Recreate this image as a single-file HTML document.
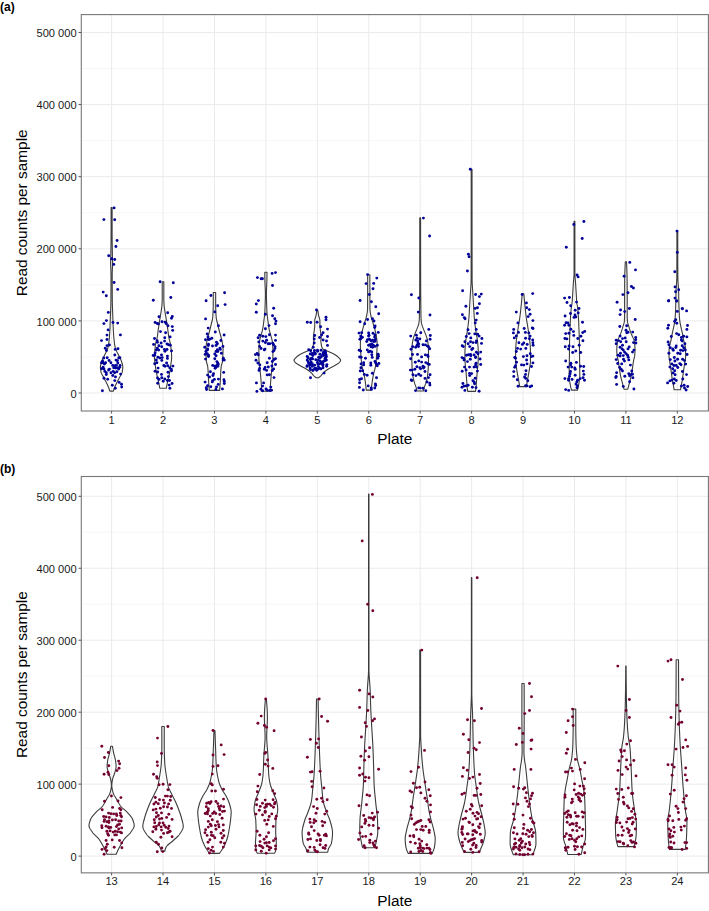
<!DOCTYPE html><html><head><meta charset="utf-8"><style>html,body{margin:0;padding:0;background:#fff;}svg{display:block;}text{font-family:"Liberation Sans",sans-serif;}</style></head><body>
<svg width="709" height="911" viewBox="0 0 709 911">
<rect width="709" height="911" fill="#fff"/>
<line x1="81.3" x2="708.4" y1="356.95" y2="356.95" stroke="#f5f5f5" stroke-width="0.8"/>
<line x1="81.3" x2="708.4" y1="284.85" y2="284.85" stroke="#f5f5f5" stroke-width="0.8"/>
<line x1="81.3" x2="708.4" y1="212.75" y2="212.75" stroke="#f5f5f5" stroke-width="0.8"/>
<line x1="81.3" x2="708.4" y1="140.65" y2="140.65" stroke="#f5f5f5" stroke-width="0.8"/>
<line x1="81.3" x2="708.4" y1="68.55" y2="68.55" stroke="#f5f5f5" stroke-width="0.8"/>
<line x1="81.3" x2="708.4" y1="393.00" y2="393.00" stroke="#ebebeb" stroke-width="1"/>
<line x1="81.3" x2="708.4" y1="320.90" y2="320.90" stroke="#ebebeb" stroke-width="1"/>
<line x1="81.3" x2="708.4" y1="248.80" y2="248.80" stroke="#ebebeb" stroke-width="1"/>
<line x1="81.3" x2="708.4" y1="176.70" y2="176.70" stroke="#ebebeb" stroke-width="1"/>
<line x1="81.3" x2="708.4" y1="104.60" y2="104.60" stroke="#ebebeb" stroke-width="1"/>
<line x1="81.3" x2="708.4" y1="32.50" y2="32.50" stroke="#ebebeb" stroke-width="1"/>
<line x1="111.60" x2="111.60" y1="14.6" y2="411.0" stroke="#ebebeb" stroke-width="1"/>
<line x1="163.03" x2="163.03" y1="14.6" y2="411.0" stroke="#ebebeb" stroke-width="1"/>
<line x1="214.46" x2="214.46" y1="14.6" y2="411.0" stroke="#ebebeb" stroke-width="1"/>
<line x1="265.89" x2="265.89" y1="14.6" y2="411.0" stroke="#ebebeb" stroke-width="1"/>
<line x1="317.32" x2="317.32" y1="14.6" y2="411.0" stroke="#ebebeb" stroke-width="1"/>
<line x1="368.75" x2="368.75" y1="14.6" y2="411.0" stroke="#ebebeb" stroke-width="1"/>
<line x1="420.18" x2="420.18" y1="14.6" y2="411.0" stroke="#ebebeb" stroke-width="1"/>
<line x1="471.61" x2="471.61" y1="14.6" y2="411.0" stroke="#ebebeb" stroke-width="1"/>
<line x1="523.04" x2="523.04" y1="14.6" y2="411.0" stroke="#ebebeb" stroke-width="1"/>
<line x1="574.47" x2="574.47" y1="14.6" y2="411.0" stroke="#ebebeb" stroke-width="1"/>
<line x1="625.90" x2="625.90" y1="14.6" y2="411.0" stroke="#ebebeb" stroke-width="1"/>
<line x1="677.33" x2="677.33" y1="14.6" y2="411.0" stroke="#ebebeb" stroke-width="1"/>
<path d="M111.10,207.50 L111.10,208.00 L111.10,208.50 L111.10,209.00 L111.10,209.50 L111.10,210.00 L111.10,210.50 L111.10,211.00 L111.10,211.50 L111.10,212.00 L111.10,212.50 L111.10,213.00 L111.10,213.50 L111.10,214.00 L111.10,214.50 L111.10,215.00 L111.10,215.50 L111.10,216.00 L111.10,216.50 L111.10,217.00 L111.10,217.50 L111.10,218.00 L111.10,218.50 L111.10,219.00 L111.10,219.50 L111.10,220.00 L111.10,220.50 L111.10,221.00 L111.10,221.50 L111.10,222.00 L111.10,222.50 L111.10,223.00 L111.10,223.50 L111.10,224.00 L111.10,224.50 L111.10,225.00 L111.10,225.50 L111.10,226.00 L111.10,226.50 L111.10,227.00 L111.10,227.50 L111.10,228.00 L111.10,228.50 L111.10,229.00 L111.10,229.50 L111.10,230.00 L111.10,230.50 L111.10,231.00 L111.10,231.50 L111.10,232.00 L111.10,232.50 L111.09,233.00 L111.09,233.50 L111.09,234.00 L111.09,234.50 L111.08,235.00 L111.08,235.50 L111.08,236.00 L111.07,236.50 L111.07,237.00 L111.06,237.50 L111.06,238.00 L111.05,238.50 L111.05,239.00 L111.04,239.50 L111.04,240.00 L111.03,240.50 L111.03,241.00 L111.02,241.50 L111.01,242.00 L111.01,242.50 L111.00,243.00 L110.99,243.50 L110.99,244.00 L110.98,244.50 L110.97,245.00 L110.96,245.50 L110.96,246.00 L110.95,246.50 L110.94,247.00 L110.93,247.50 L110.92,248.00 L110.92,248.50 L110.91,249.00 L110.90,249.50 L110.89,250.00 L110.88,250.50 L110.87,251.00 L110.86,251.50 L110.85,252.00 L110.85,252.50 L110.84,253.00 L110.83,253.50 L110.82,254.00 L110.81,254.50 L110.80,255.00 L110.79,255.50 L110.78,256.00 L110.76,256.50 L110.74,257.00 L110.72,257.50 L110.70,258.00 L110.68,258.50 L110.67,259.00 L110.65,259.50 L110.63,260.00 L110.62,260.50 L110.61,261.00 L110.60,261.50 L110.60,262.00 L110.60,262.50 L110.61,263.00 L110.61,263.50 L110.63,264.00 L110.64,264.50 L110.65,265.00 L110.67,265.50 L110.69,266.00 L110.71,266.50 L110.73,267.00 L110.75,267.50 L110.78,268.00 L110.80,268.50 L110.82,269.00 L110.85,269.50 L110.87,270.00 L110.89,270.50 L110.91,271.00 L110.93,271.50 L110.95,272.00 L110.96,272.50 L110.97,273.00 L110.99,273.50 L110.99,274.00 L111.00,274.50 L111.00,275.00 L111.00,275.50 L111.00,276.00 L111.00,276.50 L111.00,277.00 L111.00,277.50 L111.00,278.00 L111.00,278.50 L111.00,279.00 L111.00,279.50 L111.00,280.00 L110.99,280.50 L110.99,281.00 L110.99,281.50 L110.99,282.00 L110.99,282.50 L110.99,283.00 L110.99,283.50 L110.99,284.00 L110.98,284.50 L110.98,285.00 L110.98,285.50 L110.98,286.00 L110.98,286.50 L110.98,287.00 L110.97,287.50 L110.97,288.00 L110.97,288.50 L110.97,289.00 L110.96,289.50 L110.96,290.00 L110.96,290.50 L110.96,291.00 L110.95,291.50 L110.95,292.00 L110.95,292.50 L110.95,293.00 L110.94,293.50 L110.94,294.00 L110.94,294.50 L110.93,295.00 L110.93,295.50 L110.93,296.00 L110.92,296.50 L110.92,297.00 L110.92,297.50 L110.91,298.00 L110.91,298.50 L110.91,299.00 L110.90,299.50 L110.90,300.00 L110.90,300.50 L110.89,301.00 L110.88,301.50 L110.88,302.00 L110.87,302.50 L110.86,303.00 L110.85,303.50 L110.84,304.00 L110.82,304.50 L110.81,305.00 L110.80,305.50 L110.78,306.00 L110.77,306.50 L110.75,307.00 L110.73,307.50 L110.72,308.00 L110.70,308.50 L110.68,309.00 L110.66,309.50 L110.64,310.00 L110.63,310.50 L110.61,311.00 L110.59,311.50 L110.57,312.00 L110.55,312.50 L110.53,313.00 L110.51,313.50 L110.49,314.00 L110.47,314.50 L110.45,315.00 L110.44,315.50 L110.42,316.00 L110.40,316.50 L110.38,317.00 L110.36,317.50 L110.35,318.00 L110.33,318.50 L110.31,319.00 L110.30,319.50 L110.28,320.00 L110.26,320.50 L110.24,321.00 L110.22,321.50 L110.21,322.00 L110.19,322.50 L110.17,323.00 L110.15,323.50 L110.13,324.00 L110.11,324.50 L110.09,325.00 L110.07,325.50 L110.05,326.00 L110.03,326.50 L110.01,327.00 L109.99,327.50 L109.96,328.00 L109.94,328.50 L109.91,329.00 L109.89,329.50 L109.86,330.00 L109.84,330.50 L109.81,331.00 L109.78,331.50 L109.75,332.00 L109.72,332.50 L109.69,333.00 L109.66,333.50 L109.63,334.00 L109.60,334.50 L109.56,335.00 L109.53,335.50 L109.49,336.00 L109.45,336.50 L109.41,337.00 L109.37,337.50 L109.33,338.00 L109.28,338.50 L109.23,339.00 L109.18,339.50 L109.13,340.00 L109.08,340.50 L109.02,341.00 L108.97,341.50 L108.91,342.00 L108.84,342.50 L108.78,343.00 L108.71,343.50 L108.64,344.00 L108.56,344.50 L108.48,345.00 L108.40,345.50 L108.32,346.00 L108.22,346.50 L108.11,347.00 L107.97,347.50 L107.82,348.00 L107.65,348.50 L107.47,349.00 L107.29,349.50 L107.09,350.00 L106.90,350.50 L106.69,351.00 L106.46,351.50 L106.21,352.00 L105.96,352.50 L105.69,353.00 L105.42,353.50 L105.15,354.00 L104.90,354.50 L104.65,355.00 L104.41,355.50 L104.16,356.00 L103.91,356.50 L103.66,357.00 L103.41,357.50 L103.16,358.00 L102.92,358.50 L102.68,359.00 L102.46,359.50 L102.24,360.00 L102.05,360.50 L101.86,361.00 L101.70,361.50 L101.54,362.00 L101.38,362.50 L101.22,363.00 L101.06,363.50 L100.91,364.00 L100.77,364.50 L100.65,365.00 L100.55,365.50 L100.47,366.00 L100.42,366.50 L100.40,367.00 L100.41,367.50 L100.44,368.00 L100.48,368.50 L100.53,369.00 L100.59,369.50 L100.67,370.00 L100.75,370.50 L100.83,371.00 L100.92,371.50 L101.03,372.00 L101.18,372.50 L101.36,373.00 L101.56,373.50 L101.79,374.00 L102.03,374.50 L102.29,375.00 L102.57,375.50 L102.85,376.00 L103.14,376.50 L103.42,377.00 L103.71,377.50 L103.98,378.00 L104.25,378.50 L104.50,379.00 L104.75,379.50 L105.00,380.00 L105.26,380.50 L105.52,381.00 L105.78,381.50 L106.04,382.00 L106.30,382.50 L106.56,383.00 L106.81,383.50 L107.06,384.00 L107.30,384.50 L107.53,385.00 L107.76,385.50 L107.97,386.00 L108.18,386.50 L108.39,387.00 L108.59,387.50 L108.79,388.00 L108.98,388.50 L109.17,389.00 L109.35,389.50 L109.53,390.00 L109.70,390.50 L109.87,391.00 L109.90,391.10 L113.30,391.10 L113.33,391.00 L113.50,390.50 L113.67,390.00 L113.85,389.50 L114.03,389.00 L114.22,388.50 L114.41,388.00 L114.61,387.50 L114.81,387.00 L115.02,386.50 L115.23,386.00 L115.44,385.50 L115.67,385.00 L115.90,384.50 L116.14,384.00 L116.39,383.50 L116.64,383.00 L116.90,382.50 L117.16,382.00 L117.42,381.50 L117.68,381.00 L117.94,380.50 L118.20,380.00 L118.45,379.50 L118.70,379.00 L118.95,378.50 L119.22,378.00 L119.49,377.50 L119.78,377.00 L120.06,376.50 L120.35,376.00 L120.63,375.50 L120.91,375.00 L121.17,374.50 L121.41,374.00 L121.64,373.50 L121.84,373.00 L122.02,372.50 L122.17,372.00 L122.28,371.50 L122.37,371.00 L122.45,370.50 L122.53,370.00 L122.61,369.50 L122.67,369.00 L122.72,368.50 L122.76,368.00 L122.79,367.50 L122.80,367.00 L122.78,366.50 L122.73,366.00 L122.65,365.50 L122.55,365.00 L122.43,364.50 L122.29,364.00 L122.14,363.50 L121.98,363.00 L121.82,362.50 L121.66,362.00 L121.50,361.50 L121.34,361.00 L121.15,360.50 L120.96,360.00 L120.74,359.50 L120.52,359.00 L120.28,358.50 L120.04,358.00 L119.79,357.50 L119.54,357.00 L119.29,356.50 L119.04,356.00 L118.79,355.50 L118.55,355.00 L118.30,354.50 L118.05,354.00 L117.78,353.50 L117.51,353.00 L117.24,352.50 L116.99,352.00 L116.74,351.50 L116.51,351.00 L116.30,350.50 L116.11,350.00 L115.91,349.50 L115.73,349.00 L115.55,348.50 L115.38,348.00 L115.23,347.50 L115.09,347.00 L114.98,346.50 L114.88,346.00 L114.80,345.50 L114.72,345.00 L114.64,344.50 L114.56,344.00 L114.49,343.50 L114.42,343.00 L114.36,342.50 L114.29,342.00 L114.23,341.50 L114.18,341.00 L114.12,340.50 L114.07,340.00 L114.02,339.50 L113.97,339.00 L113.92,338.50 L113.87,338.00 L113.83,337.50 L113.79,337.00 L113.75,336.50 L113.71,336.00 L113.67,335.50 L113.64,335.00 L113.60,334.50 L113.57,334.00 L113.54,333.50 L113.51,333.00 L113.48,332.50 L113.45,332.00 L113.42,331.50 L113.39,331.00 L113.36,330.50 L113.34,330.00 L113.31,329.50 L113.29,329.00 L113.26,328.50 L113.24,328.00 L113.21,327.50 L113.19,327.00 L113.17,326.50 L113.15,326.00 L113.13,325.50 L113.11,325.00 L113.09,324.50 L113.07,324.00 L113.05,323.50 L113.03,323.00 L113.01,322.50 L112.99,322.00 L112.98,321.50 L112.96,321.00 L112.94,320.50 L112.92,320.00 L112.90,319.50 L112.89,319.00 L112.87,318.50 L112.85,318.00 L112.84,317.50 L112.82,317.00 L112.80,316.50 L112.78,316.00 L112.76,315.50 L112.75,315.00 L112.73,314.50 L112.71,314.00 L112.69,313.50 L112.67,313.00 L112.65,312.50 L112.63,312.00 L112.61,311.50 L112.59,311.00 L112.57,310.50 L112.56,310.00 L112.54,309.50 L112.52,309.00 L112.50,308.50 L112.48,308.00 L112.47,307.50 L112.45,307.00 L112.43,306.50 L112.42,306.00 L112.40,305.50 L112.39,305.00 L112.38,304.50 L112.36,304.00 L112.35,303.50 L112.34,303.00 L112.33,302.50 L112.32,302.00 L112.32,301.50 L112.31,301.00 L112.30,300.50 L112.30,300.00 L112.30,299.50 L112.29,299.00 L112.29,298.50 L112.29,298.00 L112.28,297.50 L112.28,297.00 L112.28,296.50 L112.27,296.00 L112.27,295.50 L112.27,295.00 L112.26,294.50 L112.26,294.00 L112.26,293.50 L112.25,293.00 L112.25,292.50 L112.25,292.00 L112.25,291.50 L112.24,291.00 L112.24,290.50 L112.24,290.00 L112.24,289.50 L112.23,289.00 L112.23,288.50 L112.23,288.00 L112.23,287.50 L112.22,287.00 L112.22,286.50 L112.22,286.00 L112.22,285.50 L112.22,285.00 L112.22,284.50 L112.21,284.00 L112.21,283.50 L112.21,283.00 L112.21,282.50 L112.21,282.00 L112.21,281.50 L112.21,281.00 L112.21,280.50 L112.20,280.00 L112.20,279.50 L112.20,279.00 L112.20,278.50 L112.20,278.00 L112.20,277.50 L112.20,277.00 L112.20,276.50 L112.20,276.00 L112.20,275.50 L112.20,275.00 L112.20,274.50 L112.21,274.00 L112.21,273.50 L112.23,273.00 L112.24,272.50 L112.25,272.00 L112.27,271.50 L112.29,271.00 L112.31,270.50 L112.33,270.00 L112.35,269.50 L112.38,269.00 L112.40,268.50 L112.42,268.00 L112.45,267.50 L112.47,267.00 L112.49,266.50 L112.51,266.00 L112.53,265.50 L112.55,265.00 L112.56,264.50 L112.57,264.00 L112.59,263.50 L112.59,263.00 L112.60,262.50 L112.60,262.00 L112.60,261.50 L112.59,261.00 L112.58,260.50 L112.57,260.00 L112.55,259.50 L112.53,259.00 L112.52,258.50 L112.50,258.00 L112.48,257.50 L112.46,257.00 L112.44,256.50 L112.42,256.00 L112.41,255.50 L112.40,255.00 L112.39,254.50 L112.38,254.00 L112.37,253.50 L112.36,253.00 L112.35,252.50 L112.35,252.00 L112.34,251.50 L112.33,251.00 L112.32,250.50 L112.31,250.00 L112.30,249.50 L112.29,249.00 L112.28,248.50 L112.28,248.00 L112.27,247.50 L112.26,247.00 L112.25,246.50 L112.24,246.00 L112.24,245.50 L112.23,245.00 L112.22,244.50 L112.21,244.00 L112.21,243.50 L112.20,243.00 L112.19,242.50 L112.19,242.00 L112.18,241.50 L112.17,241.00 L112.17,240.50 L112.16,240.00 L112.16,239.50 L112.15,239.00 L112.15,238.50 L112.14,238.00 L112.14,237.50 L112.13,237.00 L112.13,236.50 L112.12,236.00 L112.12,235.50 L112.12,235.00 L112.11,234.50 L112.11,234.00 L112.11,233.50 L112.11,233.00 L112.10,232.50 L112.10,232.00 L112.10,231.50 L112.10,231.00 L112.10,230.50 L112.10,230.00 L112.10,229.50 L112.10,229.00 L112.10,228.50 L112.10,228.00 L112.10,227.50 L112.10,227.00 L112.10,226.50 L112.10,226.00 L112.10,225.50 L112.10,225.00 L112.10,224.50 L112.10,224.00 L112.10,223.50 L112.10,223.00 L112.10,222.50 L112.10,222.00 L112.10,221.50 L112.10,221.00 L112.10,220.50 L112.10,220.00 L112.10,219.50 L112.10,219.00 L112.10,218.50 L112.10,218.00 L112.10,217.50 L112.10,217.00 L112.10,216.50 L112.10,216.00 L112.10,215.50 L112.10,215.00 L112.10,214.50 L112.10,214.00 L112.10,213.50 L112.10,213.00 L112.10,212.50 L112.10,212.00 L112.10,211.50 L112.10,211.00 L112.10,210.50 L112.10,210.00 L112.10,209.50 L112.10,209.00 L112.10,208.50 L112.10,208.00 L112.10,207.50 Z" fill="none" stroke="#3c3c3c" stroke-width="1.1" stroke-linejoin="round"/>
<path d="M162.23,281.70 L162.23,282.20 L162.23,282.70 L162.23,283.20 L162.23,283.70 L162.23,284.20 L162.23,284.70 L162.23,285.20 L162.23,285.70 L162.23,286.20 L162.23,286.70 L162.23,287.20 L162.23,287.70 L162.23,288.20 L162.23,288.70 L162.23,289.20 L162.23,289.70 L162.23,290.20 L162.23,290.70 L162.23,291.20 L162.23,291.70 L162.23,292.20 L162.23,292.70 L162.23,293.20 L162.23,293.70 L162.23,294.20 L162.23,294.70 L162.23,295.20 L162.23,295.70 L162.23,296.20 L162.23,296.70 L162.23,297.20 L162.23,297.70 L162.23,298.20 L162.23,298.70 L162.22,299.20 L162.21,299.70 L162.20,300.20 L162.18,300.70 L162.17,301.20 L162.15,301.70 L162.13,302.20 L162.11,302.70 L162.08,303.20 L162.06,303.70 L162.03,304.20 L162.01,304.70 L161.97,305.20 L161.93,305.70 L161.88,306.20 L161.82,306.70 L161.76,307.20 L161.70,307.70 L161.63,308.20 L161.56,308.70 L161.49,309.20 L161.42,309.70 L161.34,310.20 L161.27,310.70 L161.20,311.20 L161.13,311.70 L161.05,312.20 L160.97,312.70 L160.88,313.20 L160.80,313.70 L160.71,314.20 L160.62,314.70 L160.53,315.20 L160.44,315.70 L160.35,316.20 L160.26,316.70 L160.18,317.20 L160.10,317.70 L160.02,318.20 L159.93,318.70 L159.85,319.20 L159.77,319.70 L159.69,320.20 L159.61,320.70 L159.53,321.20 L159.45,321.70 L159.37,322.20 L159.29,322.70 L159.22,323.20 L159.14,323.70 L159.06,324.20 L158.99,324.70 L158.92,325.20 L158.84,325.70 L158.77,326.20 L158.70,326.70 L158.62,327.20 L158.55,327.70 L158.48,328.20 L158.41,328.70 L158.34,329.20 L158.27,329.70 L158.20,330.20 L158.13,330.70 L158.06,331.20 L158.00,331.70 L157.93,332.20 L157.87,332.70 L157.80,333.20 L157.74,333.70 L157.68,334.20 L157.61,334.70 L157.55,335.20 L157.48,335.70 L157.40,336.20 L157.33,336.70 L157.25,337.20 L157.16,337.70 L157.06,338.20 L156.95,338.70 L156.83,339.20 L156.71,339.70 L156.58,340.20 L156.45,340.70 L156.32,341.20 L156.19,341.70 L156.06,342.20 L155.93,342.70 L155.81,343.20 L155.69,343.70 L155.59,344.20 L155.49,344.70 L155.41,345.20 L155.34,345.70 L155.28,346.20 L155.23,346.70 L155.17,347.20 L155.11,347.70 L155.06,348.20 L155.00,348.70 L154.95,349.20 L154.90,349.70 L154.85,350.20 L154.80,350.70 L154.75,351.20 L154.71,351.70 L154.67,352.20 L154.63,352.70 L154.59,353.20 L154.56,353.70 L154.53,354.20 L154.50,354.70 L154.48,355.20 L154.46,355.70 L154.45,356.20 L154.44,356.70 L154.43,357.20 L154.43,357.70 L154.44,358.20 L154.47,358.70 L154.50,359.20 L154.55,359.70 L154.61,360.20 L154.67,360.70 L154.74,361.20 L154.81,361.70 L154.88,362.20 L154.95,362.70 L155.02,363.20 L155.09,363.70 L155.15,364.20 L155.22,364.70 L155.28,365.20 L155.34,365.70 L155.40,366.20 L155.47,366.70 L155.54,367.20 L155.60,367.70 L155.67,368.20 L155.74,368.70 L155.81,369.20 L155.89,369.70 L155.97,370.20 L156.05,370.70 L156.13,371.20 L156.21,371.70 L156.30,372.20 L156.40,372.70 L156.50,373.20 L156.61,373.70 L156.72,374.20 L156.84,374.70 L156.95,375.20 L157.08,375.70 L157.20,376.20 L157.32,376.70 L157.44,377.20 L157.57,377.70 L157.69,378.20 L157.80,378.70 L157.92,379.20 L158.03,379.70 L158.14,380.20 L158.25,380.70 L158.35,381.20 L158.46,381.70 L158.57,382.20 L158.67,382.70 L158.78,383.20 L158.88,383.70 L158.98,384.20 L159.08,384.70 L159.18,385.20 L159.28,385.70 L159.37,386.20 L159.47,386.70 L159.56,387.20 L159.64,387.70 L159.73,388.20 L166.33,388.20 L166.42,387.70 L166.50,387.20 L166.59,386.70 L166.69,386.20 L166.78,385.70 L166.88,385.20 L166.98,384.70 L167.08,384.20 L167.18,383.70 L167.28,383.20 L167.39,382.70 L167.49,382.20 L167.60,381.70 L167.71,381.20 L167.81,380.70 L167.92,380.20 L168.03,379.70 L168.14,379.20 L168.26,378.70 L168.37,378.20 L168.49,377.70 L168.62,377.20 L168.74,376.70 L168.86,376.20 L168.98,375.70 L169.11,375.20 L169.22,374.70 L169.34,374.20 L169.45,373.70 L169.56,373.20 L169.66,372.70 L169.76,372.20 L169.85,371.70 L169.93,371.20 L170.01,370.70 L170.09,370.20 L170.17,369.70 L170.25,369.20 L170.32,368.70 L170.39,368.20 L170.46,367.70 L170.52,367.20 L170.59,366.70 L170.66,366.20 L170.72,365.70 L170.78,365.20 L170.84,364.70 L170.91,364.20 L170.97,363.70 L171.04,363.20 L171.11,362.70 L171.18,362.20 L171.25,361.70 L171.32,361.20 L171.39,360.70 L171.45,360.20 L171.51,359.70 L171.56,359.20 L171.59,358.70 L171.62,358.20 L171.63,357.70 L171.63,357.20 L171.62,356.70 L171.61,356.20 L171.60,355.70 L171.58,355.20 L171.56,354.70 L171.53,354.20 L171.50,353.70 L171.47,353.20 L171.43,352.70 L171.39,352.20 L171.35,351.70 L171.31,351.20 L171.26,350.70 L171.21,350.20 L171.16,349.70 L171.11,349.20 L171.06,348.70 L171.00,348.20 L170.95,347.70 L170.89,347.20 L170.83,346.70 L170.78,346.20 L170.72,345.70 L170.65,345.20 L170.57,344.70 L170.47,344.20 L170.37,343.70 L170.25,343.20 L170.13,342.70 L170.00,342.20 L169.87,341.70 L169.74,341.20 L169.61,340.70 L169.48,340.20 L169.35,339.70 L169.23,339.20 L169.11,338.70 L169.00,338.20 L168.90,337.70 L168.81,337.20 L168.73,336.70 L168.66,336.20 L168.58,335.70 L168.51,335.20 L168.45,334.70 L168.38,334.20 L168.32,333.70 L168.26,333.20 L168.19,332.70 L168.13,332.20 L168.06,331.70 L168.00,331.20 L167.93,330.70 L167.86,330.20 L167.79,329.70 L167.72,329.20 L167.65,328.70 L167.58,328.20 L167.51,327.70 L167.44,327.20 L167.36,326.70 L167.29,326.20 L167.22,325.70 L167.14,325.20 L167.07,324.70 L167.00,324.20 L166.92,323.70 L166.84,323.20 L166.77,322.70 L166.69,322.20 L166.61,321.70 L166.53,321.20 L166.45,320.70 L166.37,320.20 L166.29,319.70 L166.21,319.20 L166.13,318.70 L166.04,318.20 L165.96,317.70 L165.88,317.20 L165.80,316.70 L165.71,316.20 L165.62,315.70 L165.53,315.20 L165.44,314.70 L165.35,314.20 L165.26,313.70 L165.18,313.20 L165.09,312.70 L165.01,312.20 L164.93,311.70 L164.86,311.20 L164.79,310.70 L164.72,310.20 L164.64,309.70 L164.57,309.20 L164.50,308.70 L164.43,308.20 L164.36,307.70 L164.30,307.20 L164.24,306.70 L164.18,306.20 L164.13,305.70 L164.09,305.20 L164.05,304.70 L164.03,304.20 L164.00,303.70 L163.98,303.20 L163.95,302.70 L163.93,302.20 L163.91,301.70 L163.89,301.20 L163.88,300.70 L163.86,300.20 L163.85,299.70 L163.84,299.20 L163.83,298.70 L163.83,298.20 L163.83,297.70 L163.83,297.20 L163.83,296.70 L163.83,296.20 L163.83,295.70 L163.83,295.20 L163.83,294.70 L163.83,294.20 L163.83,293.70 L163.83,293.20 L163.83,292.70 L163.83,292.20 L163.83,291.70 L163.83,291.20 L163.83,290.70 L163.83,290.20 L163.83,289.70 L163.83,289.20 L163.83,288.70 L163.83,288.20 L163.83,287.70 L163.83,287.20 L163.83,286.70 L163.83,286.20 L163.83,285.70 L163.83,285.20 L163.83,284.70 L163.83,284.20 L163.83,283.70 L163.83,283.20 L163.83,282.70 L163.83,282.20 L163.83,281.70 Z" fill="none" stroke="#3c3c3c" stroke-width="1.1" stroke-linejoin="round"/>
<path d="M213.26,292.50 L213.26,293.00 L213.26,293.50 L213.26,294.00 L213.26,294.50 L213.26,295.00 L213.26,295.50 L213.26,296.00 L213.26,296.50 L213.26,297.00 L213.26,297.50 L213.26,298.00 L213.26,298.50 L213.26,299.00 L213.26,299.50 L213.26,300.00 L213.26,300.50 L213.26,301.00 L213.26,301.50 L213.26,302.00 L213.26,302.50 L213.26,303.00 L213.26,303.50 L213.26,304.00 L213.26,304.50 L213.26,305.00 L213.26,305.50 L213.25,306.00 L213.25,306.50 L213.24,307.00 L213.22,307.50 L213.21,308.00 L213.20,308.50 L213.18,309.00 L213.16,309.50 L213.14,310.00 L213.12,310.50 L213.10,311.00 L213.08,311.50 L213.06,312.00 L213.04,312.50 L213.02,313.00 L212.99,313.50 L212.97,314.00 L212.94,314.50 L212.91,315.00 L212.87,315.50 L212.84,316.00 L212.80,316.50 L212.76,317.00 L212.71,317.50 L212.66,318.00 L212.60,318.50 L212.52,319.00 L212.43,319.50 L212.32,320.00 L212.21,320.50 L212.08,321.00 L211.95,321.50 L211.82,322.00 L211.68,322.50 L211.55,323.00 L211.41,323.50 L211.28,324.00 L211.16,324.50 L211.04,325.00 L210.92,325.50 L210.81,326.00 L210.69,326.50 L210.57,327.00 L210.45,327.50 L210.33,328.00 L210.21,328.50 L210.09,329.00 L209.96,329.50 L209.84,330.00 L209.71,330.50 L209.59,331.00 L209.46,331.50 L209.32,332.00 L209.18,332.50 L209.04,333.00 L208.90,333.50 L208.76,334.00 L208.62,334.50 L208.47,335.00 L208.33,335.50 L208.20,336.00 L208.06,336.50 L207.93,337.00 L207.81,337.50 L207.69,338.00 L207.57,338.50 L207.45,339.00 L207.33,339.50 L207.21,340.00 L207.09,340.50 L206.98,341.00 L206.87,341.50 L206.76,342.00 L206.66,342.50 L206.57,343.00 L206.48,343.50 L206.40,344.00 L206.33,344.50 L206.26,345.00 L206.18,345.50 L206.11,346.00 L206.04,346.50 L205.98,347.00 L205.93,347.50 L205.89,348.00 L205.87,348.50 L205.86,349.00 L205.86,349.50 L205.87,350.00 L205.88,350.50 L205.89,351.00 L205.91,351.50 L205.93,352.00 L205.95,352.50 L205.97,353.00 L205.99,353.50 L206.02,354.00 L206.04,354.50 L206.06,355.00 L206.08,355.50 L206.10,356.00 L206.12,356.50 L206.15,357.00 L206.17,357.50 L206.19,358.00 L206.22,358.50 L206.25,359.00 L206.28,359.50 L206.32,360.00 L206.36,360.50 L206.40,361.00 L206.45,361.50 L206.52,362.00 L206.62,362.50 L206.76,363.00 L206.91,363.50 L207.08,364.00 L207.24,364.50 L207.39,365.00 L207.53,365.50 L207.63,366.00 L207.70,366.50 L207.76,367.00 L207.81,367.50 L207.87,368.00 L207.91,368.50 L207.96,369.00 L208.00,369.50 L208.03,370.00 L208.07,370.50 L208.10,371.00 L208.13,371.50 L208.16,372.00 L208.19,372.50 L208.21,373.00 L208.24,373.50 L208.26,374.00 L208.28,374.50 L208.30,375.00 L208.32,375.50 L208.33,376.00 L208.35,376.50 L208.37,377.00 L208.39,377.50 L208.42,378.00 L208.44,378.50 L208.47,379.00 L208.49,379.50 L208.52,380.00 L208.56,380.50 L208.59,381.00 L208.62,381.50 L208.66,382.00 L208.70,382.50 L208.73,383.00 L208.77,383.50 L208.81,384.00 L208.85,384.50 L208.89,385.00 L208.92,385.50 L208.96,386.00 L209.00,386.50 L209.03,387.00 L209.07,387.50 L209.10,388.00 L209.13,388.50 L209.17,389.00 L209.20,389.50 L209.23,390.00 L209.26,390.40 L219.66,390.40 L219.69,390.00 L219.72,389.50 L219.75,389.00 L219.79,388.50 L219.82,388.00 L219.85,387.50 L219.89,387.00 L219.92,386.50 L219.96,386.00 L220.00,385.50 L220.03,385.00 L220.07,384.50 L220.11,384.00 L220.15,383.50 L220.19,383.00 L220.22,382.50 L220.26,382.00 L220.30,381.50 L220.33,381.00 L220.36,380.50 L220.40,380.00 L220.43,379.50 L220.45,379.00 L220.48,378.50 L220.50,378.00 L220.53,377.50 L220.55,377.00 L220.57,376.50 L220.59,376.00 L220.60,375.50 L220.62,375.00 L220.64,374.50 L220.66,374.00 L220.68,373.50 L220.71,373.00 L220.73,372.50 L220.76,372.00 L220.79,371.50 L220.82,371.00 L220.85,370.50 L220.89,370.00 L220.92,369.50 L220.96,369.00 L221.01,368.50 L221.05,368.00 L221.11,367.50 L221.16,367.00 L221.22,366.50 L221.29,366.00 L221.39,365.50 L221.53,365.00 L221.68,364.50 L221.84,364.00 L222.01,363.50 L222.16,363.00 L222.30,362.50 L222.40,362.00 L222.47,361.50 L222.52,361.00 L222.56,360.50 L222.60,360.00 L222.64,359.50 L222.67,359.00 L222.70,358.50 L222.73,358.00 L222.75,357.50 L222.77,357.00 L222.80,356.50 L222.82,356.00 L222.84,355.50 L222.86,355.00 L222.88,354.50 L222.90,354.00 L222.93,353.50 L222.95,353.00 L222.97,352.50 L222.99,352.00 L223.01,351.50 L223.03,351.00 L223.04,350.50 L223.05,350.00 L223.06,349.50 L223.06,349.00 L223.05,348.50 L223.03,348.00 L222.99,347.50 L222.94,347.00 L222.88,346.50 L222.81,346.00 L222.74,345.50 L222.66,345.00 L222.59,344.50 L222.52,344.00 L222.44,343.50 L222.35,343.00 L222.26,342.50 L222.16,342.00 L222.05,341.50 L221.94,341.00 L221.83,340.50 L221.71,340.00 L221.59,339.50 L221.47,339.00 L221.35,338.50 L221.23,338.00 L221.11,337.50 L220.99,337.00 L220.86,336.50 L220.72,336.00 L220.59,335.50 L220.45,335.00 L220.30,334.50 L220.16,334.00 L220.02,333.50 L219.88,333.00 L219.74,332.50 L219.60,332.00 L219.46,331.50 L219.33,331.00 L219.21,330.50 L219.08,330.00 L218.96,329.50 L218.83,329.00 L218.71,328.50 L218.59,328.00 L218.47,327.50 L218.35,327.00 L218.23,326.50 L218.11,326.00 L218.00,325.50 L217.88,325.00 L217.76,324.50 L217.64,324.00 L217.51,323.50 L217.37,323.00 L217.24,322.50 L217.10,322.00 L216.97,321.50 L216.84,321.00 L216.71,320.50 L216.60,320.00 L216.49,319.50 L216.40,319.00 L216.32,318.50 L216.26,318.00 L216.21,317.50 L216.16,317.00 L216.12,316.50 L216.08,316.00 L216.05,315.50 L216.01,315.00 L215.98,314.50 L215.95,314.00 L215.93,313.50 L215.90,313.00 L215.88,312.50 L215.86,312.00 L215.84,311.50 L215.82,311.00 L215.80,310.50 L215.78,310.00 L215.76,309.50 L215.74,309.00 L215.72,308.50 L215.71,308.00 L215.70,307.50 L215.68,307.00 L215.67,306.50 L215.67,306.00 L215.66,305.50 L215.66,305.00 L215.66,304.50 L215.66,304.00 L215.66,303.50 L215.66,303.00 L215.66,302.50 L215.66,302.00 L215.66,301.50 L215.66,301.00 L215.66,300.50 L215.66,300.00 L215.66,299.50 L215.66,299.00 L215.66,298.50 L215.66,298.00 L215.66,297.50 L215.66,297.00 L215.66,296.50 L215.66,296.00 L215.66,295.50 L215.66,295.00 L215.66,294.50 L215.66,294.00 L215.66,293.50 L215.66,293.00 L215.66,292.50 Z" fill="none" stroke="#3c3c3c" stroke-width="1.1" stroke-linejoin="round"/>
<path d="M264.79,272.30 L264.79,272.80 L264.80,273.30 L264.80,273.80 L264.81,274.30 L264.81,274.80 L264.82,275.30 L264.82,275.80 L264.83,276.30 L264.84,276.80 L264.84,277.30 L264.85,277.80 L264.86,278.30 L264.87,278.80 L264.88,279.30 L264.89,279.80 L264.90,280.30 L264.91,280.80 L264.92,281.30 L264.94,281.80 L264.95,282.30 L264.97,282.80 L264.99,283.30 L265.01,283.80 L265.04,284.30 L265.06,284.80 L265.08,285.30 L265.11,285.80 L265.13,286.30 L265.16,286.80 L265.18,287.30 L265.20,287.80 L265.23,288.30 L265.25,288.80 L265.27,289.30 L265.29,289.80 L265.31,290.30 L265.33,290.80 L265.34,291.30 L265.36,291.80 L265.37,292.30 L265.38,292.80 L265.38,293.30 L265.39,293.80 L265.39,294.30 L265.39,294.80 L265.39,295.30 L265.38,295.80 L265.37,296.30 L265.36,296.80 L265.35,297.30 L265.34,297.80 L265.33,298.30 L265.32,298.80 L265.30,299.30 L265.29,299.80 L265.27,300.30 L265.26,300.80 L265.24,301.30 L265.23,301.80 L265.21,302.30 L265.20,302.80 L265.18,303.30 L265.17,303.80 L265.15,304.30 L265.14,304.80 L265.12,305.30 L265.10,305.80 L265.09,306.30 L265.07,306.80 L265.05,307.30 L265.03,307.80 L265.01,308.30 L264.99,308.80 L264.97,309.30 L264.95,309.80 L264.93,310.30 L264.90,310.80 L264.87,311.30 L264.85,311.80 L264.82,312.30 L264.78,312.80 L264.74,313.30 L264.70,313.80 L264.65,314.30 L264.60,314.80 L264.55,315.30 L264.49,315.80 L264.43,316.30 L264.37,316.80 L264.31,317.30 L264.25,317.80 L264.18,318.30 L264.12,318.80 L264.06,319.30 L263.99,319.80 L263.93,320.30 L263.86,320.80 L263.80,321.30 L263.74,321.80 L263.68,322.30 L263.61,322.80 L263.55,323.30 L263.48,323.80 L263.41,324.30 L263.35,324.80 L263.28,325.30 L263.20,325.80 L263.13,326.30 L263.05,326.80 L262.97,327.30 L262.88,327.80 L262.80,328.30 L262.70,328.80 L262.61,329.30 L262.51,329.80 L262.39,330.30 L262.26,330.80 L262.12,331.30 L261.98,331.80 L261.83,332.30 L261.70,332.80 L261.56,333.30 L261.43,333.80 L261.29,334.30 L261.15,334.80 L261.01,335.30 L260.86,335.80 L260.71,336.30 L260.57,336.80 L260.43,337.30 L260.29,337.80 L260.15,338.30 L260.03,338.80 L259.91,339.30 L259.80,339.80 L259.70,340.30 L259.61,340.80 L259.54,341.30 L259.48,341.80 L259.42,342.30 L259.37,342.80 L259.32,343.30 L259.27,343.80 L259.22,344.30 L259.17,344.80 L259.13,345.30 L259.09,345.80 L259.05,346.30 L259.01,346.80 L258.98,347.30 L258.95,347.80 L258.93,348.30 L258.91,348.80 L258.90,349.30 L258.89,349.80 L258.89,350.30 L258.89,350.80 L258.89,351.30 L258.89,351.80 L258.89,352.30 L258.89,352.80 L258.89,353.30 L258.89,353.80 L258.89,354.30 L258.89,354.80 L258.89,355.30 L258.89,355.80 L258.89,356.30 L258.89,356.80 L258.89,357.30 L258.89,357.80 L258.89,358.30 L258.89,358.80 L258.91,359.30 L258.95,359.80 L259.00,360.30 L259.07,360.80 L259.14,361.30 L259.21,361.80 L259.28,362.30 L259.35,362.80 L259.40,363.30 L259.45,363.80 L259.50,364.30 L259.55,364.80 L259.60,365.30 L259.64,365.80 L259.69,366.30 L259.74,366.80 L259.78,367.30 L259.83,367.80 L259.88,368.30 L259.92,368.80 L259.97,369.30 L260.01,369.80 L260.06,370.30 L260.11,370.80 L260.15,371.30 L260.20,371.80 L260.25,372.30 L260.30,372.80 L260.35,373.30 L260.40,373.80 L260.45,374.30 L260.50,374.80 L260.55,375.30 L260.60,375.80 L260.65,376.30 L260.70,376.80 L260.74,377.30 L260.79,377.80 L260.84,378.30 L260.88,378.80 L260.92,379.30 L260.96,379.80 L261.00,380.30 L261.04,380.80 L261.07,381.30 L261.11,381.80 L261.15,382.30 L261.19,382.80 L261.23,383.30 L261.27,383.80 L261.31,384.30 L261.34,384.80 L261.38,385.30 L261.41,385.80 L261.43,386.30 L261.45,386.80 L261.47,387.30 L261.48,387.80 L261.49,388.30 L261.49,388.80 L261.47,389.30 L261.43,389.80 L261.39,390.30 L261.33,390.80 L261.29,391.20 L270.49,391.20 L270.45,390.80 L270.39,390.30 L270.35,389.80 L270.31,389.30 L270.29,388.80 L270.29,388.30 L270.30,387.80 L270.31,387.30 L270.33,386.80 L270.35,386.30 L270.37,385.80 L270.40,385.30 L270.44,384.80 L270.47,384.30 L270.51,383.80 L270.55,383.30 L270.59,382.80 L270.63,382.30 L270.67,381.80 L270.71,381.30 L270.74,380.80 L270.78,380.30 L270.82,379.80 L270.86,379.30 L270.90,378.80 L270.94,378.30 L270.99,377.80 L271.04,377.30 L271.08,376.80 L271.13,376.30 L271.18,375.80 L271.23,375.30 L271.28,374.80 L271.33,374.30 L271.38,373.80 L271.43,373.30 L271.48,372.80 L271.53,372.30 L271.58,371.80 L271.63,371.30 L271.67,370.80 L271.72,370.30 L271.77,369.80 L271.81,369.30 L271.86,368.80 L271.90,368.30 L271.95,367.80 L272.00,367.30 L272.04,366.80 L272.09,366.30 L272.14,365.80 L272.18,365.30 L272.23,364.80 L272.28,364.30 L272.33,363.80 L272.38,363.30 L272.43,362.80 L272.50,362.30 L272.57,361.80 L272.64,361.30 L272.71,360.80 L272.78,360.30 L272.83,359.80 L272.87,359.30 L272.89,358.80 L272.89,358.30 L272.89,357.80 L272.89,357.30 L272.89,356.80 L272.89,356.30 L272.89,355.80 L272.89,355.30 L272.89,354.80 L272.89,354.30 L272.89,353.80 L272.89,353.30 L272.89,352.80 L272.89,352.30 L272.89,351.80 L272.89,351.30 L272.89,350.80 L272.89,350.30 L272.89,349.80 L272.88,349.30 L272.87,348.80 L272.85,348.30 L272.83,347.80 L272.80,347.30 L272.77,346.80 L272.73,346.30 L272.69,345.80 L272.65,345.30 L272.61,344.80 L272.56,344.30 L272.51,343.80 L272.46,343.30 L272.41,342.80 L272.36,342.30 L272.30,341.80 L272.24,341.30 L272.17,340.80 L272.08,340.30 L271.98,339.80 L271.87,339.30 L271.75,338.80 L271.63,338.30 L271.49,337.80 L271.35,337.30 L271.21,336.80 L271.07,336.30 L270.92,335.80 L270.77,335.30 L270.63,334.80 L270.49,334.30 L270.35,333.80 L270.22,333.30 L270.08,332.80 L269.95,332.30 L269.80,331.80 L269.66,331.30 L269.52,330.80 L269.39,330.30 L269.27,329.80 L269.17,329.30 L269.08,328.80 L268.98,328.30 L268.90,327.80 L268.81,327.30 L268.73,326.80 L268.65,326.30 L268.58,325.80 L268.50,325.30 L268.43,324.80 L268.37,324.30 L268.30,323.80 L268.23,323.30 L268.17,322.80 L268.10,322.30 L268.04,321.80 L267.98,321.30 L267.92,320.80 L267.85,320.30 L267.79,319.80 L267.72,319.30 L267.66,318.80 L267.60,318.30 L267.53,317.80 L267.47,317.30 L267.41,316.80 L267.35,316.30 L267.29,315.80 L267.23,315.30 L267.18,314.80 L267.13,314.30 L267.08,313.80 L267.04,313.30 L267.00,312.80 L266.96,312.30 L266.93,311.80 L266.91,311.30 L266.88,310.80 L266.85,310.30 L266.83,309.80 L266.81,309.30 L266.79,308.80 L266.77,308.30 L266.75,307.80 L266.73,307.30 L266.71,306.80 L266.69,306.30 L266.68,305.80 L266.66,305.30 L266.64,304.80 L266.63,304.30 L266.61,303.80 L266.60,303.30 L266.58,302.80 L266.57,302.30 L266.55,301.80 L266.54,301.30 L266.52,300.80 L266.51,300.30 L266.49,299.80 L266.48,299.30 L266.46,298.80 L266.45,298.30 L266.44,297.80 L266.43,297.30 L266.42,296.80 L266.41,296.30 L266.40,295.80 L266.39,295.30 L266.39,294.80 L266.39,294.30 L266.39,293.80 L266.40,293.30 L266.40,292.80 L266.41,292.30 L266.42,291.80 L266.44,291.30 L266.45,290.80 L266.47,290.30 L266.49,289.80 L266.51,289.30 L266.53,288.80 L266.55,288.30 L266.58,287.80 L266.60,287.30 L266.62,286.80 L266.65,286.30 L266.67,285.80 L266.70,285.30 L266.72,284.80 L266.74,284.30 L266.77,283.80 L266.79,283.30 L266.81,282.80 L266.83,282.30 L266.84,281.80 L266.86,281.30 L266.87,280.80 L266.88,280.30 L266.89,279.80 L266.90,279.30 L266.91,278.80 L266.92,278.30 L266.93,277.80 L266.94,277.30 L266.94,276.80 L266.95,276.30 L266.96,275.80 L266.96,275.30 L266.97,274.80 L266.97,274.30 L266.98,273.80 L266.98,273.30 L266.99,272.80 L266.99,272.30 Z" fill="none" stroke="#3c3c3c" stroke-width="1.1" stroke-linejoin="round"/>
<path d="M316.82,310.30 L316.76,310.80 L316.69,311.30 L316.62,311.80 L316.54,312.30 L316.46,312.80 L316.38,313.30 L316.29,313.80 L316.20,314.30 L316.11,314.80 L316.02,315.30 L315.92,315.80 L315.81,316.30 L315.67,316.80 L315.51,317.30 L315.35,317.80 L315.18,318.30 L315.03,318.80 L314.90,319.30 L314.80,319.80 L314.74,320.30 L314.72,320.80 L314.72,321.30 L314.72,321.80 L314.72,322.30 L314.72,322.80 L314.72,323.30 L314.72,323.80 L314.72,324.30 L314.72,324.80 L314.72,325.30 L314.72,325.80 L314.71,326.30 L314.68,326.80 L314.64,327.30 L314.60,327.80 L314.54,328.30 L314.48,328.80 L314.41,329.30 L314.34,329.80 L314.26,330.30 L314.19,330.80 L314.11,331.30 L314.04,331.80 L313.97,332.30 L313.90,332.80 L313.84,333.30 L313.79,333.80 L313.72,334.30 L313.66,334.80 L313.59,335.30 L313.53,335.80 L313.48,336.30 L313.44,336.80 L313.42,337.30 L313.43,337.80 L313.49,338.30 L313.58,338.80 L313.68,339.30 L313.76,339.80 L313.81,340.30 L313.81,340.80 L313.79,341.30 L313.74,341.80 L313.68,342.30 L313.60,342.80 L313.53,343.30 L313.46,343.80 L313.38,344.30 L313.31,344.80 L313.22,345.30 L313.12,345.80 L313.01,346.30 L312.88,346.80 L312.72,347.30 L312.50,347.80 L312.19,348.30 L311.78,348.80 L311.29,349.30 L310.63,349.80 L309.56,350.30 L308.25,350.80 L306.89,351.30 L305.70,351.80 L304.58,352.30 L303.47,352.80 L302.38,353.30 L301.35,353.80 L300.40,354.30 L299.56,354.80 L298.79,355.30 L298.06,355.80 L297.38,356.30 L296.76,356.80 L296.21,357.30 L295.73,357.80 L295.23,358.30 L294.75,358.80 L294.36,359.30 L294.09,359.80 L294.02,360.30 L294.16,360.80 L294.44,361.30 L294.82,361.80 L295.26,362.30 L295.71,362.80 L296.27,363.30 L296.95,363.80 L297.72,364.30 L298.55,364.80 L299.40,365.30 L300.24,365.80 L301.11,366.30 L302.05,366.80 L303.03,367.30 L304.01,367.80 L304.96,368.30 L305.86,368.80 L306.67,369.30 L307.42,369.80 L308.14,370.30 L308.83,370.80 L309.50,371.30 L310.12,371.80 L310.71,372.30 L311.26,372.80 L311.76,373.30 L312.20,373.80 L312.59,374.30 L312.98,374.80 L313.38,375.30 L313.82,375.80 L314.34,376.30 L314.92,376.80 L315.55,377.30 L316.22,377.80 L318.42,377.80 L319.09,377.30 L319.72,376.80 L320.30,376.30 L320.82,375.80 L321.26,375.30 L321.66,374.80 L322.05,374.30 L322.44,373.80 L322.88,373.30 L323.38,372.80 L323.93,372.30 L324.52,371.80 L325.14,371.30 L325.81,370.80 L326.50,370.30 L327.22,369.80 L327.97,369.30 L328.78,368.80 L329.68,368.30 L330.63,367.80 L331.61,367.30 L332.59,366.80 L333.53,366.30 L334.40,365.80 L335.24,365.30 L336.09,364.80 L336.92,364.30 L337.69,363.80 L338.37,363.30 L338.93,362.80 L339.38,362.30 L339.82,361.80 L340.20,361.30 L340.48,360.80 L340.62,360.30 L340.55,359.80 L340.28,359.30 L339.89,358.80 L339.41,358.30 L338.91,357.80 L338.43,357.30 L337.88,356.80 L337.26,356.30 L336.58,355.80 L335.85,355.30 L335.08,354.80 L334.24,354.30 L333.29,353.80 L332.26,353.30 L331.17,352.80 L330.06,352.30 L328.94,351.80 L327.75,351.30 L326.39,350.80 L325.08,350.30 L324.01,349.80 L323.35,349.30 L322.86,348.80 L322.45,348.30 L322.14,347.80 L321.92,347.30 L321.76,346.80 L321.63,346.30 L321.52,345.80 L321.42,345.30 L321.33,344.80 L321.26,344.30 L321.18,343.80 L321.11,343.30 L321.04,342.80 L320.96,342.30 L320.90,341.80 L320.85,341.30 L320.83,340.80 L320.83,340.30 L320.88,339.80 L320.96,339.30 L321.06,338.80 L321.15,338.30 L321.21,337.80 L321.22,337.30 L321.20,336.80 L321.16,336.30 L321.11,335.80 L321.05,335.30 L320.98,334.80 L320.92,334.30 L320.85,333.80 L320.80,333.30 L320.74,332.80 L320.67,332.30 L320.60,331.80 L320.53,331.30 L320.45,330.80 L320.38,330.30 L320.30,329.80 L320.23,329.30 L320.16,328.80 L320.10,328.30 L320.04,327.80 L320.00,327.30 L319.96,326.80 L319.93,326.30 L319.92,325.80 L319.92,325.30 L319.92,324.80 L319.92,324.30 L319.92,323.80 L319.92,323.30 L319.92,322.80 L319.92,322.30 L319.92,321.80 L319.92,321.30 L319.92,320.80 L319.90,320.30 L319.84,319.80 L319.74,319.30 L319.61,318.80 L319.46,318.30 L319.29,317.80 L319.13,317.30 L318.97,316.80 L318.83,316.30 L318.72,315.80 L318.62,315.30 L318.53,314.80 L318.44,314.30 L318.35,313.80 L318.26,313.30 L318.18,312.80 L318.10,312.30 L318.02,311.80 L317.95,311.30 L317.88,310.80 L317.82,310.30 Z" fill="none" stroke="#3c3c3c" stroke-width="1.1" stroke-linejoin="round"/>
<path d="M367.65,274.80 L367.65,275.30 L367.65,275.80 L367.65,276.30 L367.65,276.80 L367.65,277.30 L367.65,277.80 L367.65,278.30 L367.65,278.80 L367.65,279.30 L367.65,279.80 L367.65,280.30 L367.65,280.80 L367.65,281.30 L367.65,281.80 L367.65,282.30 L367.65,282.80 L367.65,283.30 L367.65,283.80 L367.64,284.30 L367.64,284.80 L367.64,285.30 L367.64,285.80 L367.64,286.30 L367.64,286.80 L367.64,287.30 L367.64,287.80 L367.64,288.30 L367.64,288.80 L367.64,289.30 L367.64,289.80 L367.63,290.30 L367.63,290.80 L367.63,291.30 L367.63,291.80 L367.63,292.30 L367.63,292.80 L367.63,293.30 L367.63,293.80 L367.62,294.30 L367.62,294.80 L367.62,295.30 L367.62,295.80 L367.62,296.30 L367.62,296.80 L367.61,297.30 L367.61,297.80 L367.61,298.30 L367.61,298.80 L367.60,299.30 L367.60,299.80 L367.60,300.30 L367.60,300.80 L367.60,301.30 L367.59,301.80 L367.59,302.30 L367.59,302.80 L367.59,303.30 L367.58,303.80 L367.58,304.30 L367.58,304.80 L367.57,305.30 L367.57,305.80 L367.57,306.30 L367.56,306.80 L367.56,307.30 L367.56,307.80 L367.55,308.30 L367.55,308.80 L367.54,309.30 L367.51,309.80 L367.48,310.30 L367.43,310.80 L367.37,311.30 L367.30,311.80 L367.23,312.30 L367.15,312.80 L367.06,313.30 L366.97,313.80 L366.88,314.30 L366.78,314.80 L366.68,315.30 L366.59,315.80 L366.49,316.30 L366.38,316.80 L366.26,317.30 L366.12,317.80 L365.98,318.30 L365.83,318.80 L365.67,319.30 L365.51,319.80 L365.34,320.30 L365.18,320.80 L365.01,321.30 L364.85,321.80 L364.69,322.30 L364.54,322.80 L364.39,323.30 L364.25,323.80 L364.10,324.30 L363.95,324.80 L363.80,325.30 L363.66,325.80 L363.51,326.30 L363.36,326.80 L363.22,327.30 L363.08,327.80 L362.94,328.30 L362.81,328.80 L362.68,329.30 L362.55,329.80 L362.43,330.30 L362.30,330.80 L362.18,331.30 L362.06,331.80 L361.93,332.30 L361.81,332.80 L361.70,333.30 L361.58,333.80 L361.47,334.30 L361.36,334.80 L361.27,335.30 L361.17,335.80 L361.09,336.30 L361.02,336.80 L360.95,337.30 L360.89,337.80 L360.83,338.30 L360.77,338.80 L360.71,339.30 L360.66,339.80 L360.60,340.30 L360.55,340.80 L360.51,341.30 L360.46,341.80 L360.43,342.30 L360.40,342.80 L360.37,343.30 L360.36,343.80 L360.35,344.30 L360.35,344.80 L360.36,345.30 L360.36,345.80 L360.38,346.30 L360.39,346.80 L360.41,347.30 L360.43,347.80 L360.45,348.30 L360.48,348.80 L360.51,349.30 L360.54,349.80 L360.57,350.30 L360.60,350.80 L360.63,351.30 L360.67,351.80 L360.70,352.30 L360.73,352.80 L360.77,353.30 L360.80,353.80 L360.84,354.30 L360.87,354.80 L360.90,355.30 L360.94,355.80 L360.97,356.30 L361.01,356.80 L361.05,357.30 L361.09,357.80 L361.13,358.30 L361.17,358.80 L361.21,359.30 L361.25,359.80 L361.30,360.30 L361.35,360.80 L361.40,361.30 L361.45,361.80 L361.50,362.30 L361.56,362.80 L361.61,363.30 L361.67,363.80 L361.74,364.30 L361.80,364.80 L361.87,365.30 L361.94,365.80 L362.01,366.30 L362.10,366.80 L362.20,367.30 L362.32,367.80 L362.44,368.30 L362.57,368.80 L362.70,369.30 L362.84,369.80 L362.99,370.30 L363.13,370.80 L363.27,371.30 L363.41,371.80 L363.55,372.30 L363.68,372.80 L363.81,373.30 L363.92,373.80 L364.03,374.30 L364.13,374.80 L364.22,375.30 L364.32,375.80 L364.41,376.30 L364.50,376.80 L364.58,377.30 L364.67,377.80 L364.75,378.30 L364.83,378.80 L364.91,379.30 L364.99,379.80 L365.07,380.30 L365.14,380.80 L365.22,381.30 L365.29,381.80 L365.36,382.30 L365.42,382.80 L365.49,383.30 L365.55,383.80 L365.62,384.30 L365.68,384.80 L365.74,385.30 L365.80,385.80 L365.86,386.30 L365.92,386.80 L365.97,387.30 L366.02,387.80 L366.08,388.30 L366.13,388.80 L366.18,389.30 L366.22,389.80 L366.25,390.10 L371.25,390.10 L371.28,389.80 L371.32,389.30 L371.37,388.80 L371.42,388.30 L371.48,387.80 L371.53,387.30 L371.58,386.80 L371.64,386.30 L371.70,385.80 L371.76,385.30 L371.82,384.80 L371.88,384.30 L371.95,383.80 L372.01,383.30 L372.08,382.80 L372.14,382.30 L372.21,381.80 L372.28,381.30 L372.36,380.80 L372.43,380.30 L372.51,379.80 L372.59,379.30 L372.67,378.80 L372.75,378.30 L372.83,377.80 L372.92,377.30 L373.00,376.80 L373.09,376.30 L373.18,375.80 L373.28,375.30 L373.37,374.80 L373.47,374.30 L373.58,373.80 L373.69,373.30 L373.82,372.80 L373.95,372.30 L374.09,371.80 L374.23,371.30 L374.37,370.80 L374.51,370.30 L374.66,369.80 L374.80,369.30 L374.93,368.80 L375.06,368.30 L375.18,367.80 L375.30,367.30 L375.40,366.80 L375.49,366.30 L375.56,365.80 L375.63,365.30 L375.70,364.80 L375.76,364.30 L375.83,363.80 L375.89,363.30 L375.94,362.80 L376.00,362.30 L376.05,361.80 L376.10,361.30 L376.15,360.80 L376.20,360.30 L376.25,359.80 L376.29,359.30 L376.33,358.80 L376.37,358.30 L376.41,357.80 L376.45,357.30 L376.49,356.80 L376.53,356.30 L376.56,355.80 L376.60,355.30 L376.63,354.80 L376.66,354.30 L376.70,353.80 L376.73,353.30 L376.77,352.80 L376.80,352.30 L376.83,351.80 L376.87,351.30 L376.90,350.80 L376.93,350.30 L376.96,349.80 L376.99,349.30 L377.02,348.80 L377.05,348.30 L377.07,347.80 L377.09,347.30 L377.11,346.80 L377.12,346.30 L377.14,345.80 L377.14,345.30 L377.15,344.80 L377.15,344.30 L377.14,343.80 L377.13,343.30 L377.10,342.80 L377.07,342.30 L377.04,341.80 L376.99,341.30 L376.95,340.80 L376.90,340.30 L376.84,339.80 L376.79,339.30 L376.73,338.80 L376.67,338.30 L376.61,337.80 L376.55,337.30 L376.48,336.80 L376.41,336.30 L376.33,335.80 L376.23,335.30 L376.14,334.80 L376.03,334.30 L375.92,333.80 L375.80,333.30 L375.69,332.80 L375.57,332.30 L375.44,331.80 L375.32,331.30 L375.20,330.80 L375.07,330.30 L374.95,329.80 L374.82,329.30 L374.69,328.80 L374.56,328.30 L374.42,327.80 L374.28,327.30 L374.14,326.80 L373.99,326.30 L373.84,325.80 L373.70,325.30 L373.55,324.80 L373.40,324.30 L373.25,323.80 L373.11,323.30 L372.96,322.80 L372.81,322.30 L372.65,321.80 L372.49,321.30 L372.32,320.80 L372.16,320.30 L371.99,319.80 L371.83,319.30 L371.67,318.80 L371.52,318.30 L371.38,317.80 L371.24,317.30 L371.12,316.80 L371.01,316.30 L370.91,315.80 L370.82,315.30 L370.72,314.80 L370.62,314.30 L370.53,313.80 L370.44,313.30 L370.35,312.80 L370.27,312.30 L370.20,311.80 L370.13,311.30 L370.07,310.80 L370.02,310.30 L369.99,309.80 L369.96,309.30 L369.95,308.80 L369.95,308.30 L369.94,307.80 L369.94,307.30 L369.94,306.80 L369.93,306.30 L369.93,305.80 L369.93,305.30 L369.92,304.80 L369.92,304.30 L369.92,303.80 L369.91,303.30 L369.91,302.80 L369.91,302.30 L369.91,301.80 L369.90,301.30 L369.90,300.80 L369.90,300.30 L369.90,299.80 L369.90,299.30 L369.89,298.80 L369.89,298.30 L369.89,297.80 L369.89,297.30 L369.88,296.80 L369.88,296.30 L369.88,295.80 L369.88,295.30 L369.88,294.80 L369.88,294.30 L369.87,293.80 L369.87,293.30 L369.87,292.80 L369.87,292.30 L369.87,291.80 L369.87,291.30 L369.87,290.80 L369.87,290.30 L369.86,289.80 L369.86,289.30 L369.86,288.80 L369.86,288.30 L369.86,287.80 L369.86,287.30 L369.86,286.80 L369.86,286.30 L369.86,285.80 L369.86,285.30 L369.86,284.80 L369.86,284.30 L369.85,283.80 L369.85,283.30 L369.85,282.80 L369.85,282.30 L369.85,281.80 L369.85,281.30 L369.85,280.80 L369.85,280.30 L369.85,279.80 L369.85,279.30 L369.85,278.80 L369.85,278.30 L369.85,277.80 L369.85,277.30 L369.85,276.80 L369.85,276.30 L369.85,275.80 L369.85,275.30 L369.85,274.80 Z" fill="none" stroke="#3c3c3c" stroke-width="1.1" stroke-linejoin="round"/>
<path d="M419.78,217.90 L419.78,218.40 L419.78,218.90 L419.78,219.40 L419.78,219.90 L419.78,220.40 L419.78,220.90 L419.78,221.40 L419.78,221.90 L419.78,222.40 L419.78,222.90 L419.78,223.40 L419.78,223.90 L419.78,224.40 L419.78,224.90 L419.78,225.40 L419.78,225.90 L419.78,226.40 L419.78,226.90 L419.78,227.40 L419.78,227.90 L419.78,228.40 L419.78,228.90 L419.78,229.40 L419.78,229.90 L419.78,230.40 L419.78,230.90 L419.78,231.40 L419.78,231.90 L419.78,232.40 L419.78,232.90 L419.78,233.40 L419.78,233.90 L419.78,234.40 L419.77,234.90 L419.77,235.40 L419.77,235.90 L419.77,236.40 L419.77,236.90 L419.77,237.40 L419.77,237.90 L419.77,238.40 L419.77,238.90 L419.77,239.40 L419.77,239.90 L419.77,240.40 L419.77,240.90 L419.77,241.40 L419.77,241.90 L419.77,242.40 L419.77,242.90 L419.77,243.40 L419.77,243.90 L419.77,244.40 L419.77,244.90 L419.77,245.40 L419.77,245.90 L419.77,246.40 L419.76,246.90 L419.76,247.40 L419.76,247.90 L419.76,248.40 L419.76,248.90 L419.76,249.40 L419.76,249.90 L419.76,250.40 L419.76,250.90 L419.76,251.40 L419.76,251.90 L419.76,252.40 L419.76,252.90 L419.76,253.40 L419.76,253.90 L419.76,254.40 L419.76,254.90 L419.75,255.40 L419.75,255.90 L419.75,256.40 L419.75,256.90 L419.75,257.40 L419.75,257.90 L419.75,258.40 L419.75,258.90 L419.75,259.40 L419.75,259.90 L419.75,260.40 L419.75,260.90 L419.75,261.40 L419.74,261.90 L419.74,262.40 L419.74,262.90 L419.74,263.40 L419.74,263.90 L419.74,264.40 L419.74,264.90 L419.74,265.40 L419.74,265.90 L419.74,266.40 L419.74,266.90 L419.73,267.40 L419.73,267.90 L419.73,268.40 L419.73,268.90 L419.73,269.40 L419.73,269.90 L419.73,270.40 L419.73,270.90 L419.73,271.40 L419.73,271.90 L419.72,272.40 L419.72,272.90 L419.72,273.40 L419.72,273.90 L419.72,274.40 L419.72,274.90 L419.72,275.40 L419.72,275.90 L419.72,276.40 L419.71,276.90 L419.71,277.40 L419.71,277.90 L419.71,278.40 L419.71,278.90 L419.71,279.40 L419.71,279.90 L419.71,280.40 L419.70,280.90 L419.70,281.40 L419.70,281.90 L419.70,282.40 L419.70,282.90 L419.70,283.40 L419.70,283.90 L419.70,284.40 L419.69,284.90 L419.69,285.40 L419.69,285.90 L419.69,286.40 L419.69,286.90 L419.69,287.40 L419.69,287.90 L419.68,288.40 L419.68,288.90 L419.68,289.40 L419.68,289.90 L419.68,290.40 L419.68,290.90 L419.67,291.40 L419.67,291.90 L419.67,292.40 L419.66,292.90 L419.66,293.40 L419.66,293.90 L419.65,294.40 L419.65,294.90 L419.64,295.40 L419.64,295.90 L419.63,296.40 L419.63,296.90 L419.62,297.40 L419.62,297.90 L419.61,298.40 L419.60,298.90 L419.60,299.40 L419.59,299.90 L419.59,300.40 L419.58,300.90 L419.57,301.40 L419.57,301.90 L419.56,302.40 L419.55,302.90 L419.55,303.40 L419.54,303.90 L419.54,304.40 L419.53,304.90 L419.53,305.40 L419.52,305.90 L419.51,306.40 L419.51,306.90 L419.51,307.40 L419.50,307.90 L419.50,308.40 L419.49,308.90 L419.49,309.40 L419.48,309.90 L419.48,310.40 L419.47,310.90 L419.46,311.40 L419.46,311.90 L419.45,312.40 L419.45,312.90 L419.44,313.40 L419.43,313.90 L419.42,314.40 L419.41,314.90 L419.40,315.40 L419.39,315.90 L419.38,316.40 L419.37,316.90 L419.36,317.40 L419.34,317.90 L419.32,318.40 L419.29,318.90 L419.27,319.40 L419.24,319.90 L419.20,320.40 L419.16,320.90 L419.10,321.40 L419.04,321.90 L418.97,322.40 L418.90,322.90 L418.81,323.40 L418.69,323.90 L418.56,324.40 L418.42,324.90 L418.27,325.40 L418.11,325.90 L417.95,326.40 L417.77,326.90 L417.58,327.40 L417.38,327.90 L417.18,328.40 L416.97,328.90 L416.77,329.40 L416.57,329.90 L416.36,330.40 L416.15,330.90 L415.94,331.40 L415.73,331.90 L415.52,332.40 L415.32,332.90 L415.12,333.40 L414.92,333.90 L414.71,334.40 L414.52,334.90 L414.33,335.40 L414.15,335.90 L413.98,336.40 L413.82,336.90 L413.66,337.40 L413.51,337.90 L413.37,338.40 L413.23,338.90 L413.10,339.40 L412.98,339.90 L412.87,340.40 L412.75,340.90 L412.65,341.40 L412.55,341.90 L412.47,342.40 L412.41,342.90 L412.35,343.40 L412.30,343.90 L412.25,344.40 L412.21,344.90 L412.17,345.40 L412.13,345.90 L412.10,346.40 L412.07,346.90 L412.05,347.40 L412.02,347.90 L411.99,348.40 L411.97,348.90 L411.95,349.40 L411.92,349.90 L411.91,350.40 L411.89,350.90 L411.88,351.40 L411.88,351.90 L411.88,352.40 L411.88,352.90 L411.88,353.40 L411.88,353.90 L411.88,354.40 L411.88,354.90 L411.88,355.40 L411.88,355.90 L411.88,356.40 L411.88,356.90 L411.88,357.40 L411.88,357.90 L411.88,358.40 L411.88,358.90 L411.88,359.40 L411.89,359.90 L411.89,360.40 L411.90,360.90 L411.91,361.40 L411.92,361.90 L411.93,362.40 L411.94,362.90 L411.96,363.40 L411.97,363.90 L411.99,364.40 L412.00,364.90 L412.02,365.40 L412.04,365.90 L412.06,366.40 L412.08,366.90 L412.10,367.40 L412.12,367.90 L412.14,368.40 L412.17,368.90 L412.20,369.40 L412.23,369.90 L412.27,370.40 L412.30,370.90 L412.34,371.40 L412.39,371.90 L412.43,372.40 L412.48,372.90 L412.53,373.40 L412.58,373.90 L412.64,374.40 L412.69,374.90 L412.76,375.40 L412.83,375.90 L412.91,376.40 L413.00,376.90 L413.10,377.40 L413.21,377.90 L413.32,378.40 L413.44,378.90 L413.56,379.40 L413.69,379.90 L413.82,380.40 L413.95,380.90 L414.08,381.40 L414.21,381.90 L414.35,382.40 L414.49,382.90 L414.64,383.40 L414.81,383.90 L414.99,384.40 L415.18,384.90 L415.37,385.40 L415.56,385.90 L415.75,386.40 L415.92,386.90 L416.09,387.40 L416.24,387.90 L416.37,388.40 L416.47,388.90 L416.56,389.40 L416.64,389.90 L416.71,390.40 L416.77,390.90 L416.78,391.00 L423.58,391.00 L423.59,390.90 L423.65,390.40 L423.72,389.90 L423.80,389.40 L423.89,388.90 L423.99,388.40 L424.12,387.90 L424.27,387.40 L424.44,386.90 L424.61,386.40 L424.80,385.90 L424.99,385.40 L425.18,384.90 L425.37,384.40 L425.55,383.90 L425.72,383.40 L425.87,382.90 L426.01,382.40 L426.15,381.90 L426.28,381.40 L426.41,380.90 L426.54,380.40 L426.67,379.90 L426.80,379.40 L426.92,378.90 L427.04,378.40 L427.15,377.90 L427.26,377.40 L427.36,376.90 L427.45,376.40 L427.53,375.90 L427.60,375.40 L427.67,374.90 L427.72,374.40 L427.78,373.90 L427.83,373.40 L427.88,372.90 L427.93,372.40 L427.97,371.90 L428.02,371.40 L428.06,370.90 L428.09,370.40 L428.13,369.90 L428.16,369.40 L428.19,368.90 L428.22,368.40 L428.24,367.90 L428.26,367.40 L428.28,366.90 L428.30,366.40 L428.32,365.90 L428.34,365.40 L428.36,364.90 L428.37,364.40 L428.39,363.90 L428.40,363.40 L428.42,362.90 L428.43,362.40 L428.44,361.90 L428.45,361.40 L428.46,360.90 L428.47,360.40 L428.47,359.90 L428.48,359.40 L428.48,358.90 L428.48,358.40 L428.48,357.90 L428.48,357.40 L428.48,356.90 L428.48,356.40 L428.48,355.90 L428.48,355.40 L428.48,354.90 L428.48,354.40 L428.48,353.90 L428.48,353.40 L428.48,352.90 L428.48,352.40 L428.48,351.90 L428.48,351.40 L428.47,350.90 L428.45,350.40 L428.44,349.90 L428.41,349.40 L428.39,348.90 L428.37,348.40 L428.34,347.90 L428.31,347.40 L428.29,346.90 L428.26,346.40 L428.23,345.90 L428.19,345.40 L428.15,344.90 L428.11,344.40 L428.06,343.90 L428.01,343.40 L427.95,342.90 L427.89,342.40 L427.81,341.90 L427.71,341.40 L427.61,340.90 L427.49,340.40 L427.38,339.90 L427.26,339.40 L427.13,338.90 L426.99,338.40 L426.85,337.90 L426.70,337.40 L426.54,336.90 L426.38,336.40 L426.21,335.90 L426.03,335.40 L425.84,334.90 L425.65,334.40 L425.44,333.90 L425.24,333.40 L425.04,332.90 L424.84,332.40 L424.63,331.90 L424.42,331.40 L424.21,330.90 L424.00,330.40 L423.79,329.90 L423.59,329.40 L423.39,328.90 L423.18,328.40 L422.98,327.90 L422.78,327.40 L422.59,326.90 L422.41,326.40 L422.25,325.90 L422.09,325.40 L421.94,324.90 L421.80,324.40 L421.67,323.90 L421.55,323.40 L421.46,322.90 L421.39,322.40 L421.32,321.90 L421.26,321.40 L421.20,320.90 L421.16,320.40 L421.12,319.90 L421.09,319.40 L421.07,318.90 L421.04,318.40 L421.02,317.90 L421.00,317.40 L420.99,316.90 L420.98,316.40 L420.97,315.90 L420.96,315.40 L420.95,314.90 L420.94,314.40 L420.93,313.90 L420.92,313.40 L420.91,312.90 L420.91,312.40 L420.90,311.90 L420.90,311.40 L420.89,310.90 L420.88,310.40 L420.88,309.90 L420.87,309.40 L420.87,308.90 L420.86,308.40 L420.86,307.90 L420.85,307.40 L420.85,306.90 L420.85,306.40 L420.84,305.90 L420.83,305.40 L420.83,304.90 L420.82,304.40 L420.82,303.90 L420.81,303.40 L420.81,302.90 L420.80,302.40 L420.79,301.90 L420.79,301.40 L420.78,300.90 L420.77,300.40 L420.77,299.90 L420.76,299.40 L420.76,298.90 L420.75,298.40 L420.74,297.90 L420.74,297.40 L420.73,296.90 L420.73,296.40 L420.72,295.90 L420.72,295.40 L420.71,294.90 L420.71,294.40 L420.70,293.90 L420.70,293.40 L420.70,292.90 L420.69,292.40 L420.69,291.90 L420.69,291.40 L420.68,290.90 L420.68,290.40 L420.68,289.90 L420.68,289.40 L420.68,288.90 L420.68,288.40 L420.67,287.90 L420.67,287.40 L420.67,286.90 L420.67,286.40 L420.67,285.90 L420.67,285.40 L420.67,284.90 L420.66,284.40 L420.66,283.90 L420.66,283.40 L420.66,282.90 L420.66,282.40 L420.66,281.90 L420.66,281.40 L420.66,280.90 L420.65,280.40 L420.65,279.90 L420.65,279.40 L420.65,278.90 L420.65,278.40 L420.65,277.90 L420.65,277.40 L420.65,276.90 L420.64,276.40 L420.64,275.90 L420.64,275.40 L420.64,274.90 L420.64,274.40 L420.64,273.90 L420.64,273.40 L420.64,272.90 L420.64,272.40 L420.63,271.90 L420.63,271.40 L420.63,270.90 L420.63,270.40 L420.63,269.90 L420.63,269.40 L420.63,268.90 L420.63,268.40 L420.63,267.90 L420.63,267.40 L420.62,266.90 L420.62,266.40 L420.62,265.90 L420.62,265.40 L420.62,264.90 L420.62,264.40 L420.62,263.90 L420.62,263.40 L420.62,262.90 L420.62,262.40 L420.62,261.90 L420.61,261.40 L420.61,260.90 L420.61,260.40 L420.61,259.90 L420.61,259.40 L420.61,258.90 L420.61,258.40 L420.61,257.90 L420.61,257.40 L420.61,256.90 L420.61,256.40 L420.61,255.90 L420.61,255.40 L420.60,254.90 L420.60,254.40 L420.60,253.90 L420.60,253.40 L420.60,252.90 L420.60,252.40 L420.60,251.90 L420.60,251.40 L420.60,250.90 L420.60,250.40 L420.60,249.90 L420.60,249.40 L420.60,248.90 L420.60,248.40 L420.60,247.90 L420.60,247.40 L420.60,246.90 L420.59,246.40 L420.59,245.90 L420.59,245.40 L420.59,244.90 L420.59,244.40 L420.59,243.90 L420.59,243.40 L420.59,242.90 L420.59,242.40 L420.59,241.90 L420.59,241.40 L420.59,240.90 L420.59,240.40 L420.59,239.90 L420.59,239.40 L420.59,238.90 L420.59,238.40 L420.59,237.90 L420.59,237.40 L420.59,236.90 L420.59,236.40 L420.59,235.90 L420.59,235.40 L420.59,234.90 L420.58,234.40 L420.58,233.90 L420.58,233.40 L420.58,232.90 L420.58,232.40 L420.58,231.90 L420.58,231.40 L420.58,230.90 L420.58,230.40 L420.58,229.90 L420.58,229.40 L420.58,228.90 L420.58,228.40 L420.58,227.90 L420.58,227.40 L420.58,226.90 L420.58,226.40 L420.58,225.90 L420.58,225.40 L420.58,224.90 L420.58,224.40 L420.58,223.90 L420.58,223.40 L420.58,222.90 L420.58,222.40 L420.58,221.90 L420.58,221.40 L420.58,220.90 L420.58,220.40 L420.58,219.90 L420.58,219.40 L420.58,218.90 L420.58,218.40 L420.58,217.90 Z" fill="none" stroke="#3c3c3c" stroke-width="1.1" stroke-linejoin="round"/>
<path d="M471.21,169.30 L471.21,169.80 L471.21,170.30 L471.21,170.80 L471.21,171.30 L471.21,171.80 L471.21,172.30 L471.21,172.80 L471.21,173.30 L471.21,173.80 L471.21,174.30 L471.21,174.80 L471.21,175.30 L471.21,175.80 L471.21,176.30 L471.21,176.80 L471.21,177.30 L471.21,177.80 L471.21,178.30 L471.21,178.80 L471.21,179.30 L471.21,179.80 L471.21,180.30 L471.21,180.80 L471.21,181.30 L471.21,181.80 L471.21,182.30 L471.21,182.80 L471.21,183.30 L471.21,183.80 L471.21,184.30 L471.21,184.80 L471.21,185.30 L471.21,185.80 L471.21,186.30 L471.21,186.80 L471.21,187.30 L471.21,187.80 L471.21,188.30 L471.21,188.80 L471.21,189.30 L471.21,189.80 L471.21,190.30 L471.21,190.80 L471.21,191.30 L471.21,191.80 L471.21,192.30 L471.21,192.80 L471.21,193.30 L471.21,193.80 L471.21,194.30 L471.21,194.80 L471.21,195.30 L471.21,195.80 L471.21,196.30 L471.21,196.80 L471.21,197.30 L471.21,197.80 L471.21,198.30 L471.21,198.80 L471.21,199.30 L471.21,199.80 L471.21,200.30 L471.21,200.80 L471.21,201.30 L471.21,201.80 L471.21,202.30 L471.21,202.80 L471.20,203.30 L471.20,203.80 L471.20,204.30 L471.20,204.80 L471.20,205.30 L471.20,205.80 L471.20,206.30 L471.20,206.80 L471.20,207.30 L471.20,207.80 L471.20,208.30 L471.20,208.80 L471.20,209.30 L471.20,209.80 L471.20,210.30 L471.20,210.80 L471.20,211.30 L471.20,211.80 L471.20,212.30 L471.20,212.80 L471.20,213.30 L471.20,213.80 L471.20,214.30 L471.20,214.80 L471.20,215.30 L471.20,215.80 L471.20,216.30 L471.20,216.80 L471.20,217.30 L471.20,217.80 L471.20,218.30 L471.20,218.80 L471.20,219.30 L471.20,219.80 L471.20,220.30 L471.20,220.80 L471.20,221.30 L471.20,221.80 L471.19,222.30 L471.19,222.80 L471.19,223.30 L471.19,223.80 L471.19,224.30 L471.19,224.80 L471.19,225.30 L471.19,225.80 L471.19,226.30 L471.19,226.80 L471.19,227.30 L471.19,227.80 L471.19,228.30 L471.19,228.80 L471.19,229.30 L471.19,229.80 L471.19,230.30 L471.19,230.80 L471.19,231.30 L471.19,231.80 L471.19,232.30 L471.19,232.80 L471.19,233.30 L471.19,233.80 L471.18,234.30 L471.18,234.80 L471.18,235.30 L471.18,235.80 L471.18,236.30 L471.18,236.80 L471.18,237.30 L471.18,237.80 L471.18,238.30 L471.18,238.80 L471.18,239.30 L471.18,239.80 L471.18,240.30 L471.18,240.80 L471.18,241.30 L471.18,241.80 L471.18,242.30 L471.18,242.80 L471.18,243.30 L471.17,243.80 L471.17,244.30 L471.17,244.80 L471.17,245.30 L471.17,245.80 L471.17,246.30 L471.17,246.80 L471.17,247.30 L471.17,247.80 L471.17,248.30 L471.17,248.80 L471.17,249.30 L471.17,249.80 L471.17,250.30 L471.17,250.80 L471.16,251.30 L471.16,251.80 L471.16,252.30 L471.16,252.80 L471.16,253.30 L471.16,253.80 L471.16,254.30 L471.16,254.80 L471.16,255.30 L471.16,255.80 L471.16,256.30 L471.16,256.80 L471.16,257.30 L471.15,257.80 L471.15,258.30 L471.15,258.80 L471.15,259.30 L471.15,259.80 L471.15,260.30 L471.15,260.80 L471.15,261.30 L471.15,261.80 L471.15,262.30 L471.15,262.80 L471.15,263.30 L471.14,263.80 L471.14,264.30 L471.14,264.80 L471.14,265.30 L471.14,265.80 L471.14,266.30 L471.14,266.80 L471.14,267.30 L471.14,267.80 L471.14,268.30 L471.13,268.80 L471.13,269.30 L471.13,269.80 L471.13,270.30 L471.13,270.80 L471.13,271.30 L471.13,271.80 L471.13,272.30 L471.13,272.80 L471.13,273.30 L471.12,273.80 L471.12,274.30 L471.12,274.80 L471.12,275.30 L471.12,275.80 L471.12,276.30 L471.12,276.80 L471.12,277.30 L471.12,277.80 L471.11,278.30 L471.11,278.80 L471.11,279.30 L471.11,279.80 L471.11,280.30 L471.10,280.80 L471.09,281.30 L471.08,281.80 L471.07,282.30 L471.05,282.80 L471.03,283.30 L471.00,283.80 L470.98,284.30 L470.95,284.80 L470.92,285.30 L470.89,285.80 L470.86,286.30 L470.82,286.80 L470.79,287.30 L470.75,287.80 L470.72,288.30 L470.69,288.80 L470.65,289.30 L470.62,289.80 L470.59,290.30 L470.56,290.80 L470.53,291.30 L470.50,291.80 L470.47,292.30 L470.44,292.80 L470.41,293.30 L470.38,293.80 L470.35,294.30 L470.33,294.80 L470.30,295.30 L470.27,295.80 L470.23,296.30 L470.20,296.80 L470.17,297.30 L470.14,297.80 L470.11,298.30 L470.08,298.80 L470.05,299.30 L470.02,299.80 L469.99,300.30 L469.96,300.80 L469.93,301.30 L469.89,301.80 L469.86,302.30 L469.83,302.80 L469.80,303.30 L469.77,303.80 L469.74,304.30 L469.71,304.80 L469.68,305.30 L469.65,305.80 L469.62,306.30 L469.59,306.80 L469.57,307.30 L469.54,307.80 L469.51,308.30 L469.48,308.80 L469.46,309.30 L469.43,309.80 L469.40,310.30 L469.37,310.80 L469.35,311.30 L469.32,311.80 L469.29,312.30 L469.26,312.80 L469.23,313.30 L469.20,313.80 L469.17,314.30 L469.14,314.80 L469.10,315.30 L469.07,315.80 L469.03,316.30 L469.00,316.80 L468.96,317.30 L468.92,317.80 L468.88,318.30 L468.83,318.80 L468.79,319.30 L468.74,319.80 L468.69,320.30 L468.64,320.80 L468.58,321.30 L468.53,321.80 L468.47,322.30 L468.41,322.80 L468.35,323.30 L468.29,323.80 L468.23,324.30 L468.17,324.80 L468.10,325.30 L468.04,325.80 L467.97,326.30 L467.90,326.80 L467.83,327.30 L467.77,327.80 L467.70,328.30 L467.63,328.80 L467.56,329.30 L467.49,329.80 L467.42,330.30 L467.35,330.80 L467.28,331.30 L467.21,331.80 L467.13,332.30 L467.05,332.80 L466.96,333.30 L466.88,333.80 L466.79,334.30 L466.69,334.80 L466.60,335.30 L466.51,335.80 L466.42,336.30 L466.33,336.80 L466.24,337.30 L466.15,337.80 L466.07,338.30 L465.99,338.80 L465.91,339.30 L465.84,339.80 L465.77,340.30 L465.71,340.80 L465.66,341.30 L465.61,341.80 L465.57,342.30 L465.52,342.80 L465.48,343.30 L465.44,343.80 L465.40,344.30 L465.35,344.80 L465.31,345.30 L465.27,345.80 L465.23,346.30 L465.20,346.80 L465.16,347.30 L465.13,347.80 L465.10,348.30 L465.07,348.80 L465.04,349.30 L465.01,349.80 L464.99,350.30 L464.97,350.80 L464.95,351.30 L464.94,351.80 L464.92,352.30 L464.92,352.80 L464.91,353.30 L464.91,353.80 L464.91,354.30 L464.91,354.80 L464.92,355.30 L464.93,355.80 L464.93,356.30 L464.94,356.80 L464.96,357.30 L464.97,357.80 L464.98,358.30 L465.00,358.80 L465.01,359.30 L465.03,359.80 L465.05,360.30 L465.07,360.80 L465.09,361.30 L465.11,361.80 L465.13,362.30 L465.16,362.80 L465.18,363.30 L465.20,363.80 L465.23,364.30 L465.26,364.80 L465.30,365.30 L465.34,365.80 L465.39,366.30 L465.44,366.80 L465.50,367.30 L465.56,367.80 L465.62,368.30 L465.68,368.80 L465.74,369.30 L465.80,369.80 L465.86,370.30 L465.91,370.80 L465.96,371.30 L466.01,371.80 L466.05,372.30 L466.09,372.80 L466.14,373.30 L466.17,373.80 L466.21,374.30 L466.25,374.80 L466.29,375.30 L466.32,375.80 L466.36,376.30 L466.40,376.80 L466.43,377.30 L466.47,377.80 L466.51,378.30 L466.54,378.80 L466.58,379.30 L466.62,379.80 L466.65,380.30 L466.69,380.80 L466.72,381.30 L466.76,381.80 L466.79,382.30 L466.83,382.80 L466.86,383.30 L466.89,383.80 L466.93,384.30 L466.97,384.80 L467.00,385.30 L467.04,385.80 L467.09,386.30 L467.13,386.80 L467.18,387.30 L467.23,387.80 L467.29,388.30 L467.35,388.80 L467.43,389.30 L467.50,389.80 L467.58,390.30 L467.66,390.80 L467.74,391.30 L467.76,391.40 L475.46,391.40 L475.48,391.30 L475.56,390.80 L475.64,390.30 L475.72,389.80 L475.79,389.30 L475.87,388.80 L475.93,388.30 L475.99,387.80 L476.04,387.30 L476.09,386.80 L476.13,386.30 L476.18,385.80 L476.22,385.30 L476.25,384.80 L476.29,384.30 L476.33,383.80 L476.36,383.30 L476.39,382.80 L476.43,382.30 L476.46,381.80 L476.50,381.30 L476.53,380.80 L476.57,380.30 L476.60,379.80 L476.64,379.30 L476.68,378.80 L476.71,378.30 L476.75,377.80 L476.79,377.30 L476.82,376.80 L476.86,376.30 L476.90,375.80 L476.93,375.30 L476.97,374.80 L477.01,374.30 L477.05,373.80 L477.08,373.30 L477.13,372.80 L477.17,372.30 L477.21,371.80 L477.26,371.30 L477.31,370.80 L477.36,370.30 L477.42,369.80 L477.48,369.30 L477.54,368.80 L477.60,368.30 L477.66,367.80 L477.72,367.30 L477.78,366.80 L477.83,366.30 L477.88,365.80 L477.92,365.30 L477.96,364.80 L477.99,364.30 L478.02,363.80 L478.04,363.30 L478.06,362.80 L478.09,362.30 L478.11,361.80 L478.13,361.30 L478.15,360.80 L478.17,360.30 L478.19,359.80 L478.21,359.30 L478.22,358.80 L478.24,358.30 L478.25,357.80 L478.26,357.30 L478.28,356.80 L478.29,356.30 L478.29,355.80 L478.30,355.30 L478.31,354.80 L478.31,354.30 L478.31,353.80 L478.31,353.30 L478.30,352.80 L478.30,352.30 L478.28,351.80 L478.27,351.30 L478.25,350.80 L478.23,350.30 L478.21,349.80 L478.18,349.30 L478.15,348.80 L478.12,348.30 L478.09,347.80 L478.06,347.30 L478.02,346.80 L477.99,346.30 L477.95,345.80 L477.91,345.30 L477.87,344.80 L477.82,344.30 L477.78,343.80 L477.74,343.30 L477.70,342.80 L477.65,342.30 L477.61,341.80 L477.56,341.30 L477.51,340.80 L477.45,340.30 L477.38,339.80 L477.31,339.30 L477.23,338.80 L477.15,338.30 L477.07,337.80 L476.98,337.30 L476.89,336.80 L476.80,336.30 L476.71,335.80 L476.62,335.30 L476.53,334.80 L476.43,334.30 L476.34,333.80 L476.26,333.30 L476.17,332.80 L476.09,332.30 L476.01,331.80 L475.94,331.30 L475.87,330.80 L475.80,330.30 L475.73,329.80 L475.66,329.30 L475.59,328.80 L475.52,328.30 L475.45,327.80 L475.39,327.30 L475.32,326.80 L475.25,326.30 L475.18,325.80 L475.12,325.30 L475.05,324.80 L474.99,324.30 L474.93,323.80 L474.87,323.30 L474.81,322.80 L474.75,322.30 L474.69,321.80 L474.64,321.30 L474.58,320.80 L474.53,320.30 L474.48,319.80 L474.43,319.30 L474.39,318.80 L474.34,318.30 L474.30,317.80 L474.26,317.30 L474.22,316.80 L474.19,316.30 L474.15,315.80 L474.12,315.30 L474.08,314.80 L474.05,314.30 L474.02,313.80 L473.99,313.30 L473.96,312.80 L473.93,312.30 L473.90,311.80 L473.87,311.30 L473.85,310.80 L473.82,310.30 L473.79,309.80 L473.76,309.30 L473.74,308.80 L473.71,308.30 L473.68,307.80 L473.65,307.30 L473.63,306.80 L473.60,306.30 L473.57,305.80 L473.54,305.30 L473.51,304.80 L473.48,304.30 L473.45,303.80 L473.42,303.30 L473.39,302.80 L473.36,302.30 L473.33,301.80 L473.29,301.30 L473.26,300.80 L473.23,300.30 L473.20,299.80 L473.17,299.30 L473.14,298.80 L473.11,298.30 L473.08,297.80 L473.05,297.30 L473.02,296.80 L472.99,296.30 L472.95,295.80 L472.92,295.30 L472.89,294.80 L472.87,294.30 L472.84,293.80 L472.81,293.30 L472.78,292.80 L472.75,292.30 L472.72,291.80 L472.69,291.30 L472.66,290.80 L472.63,290.30 L472.60,289.80 L472.57,289.30 L472.53,288.80 L472.50,288.30 L472.47,287.80 L472.43,287.30 L472.40,286.80 L472.36,286.30 L472.33,285.80 L472.30,285.30 L472.27,284.80 L472.24,284.30 L472.22,283.80 L472.19,283.30 L472.17,282.80 L472.15,282.30 L472.14,281.80 L472.13,281.30 L472.12,280.80 L472.11,280.30 L472.11,279.80 L472.11,279.30 L472.11,278.80 L472.11,278.30 L472.10,277.80 L472.10,277.30 L472.10,276.80 L472.10,276.30 L472.10,275.80 L472.10,275.30 L472.10,274.80 L472.10,274.30 L472.10,273.80 L472.09,273.30 L472.09,272.80 L472.09,272.30 L472.09,271.80 L472.09,271.30 L472.09,270.80 L472.09,270.30 L472.09,269.80 L472.09,269.30 L472.09,268.80 L472.08,268.30 L472.08,267.80 L472.08,267.30 L472.08,266.80 L472.08,266.30 L472.08,265.80 L472.08,265.30 L472.08,264.80 L472.08,264.30 L472.08,263.80 L472.07,263.30 L472.07,262.80 L472.07,262.30 L472.07,261.80 L472.07,261.30 L472.07,260.80 L472.07,260.30 L472.07,259.80 L472.07,259.30 L472.07,258.80 L472.07,258.30 L472.07,257.80 L472.06,257.30 L472.06,256.80 L472.06,256.30 L472.06,255.80 L472.06,255.30 L472.06,254.80 L472.06,254.30 L472.06,253.80 L472.06,253.30 L472.06,252.80 L472.06,252.30 L472.06,251.80 L472.06,251.30 L472.05,250.80 L472.05,250.30 L472.05,249.80 L472.05,249.30 L472.05,248.80 L472.05,248.30 L472.05,247.80 L472.05,247.30 L472.05,246.80 L472.05,246.30 L472.05,245.80 L472.05,245.30 L472.05,244.80 L472.05,244.30 L472.05,243.80 L472.04,243.30 L472.04,242.80 L472.04,242.30 L472.04,241.80 L472.04,241.30 L472.04,240.80 L472.04,240.30 L472.04,239.80 L472.04,239.30 L472.04,238.80 L472.04,238.30 L472.04,237.80 L472.04,237.30 L472.04,236.80 L472.04,236.30 L472.04,235.80 L472.04,235.30 L472.04,234.80 L472.04,234.30 L472.03,233.80 L472.03,233.30 L472.03,232.80 L472.03,232.30 L472.03,231.80 L472.03,231.30 L472.03,230.80 L472.03,230.30 L472.03,229.80 L472.03,229.30 L472.03,228.80 L472.03,228.30 L472.03,227.80 L472.03,227.30 L472.03,226.80 L472.03,226.30 L472.03,225.80 L472.03,225.30 L472.03,224.80 L472.03,224.30 L472.03,223.80 L472.03,223.30 L472.03,222.80 L472.03,222.30 L472.02,221.80 L472.02,221.30 L472.02,220.80 L472.02,220.30 L472.02,219.80 L472.02,219.30 L472.02,218.80 L472.02,218.30 L472.02,217.80 L472.02,217.30 L472.02,216.80 L472.02,216.30 L472.02,215.80 L472.02,215.30 L472.02,214.80 L472.02,214.30 L472.02,213.80 L472.02,213.30 L472.02,212.80 L472.02,212.30 L472.02,211.80 L472.02,211.30 L472.02,210.80 L472.02,210.30 L472.02,209.80 L472.02,209.30 L472.02,208.80 L472.02,208.30 L472.02,207.80 L472.02,207.30 L472.02,206.80 L472.02,206.30 L472.02,205.80 L472.02,205.30 L472.02,204.80 L472.02,204.30 L472.02,203.80 L472.02,203.30 L472.01,202.80 L472.01,202.30 L472.01,201.80 L472.01,201.30 L472.01,200.80 L472.01,200.30 L472.01,199.80 L472.01,199.30 L472.01,198.80 L472.01,198.30 L472.01,197.80 L472.01,197.30 L472.01,196.80 L472.01,196.30 L472.01,195.80 L472.01,195.30 L472.01,194.80 L472.01,194.30 L472.01,193.80 L472.01,193.30 L472.01,192.80 L472.01,192.30 L472.01,191.80 L472.01,191.30 L472.01,190.80 L472.01,190.30 L472.01,189.80 L472.01,189.30 L472.01,188.80 L472.01,188.30 L472.01,187.80 L472.01,187.30 L472.01,186.80 L472.01,186.30 L472.01,185.80 L472.01,185.30 L472.01,184.80 L472.01,184.30 L472.01,183.80 L472.01,183.30 L472.01,182.80 L472.01,182.30 L472.01,181.80 L472.01,181.30 L472.01,180.80 L472.01,180.30 L472.01,179.80 L472.01,179.30 L472.01,178.80 L472.01,178.30 L472.01,177.80 L472.01,177.30 L472.01,176.80 L472.01,176.30 L472.01,175.80 L472.01,175.30 L472.01,174.80 L472.01,174.30 L472.01,173.80 L472.01,173.30 L472.01,172.80 L472.01,172.30 L472.01,171.80 L472.01,171.30 L472.01,170.80 L472.01,170.30 L472.01,169.80 L472.01,169.30 Z" fill="none" stroke="#3c3c3c" stroke-width="1.1" stroke-linejoin="round"/>
<path d="M522.24,293.80 L522.20,294.30 L522.16,294.80 L522.12,295.30 L522.08,295.80 L522.03,296.30 L521.99,296.80 L521.95,297.30 L521.91,297.80 L521.86,298.30 L521.82,298.80 L521.77,299.30 L521.73,299.80 L521.68,300.30 L521.64,300.80 L521.59,301.30 L521.54,301.80 L521.49,302.30 L521.45,302.80 L521.40,303.30 L521.35,303.80 L521.30,304.30 L521.25,304.80 L521.20,305.30 L521.15,305.80 L521.10,306.30 L521.05,306.80 L521.00,307.30 L520.95,307.80 L520.90,308.30 L520.85,308.80 L520.79,309.30 L520.74,309.80 L520.69,310.30 L520.63,310.80 L520.58,311.30 L520.52,311.80 L520.46,312.30 L520.41,312.80 L520.35,313.30 L520.29,313.80 L520.23,314.30 L520.17,314.80 L520.11,315.30 L520.04,315.80 L519.98,316.30 L519.91,316.80 L519.85,317.30 L519.78,317.80 L519.70,318.30 L519.63,318.80 L519.55,319.30 L519.48,319.80 L519.40,320.30 L519.31,320.80 L519.23,321.30 L519.15,321.80 L519.07,322.30 L518.98,322.80 L518.90,323.30 L518.81,323.80 L518.73,324.30 L518.64,324.80 L518.56,325.30 L518.48,325.80 L518.39,326.30 L518.31,326.80 L518.23,327.30 L518.15,327.80 L518.07,328.30 L518.00,328.80 L517.93,329.30 L517.85,329.80 L517.78,330.30 L517.70,330.80 L517.63,331.30 L517.55,331.80 L517.48,332.30 L517.40,332.80 L517.32,333.30 L517.25,333.80 L517.18,334.30 L517.10,334.80 L517.03,335.30 L516.96,335.80 L516.89,336.30 L516.82,336.80 L516.75,337.30 L516.68,337.80 L516.62,338.30 L516.56,338.80 L516.50,339.30 L516.44,339.80 L516.39,340.30 L516.34,340.80 L516.29,341.30 L516.24,341.80 L516.19,342.30 L516.15,342.80 L516.10,343.30 L516.05,343.80 L516.01,344.30 L515.96,344.80 L515.92,345.30 L515.88,345.80 L515.83,346.30 L515.80,346.80 L515.76,347.30 L515.73,347.80 L515.70,348.30 L515.68,348.80 L515.66,349.30 L515.65,349.80 L515.64,350.30 L515.64,350.80 L515.64,351.30 L515.64,351.80 L515.64,352.30 L515.64,352.80 L515.64,353.30 L515.64,353.80 L515.64,354.30 L515.64,354.80 L515.64,355.30 L515.64,355.80 L515.64,356.30 L515.64,356.80 L515.64,357.30 L515.64,357.80 L515.64,358.30 L515.64,358.80 L515.64,359.30 L515.64,359.80 L515.64,360.30 L515.64,360.80 L515.65,361.30 L515.67,361.80 L515.70,362.30 L515.73,362.80 L515.78,363.30 L515.83,363.80 L515.89,364.30 L515.96,364.80 L516.03,365.30 L516.11,365.80 L516.19,366.30 L516.27,366.80 L516.36,367.30 L516.44,367.80 L516.53,368.30 L516.61,368.80 L516.70,369.30 L516.78,369.80 L516.86,370.30 L516.94,370.80 L517.02,371.30 L517.10,371.80 L517.18,372.30 L517.26,372.80 L517.35,373.30 L517.43,373.80 L517.52,374.30 L517.61,374.80 L517.70,375.30 L517.80,375.80 L517.89,376.30 L517.98,376.80 L518.08,377.30 L518.17,377.80 L518.26,378.30 L518.36,378.80 L518.45,379.30 L518.54,379.80 L518.63,380.30 L518.72,380.80 L518.81,381.30 L518.90,381.80 L518.99,382.30 L519.07,382.80 L519.16,383.30 L519.25,383.80 L519.34,384.30 L519.43,384.80 L519.51,385.30 L519.60,385.80 L519.69,386.30 L519.74,386.60 L526.34,386.60 L526.39,386.30 L526.48,385.80 L526.57,385.30 L526.65,384.80 L526.74,384.30 L526.83,383.80 L526.92,383.30 L527.01,382.80 L527.09,382.30 L527.18,381.80 L527.27,381.30 L527.36,380.80 L527.45,380.30 L527.54,379.80 L527.63,379.30 L527.72,378.80 L527.82,378.30 L527.91,377.80 L528.00,377.30 L528.10,376.80 L528.19,376.30 L528.28,375.80 L528.38,375.30 L528.47,374.80 L528.56,374.30 L528.65,373.80 L528.73,373.30 L528.82,372.80 L528.90,372.30 L528.98,371.80 L529.06,371.30 L529.14,370.80 L529.22,370.30 L529.30,369.80 L529.38,369.30 L529.47,368.80 L529.55,368.30 L529.64,367.80 L529.72,367.30 L529.81,366.80 L529.89,366.30 L529.97,365.80 L530.05,365.30 L530.12,364.80 L530.19,364.30 L530.25,363.80 L530.30,363.30 L530.35,362.80 L530.38,362.30 L530.41,361.80 L530.43,361.30 L530.44,360.80 L530.44,360.30 L530.44,359.80 L530.44,359.30 L530.44,358.80 L530.44,358.30 L530.44,357.80 L530.44,357.30 L530.44,356.80 L530.44,356.30 L530.44,355.80 L530.44,355.30 L530.44,354.80 L530.44,354.30 L530.44,353.80 L530.44,353.30 L530.44,352.80 L530.44,352.30 L530.44,351.80 L530.44,351.30 L530.44,350.80 L530.44,350.30 L530.43,349.80 L530.42,349.30 L530.40,348.80 L530.38,348.30 L530.35,347.80 L530.32,347.30 L530.28,346.80 L530.25,346.30 L530.20,345.80 L530.16,345.30 L530.12,344.80 L530.07,344.30 L530.03,343.80 L529.98,343.30 L529.93,342.80 L529.89,342.30 L529.84,341.80 L529.79,341.30 L529.74,340.80 L529.69,340.30 L529.64,339.80 L529.58,339.30 L529.52,338.80 L529.46,338.30 L529.40,337.80 L529.33,337.30 L529.26,336.80 L529.19,336.30 L529.12,335.80 L529.05,335.30 L528.98,334.80 L528.90,334.30 L528.83,333.80 L528.76,333.30 L528.68,332.80 L528.60,332.30 L528.53,331.80 L528.45,331.30 L528.38,330.80 L528.30,330.30 L528.23,329.80 L528.15,329.30 L528.08,328.80 L528.01,328.30 L527.93,327.80 L527.85,327.30 L527.77,326.80 L527.69,326.30 L527.60,325.80 L527.52,325.30 L527.44,324.80 L527.35,324.30 L527.27,323.80 L527.18,323.30 L527.10,322.80 L527.01,322.30 L526.93,321.80 L526.85,321.30 L526.77,320.80 L526.68,320.30 L526.60,319.80 L526.53,319.30 L526.45,318.80 L526.38,318.30 L526.30,317.80 L526.23,317.30 L526.17,316.80 L526.10,316.30 L526.04,315.80 L525.97,315.30 L525.91,314.80 L525.85,314.30 L525.79,313.80 L525.73,313.30 L525.67,312.80 L525.62,312.30 L525.56,311.80 L525.50,311.30 L525.45,310.80 L525.39,310.30 L525.34,309.80 L525.29,309.30 L525.23,308.80 L525.18,308.30 L525.13,307.80 L525.08,307.30 L525.03,306.80 L524.98,306.30 L524.93,305.80 L524.88,305.30 L524.83,304.80 L524.78,304.30 L524.73,303.80 L524.68,303.30 L524.63,302.80 L524.59,302.30 L524.54,301.80 L524.49,301.30 L524.44,300.80 L524.40,300.30 L524.35,299.80 L524.31,299.30 L524.26,298.80 L524.22,298.30 L524.17,297.80 L524.13,297.30 L524.09,296.80 L524.05,296.30 L524.00,295.80 L523.96,295.30 L523.92,294.80 L523.88,294.30 L523.84,293.80 Z" fill="none" stroke="#3c3c3c" stroke-width="1.1" stroke-linejoin="round"/>
<path d="M574.07,221.20 L574.07,221.70 L574.07,222.20 L574.07,222.70 L574.07,223.20 L574.07,223.70 L574.07,224.20 L574.07,224.70 L574.07,225.20 L574.07,225.70 L574.07,226.20 L574.07,226.70 L574.07,227.20 L574.07,227.70 L574.07,228.20 L574.07,228.70 L574.07,229.20 L574.07,229.70 L574.07,230.20 L574.07,230.70 L574.07,231.20 L574.07,231.70 L574.07,232.20 L574.07,232.70 L574.07,233.20 L574.07,233.70 L574.07,234.20 L574.07,234.70 L574.07,235.20 L574.07,235.70 L574.07,236.20 L574.07,236.70 L574.07,237.20 L574.07,237.70 L574.07,238.20 L574.07,238.70 L574.07,239.20 L574.07,239.70 L574.07,240.20 L574.07,240.70 L574.07,241.20 L574.07,241.70 L574.07,242.20 L574.07,242.70 L574.07,243.20 L574.07,243.70 L574.07,244.20 L574.07,244.70 L574.07,245.20 L574.07,245.70 L574.07,246.20 L574.07,246.70 L574.07,247.20 L574.07,247.70 L574.07,248.20 L574.07,248.70 L574.07,249.20 L574.07,249.70 L574.07,250.20 L574.07,250.70 L574.07,251.20 L574.07,251.70 L574.07,252.20 L574.07,252.70 L574.07,253.20 L574.07,253.70 L574.07,254.20 L574.07,254.70 L574.07,255.20 L574.07,255.70 L574.07,256.20 L574.07,256.70 L574.07,257.20 L574.07,257.70 L574.07,258.20 L574.07,258.70 L574.07,259.20 L574.07,259.70 L574.07,260.20 L574.07,260.70 L574.07,261.20 L574.07,261.70 L574.07,262.20 L574.07,262.70 L574.07,263.20 L574.07,263.70 L574.07,264.20 L574.07,264.70 L574.07,265.20 L574.07,265.70 L574.07,266.20 L574.07,266.70 L574.07,267.20 L574.07,267.70 L574.07,268.20 L574.07,268.70 L574.07,269.20 L574.07,269.70 L574.07,270.20 L574.07,270.70 L574.07,271.20 L574.07,271.70 L574.07,272.20 L574.07,272.70 L574.07,273.20 L574.06,273.70 L574.05,274.20 L574.03,274.70 L574.01,275.20 L573.98,275.70 L573.95,276.20 L573.91,276.70 L573.87,277.20 L573.83,277.70 L573.78,278.20 L573.74,278.70 L573.69,279.20 L573.65,279.70 L573.60,280.20 L573.55,280.70 L573.51,281.20 L573.47,281.70 L573.43,282.20 L573.39,282.70 L573.36,283.20 L573.32,283.70 L573.29,284.20 L573.26,284.70 L573.23,285.20 L573.20,285.70 L573.17,286.20 L573.14,286.70 L573.11,287.20 L573.08,287.70 L573.05,288.20 L573.02,288.70 L572.99,289.20 L572.96,289.70 L572.93,290.20 L572.90,290.70 L572.87,291.20 L572.84,291.70 L572.81,292.20 L572.78,292.70 L572.74,293.20 L572.71,293.70 L572.68,294.20 L572.65,294.70 L572.62,295.20 L572.59,295.70 L572.56,296.20 L572.53,296.70 L572.50,297.20 L572.47,297.70 L572.44,298.20 L572.41,298.70 L572.38,299.20 L572.34,299.70 L572.30,300.20 L572.27,300.70 L572.23,301.20 L572.18,301.70 L572.14,302.20 L572.09,302.70 L572.04,303.20 L571.98,303.70 L571.91,304.20 L571.82,304.70 L571.71,305.20 L571.61,305.70 L571.51,306.20 L571.44,306.70 L571.38,307.20 L571.32,307.70 L571.27,308.20 L571.21,308.70 L571.16,309.20 L571.10,309.70 L571.05,310.20 L571.01,310.70 L570.96,311.20 L570.92,311.70 L570.87,312.20 L570.83,312.70 L570.79,313.20 L570.75,313.70 L570.72,314.20 L570.68,314.70 L570.65,315.20 L570.61,315.70 L570.58,316.20 L570.55,316.70 L570.52,317.20 L570.49,317.70 L570.46,318.20 L570.43,318.70 L570.40,319.20 L570.38,319.70 L570.35,320.20 L570.33,320.70 L570.30,321.20 L570.28,321.70 L570.26,322.20 L570.24,322.70 L570.22,323.20 L570.20,323.70 L570.18,324.20 L570.16,324.70 L570.14,325.20 L570.12,325.70 L570.10,326.20 L570.08,326.70 L570.06,327.20 L570.04,327.70 L570.02,328.20 L570.00,328.70 L569.99,329.20 L569.97,329.70 L569.95,330.20 L569.93,330.70 L569.91,331.20 L569.89,331.70 L569.86,332.20 L569.84,332.70 L569.82,333.20 L569.80,333.70 L569.78,334.20 L569.76,334.70 L569.74,335.20 L569.72,335.70 L569.70,336.20 L569.68,336.70 L569.67,337.20 L569.65,337.70 L569.63,338.20 L569.62,338.70 L569.61,339.20 L569.60,339.70 L569.59,340.20 L569.58,340.70 L569.57,341.20 L569.56,341.70 L569.56,342.20 L569.55,342.70 L569.55,343.20 L569.54,343.70 L569.54,344.20 L569.53,344.70 L569.53,345.20 L569.52,345.70 L569.52,346.20 L569.52,346.70 L569.51,347.20 L569.51,347.70 L569.51,348.20 L569.50,348.70 L569.50,349.20 L569.50,349.70 L569.49,350.20 L569.49,350.70 L569.48,351.20 L569.48,351.70 L569.47,352.20 L569.47,352.70 L569.46,353.20 L569.46,353.70 L569.45,354.20 L569.44,354.70 L569.43,355.20 L569.42,355.70 L569.41,356.20 L569.40,356.70 L569.39,357.20 L569.38,357.70 L569.37,358.20 L569.36,358.70 L569.35,359.20 L569.34,359.70 L569.33,360.20 L569.32,360.70 L569.32,361.20 L569.31,361.70 L569.30,362.20 L569.29,362.70 L569.28,363.20 L569.28,363.70 L569.27,364.20 L569.26,364.70 L569.26,365.20 L569.25,365.70 L569.25,366.20 L569.24,366.70 L569.23,367.20 L569.23,367.70 L569.22,368.20 L569.22,368.70 L569.21,369.20 L569.21,369.70 L569.20,370.20 L569.20,370.70 L569.19,371.20 L569.19,371.70 L569.18,372.20 L569.18,372.70 L569.18,373.20 L569.17,373.70 L569.17,374.20 L569.17,374.70 L569.17,375.20 L569.17,375.70 L569.18,376.20 L569.19,376.70 L569.21,377.20 L569.25,377.70 L569.29,378.20 L569.34,378.70 L569.39,379.20 L569.45,379.70 L569.52,380.20 L569.59,380.70 L569.66,381.20 L569.74,381.70 L569.82,382.20 L569.90,382.70 L569.99,383.20 L570.07,383.70 L570.15,384.20 L570.24,384.70 L570.32,385.20 L570.41,385.70 L570.51,386.20 L570.62,386.70 L570.73,387.20 L570.85,387.70 L570.97,388.20 L571.10,388.70 L571.23,389.20 L571.36,389.70 L571.47,390.10 L577.47,390.10 L577.58,389.70 L577.71,389.20 L577.84,388.70 L577.97,388.20 L578.09,387.70 L578.21,387.20 L578.32,386.70 L578.43,386.20 L578.53,385.70 L578.62,385.20 L578.70,384.70 L578.79,384.20 L578.87,383.70 L578.95,383.20 L579.04,382.70 L579.12,382.20 L579.20,381.70 L579.28,381.20 L579.35,380.70 L579.42,380.20 L579.49,379.70 L579.55,379.20 L579.60,378.70 L579.65,378.20 L579.69,377.70 L579.73,377.20 L579.75,376.70 L579.76,376.20 L579.77,375.70 L579.77,375.20 L579.77,374.70 L579.77,374.20 L579.77,373.70 L579.76,373.20 L579.76,372.70 L579.76,372.20 L579.75,371.70 L579.75,371.20 L579.74,370.70 L579.74,370.20 L579.73,369.70 L579.73,369.20 L579.72,368.70 L579.72,368.20 L579.71,367.70 L579.71,367.20 L579.70,366.70 L579.69,366.20 L579.69,365.70 L579.68,365.20 L579.68,364.70 L579.67,364.20 L579.66,363.70 L579.66,363.20 L579.65,362.70 L579.64,362.20 L579.63,361.70 L579.62,361.20 L579.62,360.70 L579.61,360.20 L579.60,359.70 L579.59,359.20 L579.58,358.70 L579.57,358.20 L579.56,357.70 L579.55,357.20 L579.54,356.70 L579.53,356.20 L579.52,355.70 L579.51,355.20 L579.50,354.70 L579.49,354.20 L579.48,353.70 L579.48,353.20 L579.47,352.70 L579.47,352.20 L579.46,351.70 L579.46,351.20 L579.45,350.70 L579.45,350.20 L579.44,349.70 L579.44,349.20 L579.44,348.70 L579.43,348.20 L579.43,347.70 L579.43,347.20 L579.42,346.70 L579.42,346.20 L579.42,345.70 L579.41,345.20 L579.41,344.70 L579.40,344.20 L579.40,343.70 L579.39,343.20 L579.39,342.70 L579.38,342.20 L579.38,341.70 L579.37,341.20 L579.36,340.70 L579.35,340.20 L579.34,339.70 L579.33,339.20 L579.32,338.70 L579.31,338.20 L579.29,337.70 L579.27,337.20 L579.26,336.70 L579.24,336.20 L579.22,335.70 L579.20,335.20 L579.18,334.70 L579.16,334.20 L579.14,333.70 L579.12,333.20 L579.10,332.70 L579.08,332.20 L579.05,331.70 L579.03,331.20 L579.01,330.70 L578.99,330.20 L578.97,329.70 L578.95,329.20 L578.94,328.70 L578.92,328.20 L578.90,327.70 L578.88,327.20 L578.86,326.70 L578.84,326.20 L578.82,325.70 L578.80,325.20 L578.78,324.70 L578.76,324.20 L578.74,323.70 L578.72,323.20 L578.70,322.70 L578.68,322.20 L578.66,321.70 L578.64,321.20 L578.61,320.70 L578.59,320.20 L578.56,319.70 L578.54,319.20 L578.51,318.70 L578.48,318.20 L578.45,317.70 L578.42,317.20 L578.39,316.70 L578.36,316.20 L578.33,315.70 L578.29,315.20 L578.26,314.70 L578.22,314.20 L578.19,313.70 L578.15,313.20 L578.11,312.70 L578.07,312.20 L578.02,311.70 L577.98,311.20 L577.93,310.70 L577.89,310.20 L577.84,309.70 L577.78,309.20 L577.73,308.70 L577.67,308.20 L577.62,307.70 L577.56,307.20 L577.50,306.70 L577.43,306.20 L577.33,305.70 L577.23,305.20 L577.12,304.70 L577.03,304.20 L576.96,303.70 L576.90,303.20 L576.85,302.70 L576.80,302.20 L576.76,301.70 L576.71,301.20 L576.67,300.70 L576.64,300.20 L576.60,299.70 L576.56,299.20 L576.53,298.70 L576.50,298.20 L576.47,297.70 L576.44,297.20 L576.41,296.70 L576.38,296.20 L576.35,295.70 L576.32,295.20 L576.29,294.70 L576.26,294.20 L576.23,293.70 L576.20,293.20 L576.16,292.70 L576.13,292.20 L576.10,291.70 L576.07,291.20 L576.04,290.70 L576.01,290.20 L575.98,289.70 L575.95,289.20 L575.92,288.70 L575.89,288.20 L575.86,287.70 L575.83,287.20 L575.80,286.70 L575.77,286.20 L575.74,285.70 L575.71,285.20 L575.68,284.70 L575.65,284.20 L575.62,283.70 L575.58,283.20 L575.55,282.70 L575.51,282.20 L575.47,281.70 L575.43,281.20 L575.39,280.70 L575.34,280.20 L575.29,279.70 L575.25,279.20 L575.20,278.70 L575.16,278.20 L575.11,277.70 L575.07,277.20 L575.03,276.70 L574.99,276.20 L574.96,275.70 L574.93,275.20 L574.91,274.70 L574.89,274.20 L574.88,273.70 L574.87,273.20 L574.87,272.70 L574.87,272.20 L574.87,271.70 L574.87,271.20 L574.87,270.70 L574.87,270.20 L574.87,269.70 L574.87,269.20 L574.87,268.70 L574.87,268.20 L574.87,267.70 L574.87,267.20 L574.87,266.70 L574.87,266.20 L574.87,265.70 L574.87,265.20 L574.87,264.70 L574.87,264.20 L574.87,263.70 L574.87,263.20 L574.87,262.70 L574.87,262.20 L574.87,261.70 L574.87,261.20 L574.87,260.70 L574.87,260.20 L574.87,259.70 L574.87,259.20 L574.87,258.70 L574.87,258.20 L574.87,257.70 L574.87,257.20 L574.87,256.70 L574.87,256.20 L574.87,255.70 L574.87,255.20 L574.87,254.70 L574.87,254.20 L574.87,253.70 L574.87,253.20 L574.87,252.70 L574.87,252.20 L574.87,251.70 L574.87,251.20 L574.87,250.70 L574.87,250.20 L574.87,249.70 L574.87,249.20 L574.87,248.70 L574.87,248.20 L574.87,247.70 L574.87,247.20 L574.87,246.70 L574.87,246.20 L574.87,245.70 L574.87,245.20 L574.87,244.70 L574.87,244.20 L574.87,243.70 L574.87,243.20 L574.87,242.70 L574.87,242.20 L574.87,241.70 L574.87,241.20 L574.87,240.70 L574.87,240.20 L574.87,239.70 L574.87,239.20 L574.87,238.70 L574.87,238.20 L574.87,237.70 L574.87,237.20 L574.87,236.70 L574.87,236.20 L574.87,235.70 L574.87,235.20 L574.87,234.70 L574.87,234.20 L574.87,233.70 L574.87,233.20 L574.87,232.70 L574.87,232.20 L574.87,231.70 L574.87,231.20 L574.87,230.70 L574.87,230.20 L574.87,229.70 L574.87,229.20 L574.87,228.70 L574.87,228.20 L574.87,227.70 L574.87,227.20 L574.87,226.70 L574.87,226.20 L574.87,225.70 L574.87,225.20 L574.87,224.70 L574.87,224.20 L574.87,223.70 L574.87,223.20 L574.87,222.70 L574.87,222.20 L574.87,221.70 L574.87,221.20 Z" fill="none" stroke="#3c3c3c" stroke-width="1.1" stroke-linejoin="round"/>
<path d="M625.30,261.90 L625.28,262.40 L625.25,262.90 L625.23,263.40 L625.21,263.90 L625.19,264.40 L625.16,264.90 L625.14,265.40 L625.12,265.90 L625.10,266.40 L625.07,266.90 L625.05,267.40 L625.03,267.90 L625.01,268.40 L624.99,268.90 L624.97,269.40 L624.95,269.90 L624.93,270.40 L624.92,270.90 L624.90,271.40 L624.88,271.90 L624.86,272.40 L624.85,272.90 L624.83,273.40 L624.82,273.90 L624.80,274.40 L624.79,274.90 L624.78,275.40 L624.77,275.90 L624.76,276.40 L624.75,276.90 L624.74,277.40 L624.73,277.90 L624.72,278.40 L624.71,278.90 L624.71,279.40 L624.70,279.90 L624.70,280.40 L624.69,280.90 L624.69,281.40 L624.68,281.90 L624.68,282.40 L624.68,282.90 L624.67,283.40 L624.67,283.90 L624.66,284.40 L624.66,284.90 L624.66,285.40 L624.65,285.90 L624.65,286.40 L624.65,286.90 L624.64,287.40 L624.64,287.90 L624.64,288.40 L624.63,288.90 L624.63,289.40 L624.63,289.90 L624.63,290.40 L624.62,290.90 L624.62,291.40 L624.62,291.90 L624.62,292.40 L624.61,292.90 L624.61,293.40 L624.61,293.90 L624.61,294.40 L624.61,294.90 L624.61,295.40 L624.61,295.90 L624.60,296.40 L624.60,296.90 L624.60,297.40 L624.60,297.90 L624.60,298.40 L624.60,298.90 L624.60,299.40 L624.60,299.90 L624.60,300.40 L624.60,300.90 L624.60,301.40 L624.60,301.90 L624.60,302.40 L624.60,302.90 L624.60,303.40 L624.60,303.90 L624.60,304.40 L624.60,304.90 L624.60,305.40 L624.60,305.90 L624.60,306.40 L624.60,306.90 L624.60,307.40 L624.60,307.90 L624.60,308.40 L624.60,308.90 L624.60,309.40 L624.60,309.90 L624.60,310.40 L624.60,310.90 L624.60,311.40 L624.60,311.90 L624.60,312.40 L624.60,312.90 L624.60,313.40 L624.60,313.90 L624.60,314.40 L624.60,314.90 L624.60,315.40 L624.59,315.90 L624.59,316.40 L624.58,316.90 L624.56,317.40 L624.55,317.90 L624.53,318.40 L624.51,318.90 L624.49,319.40 L624.46,319.90 L624.43,320.40 L624.41,320.90 L624.36,321.40 L624.29,321.90 L624.19,322.40 L624.07,322.90 L623.94,323.40 L623.78,323.90 L623.63,324.40 L623.47,324.90 L623.31,325.40 L623.16,325.90 L623.02,326.40 L622.87,326.90 L622.73,327.40 L622.58,327.90 L622.44,328.40 L622.28,328.90 L622.13,329.40 L621.97,329.90 L621.81,330.40 L621.65,330.90 L621.48,331.40 L621.30,331.90 L621.12,332.40 L620.94,332.90 L620.74,333.40 L620.53,333.90 L620.30,334.40 L620.06,334.90 L619.82,335.40 L619.58,335.90 L619.35,336.40 L619.14,336.90 L618.94,337.40 L618.72,337.90 L618.51,338.40 L618.30,338.90 L618.09,339.40 L617.90,339.90 L617.73,340.40 L617.58,340.90 L617.47,341.40 L617.39,341.90 L617.32,342.40 L617.26,342.90 L617.20,343.40 L617.15,343.90 L617.09,344.40 L617.04,344.90 L617.00,345.40 L616.96,345.90 L616.92,346.40 L616.89,346.90 L616.86,347.40 L616.84,347.90 L616.82,348.40 L616.81,348.90 L616.80,349.40 L616.80,349.90 L616.81,350.40 L616.82,350.90 L616.83,351.40 L616.85,351.90 L616.87,352.40 L616.90,352.90 L616.93,353.40 L616.97,353.90 L617.00,354.40 L617.04,354.90 L617.08,355.40 L617.13,355.90 L617.21,356.40 L617.32,356.90 L617.44,357.40 L617.57,357.90 L617.71,358.40 L617.85,358.90 L617.97,359.40 L618.08,359.90 L618.17,360.40 L618.26,360.90 L618.35,361.40 L618.43,361.90 L618.51,362.40 L618.58,362.90 L618.66,363.40 L618.73,363.90 L618.80,364.40 L618.87,364.90 L618.95,365.40 L619.02,365.90 L619.09,366.40 L619.16,366.90 L619.24,367.40 L619.32,367.90 L619.39,368.40 L619.47,368.90 L619.54,369.40 L619.61,369.90 L619.69,370.40 L619.76,370.90 L619.83,371.40 L619.91,371.90 L619.99,372.40 L620.06,372.90 L620.14,373.40 L620.23,373.90 L620.31,374.40 L620.40,374.90 L620.49,375.40 L620.59,375.90 L620.69,376.40 L620.80,376.90 L620.92,377.40 L621.04,377.90 L621.16,378.40 L621.29,378.90 L621.42,379.40 L621.56,379.90 L621.69,380.40 L621.83,380.90 L621.96,381.40 L622.10,381.90 L622.23,382.40 L622.37,382.90 L622.50,383.40 L622.63,383.90 L622.76,384.40 L622.88,384.90 L623.01,385.40 L623.14,385.90 L623.27,386.40 L623.40,386.90 L623.53,387.40 L623.66,387.90 L623.79,388.40 L623.92,388.90 L624.00,389.20 L627.80,389.20 L627.88,388.90 L628.01,388.40 L628.14,387.90 L628.27,387.40 L628.40,386.90 L628.53,386.40 L628.66,385.90 L628.79,385.40 L628.92,384.90 L629.04,384.40 L629.17,383.90 L629.30,383.40 L629.43,382.90 L629.57,382.40 L629.70,381.90 L629.84,381.40 L629.97,380.90 L630.11,380.40 L630.24,379.90 L630.38,379.40 L630.51,378.90 L630.64,378.40 L630.76,377.90 L630.88,377.40 L631.00,376.90 L631.11,376.40 L631.21,375.90 L631.31,375.40 L631.40,374.90 L631.49,374.40 L631.57,373.90 L631.66,373.40 L631.74,372.90 L631.81,372.40 L631.89,371.90 L631.97,371.40 L632.04,370.90 L632.11,370.40 L632.19,369.90 L632.26,369.40 L632.33,368.90 L632.41,368.40 L632.48,367.90 L632.56,367.40 L632.64,366.90 L632.71,366.40 L632.78,365.90 L632.85,365.40 L632.93,364.90 L633.00,364.40 L633.07,363.90 L633.14,363.40 L633.22,362.90 L633.29,362.40 L633.37,361.90 L633.45,361.40 L633.54,360.90 L633.63,360.40 L633.72,359.90 L633.83,359.40 L633.95,358.90 L634.09,358.40 L634.23,357.90 L634.36,357.40 L634.48,356.90 L634.59,356.40 L634.67,355.90 L634.72,355.40 L634.76,354.90 L634.80,354.40 L634.83,353.90 L634.87,353.40 L634.90,352.90 L634.93,352.40 L634.95,351.90 L634.97,351.40 L634.98,350.90 L634.99,350.40 L635.00,349.90 L635.00,349.40 L634.99,348.90 L634.98,348.40 L634.96,347.90 L634.94,347.40 L634.91,346.90 L634.88,346.40 L634.84,345.90 L634.80,345.40 L634.76,344.90 L634.71,344.40 L634.65,343.90 L634.60,343.40 L634.54,342.90 L634.48,342.40 L634.41,341.90 L634.33,341.40 L634.22,340.90 L634.07,340.40 L633.90,339.90 L633.71,339.40 L633.50,338.90 L633.29,338.40 L633.08,337.90 L632.86,337.40 L632.66,336.90 L632.45,336.40 L632.22,335.90 L631.98,335.40 L631.74,334.90 L631.50,334.40 L631.27,333.90 L631.06,333.40 L630.86,332.90 L630.68,332.40 L630.50,331.90 L630.32,331.40 L630.15,330.90 L629.99,330.40 L629.83,329.90 L629.67,329.40 L629.52,328.90 L629.36,328.40 L629.22,327.90 L629.07,327.40 L628.93,326.90 L628.78,326.40 L628.64,325.90 L628.49,325.40 L628.33,324.90 L628.17,324.40 L628.02,323.90 L627.86,323.40 L627.73,322.90 L627.61,322.40 L627.51,321.90 L627.44,321.40 L627.39,320.90 L627.37,320.40 L627.34,319.90 L627.31,319.40 L627.29,318.90 L627.27,318.40 L627.25,317.90 L627.24,317.40 L627.22,316.90 L627.21,316.40 L627.21,315.90 L627.20,315.40 L627.20,314.90 L627.20,314.40 L627.20,313.90 L627.20,313.40 L627.20,312.90 L627.20,312.40 L627.20,311.90 L627.20,311.40 L627.20,310.90 L627.20,310.40 L627.20,309.90 L627.20,309.40 L627.20,308.90 L627.20,308.40 L627.20,307.90 L627.20,307.40 L627.20,306.90 L627.20,306.40 L627.20,305.90 L627.20,305.40 L627.20,304.90 L627.20,304.40 L627.20,303.90 L627.20,303.40 L627.20,302.90 L627.20,302.40 L627.20,301.90 L627.20,301.40 L627.20,300.90 L627.20,300.40 L627.20,299.90 L627.20,299.40 L627.20,298.90 L627.20,298.40 L627.20,297.90 L627.20,297.40 L627.20,296.90 L627.20,296.40 L627.19,295.90 L627.19,295.40 L627.19,294.90 L627.19,294.40 L627.19,293.90 L627.19,293.40 L627.19,292.90 L627.18,292.40 L627.18,291.90 L627.18,291.40 L627.18,290.90 L627.17,290.40 L627.17,289.90 L627.17,289.40 L627.17,288.90 L627.16,288.40 L627.16,287.90 L627.16,287.40 L627.15,286.90 L627.15,286.40 L627.15,285.90 L627.14,285.40 L627.14,284.90 L627.14,284.40 L627.13,283.90 L627.13,283.40 L627.12,282.90 L627.12,282.40 L627.12,281.90 L627.11,281.40 L627.11,280.90 L627.10,280.40 L627.10,279.90 L627.09,279.40 L627.09,278.90 L627.08,278.40 L627.07,277.90 L627.06,277.40 L627.05,276.90 L627.04,276.40 L627.03,275.90 L627.02,275.40 L627.01,274.90 L627.00,274.40 L626.98,273.90 L626.97,273.40 L626.95,272.90 L626.94,272.40 L626.92,271.90 L626.90,271.40 L626.88,270.90 L626.87,270.40 L626.85,269.90 L626.83,269.40 L626.81,268.90 L626.79,268.40 L626.77,267.90 L626.75,267.40 L626.73,266.90 L626.70,266.40 L626.68,265.90 L626.66,265.40 L626.64,264.90 L626.61,264.40 L626.59,263.90 L626.57,263.40 L626.55,262.90 L626.52,262.40 L626.50,261.90 Z" fill="none" stroke="#3c3c3c" stroke-width="1.1" stroke-linejoin="round"/>
<path d="M676.93,231.10 L676.93,231.60 L676.93,232.10 L676.93,232.60 L676.93,233.10 L676.93,233.60 L676.93,234.10 L676.93,234.60 L676.93,235.10 L676.93,235.60 L676.93,236.10 L676.93,236.60 L676.93,237.10 L676.93,237.60 L676.93,238.10 L676.93,238.60 L676.93,239.10 L676.93,239.60 L676.93,240.10 L676.93,240.60 L676.93,241.10 L676.93,241.60 L676.93,242.10 L676.93,242.60 L676.93,243.10 L676.93,243.60 L676.92,244.10 L676.92,244.60 L676.92,245.10 L676.92,245.60 L676.92,246.10 L676.92,246.60 L676.92,247.10 L676.92,247.60 L676.92,248.10 L676.92,248.60 L676.92,249.10 L676.92,249.60 L676.92,250.10 L676.92,250.60 L676.92,251.10 L676.92,251.60 L676.91,252.10 L676.91,252.60 L676.91,253.10 L676.91,253.60 L676.91,254.10 L676.91,254.60 L676.91,255.10 L676.91,255.60 L676.91,256.10 L676.91,256.60 L676.90,257.10 L676.90,257.60 L676.90,258.10 L676.90,258.60 L676.90,259.10 L676.90,259.60 L676.90,260.10 L676.90,260.60 L676.89,261.10 L676.89,261.60 L676.89,262.10 L676.89,262.60 L676.89,263.10 L676.89,263.60 L676.89,264.10 L676.88,264.60 L676.88,265.10 L676.88,265.60 L676.88,266.10 L676.88,266.60 L676.88,267.10 L676.87,267.60 L676.87,268.10 L676.87,268.60 L676.87,269.10 L676.87,269.60 L676.86,270.10 L676.86,270.60 L676.86,271.10 L676.86,271.60 L676.86,272.10 L676.85,272.60 L676.85,273.10 L676.85,273.60 L676.85,274.10 L676.84,274.60 L676.84,275.10 L676.84,275.60 L676.84,276.10 L676.83,276.60 L676.83,277.10 L676.83,277.60 L676.82,278.10 L676.81,278.60 L676.79,279.10 L676.77,279.60 L676.74,280.10 L676.71,280.60 L676.68,281.10 L676.65,281.60 L676.62,282.10 L676.59,282.60 L676.55,283.10 L676.52,283.60 L676.49,284.10 L676.45,284.60 L676.42,285.10 L676.39,285.60 L676.36,286.10 L676.32,286.60 L676.28,287.10 L676.24,287.60 L676.21,288.10 L676.17,288.60 L676.14,289.10 L676.10,289.60 L676.07,290.10 L676.05,290.60 L676.03,291.10 L676.02,291.60 L676.01,292.10 L676.00,292.60 L675.99,293.10 L675.98,293.60 L675.97,294.10 L675.96,294.60 L675.96,295.10 L675.95,295.60 L675.94,296.10 L675.94,296.60 L675.93,297.10 L675.92,297.60 L675.91,298.10 L675.91,298.60 L675.90,299.10 L675.89,299.60 L675.88,300.10 L675.87,300.60 L675.85,301.10 L675.84,301.60 L675.83,302.10 L675.82,302.60 L675.80,303.10 L675.79,303.60 L675.78,304.10 L675.76,304.60 L675.74,305.10 L675.73,305.60 L675.71,306.10 L675.70,306.60 L675.68,307.10 L675.66,307.60 L675.64,308.10 L675.63,308.60 L675.61,309.10 L675.59,309.60 L675.57,310.10 L675.55,310.60 L675.53,311.10 L675.50,311.60 L675.48,312.10 L675.46,312.60 L675.44,313.10 L675.41,313.60 L675.39,314.10 L675.36,314.60 L675.34,315.10 L675.31,315.60 L675.28,316.10 L675.25,316.60 L675.22,317.10 L675.18,317.60 L675.14,318.10 L675.11,318.60 L675.06,319.10 L675.02,319.60 L674.97,320.10 L674.91,320.60 L674.84,321.10 L674.77,321.60 L674.69,322.10 L674.60,322.60 L674.51,323.10 L674.42,323.60 L674.32,324.10 L674.22,324.60 L674.12,325.10 L674.02,325.60 L673.91,326.10 L673.81,326.60 L673.71,327.10 L673.60,327.60 L673.49,328.10 L673.38,328.60 L673.26,329.10 L673.13,329.60 L673.01,330.10 L672.88,330.60 L672.76,331.10 L672.64,331.60 L672.53,332.10 L672.41,332.60 L672.31,333.10 L672.21,333.60 L672.12,334.10 L672.02,334.60 L671.94,335.10 L671.85,335.60 L671.76,336.10 L671.68,336.60 L671.59,337.10 L671.51,337.60 L671.42,338.10 L671.33,338.60 L671.24,339.10 L671.14,339.60 L671.04,340.10 L670.92,340.60 L670.80,341.10 L670.66,341.60 L670.52,342.10 L670.37,342.60 L670.22,343.10 L670.07,343.60 L669.93,344.10 L669.79,344.60 L669.66,345.10 L669.54,345.60 L669.44,346.10 L669.35,346.60 L669.29,347.10 L669.24,347.60 L669.22,348.10 L669.19,348.60 L669.17,349.10 L669.15,349.60 L669.14,350.10 L669.12,350.60 L669.10,351.10 L669.09,351.60 L669.08,352.10 L669.06,352.60 L669.05,353.10 L669.05,353.60 L669.04,354.10 L669.03,354.60 L669.03,355.10 L669.03,355.60 L669.03,356.10 L669.05,356.60 L669.09,357.10 L669.13,357.60 L669.19,358.10 L669.25,358.60 L669.32,359.10 L669.40,359.60 L669.48,360.10 L669.57,360.60 L669.65,361.10 L669.74,361.60 L669.83,362.10 L669.91,362.60 L670.00,363.10 L670.07,363.60 L670.14,364.10 L670.21,364.60 L670.28,365.10 L670.35,365.60 L670.42,366.10 L670.49,366.60 L670.56,367.10 L670.63,367.60 L670.71,368.10 L670.78,368.60 L670.85,369.10 L670.92,369.60 L670.99,370.10 L671.06,370.60 L671.13,371.10 L671.20,371.60 L671.27,372.10 L671.34,372.60 L671.41,373.10 L671.48,373.60 L671.54,374.10 L671.61,374.60 L671.68,375.10 L671.74,375.60 L671.81,376.10 L671.88,376.60 L671.95,377.10 L672.02,377.60 L672.09,378.10 L672.16,378.60 L672.24,379.10 L672.31,379.60 L672.39,380.10 L672.48,380.60 L672.57,381.10 L672.66,381.60 L672.75,382.10 L672.84,382.60 L672.94,383.10 L673.04,383.60 L673.13,384.10 L673.23,384.60 L673.33,385.10 L673.42,385.60 L673.51,386.10 L673.61,386.60 L673.69,387.10 L673.78,387.60 L673.86,388.10 L673.94,388.60 L674.02,389.10 L674.10,389.60 L674.13,389.80 L680.53,389.80 L680.56,389.60 L680.64,389.10 L680.72,388.60 L680.80,388.10 L680.88,387.60 L680.97,387.10 L681.05,386.60 L681.15,386.10 L681.24,385.60 L681.33,385.10 L681.43,384.60 L681.53,384.10 L681.62,383.60 L681.72,383.10 L681.82,382.60 L681.91,382.10 L682.00,381.60 L682.09,381.10 L682.18,380.60 L682.27,380.10 L682.35,379.60 L682.42,379.10 L682.50,378.60 L682.57,378.10 L682.64,377.60 L682.71,377.10 L682.78,376.60 L682.85,376.10 L682.92,375.60 L682.98,375.10 L683.05,374.60 L683.12,374.10 L683.18,373.60 L683.25,373.10 L683.32,372.60 L683.39,372.10 L683.46,371.60 L683.53,371.10 L683.60,370.60 L683.67,370.10 L683.74,369.60 L683.81,369.10 L683.88,368.60 L683.95,368.10 L684.03,367.60 L684.10,367.10 L684.17,366.60 L684.24,366.10 L684.31,365.60 L684.38,365.10 L684.45,364.60 L684.52,364.10 L684.59,363.60 L684.66,363.10 L684.75,362.60 L684.83,362.10 L684.92,361.60 L685.01,361.10 L685.09,360.60 L685.18,360.10 L685.26,359.60 L685.34,359.10 L685.41,358.60 L685.47,358.10 L685.53,357.60 L685.57,357.10 L685.61,356.60 L685.63,356.10 L685.63,355.60 L685.63,355.10 L685.63,354.60 L685.62,354.10 L685.61,353.60 L685.61,353.10 L685.60,352.60 L685.58,352.10 L685.57,351.60 L685.56,351.10 L685.54,350.60 L685.52,350.10 L685.51,349.60 L685.49,349.10 L685.47,348.60 L685.44,348.10 L685.42,347.60 L685.37,347.10 L685.31,346.60 L685.22,346.10 L685.12,345.60 L685.00,345.10 L684.87,344.60 L684.73,344.10 L684.59,343.60 L684.44,343.10 L684.29,342.60 L684.14,342.10 L684.00,341.60 L683.86,341.10 L683.74,340.60 L683.62,340.10 L683.52,339.60 L683.42,339.10 L683.33,338.60 L683.24,338.10 L683.15,337.60 L683.07,337.10 L682.98,336.60 L682.90,336.10 L682.81,335.60 L682.72,335.10 L682.64,334.60 L682.54,334.10 L682.45,333.60 L682.35,333.10 L682.25,332.60 L682.13,332.10 L682.02,331.60 L681.90,331.10 L681.78,330.60 L681.65,330.10 L681.53,329.60 L681.40,329.10 L681.28,328.60 L681.17,328.10 L681.06,327.60 L680.95,327.10 L680.85,326.60 L680.75,326.10 L680.64,325.60 L680.54,325.10 L680.44,324.60 L680.34,324.10 L680.24,323.60 L680.15,323.10 L680.06,322.60 L679.97,322.10 L679.89,321.60 L679.82,321.10 L679.75,320.60 L679.69,320.10 L679.64,319.60 L679.60,319.10 L679.55,318.60 L679.52,318.10 L679.48,317.60 L679.44,317.10 L679.41,316.60 L679.38,316.10 L679.35,315.60 L679.32,315.10 L679.30,314.60 L679.27,314.10 L679.25,313.60 L679.22,313.10 L679.20,312.60 L679.18,312.10 L679.16,311.60 L679.13,311.10 L679.11,310.60 L679.09,310.10 L679.07,309.60 L679.05,309.10 L679.03,308.60 L679.02,308.10 L679.00,307.60 L678.98,307.10 L678.96,306.60 L678.95,306.10 L678.93,305.60 L678.92,305.10 L678.90,304.60 L678.88,304.10 L678.87,303.60 L678.86,303.10 L678.84,302.60 L678.83,302.10 L678.82,301.60 L678.81,301.10 L678.79,300.60 L678.78,300.10 L678.77,299.60 L678.76,299.10 L678.75,298.60 L678.75,298.10 L678.74,297.60 L678.73,297.10 L678.72,296.60 L678.72,296.10 L678.71,295.60 L678.70,295.10 L678.70,294.60 L678.69,294.10 L678.68,293.60 L678.67,293.10 L678.66,292.60 L678.65,292.10 L678.64,291.60 L678.63,291.10 L678.61,290.60 L678.59,290.10 L678.56,289.60 L678.52,289.10 L678.49,288.60 L678.45,288.10 L678.42,287.60 L678.38,287.10 L678.34,286.60 L678.30,286.10 L678.27,285.60 L678.24,285.10 L678.21,284.60 L678.17,284.10 L678.14,283.60 L678.11,283.10 L678.07,282.60 L678.04,282.10 L678.01,281.60 L677.98,281.10 L677.95,280.60 L677.92,280.10 L677.89,279.60 L677.87,279.10 L677.85,278.60 L677.84,278.10 L677.83,277.60 L677.83,277.10 L677.83,276.60 L677.82,276.10 L677.82,275.60 L677.82,275.10 L677.82,274.60 L677.81,274.10 L677.81,273.60 L677.81,273.10 L677.81,272.60 L677.80,272.10 L677.80,271.60 L677.80,271.10 L677.80,270.60 L677.80,270.10 L677.79,269.60 L677.79,269.10 L677.79,268.60 L677.79,268.10 L677.79,267.60 L677.78,267.10 L677.78,266.60 L677.78,266.10 L677.78,265.60 L677.78,265.10 L677.78,264.60 L677.77,264.10 L677.77,263.60 L677.77,263.10 L677.77,262.60 L677.77,262.10 L677.77,261.60 L677.77,261.10 L677.76,260.60 L677.76,260.10 L677.76,259.60 L677.76,259.10 L677.76,258.60 L677.76,258.10 L677.76,257.60 L677.76,257.10 L677.75,256.60 L677.75,256.10 L677.75,255.60 L677.75,255.10 L677.75,254.60 L677.75,254.10 L677.75,253.60 L677.75,253.10 L677.75,252.60 L677.75,252.10 L677.74,251.60 L677.74,251.10 L677.74,250.60 L677.74,250.10 L677.74,249.60 L677.74,249.10 L677.74,248.60 L677.74,248.10 L677.74,247.60 L677.74,247.10 L677.74,246.60 L677.74,246.10 L677.74,245.60 L677.74,245.10 L677.74,244.60 L677.74,244.10 L677.73,243.60 L677.73,243.10 L677.73,242.60 L677.73,242.10 L677.73,241.60 L677.73,241.10 L677.73,240.60 L677.73,240.10 L677.73,239.60 L677.73,239.10 L677.73,238.60 L677.73,238.10 L677.73,237.60 L677.73,237.10 L677.73,236.60 L677.73,236.10 L677.73,235.60 L677.73,235.10 L677.73,234.60 L677.73,234.10 L677.73,233.60 L677.73,233.10 L677.73,232.60 L677.73,232.10 L677.73,231.60 L677.73,231.10 Z" fill="none" stroke="#3c3c3c" stroke-width="1.1" stroke-linejoin="round"/>
<g fill="#000098">
<circle cx="114.1" cy="207.9" r="1.45"/>
<circle cx="103.9" cy="219.6" r="1.45"/>
<circle cx="114.7" cy="219.7" r="1.45"/>
<circle cx="117.1" cy="240.5" r="1.45"/>
<circle cx="115.9" cy="246.5" r="1.45"/>
<circle cx="108.7" cy="255.8" r="1.45"/>
<circle cx="111.7" cy="258.8" r="1.45"/>
<circle cx="114.7" cy="259.5" r="1.45"/>
<circle cx="113.8" cy="264.4" r="1.45"/>
<circle cx="114.1" cy="282.5" r="1.45"/>
<circle cx="117.7" cy="289.4" r="1.45"/>
<circle cx="103.2" cy="292.1" r="1.45"/>
<circle cx="106.3" cy="295.7" r="1.45"/>
<circle cx="108.3" cy="312.4" r="1.45"/>
<circle cx="106.4" cy="320.6" r="1.45"/>
<circle cx="103.9" cy="323.6" r="1.45"/>
<circle cx="113.0" cy="322.5" r="1.45"/>
<circle cx="117.7" cy="323.1" r="1.45"/>
<circle cx="108.1" cy="329.9" r="1.45"/>
<circle cx="107.0" cy="335.1" r="1.45"/>
<circle cx="120.4" cy="334.9" r="1.45"/>
<circle cx="101.5" cy="340.6" r="1.45"/>
<circle cx="107.0" cy="339.5" r="1.45"/>
<circle cx="107.0" cy="345.6" r="1.45"/>
<circle cx="109.4" cy="345.0" r="1.45"/>
<circle cx="105.3" cy="348.3" r="1.45"/>
<circle cx="106.4" cy="350.5" r="1.45"/>
<circle cx="115.2" cy="349.4" r="1.45"/>
<circle cx="118.0" cy="348.8" r="1.45"/>
<circle cx="114.8" cy="355.0" r="1.45"/>
<circle cx="103.8" cy="358.0" r="1.45"/>
<circle cx="107.2" cy="357.8" r="1.45"/>
<circle cx="118.7" cy="358.0" r="1.45"/>
<circle cx="119.9" cy="357.8" r="1.45"/>
<circle cx="116.0" cy="360.1" r="1.45"/>
<circle cx="117.4" cy="360.8" r="1.45"/>
<circle cx="109.1" cy="360.5" r="1.45"/>
<circle cx="102.6" cy="361.2" r="1.45"/>
<circle cx="101.5" cy="362.8" r="1.45"/>
<circle cx="103.1" cy="363.1" r="1.45"/>
<circle cx="105.6" cy="362.8" r="1.45"/>
<circle cx="104.5" cy="364.0" r="1.45"/>
<circle cx="110.9" cy="362.8" r="1.45"/>
<circle cx="117.8" cy="363.1" r="1.45"/>
<circle cx="112.8" cy="365.4" r="1.45"/>
<circle cx="115.1" cy="365.8" r="1.45"/>
<circle cx="116.4" cy="365.4" r="1.45"/>
<circle cx="120.1" cy="365.4" r="1.45"/>
<circle cx="119.7" cy="367.2" r="1.45"/>
<circle cx="103.1" cy="367.2" r="1.45"/>
<circle cx="101.7" cy="368.8" r="1.45"/>
<circle cx="104.0" cy="369.1" r="1.45"/>
<circle cx="109.5" cy="369.1" r="1.45"/>
<circle cx="108.6" cy="370.0" r="1.45"/>
<circle cx="113.7" cy="367.7" r="1.45"/>
<circle cx="115.5" cy="368.1" r="1.45"/>
<circle cx="117.4" cy="367.9" r="1.45"/>
<circle cx="118.7" cy="369.1" r="1.45"/>
<circle cx="104.9" cy="371.4" r="1.45"/>
<circle cx="106.3" cy="372.7" r="1.45"/>
<circle cx="110.9" cy="372.7" r="1.45"/>
<circle cx="113.2" cy="371.4" r="1.45"/>
<circle cx="114.6" cy="372.7" r="1.45"/>
<circle cx="116.9" cy="371.8" r="1.45"/>
<circle cx="106.3" cy="374.6" r="1.45"/>
<circle cx="112.8" cy="375.5" r="1.45"/>
<circle cx="115.5" cy="376.9" r="1.45"/>
<circle cx="120.6" cy="374.1" r="1.45"/>
<circle cx="104.0" cy="378.3" r="1.45"/>
<circle cx="107.7" cy="379.2" r="1.45"/>
<circle cx="114.8" cy="380.6" r="1.45"/>
<circle cx="119.2" cy="382.4" r="1.45"/>
<circle cx="121.5" cy="384.3" r="1.45"/>
<circle cx="121.7" cy="387.0" r="1.45"/>
<circle cx="112.3" cy="385.2" r="1.45"/>
<circle cx="115.3" cy="388.2" r="1.45"/>
<circle cx="102.4" cy="390.7" r="1.45"/>
<circle cx="160.1" cy="281.7" r="1.45"/>
<circle cx="173.3" cy="282.8" r="1.45"/>
<circle cx="153.3" cy="300.3" r="1.45"/>
<circle cx="170.8" cy="297.5" r="1.45"/>
<circle cx="167.7" cy="312.8" r="1.45"/>
<circle cx="159.0" cy="316.8" r="1.45"/>
<circle cx="172.3" cy="316.4" r="1.45"/>
<circle cx="171.5" cy="318.2" r="1.45"/>
<circle cx="155.1" cy="322.5" r="1.45"/>
<circle cx="157.3" cy="323.5" r="1.45"/>
<circle cx="158.4" cy="323.9" r="1.45"/>
<circle cx="162.0" cy="321.7" r="1.45"/>
<circle cx="165.1" cy="322.1" r="1.45"/>
<circle cx="166.1" cy="323.5" r="1.45"/>
<circle cx="168.0" cy="325.7" r="1.45"/>
<circle cx="172.3" cy="326.6" r="1.45"/>
<circle cx="160.5" cy="331.6" r="1.45"/>
<circle cx="165.6" cy="332.8" r="1.45"/>
<circle cx="172.7" cy="330.4" r="1.45"/>
<circle cx="154.5" cy="338.5" r="1.45"/>
<circle cx="164.8" cy="337.7" r="1.45"/>
<circle cx="170.1" cy="336.9" r="1.45"/>
<circle cx="157.1" cy="340.7" r="1.45"/>
<circle cx="157.3" cy="342.2" r="1.45"/>
<circle cx="164.6" cy="341.1" r="1.45"/>
<circle cx="161.1" cy="343.0" r="1.45"/>
<circle cx="153.6" cy="344.4" r="1.45"/>
<circle cx="158.9" cy="345.8" r="1.45"/>
<circle cx="161.7" cy="346.8" r="1.45"/>
<circle cx="167.0" cy="344.0" r="1.45"/>
<circle cx="168.6" cy="344.8" r="1.45"/>
<circle cx="170.3" cy="345.2" r="1.45"/>
<circle cx="157.3" cy="348.2" r="1.45"/>
<circle cx="156.3" cy="350.1" r="1.45"/>
<circle cx="158.7" cy="350.1" r="1.45"/>
<circle cx="164.4" cy="349.5" r="1.45"/>
<circle cx="167.0" cy="349.5" r="1.45"/>
<circle cx="165.0" cy="351.3" r="1.45"/>
<circle cx="171.5" cy="350.9" r="1.45"/>
<circle cx="155.1" cy="352.9" r="1.45"/>
<circle cx="153.2" cy="355.5" r="1.45"/>
<circle cx="154.7" cy="355.3" r="1.45"/>
<circle cx="161.5" cy="354.9" r="1.45"/>
<circle cx="167.4" cy="356.1" r="1.45"/>
<circle cx="157.9" cy="357.3" r="1.45"/>
<circle cx="159.9" cy="358.0" r="1.45"/>
<circle cx="162.2" cy="357.6" r="1.45"/>
<circle cx="167.4" cy="358.4" r="1.45"/>
<circle cx="156.3" cy="360.0" r="1.45"/>
<circle cx="161.8" cy="360.4" r="1.45"/>
<circle cx="154.7" cy="363.8" r="1.45"/>
<circle cx="156.9" cy="362.8" r="1.45"/>
<circle cx="166.6" cy="363.0" r="1.45"/>
<circle cx="163.8" cy="365.5" r="1.45"/>
<circle cx="165.0" cy="366.3" r="1.45"/>
<circle cx="167.8" cy="365.7" r="1.45"/>
<circle cx="172.9" cy="366.1" r="1.45"/>
<circle cx="169.7" cy="367.7" r="1.45"/>
<circle cx="171.3" cy="369.1" r="1.45"/>
<circle cx="171.5" cy="370.7" r="1.45"/>
<circle cx="158.1" cy="368.1" r="1.45"/>
<circle cx="155.1" cy="371.3" r="1.45"/>
<circle cx="157.7" cy="372.0" r="1.45"/>
<circle cx="168.0" cy="372.2" r="1.45"/>
<circle cx="161.5" cy="374.4" r="1.45"/>
<circle cx="168.4" cy="376.6" r="1.45"/>
<circle cx="157.5" cy="378.0" r="1.45"/>
<circle cx="159.1" cy="379.4" r="1.45"/>
<circle cx="161.8" cy="377.8" r="1.45"/>
<circle cx="164.8" cy="379.0" r="1.45"/>
<circle cx="163.2" cy="381.3" r="1.45"/>
<circle cx="167.4" cy="380.5" r="1.45"/>
<circle cx="169.5" cy="380.5" r="1.45"/>
<circle cx="157.7" cy="383.3" r="1.45"/>
<circle cx="172.1" cy="383.5" r="1.45"/>
<circle cx="169.2" cy="385.1" r="1.45"/>
<circle cx="169.9" cy="388.2" r="1.45"/>
<circle cx="210.9" cy="295.5" r="1.45"/>
<circle cx="224.6" cy="292.8" r="1.45"/>
<circle cx="206.1" cy="300.8" r="1.45"/>
<circle cx="217.7" cy="305.7" r="1.45"/>
<circle cx="225.1" cy="304.6" r="1.45"/>
<circle cx="214.8" cy="311.9" r="1.45"/>
<circle cx="205.6" cy="318.9" r="1.45"/>
<circle cx="218.4" cy="325.8" r="1.45"/>
<circle cx="208.2" cy="328.1" r="1.45"/>
<circle cx="215.3" cy="332.0" r="1.45"/>
<circle cx="207.2" cy="334.0" r="1.45"/>
<circle cx="224.1" cy="335.0" r="1.45"/>
<circle cx="208.0" cy="336.9" r="1.45"/>
<circle cx="211.8" cy="338.3" r="1.45"/>
<circle cx="205.5" cy="339.8" r="1.45"/>
<circle cx="208.5" cy="339.6" r="1.45"/>
<circle cx="209.7" cy="339.2" r="1.45"/>
<circle cx="220.9" cy="340.5" r="1.45"/>
<circle cx="216.5" cy="342.2" r="1.45"/>
<circle cx="217.4" cy="343.8" r="1.45"/>
<circle cx="216.1" cy="345.5" r="1.45"/>
<circle cx="208.5" cy="344.3" r="1.45"/>
<circle cx="208.3" cy="345.5" r="1.45"/>
<circle cx="212.5" cy="346.0" r="1.45"/>
<circle cx="204.7" cy="347.2" r="1.45"/>
<circle cx="222.9" cy="346.4" r="1.45"/>
<circle cx="219.9" cy="348.1" r="1.45"/>
<circle cx="220.3" cy="349.4" r="1.45"/>
<circle cx="207.6" cy="348.9" r="1.45"/>
<circle cx="207.6" cy="349.8" r="1.45"/>
<circle cx="217.4" cy="349.8" r="1.45"/>
<circle cx="216.1" cy="351.5" r="1.45"/>
<circle cx="217.8" cy="351.5" r="1.45"/>
<circle cx="205.9" cy="351.5" r="1.45"/>
<circle cx="205.1" cy="354.4" r="1.45"/>
<circle cx="207.2" cy="353.6" r="1.45"/>
<circle cx="208.5" cy="355.3" r="1.45"/>
<circle cx="208.5" cy="356.5" r="1.45"/>
<circle cx="214.8" cy="354.0" r="1.45"/>
<circle cx="216.1" cy="355.7" r="1.45"/>
<circle cx="221.4" cy="353.2" r="1.45"/>
<circle cx="205.5" cy="359.1" r="1.45"/>
<circle cx="214.8" cy="358.7" r="1.45"/>
<circle cx="223.3" cy="358.2" r="1.45"/>
<circle cx="223.1" cy="360.1" r="1.45"/>
<circle cx="224.3" cy="360.1" r="1.45"/>
<circle cx="216.9" cy="361.6" r="1.45"/>
<circle cx="217.8" cy="363.3" r="1.45"/>
<circle cx="212.7" cy="365.4" r="1.45"/>
<circle cx="214.8" cy="366.2" r="1.45"/>
<circle cx="216.1" cy="367.1" r="1.45"/>
<circle cx="217.8" cy="366.2" r="1.45"/>
<circle cx="218.2" cy="364.5" r="1.45"/>
<circle cx="215.2" cy="368.3" r="1.45"/>
<circle cx="216.9" cy="365.4" r="1.45"/>
<circle cx="210.4" cy="371.7" r="1.45"/>
<circle cx="223.7" cy="372.4" r="1.45"/>
<circle cx="213.5" cy="373.8" r="1.45"/>
<circle cx="212.9" cy="375.5" r="1.45"/>
<circle cx="207.6" cy="375.1" r="1.45"/>
<circle cx="209.5" cy="377.0" r="1.45"/>
<circle cx="214.4" cy="379.4" r="1.45"/>
<circle cx="212.7" cy="380.6" r="1.45"/>
<circle cx="212.3" cy="381.9" r="1.45"/>
<circle cx="218.4" cy="379.1" r="1.45"/>
<circle cx="223.9" cy="379.8" r="1.45"/>
<circle cx="224.3" cy="381.5" r="1.45"/>
<circle cx="224.3" cy="383.6" r="1.45"/>
<circle cx="205.1" cy="382.1" r="1.45"/>
<circle cx="207.6" cy="385.7" r="1.45"/>
<circle cx="210.8" cy="386.8" r="1.45"/>
<circle cx="206.3" cy="387.8" r="1.45"/>
<circle cx="206.6" cy="389.5" r="1.45"/>
<circle cx="218.2" cy="384.4" r="1.45"/>
<circle cx="216.5" cy="387.0" r="1.45"/>
<circle cx="215.9" cy="389.5" r="1.45"/>
<circle cx="222.4" cy="388.9" r="1.45"/>
<circle cx="272.1" cy="273.4" r="1.45"/>
<circle cx="275.5" cy="272.6" r="1.45"/>
<circle cx="257.4" cy="277.6" r="1.45"/>
<circle cx="261.1" cy="278.7" r="1.45"/>
<circle cx="262.4" cy="278.7" r="1.45"/>
<circle cx="272.5" cy="285.5" r="1.45"/>
<circle cx="258.4" cy="300.6" r="1.45"/>
<circle cx="256.3" cy="304.0" r="1.45"/>
<circle cx="256.3" cy="312.3" r="1.45"/>
<circle cx="273.7" cy="308.2" r="1.45"/>
<circle cx="265.4" cy="314.3" r="1.45"/>
<circle cx="272.5" cy="315.8" r="1.45"/>
<circle cx="274.8" cy="318.8" r="1.45"/>
<circle cx="276.0" cy="321.1" r="1.45"/>
<circle cx="275.5" cy="323.8" r="1.45"/>
<circle cx="269.0" cy="325.6" r="1.45"/>
<circle cx="265.4" cy="328.7" r="1.45"/>
<circle cx="259.6" cy="335.3" r="1.45"/>
<circle cx="258.1" cy="337.7" r="1.45"/>
<circle cx="262.8" cy="336.2" r="1.45"/>
<circle cx="265.8" cy="336.6" r="1.45"/>
<circle cx="269.4" cy="334.7" r="1.45"/>
<circle cx="275.5" cy="335.1" r="1.45"/>
<circle cx="258.8" cy="341.9" r="1.45"/>
<circle cx="262.8" cy="341.1" r="1.45"/>
<circle cx="266.6" cy="340.2" r="1.45"/>
<circle cx="265.3" cy="342.5" r="1.45"/>
<circle cx="268.1" cy="343.8" r="1.45"/>
<circle cx="269.8" cy="343.8" r="1.45"/>
<circle cx="272.7" cy="343.2" r="1.45"/>
<circle cx="273.6" cy="344.7" r="1.45"/>
<circle cx="275.5" cy="340.4" r="1.45"/>
<circle cx="259.6" cy="346.4" r="1.45"/>
<circle cx="261.1" cy="348.5" r="1.45"/>
<circle cx="264.3" cy="349.9" r="1.45"/>
<circle cx="264.9" cy="349.1" r="1.45"/>
<circle cx="275.1" cy="346.8" r="1.45"/>
<circle cx="274.9" cy="348.5" r="1.45"/>
<circle cx="274.0" cy="350.6" r="1.45"/>
<circle cx="272.9" cy="351.6" r="1.45"/>
<circle cx="257.1" cy="353.5" r="1.45"/>
<circle cx="255.4" cy="354.6" r="1.45"/>
<circle cx="258.3" cy="354.8" r="1.45"/>
<circle cx="269.4" cy="358.2" r="1.45"/>
<circle cx="256.0" cy="360.3" r="1.45"/>
<circle cx="274.0" cy="359.5" r="1.45"/>
<circle cx="275.5" cy="358.8" r="1.45"/>
<circle cx="272.3" cy="361.5" r="1.45"/>
<circle cx="257.9" cy="363.0" r="1.45"/>
<circle cx="267.2" cy="362.8" r="1.45"/>
<circle cx="259.8" cy="364.9" r="1.45"/>
<circle cx="275.5" cy="364.5" r="1.45"/>
<circle cx="271.9" cy="366.0" r="1.45"/>
<circle cx="259.6" cy="368.5" r="1.45"/>
<circle cx="259.0" cy="370.4" r="1.45"/>
<circle cx="265.1" cy="367.5" r="1.45"/>
<circle cx="268.3" cy="367.0" r="1.45"/>
<circle cx="264.3" cy="369.2" r="1.45"/>
<circle cx="266.6" cy="370.4" r="1.45"/>
<circle cx="273.6" cy="368.9" r="1.45"/>
<circle cx="272.3" cy="370.6" r="1.45"/>
<circle cx="267.2" cy="374.9" r="1.45"/>
<circle cx="269.4" cy="374.7" r="1.45"/>
<circle cx="274.0" cy="377.6" r="1.45"/>
<circle cx="256.4" cy="382.9" r="1.45"/>
<circle cx="263.6" cy="382.9" r="1.45"/>
<circle cx="262.6" cy="386.1" r="1.45"/>
<circle cx="270.8" cy="387.1" r="1.45"/>
<circle cx="260.9" cy="389.3" r="1.45"/>
<circle cx="262.6" cy="390.7" r="1.45"/>
<circle cx="266.0" cy="389.0" r="1.45"/>
<circle cx="267.2" cy="390.3" r="1.45"/>
<circle cx="269.8" cy="390.5" r="1.45"/>
<circle cx="271.5" cy="390.3" r="1.45"/>
<circle cx="256.9" cy="391.4" r="1.45"/>
<circle cx="316.5" cy="310.0" r="1.45"/>
<circle cx="326.0" cy="317.2" r="1.45"/>
<circle cx="326.0" cy="319.7" r="1.45"/>
<circle cx="307.3" cy="322.2" r="1.45"/>
<circle cx="310.7" cy="322.5" r="1.45"/>
<circle cx="317.1" cy="322.2" r="1.45"/>
<circle cx="320.6" cy="326.8" r="1.45"/>
<circle cx="327.5" cy="329.1" r="1.45"/>
<circle cx="323.1" cy="332.8" r="1.45"/>
<circle cx="314.7" cy="335.5" r="1.45"/>
<circle cx="321.6" cy="335.0" r="1.45"/>
<circle cx="319.6" cy="337.5" r="1.45"/>
<circle cx="327.5" cy="336.5" r="1.45"/>
<circle cx="314.2" cy="339.0" r="1.45"/>
<circle cx="323.1" cy="340.0" r="1.45"/>
<circle cx="326.5" cy="341.0" r="1.45"/>
<circle cx="314.2" cy="343.0" r="1.45"/>
<circle cx="327.5" cy="345.4" r="1.45"/>
<circle cx="313.2" cy="347.2" r="1.45"/>
<circle cx="310.7" cy="350.8" r="1.45"/>
<circle cx="321.1" cy="350.2" r="1.45"/>
<circle cx="325.5" cy="352.3" r="1.45"/>
<circle cx="324.1" cy="373.1" r="1.45"/>
<circle cx="310.5" cy="377.8" r="1.45"/>
<circle cx="308.7" cy="349.8" r="1.45"/>
<circle cx="322.9" cy="354.3" r="1.45"/>
<circle cx="323.9" cy="355.6" r="1.45"/>
<circle cx="317.6" cy="351.2" r="1.45"/>
<circle cx="312.8" cy="355.6" r="1.45"/>
<circle cx="317.5" cy="350.1" r="1.45"/>
<circle cx="325.4" cy="353.3" r="1.45"/>
<circle cx="312.0" cy="353.5" r="1.45"/>
<circle cx="326.1" cy="355.0" r="1.45"/>
<circle cx="325.3" cy="353.6" r="1.45"/>
<circle cx="323.2" cy="352.8" r="1.45"/>
<circle cx="310.2" cy="354.0" r="1.45"/>
<circle cx="314.2" cy="352.5" r="1.45"/>
<circle cx="324.1" cy="351.7" r="1.45"/>
<circle cx="315.1" cy="354.1" r="1.45"/>
<circle cx="319.9" cy="354.3" r="1.45"/>
<circle cx="314.5" cy="350.5" r="1.45"/>
<circle cx="312.3" cy="354.5" r="1.45"/>
<circle cx="325.2" cy="350.7" r="1.45"/>
<circle cx="315.3" cy="353.4" r="1.45"/>
<circle cx="319.5" cy="363.9" r="1.45"/>
<circle cx="307.2" cy="356.5" r="1.45"/>
<circle cx="321.5" cy="356.5" r="1.45"/>
<circle cx="320.3" cy="361.3" r="1.45"/>
<circle cx="315.8" cy="359.7" r="1.45"/>
<circle cx="310.4" cy="359.6" r="1.45"/>
<circle cx="325.6" cy="359.6" r="1.45"/>
<circle cx="325.2" cy="358.6" r="1.45"/>
<circle cx="312.6" cy="358.9" r="1.45"/>
<circle cx="318.7" cy="357.2" r="1.45"/>
<circle cx="325.1" cy="358.5" r="1.45"/>
<circle cx="325.3" cy="360.4" r="1.45"/>
<circle cx="311.8" cy="358.4" r="1.45"/>
<circle cx="326.4" cy="356.8" r="1.45"/>
<circle cx="318.3" cy="359.9" r="1.45"/>
<circle cx="310.8" cy="359.0" r="1.45"/>
<circle cx="307.2" cy="359.9" r="1.45"/>
<circle cx="322.5" cy="363.9" r="1.45"/>
<circle cx="308.1" cy="357.7" r="1.45"/>
<circle cx="317.4" cy="362.5" r="1.45"/>
<circle cx="322.5" cy="362.8" r="1.45"/>
<circle cx="326.4" cy="360.1" r="1.45"/>
<circle cx="311.1" cy="362.2" r="1.45"/>
<circle cx="308.8" cy="363.2" r="1.45"/>
<circle cx="308.1" cy="361.7" r="1.45"/>
<circle cx="323.4" cy="361.4" r="1.45"/>
<circle cx="311.6" cy="358.4" r="1.45"/>
<circle cx="321.3" cy="363.2" r="1.45"/>
<circle cx="324.6" cy="360.8" r="1.45"/>
<circle cx="320.0" cy="358.1" r="1.45"/>
<circle cx="319.5" cy="368.2" r="1.45"/>
<circle cx="323.0" cy="367.8" r="1.45"/>
<circle cx="312.3" cy="366.2" r="1.45"/>
<circle cx="316.6" cy="370.3" r="1.45"/>
<circle cx="320.9" cy="368.9" r="1.45"/>
<circle cx="310.3" cy="364.2" r="1.45"/>
<circle cx="314.6" cy="365.3" r="1.45"/>
<circle cx="322.9" cy="364.3" r="1.45"/>
<circle cx="318.1" cy="364.2" r="1.45"/>
<circle cx="310.4" cy="369.6" r="1.45"/>
<circle cx="315.7" cy="369.0" r="1.45"/>
<circle cx="314.7" cy="368.4" r="1.45"/>
<circle cx="318.1" cy="369.1" r="1.45"/>
<circle cx="312.3" cy="364.0" r="1.45"/>
<circle cx="326.9" cy="364.6" r="1.45"/>
<circle cx="309.5" cy="365.6" r="1.45"/>
<circle cx="307.0" cy="366.4" r="1.45"/>
<circle cx="318.3" cy="366.6" r="1.45"/>
<circle cx="315.9" cy="368.4" r="1.45"/>
<circle cx="322.9" cy="365.6" r="1.45"/>
<circle cx="313.2" cy="369.9" r="1.45"/>
<circle cx="326.6" cy="366.3" r="1.45"/>
<circle cx="307.2" cy="365.8" r="1.45"/>
<circle cx="312.8" cy="370.6" r="1.45"/>
<circle cx="310.1" cy="368.1" r="1.45"/>
<circle cx="367.6" cy="274.6" r="1.45"/>
<circle cx="376.8" cy="278.1" r="1.45"/>
<circle cx="366.1" cy="283.6" r="1.45"/>
<circle cx="373.7" cy="283.4" r="1.45"/>
<circle cx="373.0" cy="288.8" r="1.45"/>
<circle cx="369.3" cy="294.5" r="1.45"/>
<circle cx="360.1" cy="300.5" r="1.45"/>
<circle cx="371.4" cy="301.7" r="1.45"/>
<circle cx="375.8" cy="306.7" r="1.45"/>
<circle cx="378.7" cy="313.8" r="1.45"/>
<circle cx="367.6" cy="319.5" r="1.45"/>
<circle cx="360.1" cy="321.7" r="1.45"/>
<circle cx="372.5" cy="318.8" r="1.45"/>
<circle cx="374.0" cy="321.0" r="1.45"/>
<circle cx="364.7" cy="323.8" r="1.45"/>
<circle cx="375.1" cy="325.9" r="1.45"/>
<circle cx="374.7" cy="327.6" r="1.45"/>
<circle cx="378.3" cy="332.4" r="1.45"/>
<circle cx="359.0" cy="333.1" r="1.45"/>
<circle cx="361.7" cy="332.8" r="1.45"/>
<circle cx="360.7" cy="336.1" r="1.45"/>
<circle cx="362.3" cy="337.3" r="1.45"/>
<circle cx="359.9" cy="339.3" r="1.45"/>
<circle cx="360.9" cy="338.5" r="1.45"/>
<circle cx="368.6" cy="332.9" r="1.45"/>
<circle cx="369.0" cy="335.3" r="1.45"/>
<circle cx="368.6" cy="336.1" r="1.45"/>
<circle cx="373.0" cy="333.3" r="1.45"/>
<circle cx="375.0" cy="334.9" r="1.45"/>
<circle cx="374.6" cy="336.9" r="1.45"/>
<circle cx="375.4" cy="339.3" r="1.45"/>
<circle cx="367.5" cy="339.7" r="1.45"/>
<circle cx="366.7" cy="341.6" r="1.45"/>
<circle cx="369.4" cy="339.3" r="1.45"/>
<circle cx="371.0" cy="340.8" r="1.45"/>
<circle cx="372.6" cy="340.1" r="1.45"/>
<circle cx="373.8" cy="341.6" r="1.45"/>
<circle cx="375.0" cy="341.2" r="1.45"/>
<circle cx="368.6" cy="345.2" r="1.45"/>
<circle cx="370.2" cy="344.8" r="1.45"/>
<circle cx="371.8" cy="344.0" r="1.45"/>
<circle cx="373.4" cy="345.2" r="1.45"/>
<circle cx="372.6" cy="347.2" r="1.45"/>
<circle cx="375.0" cy="346.4" r="1.45"/>
<circle cx="377.3" cy="345.2" r="1.45"/>
<circle cx="371.0" cy="346.8" r="1.45"/>
<circle cx="359.2" cy="350.3" r="1.45"/>
<circle cx="360.7" cy="351.1" r="1.45"/>
<circle cx="367.3" cy="349.9" r="1.45"/>
<circle cx="368.6" cy="351.9" r="1.45"/>
<circle cx="370.2" cy="351.1" r="1.45"/>
<circle cx="371.8" cy="351.9" r="1.45"/>
<circle cx="371.8" cy="354.7" r="1.45"/>
<circle cx="372.2" cy="357.4" r="1.45"/>
<circle cx="378.1" cy="354.3" r="1.45"/>
<circle cx="378.5" cy="356.3" r="1.45"/>
<circle cx="377.7" cy="358.2" r="1.45"/>
<circle cx="359.6" cy="357.0" r="1.45"/>
<circle cx="361.1" cy="357.2" r="1.45"/>
<circle cx="365.5" cy="358.2" r="1.45"/>
<circle cx="361.1" cy="363.9" r="1.45"/>
<circle cx="363.7" cy="362.8" r="1.45"/>
<circle cx="363.7" cy="364.9" r="1.45"/>
<circle cx="370.8" cy="362.9" r="1.45"/>
<circle cx="370.8" cy="365.3" r="1.45"/>
<circle cx="375.0" cy="361.4" r="1.45"/>
<circle cx="375.7" cy="362.9" r="1.45"/>
<circle cx="378.9" cy="363.5" r="1.45"/>
<circle cx="377.3" cy="365.7" r="1.45"/>
<circle cx="376.5" cy="364.1" r="1.45"/>
<circle cx="360.9" cy="367.7" r="1.45"/>
<circle cx="360.3" cy="371.0" r="1.45"/>
<circle cx="362.7" cy="370.8" r="1.45"/>
<circle cx="364.3" cy="374.4" r="1.45"/>
<circle cx="367.1" cy="375.2" r="1.45"/>
<circle cx="372.4" cy="373.2" r="1.45"/>
<circle cx="376.5" cy="377.8" r="1.45"/>
<circle cx="359.6" cy="379.5" r="1.45"/>
<circle cx="361.5" cy="378.7" r="1.45"/>
<circle cx="359.6" cy="382.7" r="1.45"/>
<circle cx="375.4" cy="383.9" r="1.45"/>
<circle cx="375.7" cy="385.5" r="1.45"/>
<circle cx="368.2" cy="385.9" r="1.45"/>
<circle cx="359.4" cy="387.4" r="1.45"/>
<circle cx="371.2" cy="388.0" r="1.45"/>
<circle cx="371.4" cy="389.4" r="1.45"/>
<circle cx="374.8" cy="388.0" r="1.45"/>
<circle cx="363.3" cy="390.0" r="1.45"/>
<circle cx="423.4" cy="218.1" r="1.45"/>
<circle cx="429.6" cy="236.0" r="1.45"/>
<circle cx="411.4" cy="294.8" r="1.45"/>
<circle cx="418.8" cy="298.0" r="1.45"/>
<circle cx="418.3" cy="312.1" r="1.45"/>
<circle cx="430.0" cy="315.0" r="1.45"/>
<circle cx="428.8" cy="329.4" r="1.45"/>
<circle cx="420.8" cy="332.7" r="1.45"/>
<circle cx="410.7" cy="336.1" r="1.45"/>
<circle cx="430.3" cy="335.5" r="1.45"/>
<circle cx="416.4" cy="335.2" r="1.45"/>
<circle cx="417.1" cy="338.2" r="1.45"/>
<circle cx="419.8" cy="338.9" r="1.45"/>
<circle cx="415.7" cy="340.1" r="1.45"/>
<circle cx="417.7" cy="340.9" r="1.45"/>
<circle cx="417.9" cy="342.9" r="1.45"/>
<circle cx="418.7" cy="344.1" r="1.45"/>
<circle cx="417.1" cy="345.3" r="1.45"/>
<circle cx="418.5" cy="346.5" r="1.45"/>
<circle cx="415.7" cy="347.2" r="1.45"/>
<circle cx="430.1" cy="339.3" r="1.45"/>
<circle cx="426.4" cy="340.9" r="1.45"/>
<circle cx="423.0" cy="344.7" r="1.45"/>
<circle cx="425.4" cy="344.9" r="1.45"/>
<circle cx="427.4" cy="346.1" r="1.45"/>
<circle cx="428.5" cy="346.8" r="1.45"/>
<circle cx="412.7" cy="346.8" r="1.45"/>
<circle cx="411.0" cy="349.2" r="1.45"/>
<circle cx="429.7" cy="348.8" r="1.45"/>
<circle cx="412.5" cy="354.5" r="1.45"/>
<circle cx="417.5" cy="354.4" r="1.45"/>
<circle cx="425.4" cy="354.9" r="1.45"/>
<circle cx="427.7" cy="355.1" r="1.45"/>
<circle cx="428.1" cy="356.5" r="1.45"/>
<circle cx="421.6" cy="356.9" r="1.45"/>
<circle cx="410.6" cy="358.7" r="1.45"/>
<circle cx="415.3" cy="362.3" r="1.45"/>
<circle cx="418.7" cy="360.9" r="1.45"/>
<circle cx="421.6" cy="362.1" r="1.45"/>
<circle cx="425.8" cy="362.6" r="1.45"/>
<circle cx="427.7" cy="363.8" r="1.45"/>
<circle cx="429.3" cy="364.4" r="1.45"/>
<circle cx="416.9" cy="366.8" r="1.45"/>
<circle cx="419.8" cy="367.7" r="1.45"/>
<circle cx="420.6" cy="368.7" r="1.45"/>
<circle cx="423.0" cy="366.2" r="1.45"/>
<circle cx="424.2" cy="367.1" r="1.45"/>
<circle cx="423.4" cy="368.1" r="1.45"/>
<circle cx="410.4" cy="370.1" r="1.45"/>
<circle cx="412.3" cy="370.1" r="1.45"/>
<circle cx="414.9" cy="369.3" r="1.45"/>
<circle cx="425.0" cy="371.5" r="1.45"/>
<circle cx="412.9" cy="374.8" r="1.45"/>
<circle cx="415.9" cy="375.6" r="1.45"/>
<circle cx="418.7" cy="374.3" r="1.45"/>
<circle cx="420.8" cy="375.6" r="1.45"/>
<circle cx="430.1" cy="374.7" r="1.45"/>
<circle cx="428.5" cy="377.6" r="1.45"/>
<circle cx="425.0" cy="378.4" r="1.45"/>
<circle cx="411.2" cy="380.0" r="1.45"/>
<circle cx="411.9" cy="380.6" r="1.45"/>
<circle cx="427.0" cy="382.0" r="1.45"/>
<circle cx="429.7" cy="383.1" r="1.45"/>
<circle cx="429.9" cy="385.1" r="1.45"/>
<circle cx="418.7" cy="387.9" r="1.45"/>
<circle cx="420.2" cy="388.1" r="1.45"/>
<circle cx="423.0" cy="388.3" r="1.45"/>
<circle cx="415.5" cy="390.6" r="1.45"/>
<circle cx="425.8" cy="390.8" r="1.45"/>
<circle cx="470.3" cy="169.3" r="1.45"/>
<circle cx="468.4" cy="254.2" r="1.45"/>
<circle cx="469.1" cy="256.7" r="1.45"/>
<circle cx="467.4" cy="271.0" r="1.45"/>
<circle cx="462.6" cy="290.7" r="1.45"/>
<circle cx="475.6" cy="294.5" r="1.45"/>
<circle cx="481.3" cy="294.1" r="1.45"/>
<circle cx="479.4" cy="296.6" r="1.45"/>
<circle cx="479.4" cy="303.7" r="1.45"/>
<circle cx="465.9" cy="306.2" r="1.45"/>
<circle cx="475.2" cy="308.4" r="1.45"/>
<circle cx="477.5" cy="307.7" r="1.45"/>
<circle cx="462.4" cy="314.7" r="1.45"/>
<circle cx="464.3" cy="317.6" r="1.45"/>
<circle cx="465.1" cy="318.8" r="1.45"/>
<circle cx="477.3" cy="313.4" r="1.45"/>
<circle cx="476.2" cy="320.1" r="1.45"/>
<circle cx="475.2" cy="322.9" r="1.45"/>
<circle cx="468.0" cy="329.8" r="1.45"/>
<circle cx="476.2" cy="329.4" r="1.45"/>
<circle cx="469.1" cy="333.6" r="1.45"/>
<circle cx="466.3" cy="336.5" r="1.45"/>
<circle cx="470.8" cy="337.9" r="1.45"/>
<circle cx="474.8" cy="333.9" r="1.45"/>
<circle cx="477.6" cy="334.3" r="1.45"/>
<circle cx="479.1" cy="336.1" r="1.45"/>
<circle cx="481.9" cy="338.5" r="1.45"/>
<circle cx="464.9" cy="341.8" r="1.45"/>
<circle cx="468.1" cy="343.8" r="1.45"/>
<circle cx="470.5" cy="341.7" r="1.45"/>
<circle cx="473.0" cy="342.6" r="1.45"/>
<circle cx="476.4" cy="340.9" r="1.45"/>
<circle cx="476.0" cy="342.6" r="1.45"/>
<circle cx="481.5" cy="343.4" r="1.45"/>
<circle cx="462.2" cy="345.8" r="1.45"/>
<circle cx="463.3" cy="346.6" r="1.45"/>
<circle cx="469.7" cy="346.6" r="1.45"/>
<circle cx="472.8" cy="348.4" r="1.45"/>
<circle cx="471.8" cy="349.5" r="1.45"/>
<circle cx="476.4" cy="352.3" r="1.45"/>
<circle cx="478.0" cy="353.7" r="1.45"/>
<circle cx="480.7" cy="352.1" r="1.45"/>
<circle cx="466.5" cy="355.3" r="1.45"/>
<circle cx="468.5" cy="354.7" r="1.45"/>
<circle cx="470.5" cy="354.5" r="1.45"/>
<circle cx="470.8" cy="355.7" r="1.45"/>
<circle cx="474.0" cy="354.9" r="1.45"/>
<circle cx="475.6" cy="356.9" r="1.45"/>
<circle cx="475.6" cy="357.6" r="1.45"/>
<circle cx="462.0" cy="357.6" r="1.45"/>
<circle cx="463.7" cy="358.4" r="1.45"/>
<circle cx="464.1" cy="360.0" r="1.45"/>
<circle cx="470.3" cy="359.2" r="1.45"/>
<circle cx="480.1" cy="359.0" r="1.45"/>
<circle cx="467.5" cy="361.6" r="1.45"/>
<circle cx="476.0" cy="363.2" r="1.45"/>
<circle cx="475.6" cy="365.1" r="1.45"/>
<circle cx="474.0" cy="367.1" r="1.45"/>
<circle cx="476.4" cy="367.1" r="1.45"/>
<circle cx="480.7" cy="364.5" r="1.45"/>
<circle cx="464.5" cy="367.1" r="1.45"/>
<circle cx="469.5" cy="367.1" r="1.45"/>
<circle cx="466.1" cy="369.9" r="1.45"/>
<circle cx="462.2" cy="371.3" r="1.45"/>
<circle cx="477.4" cy="371.1" r="1.45"/>
<circle cx="469.5" cy="373.4" r="1.45"/>
<circle cx="471.6" cy="373.6" r="1.45"/>
<circle cx="469.7" cy="375.6" r="1.45"/>
<circle cx="475.2" cy="378.2" r="1.45"/>
<circle cx="473.0" cy="380.7" r="1.45"/>
<circle cx="474.2" cy="382.1" r="1.45"/>
<circle cx="474.6" cy="383.7" r="1.45"/>
<circle cx="462.9" cy="383.5" r="1.45"/>
<circle cx="462.0" cy="387.3" r="1.45"/>
<circle cx="464.1" cy="386.1" r="1.45"/>
<circle cx="466.1" cy="385.9" r="1.45"/>
<circle cx="468.1" cy="385.3" r="1.45"/>
<circle cx="472.4" cy="387.3" r="1.45"/>
<circle cx="476.0" cy="387.6" r="1.45"/>
<circle cx="464.9" cy="390.4" r="1.45"/>
<circle cx="479.1" cy="391.2" r="1.45"/>
<circle cx="522.2" cy="294.5" r="1.45"/>
<circle cx="532.7" cy="293.6" r="1.45"/>
<circle cx="526.4" cy="302.9" r="1.45"/>
<circle cx="526.7" cy="307.7" r="1.45"/>
<circle cx="529.3" cy="309.6" r="1.45"/>
<circle cx="530.1" cy="314.3" r="1.45"/>
<circle cx="528.2" cy="316.6" r="1.45"/>
<circle cx="516.3" cy="312.1" r="1.45"/>
<circle cx="532.9" cy="320.6" r="1.45"/>
<circle cx="517.9" cy="322.9" r="1.45"/>
<circle cx="513.7" cy="329.4" r="1.45"/>
<circle cx="524.2" cy="328.5" r="1.45"/>
<circle cx="532.3" cy="327.9" r="1.45"/>
<circle cx="533.0" cy="328.5" r="1.45"/>
<circle cx="513.4" cy="332.9" r="1.45"/>
<circle cx="518.5" cy="332.4" r="1.45"/>
<circle cx="516.3" cy="335.9" r="1.45"/>
<circle cx="514.3" cy="337.9" r="1.45"/>
<circle cx="525.4" cy="332.4" r="1.45"/>
<circle cx="528.8" cy="332.9" r="1.45"/>
<circle cx="530.1" cy="336.1" r="1.45"/>
<circle cx="529.4" cy="338.7" r="1.45"/>
<circle cx="532.7" cy="339.9" r="1.45"/>
<circle cx="525.6" cy="338.3" r="1.45"/>
<circle cx="518.9" cy="342.8" r="1.45"/>
<circle cx="522.4" cy="344.4" r="1.45"/>
<circle cx="523.8" cy="343.0" r="1.45"/>
<circle cx="527.2" cy="344.4" r="1.45"/>
<circle cx="532.9" cy="342.8" r="1.45"/>
<circle cx="533.1" cy="345.2" r="1.45"/>
<circle cx="517.5" cy="348.4" r="1.45"/>
<circle cx="520.7" cy="349.1" r="1.45"/>
<circle cx="516.3" cy="351.5" r="1.45"/>
<circle cx="525.8" cy="348.4" r="1.45"/>
<circle cx="530.3" cy="353.7" r="1.45"/>
<circle cx="531.5" cy="356.6" r="1.45"/>
<circle cx="532.9" cy="356.1" r="1.45"/>
<circle cx="514.7" cy="357.4" r="1.45"/>
<circle cx="515.5" cy="358.2" r="1.45"/>
<circle cx="523.4" cy="356.6" r="1.45"/>
<circle cx="527.0" cy="355.7" r="1.45"/>
<circle cx="526.6" cy="360.0" r="1.45"/>
<circle cx="516.5" cy="362.2" r="1.45"/>
<circle cx="515.5" cy="365.7" r="1.45"/>
<circle cx="514.7" cy="367.3" r="1.45"/>
<circle cx="521.5" cy="364.9" r="1.45"/>
<circle cx="523.8" cy="365.1" r="1.45"/>
<circle cx="527.0" cy="363.9" r="1.45"/>
<circle cx="532.9" cy="362.9" r="1.45"/>
<circle cx="531.5" cy="366.5" r="1.45"/>
<circle cx="513.8" cy="371.6" r="1.45"/>
<circle cx="513.8" cy="376.4" r="1.45"/>
<circle cx="526.0" cy="370.7" r="1.45"/>
<circle cx="525.6" cy="374.4" r="1.45"/>
<circle cx="524.6" cy="377.0" r="1.45"/>
<circle cx="525.8" cy="378.4" r="1.45"/>
<circle cx="527.8" cy="380.7" r="1.45"/>
<circle cx="517.3" cy="379.7" r="1.45"/>
<circle cx="518.1" cy="386.3" r="1.45"/>
<circle cx="525.6" cy="385.7" r="1.45"/>
<circle cx="527.0" cy="385.9" r="1.45"/>
<circle cx="530.1" cy="386.8" r="1.45"/>
<circle cx="531.7" cy="385.9" r="1.45"/>
<circle cx="583.9" cy="221.5" r="1.45"/>
<circle cx="573.8" cy="224.5" r="1.45"/>
<circle cx="582.2" cy="238.5" r="1.45"/>
<circle cx="566.3" cy="247.3" r="1.45"/>
<circle cx="577.1" cy="275.0" r="1.45"/>
<circle cx="578.1" cy="276.9" r="1.45"/>
<circle cx="564.6" cy="298.1" r="1.45"/>
<circle cx="569.4" cy="297.5" r="1.45"/>
<circle cx="567.0" cy="302.5" r="1.45"/>
<circle cx="576.5" cy="302.1" r="1.45"/>
<circle cx="570.7" cy="305.8" r="1.45"/>
<circle cx="579.0" cy="308.5" r="1.45"/>
<circle cx="575.2" cy="310.3" r="1.45"/>
<circle cx="570.5" cy="313.5" r="1.45"/>
<circle cx="578.2" cy="312.9" r="1.45"/>
<circle cx="575.0" cy="315.0" r="1.45"/>
<circle cx="574.0" cy="317.4" r="1.45"/>
<circle cx="575.8" cy="317.0" r="1.45"/>
<circle cx="565.1" cy="316.0" r="1.45"/>
<circle cx="582.5" cy="322.3" r="1.45"/>
<circle cx="566.1" cy="322.7" r="1.45"/>
<circle cx="567.9" cy="322.9" r="1.45"/>
<circle cx="564.6" cy="325.3" r="1.45"/>
<circle cx="568.9" cy="325.3" r="1.45"/>
<circle cx="570.9" cy="329.3" r="1.45"/>
<circle cx="573.4" cy="331.6" r="1.45"/>
<circle cx="565.7" cy="333.6" r="1.45"/>
<circle cx="568.9" cy="333.2" r="1.45"/>
<circle cx="582.7" cy="332.6" r="1.45"/>
<circle cx="584.7" cy="331.4" r="1.45"/>
<circle cx="573.8" cy="335.4" r="1.45"/>
<circle cx="580.9" cy="336.3" r="1.45"/>
<circle cx="577.8" cy="338.5" r="1.45"/>
<circle cx="582.9" cy="340.7" r="1.45"/>
<circle cx="564.9" cy="338.5" r="1.45"/>
<circle cx="566.9" cy="338.9" r="1.45"/>
<circle cx="565.3" cy="346.8" r="1.45"/>
<circle cx="569.1" cy="346.0" r="1.45"/>
<circle cx="568.5" cy="349.0" r="1.45"/>
<circle cx="573.0" cy="346.8" r="1.45"/>
<circle cx="579.2" cy="345.2" r="1.45"/>
<circle cx="575.8" cy="351.0" r="1.45"/>
<circle cx="572.7" cy="352.5" r="1.45"/>
<circle cx="580.7" cy="352.5" r="1.45"/>
<circle cx="565.7" cy="361.0" r="1.45"/>
<circle cx="570.9" cy="363.2" r="1.45"/>
<circle cx="576.4" cy="362.4" r="1.45"/>
<circle cx="570.7" cy="364.8" r="1.45"/>
<circle cx="568.1" cy="367.1" r="1.45"/>
<circle cx="571.7" cy="367.1" r="1.45"/>
<circle cx="574.8" cy="367.9" r="1.45"/>
<circle cx="575.2" cy="369.3" r="1.45"/>
<circle cx="580.5" cy="366.3" r="1.45"/>
<circle cx="583.7" cy="366.5" r="1.45"/>
<circle cx="570.5" cy="371.5" r="1.45"/>
<circle cx="570.1" cy="373.8" r="1.45"/>
<circle cx="569.5" cy="376.2" r="1.45"/>
<circle cx="568.7" cy="378.6" r="1.45"/>
<circle cx="568.5" cy="380.2" r="1.45"/>
<circle cx="583.3" cy="371.1" r="1.45"/>
<circle cx="583.9" cy="374.4" r="1.45"/>
<circle cx="583.1" cy="377.8" r="1.45"/>
<circle cx="584.5" cy="380.2" r="1.45"/>
<circle cx="575.2" cy="375.2" r="1.45"/>
<circle cx="564.9" cy="378.6" r="1.45"/>
<circle cx="572.1" cy="379.4" r="1.45"/>
<circle cx="580.2" cy="378.6" r="1.45"/>
<circle cx="577.6" cy="380.2" r="1.45"/>
<circle cx="576.8" cy="382.1" r="1.45"/>
<circle cx="576.0" cy="384.1" r="1.45"/>
<circle cx="577.2" cy="385.7" r="1.45"/>
<circle cx="577.0" cy="387.7" r="1.45"/>
<circle cx="565.7" cy="389.6" r="1.45"/>
<circle cx="568.7" cy="390.4" r="1.45"/>
<circle cx="629.8" cy="262.4" r="1.45"/>
<circle cx="635.5" cy="269.9" r="1.45"/>
<circle cx="624.1" cy="276.2" r="1.45"/>
<circle cx="631.4" cy="286.5" r="1.45"/>
<circle cx="633.4" cy="288.0" r="1.45"/>
<circle cx="622.9" cy="294.6" r="1.45"/>
<circle cx="628.0" cy="292.7" r="1.45"/>
<circle cx="617.1" cy="302.3" r="1.45"/>
<circle cx="629.4" cy="308.5" r="1.45"/>
<circle cx="620.6" cy="310.0" r="1.45"/>
<circle cx="620.1" cy="314.6" r="1.45"/>
<circle cx="624.7" cy="311.6" r="1.45"/>
<circle cx="635.2" cy="319.5" r="1.45"/>
<circle cx="619.8" cy="326.5" r="1.45"/>
<circle cx="626.7" cy="325.7" r="1.45"/>
<circle cx="626.0" cy="330.3" r="1.45"/>
<circle cx="626.8" cy="332.7" r="1.45"/>
<circle cx="628.0" cy="332.3" r="1.45"/>
<circle cx="632.7" cy="332.1" r="1.45"/>
<circle cx="620.1" cy="336.1" r="1.45"/>
<circle cx="622.5" cy="338.6" r="1.45"/>
<circle cx="625.2" cy="338.0" r="1.45"/>
<circle cx="616.2" cy="340.2" r="1.45"/>
<circle cx="618.5" cy="340.6" r="1.45"/>
<circle cx="620.7" cy="341.8" r="1.45"/>
<circle cx="616.2" cy="343.8" r="1.45"/>
<circle cx="626.2" cy="341.8" r="1.45"/>
<circle cx="635.7" cy="337.5" r="1.45"/>
<circle cx="635.7" cy="339.8" r="1.45"/>
<circle cx="633.5" cy="342.6" r="1.45"/>
<circle cx="635.9" cy="343.0" r="1.45"/>
<circle cx="622.5" cy="345.2" r="1.45"/>
<circle cx="620.1" cy="347.3" r="1.45"/>
<circle cx="622.1" cy="348.9" r="1.45"/>
<circle cx="623.3" cy="350.1" r="1.45"/>
<circle cx="629.2" cy="346.9" r="1.45"/>
<circle cx="628.0" cy="348.9" r="1.45"/>
<circle cx="633.9" cy="350.1" r="1.45"/>
<circle cx="632.5" cy="352.1" r="1.45"/>
<circle cx="620.5" cy="353.3" r="1.45"/>
<circle cx="624.5" cy="352.1" r="1.45"/>
<circle cx="626.0" cy="353.6" r="1.45"/>
<circle cx="627.6" cy="355.2" r="1.45"/>
<circle cx="618.1" cy="355.2" r="1.45"/>
<circle cx="620.1" cy="356.0" r="1.45"/>
<circle cx="623.3" cy="355.6" r="1.45"/>
<circle cx="628.2" cy="357.2" r="1.45"/>
<circle cx="616.2" cy="359.6" r="1.45"/>
<circle cx="623.5" cy="359.2" r="1.45"/>
<circle cx="624.5" cy="361.1" r="1.45"/>
<circle cx="628.8" cy="359.9" r="1.45"/>
<circle cx="617.7" cy="363.5" r="1.45"/>
<circle cx="621.7" cy="363.9" r="1.45"/>
<circle cx="630.4" cy="365.1" r="1.45"/>
<circle cx="619.7" cy="367.5" r="1.45"/>
<circle cx="621.3" cy="369.4" r="1.45"/>
<circle cx="622.5" cy="371.0" r="1.45"/>
<circle cx="616.6" cy="372.8" r="1.45"/>
<circle cx="616.2" cy="376.5" r="1.45"/>
<circle cx="615.8" cy="377.5" r="1.45"/>
<circle cx="631.8" cy="371.0" r="1.45"/>
<circle cx="628.8" cy="373.8" r="1.45"/>
<circle cx="630.8" cy="374.6" r="1.45"/>
<circle cx="632.4" cy="374.2" r="1.45"/>
<circle cx="629.6" cy="375.7" r="1.45"/>
<circle cx="632.9" cy="377.7" r="1.45"/>
<circle cx="624.8" cy="376.3" r="1.45"/>
<circle cx="629.6" cy="381.7" r="1.45"/>
<circle cx="616.6" cy="384.4" r="1.45"/>
<circle cx="623.3" cy="386.4" r="1.45"/>
<circle cx="633.9" cy="389.0" r="1.45"/>
<circle cx="677.0" cy="231.1" r="1.45"/>
<circle cx="677.3" cy="252.4" r="1.45"/>
<circle cx="674.8" cy="271.7" r="1.45"/>
<circle cx="675.0" cy="286.9" r="1.45"/>
<circle cx="678.7" cy="289.7" r="1.45"/>
<circle cx="675.6" cy="291.7" r="1.45"/>
<circle cx="675.0" cy="298.1" r="1.45"/>
<circle cx="676.8" cy="301.0" r="1.45"/>
<circle cx="668.7" cy="300.8" r="1.45"/>
<circle cx="682.4" cy="308.8" r="1.45"/>
<circle cx="686.6" cy="310.9" r="1.45"/>
<circle cx="677.3" cy="311.4" r="1.45"/>
<circle cx="668.5" cy="300.9" r="1.45"/>
<circle cx="676.5" cy="300.9" r="1.45"/>
<circle cx="682.2" cy="308.6" r="1.45"/>
<circle cx="675.7" cy="319.8" r="1.45"/>
<circle cx="674.6" cy="321.4" r="1.45"/>
<circle cx="676.8" cy="323.3" r="1.45"/>
<circle cx="668.5" cy="325.2" r="1.45"/>
<circle cx="667.8" cy="328.3" r="1.45"/>
<circle cx="687.5" cy="325.5" r="1.45"/>
<circle cx="686.9" cy="329.4" r="1.45"/>
<circle cx="676.6" cy="333.6" r="1.45"/>
<circle cx="678.8" cy="334.8" r="1.45"/>
<circle cx="671.3" cy="336.5" r="1.45"/>
<circle cx="681.4" cy="337.5" r="1.45"/>
<circle cx="683.7" cy="336.3" r="1.45"/>
<circle cx="686.9" cy="336.9" r="1.45"/>
<circle cx="681.4" cy="339.9" r="1.45"/>
<circle cx="682.2" cy="341.1" r="1.45"/>
<circle cx="668.1" cy="341.9" r="1.45"/>
<circle cx="668.9" cy="344.8" r="1.45"/>
<circle cx="684.9" cy="343.8" r="1.45"/>
<circle cx="676.2" cy="346.0" r="1.45"/>
<circle cx="675.8" cy="347.6" r="1.45"/>
<circle cx="670.3" cy="347.8" r="1.45"/>
<circle cx="672.7" cy="349.0" r="1.45"/>
<circle cx="673.3" cy="350.2" r="1.45"/>
<circle cx="682.2" cy="345.8" r="1.45"/>
<circle cx="683.7" cy="347.8" r="1.45"/>
<circle cx="680.6" cy="350.2" r="1.45"/>
<circle cx="683.0" cy="350.6" r="1.45"/>
<circle cx="685.3" cy="350.0" r="1.45"/>
<circle cx="668.9" cy="353.3" r="1.45"/>
<circle cx="677.8" cy="353.3" r="1.45"/>
<circle cx="680.2" cy="353.7" r="1.45"/>
<circle cx="687.1" cy="354.5" r="1.45"/>
<circle cx="674.3" cy="357.5" r="1.45"/>
<circle cx="670.3" cy="359.6" r="1.45"/>
<circle cx="677.6" cy="359.3" r="1.45"/>
<circle cx="674.9" cy="361.0" r="1.45"/>
<circle cx="682.6" cy="359.3" r="1.45"/>
<circle cx="684.5" cy="360.6" r="1.45"/>
<circle cx="679.8" cy="363.6" r="1.45"/>
<circle cx="681.0" cy="364.7" r="1.45"/>
<circle cx="685.7" cy="364.1" r="1.45"/>
<circle cx="671.9" cy="363.9" r="1.45"/>
<circle cx="673.9" cy="365.5" r="1.45"/>
<circle cx="676.2" cy="365.5" r="1.45"/>
<circle cx="677.8" cy="367.5" r="1.45"/>
<circle cx="669.9" cy="367.1" r="1.45"/>
<circle cx="672.7" cy="368.7" r="1.45"/>
<circle cx="674.7" cy="370.7" r="1.45"/>
<circle cx="673.1" cy="373.0" r="1.45"/>
<circle cx="675.1" cy="374.8" r="1.45"/>
<circle cx="682.4" cy="371.5" r="1.45"/>
<circle cx="686.5" cy="374.6" r="1.45"/>
<circle cx="674.3" cy="379.0" r="1.45"/>
<circle cx="676.2" cy="380.5" r="1.45"/>
<circle cx="667.6" cy="382.9" r="1.45"/>
<circle cx="669.9" cy="380.9" r="1.45"/>
<circle cx="671.9" cy="380.1" r="1.45"/>
<circle cx="673.9" cy="383.3" r="1.45"/>
<circle cx="682.8" cy="379.0" r="1.45"/>
<circle cx="681.4" cy="386.1" r="1.45"/>
<circle cx="684.1" cy="385.3" r="1.45"/>
<circle cx="687.7" cy="386.5" r="1.45"/>
<circle cx="684.5" cy="388.0" r="1.45"/>
<circle cx="686.1" cy="390.0" r="1.45"/>
</g>
<rect x="81.3" y="14.6" width="627.10" height="396.40" fill="none" stroke="#777" stroke-width="1.1"/>
<line x1="78.5" x2="81.3" y1="393.00" y2="393.00" stroke="#555" stroke-width="1"/>
<text x="76.6" y="397.60" font-size="11.1" text-anchor="end" fill="#1a1a1a">0</text>
<line x1="78.5" x2="81.3" y1="320.90" y2="320.90" stroke="#555" stroke-width="1"/>
<text x="76.6" y="325.50" font-size="11.1" text-anchor="end" fill="#1a1a1a">100 000</text>
<line x1="78.5" x2="81.3" y1="248.80" y2="248.80" stroke="#555" stroke-width="1"/>
<text x="76.6" y="253.40" font-size="11.1" text-anchor="end" fill="#1a1a1a">200 000</text>
<line x1="78.5" x2="81.3" y1="176.70" y2="176.70" stroke="#555" stroke-width="1"/>
<text x="76.6" y="181.30" font-size="11.1" text-anchor="end" fill="#1a1a1a">300 000</text>
<line x1="78.5" x2="81.3" y1="104.60" y2="104.60" stroke="#555" stroke-width="1"/>
<text x="76.6" y="109.20" font-size="11.1" text-anchor="end" fill="#1a1a1a">400 000</text>
<line x1="78.5" x2="81.3" y1="32.50" y2="32.50" stroke="#555" stroke-width="1"/>
<text x="76.6" y="37.10" font-size="11.1" text-anchor="end" fill="#1a1a1a">500 000</text>
<line x1="111.60" x2="111.60" y1="411.0" y2="413.60" stroke="#555" stroke-width="1"/>
<text x="111.60" y="423.60" font-size="11.1" text-anchor="middle" fill="#1a1a1a">1</text>
<line x1="163.03" x2="163.03" y1="411.0" y2="413.60" stroke="#555" stroke-width="1"/>
<text x="163.03" y="423.60" font-size="11.1" text-anchor="middle" fill="#1a1a1a">2</text>
<line x1="214.46" x2="214.46" y1="411.0" y2="413.60" stroke="#555" stroke-width="1"/>
<text x="214.46" y="423.60" font-size="11.1" text-anchor="middle" fill="#1a1a1a">3</text>
<line x1="265.89" x2="265.89" y1="411.0" y2="413.60" stroke="#555" stroke-width="1"/>
<text x="265.89" y="423.60" font-size="11.1" text-anchor="middle" fill="#1a1a1a">4</text>
<line x1="317.32" x2="317.32" y1="411.0" y2="413.60" stroke="#555" stroke-width="1"/>
<text x="317.32" y="423.60" font-size="11.1" text-anchor="middle" fill="#1a1a1a">5</text>
<line x1="368.75" x2="368.75" y1="411.0" y2="413.60" stroke="#555" stroke-width="1"/>
<text x="368.75" y="423.60" font-size="11.1" text-anchor="middle" fill="#1a1a1a">6</text>
<line x1="420.18" x2="420.18" y1="411.0" y2="413.60" stroke="#555" stroke-width="1"/>
<text x="420.18" y="423.60" font-size="11.1" text-anchor="middle" fill="#1a1a1a">7</text>
<line x1="471.61" x2="471.61" y1="411.0" y2="413.60" stroke="#555" stroke-width="1"/>
<text x="471.61" y="423.60" font-size="11.1" text-anchor="middle" fill="#1a1a1a">8</text>
<line x1="523.04" x2="523.04" y1="411.0" y2="413.60" stroke="#555" stroke-width="1"/>
<text x="523.04" y="423.60" font-size="11.1" text-anchor="middle" fill="#1a1a1a">9</text>
<line x1="574.47" x2="574.47" y1="411.0" y2="413.60" stroke="#555" stroke-width="1"/>
<text x="574.47" y="423.60" font-size="11.1" text-anchor="middle" fill="#1a1a1a">10</text>
<line x1="625.90" x2="625.90" y1="411.0" y2="413.60" stroke="#555" stroke-width="1"/>
<text x="625.90" y="423.60" font-size="11.1" text-anchor="middle" fill="#1a1a1a">11</text>
<line x1="677.33" x2="677.33" y1="411.0" y2="413.60" stroke="#555" stroke-width="1"/>
<text x="677.33" y="423.60" font-size="11.1" text-anchor="middle" fill="#1a1a1a">12</text>
<text x="394.85" y="443.90" font-size="15.4" text-anchor="middle" fill="#000">Plate</text>
<text transform="translate(27.0 212.80) rotate(-90)" font-size="15.4" text-anchor="middle" fill="#000">Read counts per sample</text>
<text x="0" y="11.30" font-size="12" font-weight="bold" fill="#000">(a)</text>
<line x1="81.3" x2="708.4" y1="820.12" y2="820.12" stroke="#f5f5f5" stroke-width="0.8"/>
<line x1="81.3" x2="708.4" y1="748.16" y2="748.16" stroke="#f5f5f5" stroke-width="0.8"/>
<line x1="81.3" x2="708.4" y1="676.20" y2="676.20" stroke="#f5f5f5" stroke-width="0.8"/>
<line x1="81.3" x2="708.4" y1="604.24" y2="604.24" stroke="#f5f5f5" stroke-width="0.8"/>
<line x1="81.3" x2="708.4" y1="532.28" y2="532.28" stroke="#f5f5f5" stroke-width="0.8"/>
<line x1="81.3" x2="708.4" y1="856.10" y2="856.10" stroke="#ebebeb" stroke-width="1"/>
<line x1="81.3" x2="708.4" y1="784.14" y2="784.14" stroke="#ebebeb" stroke-width="1"/>
<line x1="81.3" x2="708.4" y1="712.18" y2="712.18" stroke="#ebebeb" stroke-width="1"/>
<line x1="81.3" x2="708.4" y1="640.22" y2="640.22" stroke="#ebebeb" stroke-width="1"/>
<line x1="81.3" x2="708.4" y1="568.26" y2="568.26" stroke="#ebebeb" stroke-width="1"/>
<line x1="81.3" x2="708.4" y1="496.30" y2="496.30" stroke="#ebebeb" stroke-width="1"/>
<line x1="111.60" x2="111.60" y1="476.5" y2="872.85" stroke="#ebebeb" stroke-width="1"/>
<line x1="163.03" x2="163.03" y1="476.5" y2="872.85" stroke="#ebebeb" stroke-width="1"/>
<line x1="214.46" x2="214.46" y1="476.5" y2="872.85" stroke="#ebebeb" stroke-width="1"/>
<line x1="265.89" x2="265.89" y1="476.5" y2="872.85" stroke="#ebebeb" stroke-width="1"/>
<line x1="317.32" x2="317.32" y1="476.5" y2="872.85" stroke="#ebebeb" stroke-width="1"/>
<line x1="368.75" x2="368.75" y1="476.5" y2="872.85" stroke="#ebebeb" stroke-width="1"/>
<line x1="420.18" x2="420.18" y1="476.5" y2="872.85" stroke="#ebebeb" stroke-width="1"/>
<line x1="471.61" x2="471.61" y1="476.5" y2="872.85" stroke="#ebebeb" stroke-width="1"/>
<line x1="523.04" x2="523.04" y1="476.5" y2="872.85" stroke="#ebebeb" stroke-width="1"/>
<line x1="574.47" x2="574.47" y1="476.5" y2="872.85" stroke="#ebebeb" stroke-width="1"/>
<line x1="625.90" x2="625.90" y1="476.5" y2="872.85" stroke="#ebebeb" stroke-width="1"/>
<line x1="677.33" x2="677.33" y1="476.5" y2="872.85" stroke="#ebebeb" stroke-width="1"/>
<path d="M110.70,746.30 L110.63,746.80 L110.56,747.30 L110.49,747.80 L110.41,748.30 L110.33,748.80 L110.24,749.30 L110.16,749.80 L110.07,750.30 L109.98,750.80 L109.88,751.30 L109.78,751.80 L109.68,752.30 L109.58,752.80 L109.48,753.30 L109.36,753.80 L109.24,754.30 L109.10,754.80 L108.96,755.30 L108.81,755.80 L108.66,756.30 L108.52,756.80 L108.37,757.30 L108.23,757.80 L108.10,758.30 L107.99,758.80 L107.89,759.30 L107.80,759.80 L107.72,760.30 L107.65,760.80 L107.57,761.30 L107.50,761.80 L107.43,762.30 L107.36,762.80 L107.30,763.30 L107.24,763.80 L107.19,764.30 L107.15,764.80 L107.12,765.30 L107.11,765.80 L107.10,766.30 L107.11,766.80 L107.15,767.30 L107.22,767.80 L107.30,768.30 L107.40,768.80 L107.51,769.30 L107.64,769.80 L107.77,770.30 L107.91,770.80 L108.05,771.30 L108.20,771.80 L108.34,772.30 L108.47,772.80 L108.61,773.30 L108.77,773.80 L108.94,774.30 L109.12,774.80 L109.32,775.30 L109.51,775.80 L109.71,776.30 L109.90,776.80 L110.09,777.30 L110.26,777.80 L110.42,778.30 L110.55,778.80 L110.66,779.30 L110.75,779.80 L110.84,780.30 L110.92,780.80 L111.01,781.30 L111.08,781.80 L111.16,782.30 L111.22,782.80 L111.28,783.30 L111.33,783.80 L111.37,784.30 L111.39,784.80 L111.40,785.30 L111.39,785.80 L111.37,786.30 L111.33,786.80 L111.28,787.30 L111.21,787.80 L111.13,788.30 L111.04,788.80 L110.94,789.30 L110.84,789.80 L110.72,790.30 L110.60,790.80 L110.47,791.30 L110.34,791.80 L110.21,792.30 L110.07,792.80 L109.91,793.30 L109.72,793.80 L109.50,794.30 L109.25,794.80 L108.99,795.30 L108.71,795.80 L108.41,796.30 L108.11,796.80 L107.80,797.30 L107.49,797.80 L107.18,798.30 L106.89,798.80 L106.60,799.30 L106.32,799.80 L106.05,800.30 L105.79,800.80 L105.52,801.30 L105.25,801.80 L104.98,802.30 L104.70,802.80 L104.42,803.30 L104.12,803.80 L103.81,804.30 L103.48,804.80 L103.14,805.30 L102.78,805.80 L102.38,806.30 L101.93,806.80 L101.43,807.30 L100.90,807.80 L100.34,808.30 L99.76,808.80 L99.17,809.30 L98.58,809.80 L98.00,810.30 L97.43,810.80 L96.88,811.30 L96.36,811.80 L95.89,812.30 L95.44,812.80 L95.00,813.30 L94.55,813.80 L94.10,814.30 L93.66,814.80 L93.23,815.30 L92.82,815.80 L92.43,816.30 L92.06,816.80 L91.71,817.30 L91.40,817.80 L91.12,818.30 L90.88,818.80 L90.68,819.30 L90.48,819.80 L90.28,820.30 L90.09,820.80 L89.91,821.30 L89.73,821.80 L89.57,822.30 L89.42,822.80 L89.29,823.30 L89.19,823.80 L89.10,824.30 L89.04,824.80 L89.01,825.30 L89.01,825.80 L89.06,826.30 L89.18,826.80 L89.34,827.30 L89.55,827.80 L89.80,828.30 L90.09,828.80 L90.40,829.30 L90.73,829.80 L91.07,830.30 L91.42,830.80 L91.78,831.30 L92.13,831.80 L92.47,832.30 L92.84,832.80 L93.26,833.30 L93.73,833.80 L94.22,834.30 L94.74,834.80 L95.27,835.30 L95.81,835.80 L96.35,836.30 L96.88,836.80 L97.38,837.30 L97.86,837.80 L98.30,838.30 L98.70,838.80 L99.06,839.30 L99.41,839.80 L99.74,840.30 L100.06,840.80 L100.37,841.30 L100.68,841.80 L100.97,842.30 L101.25,842.80 L101.54,843.30 L101.81,843.80 L102.09,844.30 L102.37,844.80 L102.64,845.30 L102.92,845.80 L103.20,846.30 L103.47,846.80 L103.73,847.30 L104.00,847.80 L104.26,848.30 L104.51,848.80 L104.77,849.30 L105.01,849.80 L105.26,850.30 L105.49,850.80 L105.73,851.30 L105.96,851.80 L106.18,852.30 L106.40,852.80 L106.62,853.30 L106.83,853.80 L107.00,854.20 L116.20,854.20 L116.37,853.80 L116.58,853.30 L116.80,852.80 L117.02,852.30 L117.24,851.80 L117.47,851.30 L117.71,850.80 L117.94,850.30 L118.19,849.80 L118.43,849.30 L118.69,848.80 L118.94,848.30 L119.20,847.80 L119.47,847.30 L119.73,846.80 L120.00,846.30 L120.28,845.80 L120.56,845.30 L120.83,844.80 L121.11,844.30 L121.39,843.80 L121.66,843.30 L121.95,842.80 L122.23,842.30 L122.52,841.80 L122.83,841.30 L123.14,840.80 L123.46,840.30 L123.79,839.80 L124.14,839.30 L124.50,838.80 L124.90,838.30 L125.34,837.80 L125.82,837.30 L126.32,836.80 L126.85,836.30 L127.39,835.80 L127.93,835.30 L128.46,834.80 L128.98,834.30 L129.47,833.80 L129.94,833.30 L130.36,832.80 L130.73,832.30 L131.07,831.80 L131.42,831.30 L131.78,830.80 L132.13,830.30 L132.47,829.80 L132.80,829.30 L133.11,828.80 L133.40,828.30 L133.65,827.80 L133.86,827.30 L134.02,826.80 L134.14,826.30 L134.19,825.80 L134.19,825.30 L134.16,824.80 L134.10,824.30 L134.01,823.80 L133.91,823.30 L133.78,822.80 L133.63,822.30 L133.47,821.80 L133.29,821.30 L133.11,820.80 L132.92,820.30 L132.72,819.80 L132.52,819.30 L132.32,818.80 L132.08,818.30 L131.80,817.80 L131.49,817.30 L131.14,816.80 L130.77,816.30 L130.38,815.80 L129.97,815.30 L129.54,814.80 L129.10,814.30 L128.65,813.80 L128.20,813.30 L127.76,812.80 L127.31,812.30 L126.84,811.80 L126.32,811.30 L125.77,810.80 L125.20,810.30 L124.62,809.80 L124.03,809.30 L123.44,808.80 L122.86,808.30 L122.30,807.80 L121.77,807.30 L121.27,806.80 L120.82,806.30 L120.42,805.80 L120.06,805.30 L119.72,804.80 L119.39,804.30 L119.08,803.80 L118.78,803.30 L118.50,802.80 L118.22,802.30 L117.95,801.80 L117.68,801.30 L117.41,800.80 L117.15,800.30 L116.88,799.80 L116.60,799.30 L116.31,798.80 L116.02,798.30 L115.71,797.80 L115.40,797.30 L115.09,796.80 L114.79,796.30 L114.49,795.80 L114.21,795.30 L113.95,794.80 L113.70,794.30 L113.48,793.80 L113.29,793.30 L113.13,792.80 L112.99,792.30 L112.86,791.80 L112.73,791.30 L112.60,790.80 L112.48,790.30 L112.36,789.80 L112.26,789.30 L112.16,788.80 L112.07,788.30 L111.99,787.80 L111.92,787.30 L111.87,786.80 L111.83,786.30 L111.81,785.80 L111.80,785.30 L111.81,784.80 L111.83,784.30 L111.87,783.80 L111.92,783.30 L111.98,782.80 L112.04,782.30 L112.12,781.80 L112.19,781.30 L112.28,780.80 L112.36,780.30 L112.45,779.80 L112.54,779.30 L112.65,778.80 L112.78,778.30 L112.94,777.80 L113.11,777.30 L113.30,776.80 L113.49,776.30 L113.69,775.80 L113.88,775.30 L114.08,774.80 L114.26,774.30 L114.43,773.80 L114.59,773.30 L114.73,772.80 L114.86,772.30 L115.00,771.80 L115.15,771.30 L115.29,770.80 L115.43,770.30 L115.56,769.80 L115.69,769.30 L115.80,768.80 L115.90,768.30 L115.98,767.80 L116.05,767.30 L116.09,766.80 L116.10,766.30 L116.09,765.80 L116.08,765.30 L116.05,764.80 L116.01,764.30 L115.96,763.80 L115.90,763.30 L115.84,762.80 L115.77,762.30 L115.70,761.80 L115.63,761.30 L115.55,760.80 L115.48,760.30 L115.40,759.80 L115.31,759.30 L115.21,758.80 L115.10,758.30 L114.97,757.80 L114.83,757.30 L114.68,756.80 L114.54,756.30 L114.39,755.80 L114.24,755.30 L114.10,754.80 L113.96,754.30 L113.84,753.80 L113.72,753.30 L113.62,752.80 L113.52,752.30 L113.42,751.80 L113.32,751.30 L113.22,750.80 L113.13,750.30 L113.04,749.80 L112.96,749.30 L112.87,748.80 L112.79,748.30 L112.71,747.80 L112.64,747.30 L112.57,746.80 L112.50,746.30 Z" fill="none" stroke="#3c3c3c" stroke-width="1.1" stroke-linejoin="round"/>
<path d="M161.78,726.50 L161.78,727.00 L161.79,727.50 L161.79,728.00 L161.79,728.50 L161.80,729.00 L161.80,729.50 L161.80,730.00 L161.80,730.50 L161.81,731.00 L161.81,731.50 L161.81,732.00 L161.81,732.50 L161.81,733.00 L161.82,733.50 L161.82,734.00 L161.82,734.50 L161.82,735.00 L161.82,735.50 L161.82,736.00 L161.82,736.50 L161.82,737.00 L161.83,737.50 L161.83,738.00 L161.83,738.50 L161.83,739.00 L161.83,739.50 L161.83,740.00 L161.83,740.50 L161.83,741.00 L161.83,741.50 L161.83,742.00 L161.83,742.50 L161.83,743.00 L161.83,743.50 L161.83,744.00 L161.83,744.50 L161.83,745.00 L161.83,745.50 L161.83,746.00 L161.83,746.50 L161.83,747.00 L161.83,747.50 L161.83,748.00 L161.82,748.50 L161.82,749.00 L161.81,749.50 L161.80,750.00 L161.79,750.50 L161.79,751.00 L161.77,751.50 L161.76,752.00 L161.75,752.50 L161.74,753.00 L161.72,753.50 L161.71,754.00 L161.69,754.50 L161.67,755.00 L161.65,755.50 L161.64,756.00 L161.62,756.50 L161.60,757.00 L161.57,757.50 L161.55,758.00 L161.53,758.50 L161.51,759.00 L161.49,759.50 L161.46,760.00 L161.44,760.50 L161.41,761.00 L161.39,761.50 L161.37,762.00 L161.34,762.50 L161.31,763.00 L161.28,763.50 L161.25,764.00 L161.21,764.50 L161.17,765.00 L161.13,765.50 L161.08,766.00 L161.03,766.50 L160.97,767.00 L160.92,767.50 L160.86,768.00 L160.80,768.50 L160.73,769.00 L160.66,769.50 L160.60,770.00 L160.52,770.50 L160.45,771.00 L160.38,771.50 L160.30,772.00 L160.23,772.50 L160.15,773.00 L160.07,773.50 L159.99,774.00 L159.91,774.50 L159.83,775.00 L159.75,775.50 L159.67,776.00 L159.58,776.50 L159.50,777.00 L159.42,777.50 L159.34,778.00 L159.26,778.50 L159.18,779.00 L159.10,779.50 L159.03,780.00 L158.95,780.50 L158.87,781.00 L158.78,781.50 L158.70,782.00 L158.61,782.50 L158.52,783.00 L158.43,783.50 L158.33,784.00 L158.23,784.50 L158.12,785.00 L158.01,785.50 L157.88,786.00 L157.76,786.50 L157.62,787.00 L157.46,787.50 L157.28,788.00 L157.08,788.50 L156.88,789.00 L156.65,789.50 L156.42,790.00 L156.18,790.50 L155.94,791.00 L155.68,791.50 L155.43,792.00 L155.17,792.50 L154.92,793.00 L154.67,793.50 L154.42,794.00 L154.18,794.50 L153.94,795.00 L153.70,795.50 L153.45,796.00 L153.20,796.50 L152.95,797.00 L152.69,797.50 L152.43,798.00 L152.18,798.50 L151.92,799.00 L151.67,799.50 L151.42,800.00 L151.17,800.50 L150.92,801.00 L150.69,801.50 L150.45,802.00 L150.23,802.50 L150.01,803.00 L149.79,803.50 L149.58,804.00 L149.37,804.50 L149.16,805.00 L148.95,805.50 L148.75,806.00 L148.55,806.50 L148.35,807.00 L148.15,807.50 L147.96,808.00 L147.77,808.50 L147.58,809.00 L147.39,809.50 L147.21,810.00 L147.03,810.50 L146.85,811.00 L146.67,811.50 L146.49,812.00 L146.31,812.50 L146.14,813.00 L145.96,813.50 L145.79,814.00 L145.62,814.50 L145.45,815.00 L145.29,815.50 L145.14,816.00 L144.98,816.50 L144.83,817.00 L144.69,817.50 L144.56,818.00 L144.43,818.50 L144.30,819.00 L144.17,819.50 L144.03,820.00 L143.90,820.50 L143.76,821.00 L143.63,821.50 L143.50,822.00 L143.37,822.50 L143.26,823.00 L143.15,823.50 L143.06,824.00 L142.98,824.50 L142.91,825.00 L142.86,825.50 L142.84,826.00 L142.83,826.50 L142.86,827.00 L142.94,827.50 L143.06,828.00 L143.21,828.50 L143.40,829.00 L143.62,829.50 L143.86,830.00 L144.13,830.50 L144.42,831.00 L144.72,831.50 L145.04,832.00 L145.36,832.50 L145.70,833.00 L146.03,833.50 L146.37,834.00 L146.70,834.50 L147.06,835.00 L147.47,835.50 L147.93,836.00 L148.41,836.50 L148.93,837.00 L149.47,837.50 L150.02,838.00 L150.59,838.50 L151.16,839.00 L151.72,839.50 L152.28,840.00 L152.82,840.50 L153.35,841.00 L153.93,841.50 L154.54,842.00 L155.17,842.50 L155.81,843.00 L156.45,843.50 L157.08,844.00 L157.68,844.50 L158.25,845.00 L158.76,845.50 L159.21,846.00 L159.59,846.50 L159.88,847.00 L160.11,847.50 L160.33,848.00 L160.53,848.50 L160.72,849.00 L160.88,849.50 L161.01,850.00 L161.09,850.50 L161.13,851.00 L161.13,851.10 L164.93,851.10 L164.93,851.00 L164.97,850.50 L165.05,850.00 L165.18,849.50 L165.34,849.00 L165.53,848.50 L165.73,848.00 L165.95,847.50 L166.18,847.00 L166.47,846.50 L166.85,846.00 L167.30,845.50 L167.81,845.00 L168.38,844.50 L168.98,844.00 L169.61,843.50 L170.25,843.00 L170.89,842.50 L171.52,842.00 L172.13,841.50 L172.71,841.00 L173.24,840.50 L173.78,840.00 L174.34,839.50 L174.90,839.00 L175.47,838.50 L176.04,838.00 L176.59,837.50 L177.13,837.00 L177.65,836.50 L178.13,836.00 L178.59,835.50 L179.00,835.00 L179.36,834.50 L179.69,834.00 L180.03,833.50 L180.36,833.00 L180.70,832.50 L181.02,832.00 L181.34,831.50 L181.64,831.00 L181.93,830.50 L182.20,830.00 L182.44,829.50 L182.66,829.00 L182.85,828.50 L183.00,828.00 L183.12,827.50 L183.20,827.00 L183.23,826.50 L183.22,826.00 L183.20,825.50 L183.15,825.00 L183.08,824.50 L183.00,824.00 L182.91,823.50 L182.80,823.00 L182.69,822.50 L182.56,822.00 L182.43,821.50 L182.30,821.00 L182.16,820.50 L182.03,820.00 L181.89,819.50 L181.76,819.00 L181.63,818.50 L181.50,818.00 L181.37,817.50 L181.23,817.00 L181.08,816.50 L180.92,816.00 L180.77,815.50 L180.61,815.00 L180.44,814.50 L180.27,814.00 L180.10,813.50 L179.92,813.00 L179.75,812.50 L179.57,812.00 L179.39,811.50 L179.21,811.00 L179.03,810.50 L178.85,810.00 L178.67,809.50 L178.48,809.00 L178.29,808.50 L178.10,808.00 L177.91,807.50 L177.71,807.00 L177.51,806.50 L177.31,806.00 L177.11,805.50 L176.90,805.00 L176.69,804.50 L176.48,804.00 L176.27,803.50 L176.05,803.00 L175.83,802.50 L175.61,802.00 L175.37,801.50 L175.14,801.00 L174.89,800.50 L174.64,800.00 L174.39,799.50 L174.14,799.00 L173.88,798.50 L173.63,798.00 L173.37,797.50 L173.11,797.00 L172.86,796.50 L172.61,796.00 L172.36,795.50 L172.12,795.00 L171.88,794.50 L171.64,794.00 L171.39,793.50 L171.14,793.00 L170.89,792.50 L170.63,792.00 L170.38,791.50 L170.12,791.00 L169.88,790.50 L169.64,790.00 L169.41,789.50 L169.18,789.00 L168.98,788.50 L168.78,788.00 L168.60,787.50 L168.44,787.00 L168.30,786.50 L168.18,786.00 L168.05,785.50 L167.94,785.00 L167.83,784.50 L167.73,784.00 L167.63,783.50 L167.54,783.00 L167.45,782.50 L167.36,782.00 L167.28,781.50 L167.19,781.00 L167.11,780.50 L167.03,780.00 L166.96,779.50 L166.88,779.00 L166.80,778.50 L166.72,778.00 L166.64,777.50 L166.56,777.00 L166.48,776.50 L166.39,776.00 L166.31,775.50 L166.23,775.00 L166.15,774.50 L166.07,774.00 L165.99,773.50 L165.91,773.00 L165.83,772.50 L165.76,772.00 L165.68,771.50 L165.61,771.00 L165.54,770.50 L165.46,770.00 L165.40,769.50 L165.33,769.00 L165.26,768.50 L165.20,768.00 L165.14,767.50 L165.09,767.00 L165.03,766.50 L164.98,766.00 L164.93,765.50 L164.89,765.00 L164.85,764.50 L164.81,764.00 L164.78,763.50 L164.75,763.00 L164.72,762.50 L164.69,762.00 L164.67,761.50 L164.65,761.00 L164.62,760.50 L164.60,760.00 L164.57,759.50 L164.55,759.00 L164.53,758.50 L164.51,758.00 L164.49,757.50 L164.46,757.00 L164.44,756.50 L164.42,756.00 L164.41,755.50 L164.39,755.00 L164.37,754.50 L164.35,754.00 L164.34,753.50 L164.32,753.00 L164.31,752.50 L164.30,752.00 L164.29,751.50 L164.27,751.00 L164.27,750.50 L164.26,750.00 L164.25,749.50 L164.24,749.00 L164.24,748.50 L164.23,748.00 L164.23,747.50 L164.23,747.00 L164.23,746.50 L164.23,746.00 L164.23,745.50 L164.23,745.00 L164.23,744.50 L164.23,744.00 L164.23,743.50 L164.23,743.00 L164.23,742.50 L164.23,742.00 L164.23,741.50 L164.23,741.00 L164.23,740.50 L164.23,740.00 L164.23,739.50 L164.23,739.00 L164.23,738.50 L164.23,738.00 L164.23,737.50 L164.24,737.00 L164.24,736.50 L164.24,736.00 L164.24,735.50 L164.24,735.00 L164.24,734.50 L164.24,734.00 L164.24,733.50 L164.25,733.00 L164.25,732.50 L164.25,732.00 L164.25,731.50 L164.25,731.00 L164.26,730.50 L164.26,730.00 L164.26,729.50 L164.26,729.00 L164.27,728.50 L164.27,728.00 L164.27,727.50 L164.28,727.00 L164.28,726.50 Z" fill="none" stroke="#3c3c3c" stroke-width="1.1" stroke-linejoin="round"/>
<path d="M213.96,730.50 L213.94,731.00 L213.93,731.50 L213.91,732.00 L213.90,732.50 L213.88,733.00 L213.86,733.50 L213.85,734.00 L213.83,734.50 L213.81,735.00 L213.80,735.50 L213.78,736.00 L213.76,736.50 L213.75,737.00 L213.73,737.50 L213.71,738.00 L213.69,738.50 L213.68,739.00 L213.66,739.50 L213.64,740.00 L213.63,740.50 L213.61,741.00 L213.59,741.50 L213.57,742.00 L213.56,742.50 L213.54,743.00 L213.52,743.50 L213.50,744.00 L213.48,744.50 L213.47,745.00 L213.45,745.50 L213.43,746.00 L213.41,746.50 L213.39,747.00 L213.38,747.50 L213.36,748.00 L213.34,748.50 L213.32,749.00 L213.30,749.50 L213.29,750.00 L213.27,750.50 L213.25,751.00 L213.23,751.50 L213.21,752.00 L213.20,752.50 L213.18,753.00 L213.16,753.50 L213.15,754.00 L213.13,754.50 L213.12,755.00 L213.10,755.50 L213.09,756.00 L213.07,756.50 L213.06,757.00 L213.04,757.50 L213.02,758.00 L213.01,758.50 L212.99,759.00 L212.97,759.50 L212.95,760.00 L212.94,760.50 L212.92,761.00 L212.90,761.50 L212.87,762.00 L212.85,762.50 L212.83,763.00 L212.80,763.50 L212.78,764.00 L212.75,764.50 L212.73,765.00 L212.70,765.50 L212.67,766.00 L212.63,766.50 L212.60,767.00 L212.56,767.50 L212.51,768.00 L212.47,768.50 L212.42,769.00 L212.36,769.50 L212.30,770.00 L212.24,770.50 L212.18,771.00 L212.11,771.50 L212.04,772.00 L211.96,772.50 L211.89,773.00 L211.81,773.50 L211.72,774.00 L211.64,774.50 L211.55,775.00 L211.46,775.50 L211.36,776.00 L211.26,776.50 L211.16,777.00 L211.06,777.50 L210.96,778.00 L210.85,778.50 L210.74,779.00 L210.63,779.50 L210.52,780.00 L210.40,780.50 L210.28,781.00 L210.16,781.50 L210.03,782.00 L209.89,782.50 L209.73,783.00 L209.56,783.50 L209.38,784.00 L209.19,784.50 L208.99,785.00 L208.78,785.50 L208.56,786.00 L208.34,786.50 L208.11,787.00 L207.87,787.50 L207.64,788.00 L207.40,788.50 L207.16,789.00 L206.91,789.50 L206.65,790.00 L206.36,790.50 L206.06,791.00 L205.75,791.50 L205.43,792.00 L205.10,792.50 L204.77,793.00 L204.44,793.50 L204.11,794.00 L203.79,794.50 L203.47,795.00 L203.17,795.50 L202.88,796.00 L202.61,796.50 L202.36,797.00 L202.12,797.50 L201.87,798.00 L201.63,798.50 L201.39,799.00 L201.16,799.50 L200.93,800.00 L200.71,800.50 L200.49,801.00 L200.28,801.50 L200.09,802.00 L199.90,802.50 L199.72,803.00 L199.55,803.50 L199.40,804.00 L199.26,804.50 L199.13,805.00 L198.99,805.50 L198.85,806.00 L198.72,806.50 L198.59,807.00 L198.46,807.50 L198.34,808.00 L198.22,808.50 L198.12,809.00 L198.02,809.50 L197.94,810.00 L197.87,810.50 L197.82,811.00 L197.78,811.50 L197.76,812.00 L197.76,812.50 L197.77,813.00 L197.79,813.50 L197.81,814.00 L197.84,814.50 L197.87,815.00 L197.91,815.50 L197.96,816.00 L198.01,816.50 L198.06,817.00 L198.11,817.50 L198.16,818.00 L198.21,818.50 L198.27,819.00 L198.32,819.50 L198.37,820.00 L198.42,820.50 L198.48,821.00 L198.54,821.50 L198.60,822.00 L198.67,822.50 L198.74,823.00 L198.81,823.50 L198.89,824.00 L198.96,824.50 L199.04,825.00 L199.12,825.50 L199.20,826.00 L199.28,826.50 L199.36,827.00 L199.44,827.50 L199.53,828.00 L199.61,828.50 L199.69,829.00 L199.78,829.50 L199.86,830.00 L199.95,830.50 L200.03,831.00 L200.12,831.50 L200.22,832.00 L200.31,832.50 L200.41,833.00 L200.51,833.50 L200.61,834.00 L200.72,834.50 L200.83,835.00 L200.94,835.50 L201.06,836.00 L201.18,836.50 L201.31,837.00 L201.45,837.50 L201.59,838.00 L201.74,838.50 L201.90,839.00 L202.07,839.50 L202.24,840.00 L202.42,840.50 L202.60,841.00 L202.80,841.50 L202.99,842.00 L203.20,842.50 L203.41,843.00 L203.62,843.50 L203.84,844.00 L204.07,844.50 L204.30,845.00 L204.54,845.50 L204.79,846.00 L205.06,846.50 L205.33,847.00 L205.61,847.50 L205.90,848.00 L206.20,848.50 L206.51,849.00 L206.83,849.50 L207.15,850.00 L207.48,850.50 L207.83,851.00 L208.17,851.50 L208.53,852.00 L208.89,852.50 L209.26,853.00 L209.56,853.40 L219.36,853.40 L219.66,853.00 L220.03,852.50 L220.39,852.00 L220.75,851.50 L221.09,851.00 L221.44,850.50 L221.77,850.00 L222.09,849.50 L222.41,849.00 L222.72,848.50 L223.02,848.00 L223.31,847.50 L223.59,847.00 L223.86,846.50 L224.13,846.00 L224.38,845.50 L224.62,845.00 L224.85,844.50 L225.08,844.00 L225.30,843.50 L225.51,843.00 L225.72,842.50 L225.93,842.00 L226.12,841.50 L226.32,841.00 L226.50,840.50 L226.68,840.00 L226.85,839.50 L227.02,839.00 L227.18,838.50 L227.33,838.00 L227.47,837.50 L227.61,837.00 L227.74,836.50 L227.86,836.00 L227.98,835.50 L228.09,835.00 L228.20,834.50 L228.31,834.00 L228.41,833.50 L228.51,833.00 L228.61,832.50 L228.70,832.00 L228.80,831.50 L228.89,831.00 L228.97,830.50 L229.06,830.00 L229.14,829.50 L229.23,829.00 L229.31,828.50 L229.39,828.00 L229.48,827.50 L229.56,827.00 L229.64,826.50 L229.72,826.00 L229.80,825.50 L229.88,825.00 L229.96,824.50 L230.03,824.00 L230.11,823.50 L230.18,823.00 L230.25,822.50 L230.32,822.00 L230.38,821.50 L230.44,821.00 L230.50,820.50 L230.55,820.00 L230.60,819.50 L230.65,819.00 L230.71,818.50 L230.76,818.00 L230.81,817.50 L230.86,817.00 L230.91,816.50 L230.96,816.00 L231.01,815.50 L231.05,815.00 L231.08,814.50 L231.11,814.00 L231.13,813.50 L231.15,813.00 L231.16,812.50 L231.16,812.00 L231.14,811.50 L231.10,811.00 L231.05,810.50 L230.98,810.00 L230.90,809.50 L230.80,809.00 L230.70,808.50 L230.58,808.00 L230.46,807.50 L230.33,807.00 L230.20,806.50 L230.07,806.00 L229.93,805.50 L229.79,805.00 L229.66,804.50 L229.52,804.00 L229.37,803.50 L229.20,803.00 L229.02,802.50 L228.83,802.00 L228.64,801.50 L228.43,801.00 L228.21,800.50 L227.99,800.00 L227.76,799.50 L227.53,799.00 L227.29,798.50 L227.05,798.00 L226.80,797.50 L226.56,797.00 L226.31,796.50 L226.04,796.00 L225.75,795.50 L225.45,795.00 L225.13,794.50 L224.81,794.00 L224.48,793.50 L224.15,793.00 L223.82,792.50 L223.49,792.00 L223.17,791.50 L222.86,791.00 L222.56,790.50 L222.27,790.00 L222.01,789.50 L221.76,789.00 L221.52,788.50 L221.28,788.00 L221.05,787.50 L220.81,787.00 L220.58,786.50 L220.36,786.00 L220.14,785.50 L219.93,785.00 L219.73,784.50 L219.54,784.00 L219.36,783.50 L219.19,783.00 L219.03,782.50 L218.89,782.00 L218.76,781.50 L218.64,781.00 L218.52,780.50 L218.40,780.00 L218.29,779.50 L218.18,779.00 L218.07,778.50 L217.96,778.00 L217.86,777.50 L217.76,777.00 L217.66,776.50 L217.56,776.00 L217.46,775.50 L217.37,775.00 L217.28,774.50 L217.20,774.00 L217.11,773.50 L217.03,773.00 L216.96,772.50 L216.88,772.00 L216.81,771.50 L216.74,771.00 L216.68,770.50 L216.62,770.00 L216.56,769.50 L216.50,769.00 L216.45,768.50 L216.41,768.00 L216.36,767.50 L216.32,767.00 L216.29,766.50 L216.25,766.00 L216.22,765.50 L216.19,765.00 L216.17,764.50 L216.14,764.00 L216.12,763.50 L216.09,763.00 L216.07,762.50 L216.05,762.00 L216.02,761.50 L216.00,761.00 L215.98,760.50 L215.97,760.00 L215.95,759.50 L215.93,759.00 L215.91,758.50 L215.90,758.00 L215.88,757.50 L215.86,757.00 L215.85,756.50 L215.83,756.00 L215.82,755.50 L215.80,755.00 L215.79,754.50 L215.77,754.00 L215.76,753.50 L215.74,753.00 L215.72,752.50 L215.71,752.00 L215.69,751.50 L215.67,751.00 L215.65,750.50 L215.63,750.00 L215.62,749.50 L215.60,749.00 L215.58,748.50 L215.56,748.00 L215.54,747.50 L215.53,747.00 L215.51,746.50 L215.49,746.00 L215.47,745.50 L215.45,745.00 L215.44,744.50 L215.42,744.00 L215.40,743.50 L215.38,743.00 L215.36,742.50 L215.35,742.00 L215.33,741.50 L215.31,741.00 L215.29,740.50 L215.28,740.00 L215.26,739.50 L215.24,739.00 L215.23,738.50 L215.21,738.00 L215.19,737.50 L215.17,737.00 L215.16,736.50 L215.14,736.00 L215.12,735.50 L215.11,735.00 L215.09,734.50 L215.07,734.00 L215.06,733.50 L215.04,733.00 L215.02,732.50 L215.01,732.00 L214.99,731.50 L214.98,731.00 L214.96,730.50 Z" fill="none" stroke="#3c3c3c" stroke-width="1.1" stroke-linejoin="round"/>
<path d="M265.49,699.00 L265.44,699.50 L265.39,700.00 L265.34,700.50 L265.29,701.00 L265.24,701.50 L265.19,702.00 L265.14,702.50 L265.10,703.00 L265.06,703.50 L265.01,704.00 L264.97,704.50 L264.93,705.00 L264.89,705.50 L264.86,706.00 L264.82,706.50 L264.78,707.00 L264.75,707.50 L264.72,708.00 L264.69,708.50 L264.66,709.00 L264.63,709.50 L264.60,710.00 L264.58,710.50 L264.55,711.00 L264.53,711.50 L264.51,712.00 L264.49,712.50 L264.48,713.00 L264.46,713.50 L264.45,714.00 L264.43,714.50 L264.42,715.00 L264.41,715.50 L264.40,716.00 L264.40,716.50 L264.39,717.00 L264.39,717.50 L264.39,718.00 L264.39,718.50 L264.40,719.00 L264.40,719.50 L264.41,720.00 L264.42,720.50 L264.44,721.00 L264.46,721.50 L264.47,722.00 L264.49,722.50 L264.51,723.00 L264.54,723.50 L264.56,724.00 L264.59,724.50 L264.61,725.00 L264.64,725.50 L264.67,726.00 L264.69,726.50 L264.72,727.00 L264.75,727.50 L264.78,728.00 L264.81,728.50 L264.83,729.00 L264.86,729.50 L264.89,730.00 L264.91,730.50 L264.94,731.00 L264.96,731.50 L264.98,732.00 L265.00,732.50 L265.02,733.00 L265.04,733.50 L265.05,734.00 L265.07,734.50 L265.08,735.00 L265.08,735.50 L265.09,736.00 L265.09,736.50 L265.09,737.00 L265.08,737.50 L265.08,738.00 L265.06,738.50 L265.05,739.00 L265.03,739.50 L265.01,740.00 L264.99,740.50 L264.96,741.00 L264.93,741.50 L264.90,742.00 L264.87,742.50 L264.84,743.00 L264.80,743.50 L264.77,744.00 L264.73,744.50 L264.69,745.00 L264.65,745.50 L264.61,746.00 L264.56,746.50 L264.52,747.00 L264.48,747.50 L264.44,748.00 L264.39,748.50 L264.35,749.00 L264.31,749.50 L264.26,750.00 L264.22,750.50 L264.18,751.00 L264.14,751.50 L264.10,752.00 L264.07,752.50 L264.03,753.00 L264.00,753.50 L263.96,754.00 L263.93,754.50 L263.91,755.00 L263.88,755.50 L263.86,756.00 L263.83,756.50 L263.81,757.00 L263.79,757.50 L263.77,758.00 L263.75,758.50 L263.73,759.00 L263.71,759.50 L263.69,760.00 L263.67,760.50 L263.66,761.00 L263.64,761.50 L263.62,762.00 L263.60,762.50 L263.59,763.00 L263.57,763.50 L263.55,764.00 L263.54,764.50 L263.52,765.00 L263.50,765.50 L263.49,766.00 L263.47,766.50 L263.45,767.00 L263.43,767.50 L263.41,768.00 L263.39,768.50 L263.37,769.00 L263.35,769.50 L263.32,770.00 L263.30,770.50 L263.27,771.00 L263.24,771.50 L263.22,772.00 L263.19,772.50 L263.16,773.00 L263.12,773.50 L263.09,774.00 L263.05,774.50 L263.01,775.00 L262.97,775.50 L262.92,776.00 L262.86,776.50 L262.81,777.00 L262.75,777.50 L262.68,778.00 L262.61,778.50 L262.54,779.00 L262.47,779.50 L262.39,780.00 L262.31,780.50 L262.22,781.00 L262.13,781.50 L262.04,782.00 L261.95,782.50 L261.85,783.00 L261.75,783.50 L261.63,784.00 L261.51,784.50 L261.36,785.00 L261.21,785.50 L261.05,786.00 L260.87,786.50 L260.69,787.00 L260.50,787.50 L260.31,788.00 L260.11,788.50 L259.91,789.00 L259.71,789.50 L259.50,790.00 L259.30,790.50 L259.10,791.00 L258.91,791.50 L258.71,792.00 L258.53,792.50 L258.34,793.00 L258.15,793.50 L257.94,794.00 L257.73,794.50 L257.52,795.00 L257.30,795.50 L257.09,796.00 L256.87,796.50 L256.65,797.00 L256.44,797.50 L256.23,798.00 L256.03,798.50 L255.85,799.00 L255.67,799.50 L255.50,800.00 L255.35,800.50 L255.21,801.00 L255.09,801.50 L254.99,802.00 L254.90,802.50 L254.81,803.00 L254.72,803.50 L254.64,804.00 L254.55,804.50 L254.48,805.00 L254.40,805.50 L254.33,806.00 L254.27,806.50 L254.22,807.00 L254.17,807.50 L254.14,808.00 L254.11,808.50 L254.09,809.00 L254.09,809.50 L254.10,810.00 L254.13,810.50 L254.18,811.00 L254.23,811.50 L254.30,812.00 L254.38,812.50 L254.47,813.00 L254.56,813.50 L254.66,814.00 L254.77,814.50 L254.88,815.00 L254.98,815.50 L255.09,816.00 L255.20,816.50 L255.30,817.00 L255.40,817.50 L255.49,818.00 L255.57,818.50 L255.64,819.00 L255.70,819.50 L255.75,820.00 L255.79,820.50 L255.81,821.00 L255.83,821.50 L255.85,822.00 L255.87,822.50 L255.89,823.00 L255.91,823.50 L255.93,824.00 L255.95,824.50 L255.97,825.00 L255.98,825.50 L256.00,826.00 L256.01,826.50 L256.03,827.00 L256.04,827.50 L256.05,828.00 L256.06,828.50 L256.07,829.00 L256.07,829.50 L256.08,830.00 L256.08,830.50 L256.09,831.00 L256.09,831.50 L256.09,832.00 L256.08,832.50 L256.07,833.00 L256.05,833.50 L256.03,834.00 L256.00,834.50 L255.97,835.00 L255.94,835.50 L255.90,836.00 L255.86,836.50 L255.82,837.00 L255.78,837.50 L255.74,838.00 L255.70,838.50 L255.66,839.00 L255.63,839.50 L255.60,840.00 L255.57,840.50 L255.54,841.00 L255.52,841.50 L255.50,842.00 L255.49,842.50 L255.49,843.00 L255.49,843.50 L255.50,844.00 L255.52,844.50 L255.54,845.00 L255.56,845.50 L255.59,846.00 L255.63,846.50 L255.67,847.00 L255.72,847.50 L255.77,848.00 L255.82,848.50 L255.88,849.00 L255.95,849.50 L256.02,850.00 L256.09,850.50 L256.20,851.00 L256.38,851.50 L256.61,852.00 L256.86,852.50 L257.13,853.00 L257.29,853.30 L274.49,853.30 L274.65,853.00 L274.92,852.50 L275.17,852.00 L275.40,851.50 L275.58,851.00 L275.69,850.50 L275.76,850.00 L275.83,849.50 L275.90,849.00 L275.96,848.50 L276.01,848.00 L276.06,847.50 L276.11,847.00 L276.15,846.50 L276.19,846.00 L276.22,845.50 L276.24,845.00 L276.26,844.50 L276.28,844.00 L276.29,843.50 L276.29,843.00 L276.29,842.50 L276.28,842.00 L276.26,841.50 L276.24,841.00 L276.21,840.50 L276.18,840.00 L276.15,839.50 L276.12,839.00 L276.08,838.50 L276.04,838.00 L276.00,837.50 L275.96,837.00 L275.92,836.50 L275.88,836.00 L275.84,835.50 L275.81,835.00 L275.78,834.50 L275.75,834.00 L275.73,833.50 L275.71,833.00 L275.70,832.50 L275.69,832.00 L275.69,831.50 L275.69,831.00 L275.70,830.50 L275.70,830.00 L275.71,829.50 L275.71,829.00 L275.72,828.50 L275.73,828.00 L275.74,827.50 L275.75,827.00 L275.77,826.50 L275.78,826.00 L275.80,825.50 L275.81,825.00 L275.83,824.50 L275.85,824.00 L275.87,823.50 L275.89,823.00 L275.91,822.50 L275.93,822.00 L275.95,821.50 L275.97,821.00 L275.99,820.50 L276.03,820.00 L276.08,819.50 L276.14,819.00 L276.21,818.50 L276.29,818.00 L276.38,817.50 L276.48,817.00 L276.58,816.50 L276.69,816.00 L276.80,815.50 L276.90,815.00 L277.01,814.50 L277.12,814.00 L277.22,813.50 L277.31,813.00 L277.40,812.50 L277.48,812.00 L277.55,811.50 L277.60,811.00 L277.65,810.50 L277.68,810.00 L277.69,809.50 L277.69,809.00 L277.67,808.50 L277.64,808.00 L277.61,807.50 L277.56,807.00 L277.51,806.50 L277.45,806.00 L277.38,805.50 L277.30,805.00 L277.23,804.50 L277.14,804.00 L277.06,803.50 L276.97,803.00 L276.88,802.50 L276.79,802.00 L276.69,801.50 L276.57,801.00 L276.43,800.50 L276.28,800.00 L276.11,799.50 L275.93,799.00 L275.75,798.50 L275.55,798.00 L275.34,797.50 L275.13,797.00 L274.91,796.50 L274.69,796.00 L274.48,795.50 L274.26,795.00 L274.05,794.50 L273.84,794.00 L273.63,793.50 L273.44,793.00 L273.25,792.50 L273.07,792.00 L272.87,791.50 L272.68,791.00 L272.48,790.50 L272.28,790.00 L272.07,789.50 L271.87,789.00 L271.67,788.50 L271.47,788.00 L271.28,787.50 L271.09,787.00 L270.91,786.50 L270.73,786.00 L270.57,785.50 L270.42,785.00 L270.27,784.50 L270.15,784.00 L270.03,783.50 L269.93,783.00 L269.83,782.50 L269.74,782.00 L269.65,781.50 L269.56,781.00 L269.47,780.50 L269.39,780.00 L269.31,779.50 L269.24,779.00 L269.17,778.50 L269.10,778.00 L269.03,777.50 L268.97,777.00 L268.92,776.50 L268.86,776.00 L268.81,775.50 L268.77,775.00 L268.73,774.50 L268.69,774.00 L268.66,773.50 L268.62,773.00 L268.59,772.50 L268.56,772.00 L268.54,771.50 L268.51,771.00 L268.48,770.50 L268.46,770.00 L268.43,769.50 L268.41,769.00 L268.39,768.50 L268.37,768.00 L268.35,767.50 L268.33,767.00 L268.31,766.50 L268.29,766.00 L268.28,765.50 L268.26,765.00 L268.24,764.50 L268.23,764.00 L268.21,763.50 L268.19,763.00 L268.18,762.50 L268.16,762.00 L268.14,761.50 L268.12,761.00 L268.11,760.50 L268.09,760.00 L268.07,759.50 L268.05,759.00 L268.03,758.50 L268.01,758.00 L267.99,757.50 L267.97,757.00 L267.95,756.50 L267.92,756.00 L267.90,755.50 L267.87,755.00 L267.85,754.50 L267.82,754.00 L267.78,753.50 L267.75,753.00 L267.71,752.50 L267.68,752.00 L267.64,751.50 L267.60,751.00 L267.56,750.50 L267.52,750.00 L267.47,749.50 L267.43,749.00 L267.39,748.50 L267.34,748.00 L267.30,747.50 L267.26,747.00 L267.22,746.50 L267.17,746.00 L267.13,745.50 L267.09,745.00 L267.05,744.50 L267.01,744.00 L266.98,743.50 L266.94,743.00 L266.91,742.50 L266.88,742.00 L266.85,741.50 L266.82,741.00 L266.79,740.50 L266.77,740.00 L266.75,739.50 L266.73,739.00 L266.72,738.50 L266.70,738.00 L266.70,737.50 L266.69,737.00 L266.69,736.50 L266.69,736.00 L266.70,735.50 L266.70,735.00 L266.71,734.50 L266.73,734.00 L266.74,733.50 L266.76,733.00 L266.78,732.50 L266.80,732.00 L266.82,731.50 L266.84,731.00 L266.87,730.50 L266.89,730.00 L266.92,729.50 L266.95,729.00 L266.97,728.50 L267.00,728.00 L267.03,727.50 L267.06,727.00 L267.09,726.50 L267.11,726.00 L267.14,725.50 L267.17,725.00 L267.19,724.50 L267.22,724.00 L267.24,723.50 L267.27,723.00 L267.29,722.50 L267.31,722.00 L267.32,721.50 L267.34,721.00 L267.36,720.50 L267.37,720.00 L267.38,719.50 L267.38,719.00 L267.39,718.50 L267.39,718.00 L267.39,717.50 L267.39,717.00 L267.38,716.50 L267.38,716.00 L267.37,715.50 L267.36,715.00 L267.35,714.50 L267.33,714.00 L267.32,713.50 L267.30,713.00 L267.29,712.50 L267.27,712.00 L267.25,711.50 L267.23,711.00 L267.20,710.50 L267.18,710.00 L267.15,709.50 L267.12,709.00 L267.09,708.50 L267.06,708.00 L267.03,707.50 L267.00,707.00 L266.96,706.50 L266.92,706.00 L266.89,705.50 L266.85,705.00 L266.81,704.50 L266.77,704.00 L266.72,703.50 L266.68,703.00 L266.64,702.50 L266.59,702.00 L266.54,701.50 L266.49,701.00 L266.44,700.50 L266.39,700.00 L266.34,699.50 L266.29,699.00 Z" fill="none" stroke="#3c3c3c" stroke-width="1.1" stroke-linejoin="round"/>
<path d="M316.52,699.00 L316.51,699.50 L316.50,700.00 L316.50,700.50 L316.49,701.00 L316.48,701.50 L316.47,702.00 L316.46,702.50 L316.45,703.00 L316.44,703.50 L316.44,704.00 L316.43,704.50 L316.42,705.00 L316.41,705.50 L316.40,706.00 L316.39,706.50 L316.38,707.00 L316.37,707.50 L316.36,708.00 L316.35,708.50 L316.34,709.00 L316.33,709.50 L316.32,710.00 L316.31,710.50 L316.30,711.00 L316.29,711.50 L316.28,712.00 L316.27,712.50 L316.26,713.00 L316.25,713.50 L316.24,714.00 L316.23,714.50 L316.21,715.00 L316.20,715.50 L316.19,716.00 L316.18,716.50 L316.17,717.00 L316.16,717.50 L316.15,718.00 L316.14,718.50 L316.12,719.00 L316.11,719.50 L316.10,720.00 L316.09,720.50 L316.08,721.00 L316.06,721.50 L316.05,722.00 L316.04,722.50 L316.03,723.00 L316.02,723.50 L316.00,724.00 L315.99,724.50 L315.98,725.00 L315.97,725.50 L315.95,726.00 L315.94,726.50 L315.93,727.00 L315.91,727.50 L315.90,728.00 L315.89,728.50 L315.88,729.00 L315.86,729.50 L315.85,730.00 L315.84,730.50 L315.82,731.00 L315.81,731.50 L315.79,732.00 L315.78,732.50 L315.77,733.00 L315.75,733.50 L315.74,734.00 L315.72,734.50 L315.71,735.00 L315.70,735.50 L315.68,736.00 L315.67,736.50 L315.65,737.00 L315.64,737.50 L315.62,738.00 L315.61,738.50 L315.59,739.00 L315.57,739.50 L315.56,740.00 L315.54,740.50 L315.53,741.00 L315.51,741.50 L315.49,742.00 L315.48,742.50 L315.46,743.00 L315.45,743.50 L315.43,744.00 L315.41,744.50 L315.40,745.00 L315.38,745.50 L315.36,746.00 L315.34,746.50 L315.33,747.00 L315.31,747.50 L315.29,748.00 L315.27,748.50 L315.26,749.00 L315.24,749.50 L315.22,750.00 L315.20,750.50 L315.18,751.00 L315.16,751.50 L315.15,752.00 L315.13,752.50 L315.11,753.00 L315.09,753.50 L315.07,754.00 L315.05,754.50 L315.03,755.00 L315.01,755.50 L314.99,756.00 L314.97,756.50 L314.95,757.00 L314.93,757.50 L314.91,758.00 L314.89,758.50 L314.87,759.00 L314.85,759.50 L314.83,760.00 L314.81,760.50 L314.79,761.00 L314.77,761.50 L314.75,762.00 L314.73,762.50 L314.70,763.00 L314.68,763.50 L314.66,764.00 L314.64,764.50 L314.61,765.00 L314.59,765.50 L314.56,766.00 L314.54,766.50 L314.52,767.00 L314.49,767.50 L314.46,768.00 L314.44,768.50 L314.41,769.00 L314.39,769.50 L314.36,770.00 L314.33,770.50 L314.30,771.00 L314.27,771.50 L314.24,772.00 L314.21,772.50 L314.18,773.00 L314.15,773.50 L314.12,774.00 L314.09,774.50 L314.05,775.00 L314.02,775.50 L313.98,776.00 L313.94,776.50 L313.90,777.00 L313.86,777.50 L313.81,778.00 L313.77,778.50 L313.72,779.00 L313.68,779.50 L313.63,780.00 L313.58,780.50 L313.53,781.00 L313.49,781.50 L313.44,782.00 L313.39,782.50 L313.33,783.00 L313.28,783.50 L313.23,784.00 L313.18,784.50 L313.13,785.00 L313.08,785.50 L313.02,786.00 L312.97,786.50 L312.92,787.00 L312.87,787.50 L312.82,788.00 L312.77,788.50 L312.72,789.00 L312.67,789.50 L312.62,790.00 L312.57,790.50 L312.53,791.00 L312.48,791.50 L312.44,792.00 L312.40,792.50 L312.35,793.00 L312.31,793.50 L312.27,794.00 L312.23,794.50 L312.18,795.00 L312.14,795.50 L312.09,796.00 L312.04,796.50 L311.99,797.00 L311.94,797.50 L311.88,798.00 L311.82,798.50 L311.76,799.00 L311.69,799.50 L311.62,800.00 L311.54,800.50 L311.45,801.00 L311.36,801.50 L311.25,802.00 L311.14,802.50 L311.02,803.00 L310.89,803.50 L310.75,804.00 L310.61,804.50 L310.47,805.00 L310.31,805.50 L310.16,806.00 L309.99,806.50 L309.83,807.00 L309.66,807.50 L309.49,808.00 L309.31,808.50 L309.13,809.00 L308.96,809.50 L308.78,810.00 L308.59,810.50 L308.41,811.00 L308.23,811.50 L308.05,812.00 L307.87,812.50 L307.69,813.00 L307.51,813.50 L307.32,814.00 L307.11,814.50 L306.89,815.00 L306.67,815.50 L306.44,816.00 L306.22,816.50 L305.99,817.00 L305.77,817.50 L305.56,818.00 L305.36,818.50 L305.18,819.00 L305.01,819.50 L304.86,820.00 L304.71,820.50 L304.57,821.00 L304.42,821.50 L304.27,822.00 L304.12,822.50 L303.97,823.00 L303.82,823.50 L303.68,824.00 L303.54,824.50 L303.40,825.00 L303.26,825.50 L303.13,826.00 L303.01,826.50 L302.89,827.00 L302.77,827.50 L302.67,828.00 L302.57,828.50 L302.48,829.00 L302.40,829.50 L302.33,830.00 L302.26,830.50 L302.21,831.00 L302.17,831.50 L302.14,832.00 L302.12,832.50 L302.12,833.00 L302.12,833.50 L302.14,834.00 L302.15,834.50 L302.17,835.00 L302.20,835.50 L302.24,836.00 L302.27,836.50 L302.32,837.00 L302.37,837.50 L302.42,838.00 L302.48,838.50 L302.54,839.00 L302.60,839.50 L302.67,840.00 L302.75,840.50 L302.82,841.00 L302.90,841.50 L302.98,842.00 L303.07,842.50 L303.16,843.00 L303.30,843.50 L303.49,844.00 L303.72,844.50 L303.99,845.00 L304.27,845.50 L304.58,846.00 L304.88,846.50 L305.19,847.00 L305.48,847.50 L305.75,848.00 L305.99,848.50 L306.19,849.00 L306.35,849.50 L306.48,850.00 L306.60,850.50 L306.71,851.00 L306.80,851.50 L306.88,852.00 L306.92,852.30 L327.72,852.30 L327.76,852.00 L327.84,851.50 L327.93,851.00 L328.04,850.50 L328.16,850.00 L328.29,849.50 L328.45,849.00 L328.65,848.50 L328.89,848.00 L329.16,847.50 L329.45,847.00 L329.76,846.50 L330.06,846.00 L330.37,845.50 L330.65,845.00 L330.92,844.50 L331.15,844.00 L331.34,843.50 L331.48,843.00 L331.57,842.50 L331.66,842.00 L331.74,841.50 L331.82,841.00 L331.89,840.50 L331.97,840.00 L332.04,839.50 L332.10,839.00 L332.16,838.50 L332.22,838.00 L332.27,837.50 L332.32,837.00 L332.37,836.50 L332.40,836.00 L332.44,835.50 L332.47,835.00 L332.49,834.50 L332.50,834.00 L332.52,833.50 L332.52,833.00 L332.52,832.50 L332.50,832.00 L332.47,831.50 L332.43,831.00 L332.38,830.50 L332.31,830.00 L332.24,829.50 L332.16,829.00 L332.07,828.50 L331.97,828.00 L331.87,827.50 L331.75,827.00 L331.63,826.50 L331.51,826.00 L331.38,825.50 L331.24,825.00 L331.10,824.50 L330.96,824.00 L330.82,823.50 L330.67,823.00 L330.52,822.50 L330.37,822.00 L330.22,821.50 L330.07,821.00 L329.93,820.50 L329.78,820.00 L329.63,819.50 L329.46,819.00 L329.28,818.50 L329.08,818.00 L328.87,817.50 L328.65,817.00 L328.42,816.50 L328.20,816.00 L327.97,815.50 L327.75,815.00 L327.53,814.50 L327.32,814.00 L327.13,813.50 L326.95,813.00 L326.77,812.50 L326.59,812.00 L326.41,811.50 L326.23,811.00 L326.05,810.50 L325.86,810.00 L325.68,809.50 L325.51,809.00 L325.33,808.50 L325.15,808.00 L324.98,807.50 L324.81,807.00 L324.65,806.50 L324.48,806.00 L324.33,805.50 L324.17,805.00 L324.03,804.50 L323.89,804.00 L323.75,803.50 L323.62,803.00 L323.50,802.50 L323.39,802.00 L323.28,801.50 L323.19,801.00 L323.10,800.50 L323.02,800.00 L322.95,799.50 L322.88,799.00 L322.82,798.50 L322.76,798.00 L322.70,797.50 L322.65,797.00 L322.60,796.50 L322.55,796.00 L322.50,795.50 L322.46,795.00 L322.41,794.50 L322.37,794.00 L322.33,793.50 L322.29,793.00 L322.24,792.50 L322.20,792.00 L322.16,791.50 L322.11,791.00 L322.07,790.50 L322.02,790.00 L321.97,789.50 L321.92,789.00 L321.87,788.50 L321.82,788.00 L321.77,787.50 L321.72,787.00 L321.67,786.50 L321.62,786.00 L321.56,785.50 L321.51,785.00 L321.46,784.50 L321.41,784.00 L321.36,783.50 L321.31,783.00 L321.25,782.50 L321.20,782.00 L321.15,781.50 L321.11,781.00 L321.06,780.50 L321.01,780.00 L320.96,779.50 L320.92,779.00 L320.87,778.50 L320.83,778.00 L320.78,777.50 L320.74,777.00 L320.70,776.50 L320.66,776.00 L320.62,775.50 L320.59,775.00 L320.55,774.50 L320.52,774.00 L320.49,773.50 L320.46,773.00 L320.43,772.50 L320.40,772.00 L320.37,771.50 L320.34,771.00 L320.31,770.50 L320.28,770.00 L320.25,769.50 L320.23,769.00 L320.20,768.50 L320.18,768.00 L320.15,767.50 L320.12,767.00 L320.10,766.50 L320.08,766.00 L320.05,765.50 L320.03,765.00 L320.00,764.50 L319.98,764.00 L319.96,763.50 L319.94,763.00 L319.91,762.50 L319.89,762.00 L319.87,761.50 L319.85,761.00 L319.83,760.50 L319.81,760.00 L319.79,759.50 L319.77,759.00 L319.75,758.50 L319.73,758.00 L319.71,757.50 L319.69,757.00 L319.67,756.50 L319.65,756.00 L319.63,755.50 L319.61,755.00 L319.59,754.50 L319.57,754.00 L319.55,753.50 L319.53,753.00 L319.51,752.50 L319.49,752.00 L319.48,751.50 L319.46,751.00 L319.44,750.50 L319.42,750.00 L319.40,749.50 L319.38,749.00 L319.37,748.50 L319.35,748.00 L319.33,747.50 L319.31,747.00 L319.30,746.50 L319.28,746.00 L319.26,745.50 L319.24,745.00 L319.23,744.50 L319.21,744.00 L319.19,743.50 L319.18,743.00 L319.16,742.50 L319.15,742.00 L319.13,741.50 L319.11,741.00 L319.10,740.50 L319.08,740.00 L319.07,739.50 L319.05,739.00 L319.03,738.50 L319.02,738.00 L319.00,737.50 L318.99,737.00 L318.97,736.50 L318.96,736.00 L318.94,735.50 L318.93,735.00 L318.92,734.50 L318.90,734.00 L318.89,733.50 L318.87,733.00 L318.86,732.50 L318.85,732.00 L318.83,731.50 L318.82,731.00 L318.80,730.50 L318.79,730.00 L318.78,729.50 L318.76,729.00 L318.75,728.50 L318.74,728.00 L318.73,727.50 L318.71,727.00 L318.70,726.50 L318.69,726.00 L318.67,725.50 L318.66,725.00 L318.65,724.50 L318.64,724.00 L318.62,723.50 L318.61,723.00 L318.60,722.50 L318.59,722.00 L318.58,721.50 L318.56,721.00 L318.55,720.50 L318.54,720.00 L318.53,719.50 L318.52,719.00 L318.50,718.50 L318.49,718.00 L318.48,717.50 L318.47,717.00 L318.46,716.50 L318.45,716.00 L318.44,715.50 L318.43,715.00 L318.41,714.50 L318.40,714.00 L318.39,713.50 L318.38,713.00 L318.37,712.50 L318.36,712.00 L318.35,711.50 L318.34,711.00 L318.33,710.50 L318.32,710.00 L318.31,709.50 L318.30,709.00 L318.29,708.50 L318.28,708.00 L318.27,707.50 L318.26,707.00 L318.25,706.50 L318.24,706.00 L318.23,705.50 L318.22,705.00 L318.21,704.50 L318.20,704.00 L318.20,703.50 L318.19,703.00 L318.18,702.50 L318.17,702.00 L318.16,701.50 L318.15,701.00 L318.14,700.50 L318.14,700.00 L318.13,699.50 L318.12,699.00 Z" fill="none" stroke="#3c3c3c" stroke-width="1.1" stroke-linejoin="round"/>
<path d="M368.55,494.10 L368.55,494.60 L368.55,495.10 L368.55,495.60 L368.55,496.10 L368.55,496.60 L368.55,497.10 L368.55,497.60 L368.55,498.10 L368.55,498.60 L368.55,499.10 L368.55,499.60 L368.55,500.10 L368.55,500.60 L368.55,501.10 L368.55,501.60 L368.55,502.10 L368.55,502.60 L368.55,503.10 L368.55,503.60 L368.55,504.10 L368.55,504.60 L368.55,505.10 L368.55,505.60 L368.55,506.10 L368.55,506.60 L368.55,507.10 L368.55,507.60 L368.55,508.10 L368.55,508.60 L368.55,509.10 L368.55,509.60 L368.55,510.10 L368.55,510.60 L368.55,511.10 L368.55,511.60 L368.55,512.10 L368.55,512.60 L368.55,513.10 L368.55,513.60 L368.55,514.10 L368.55,514.60 L368.55,515.10 L368.55,515.60 L368.55,516.10 L368.55,516.60 L368.55,517.10 L368.55,517.60 L368.55,518.10 L368.55,518.60 L368.55,519.10 L368.55,519.60 L368.55,520.10 L368.55,520.60 L368.55,521.10 L368.55,521.60 L368.55,522.10 L368.55,522.60 L368.55,523.10 L368.55,523.60 L368.55,524.10 L368.55,524.60 L368.55,525.10 L368.55,525.60 L368.55,526.10 L368.55,526.60 L368.55,527.10 L368.55,527.60 L368.55,528.10 L368.55,528.60 L368.55,529.10 L368.55,529.60 L368.55,530.10 L368.55,530.60 L368.55,531.10 L368.55,531.60 L368.55,532.10 L368.55,532.60 L368.55,533.10 L368.55,533.60 L368.55,534.10 L368.55,534.60 L368.55,535.10 L368.55,535.60 L368.55,536.10 L368.55,536.60 L368.55,537.10 L368.55,537.60 L368.55,538.10 L368.55,538.60 L368.55,539.10 L368.55,539.60 L368.55,540.10 L368.55,540.60 L368.55,541.10 L368.55,541.60 L368.55,542.10 L368.55,542.60 L368.55,543.10 L368.55,543.60 L368.55,544.10 L368.55,544.60 L368.55,545.10 L368.55,545.60 L368.55,546.10 L368.55,546.60 L368.55,547.10 L368.55,547.60 L368.55,548.10 L368.55,548.60 L368.55,549.10 L368.55,549.60 L368.55,550.10 L368.55,550.60 L368.55,551.10 L368.55,551.60 L368.55,552.10 L368.55,552.60 L368.55,553.10 L368.55,553.60 L368.55,554.10 L368.55,554.60 L368.55,555.10 L368.55,555.60 L368.55,556.10 L368.55,556.60 L368.55,557.10 L368.55,557.60 L368.55,558.10 L368.55,558.60 L368.55,559.10 L368.55,559.60 L368.55,560.10 L368.55,560.60 L368.55,561.10 L368.55,561.60 L368.55,562.10 L368.55,562.60 L368.55,563.10 L368.55,563.60 L368.55,564.10 L368.55,564.60 L368.55,565.10 L368.55,565.60 L368.55,566.10 L368.55,566.60 L368.55,567.10 L368.55,567.60 L368.55,568.10 L368.55,568.60 L368.55,569.10 L368.55,569.60 L368.55,570.10 L368.55,570.60 L368.55,571.10 L368.55,571.60 L368.55,572.10 L368.55,572.60 L368.55,573.10 L368.55,573.60 L368.55,574.10 L368.55,574.60 L368.55,575.10 L368.55,575.60 L368.55,576.10 L368.55,576.60 L368.55,577.10 L368.55,577.60 L368.55,578.10 L368.55,578.60 L368.55,579.10 L368.55,579.60 L368.55,580.10 L368.55,580.60 L368.55,581.10 L368.55,581.60 L368.55,582.10 L368.55,582.60 L368.55,583.10 L368.55,583.60 L368.55,584.10 L368.55,584.60 L368.55,585.10 L368.55,585.60 L368.55,586.10 L368.55,586.60 L368.55,587.10 L368.55,587.60 L368.55,588.10 L368.55,588.60 L368.55,589.10 L368.55,589.60 L368.55,590.10 L368.55,590.60 L368.55,591.10 L368.55,591.60 L368.55,592.10 L368.55,592.60 L368.55,593.10 L368.55,593.60 L368.55,594.10 L368.55,594.60 L368.55,595.10 L368.55,595.60 L368.55,596.10 L368.55,596.60 L368.55,597.10 L368.55,597.60 L368.55,598.10 L368.55,598.60 L368.55,599.10 L368.55,599.60 L368.55,600.10 L368.55,600.60 L368.55,601.10 L368.55,601.60 L368.55,602.10 L368.55,602.60 L368.55,603.10 L368.55,603.60 L368.55,604.10 L368.55,604.60 L368.55,605.10 L368.55,605.60 L368.55,606.10 L368.55,606.60 L368.55,607.10 L368.55,607.60 L368.55,608.10 L368.55,608.60 L368.55,609.10 L368.55,609.60 L368.55,610.10 L368.55,610.60 L368.55,611.10 L368.55,611.60 L368.55,612.10 L368.55,612.60 L368.55,613.10 L368.55,613.60 L368.55,614.10 L368.55,614.60 L368.55,615.10 L368.55,615.60 L368.55,616.10 L368.55,616.60 L368.55,617.10 L368.55,617.60 L368.55,618.10 L368.55,618.60 L368.55,619.10 L368.55,619.60 L368.55,620.10 L368.55,620.60 L368.55,621.10 L368.55,621.60 L368.55,622.10 L368.55,622.60 L368.55,623.10 L368.55,623.60 L368.55,624.10 L368.55,624.60 L368.55,625.10 L368.55,625.60 L368.55,626.10 L368.55,626.60 L368.55,627.10 L368.55,627.60 L368.55,628.10 L368.55,628.60 L368.55,629.10 L368.55,629.60 L368.55,630.10 L368.55,630.60 L368.55,631.10 L368.55,631.60 L368.55,632.10 L368.55,632.60 L368.55,633.10 L368.55,633.60 L368.55,634.10 L368.55,634.60 L368.55,635.10 L368.55,635.60 L368.55,636.10 L368.55,636.60 L368.55,637.10 L368.55,637.60 L368.55,638.10 L368.55,638.60 L368.55,639.10 L368.55,639.60 L368.55,640.10 L368.55,640.60 L368.55,641.10 L368.55,641.60 L368.55,642.10 L368.55,642.60 L368.55,643.10 L368.55,643.60 L368.55,644.10 L368.55,644.60 L368.55,645.10 L368.55,645.60 L368.55,646.10 L368.55,646.60 L368.55,647.10 L368.55,647.60 L368.55,648.10 L368.55,648.60 L368.55,649.10 L368.55,649.60 L368.55,650.10 L368.55,650.60 L368.55,651.10 L368.55,651.60 L368.55,652.10 L368.55,652.60 L368.55,653.10 L368.55,653.60 L368.55,654.10 L368.55,654.60 L368.55,655.10 L368.55,655.60 L368.55,656.10 L368.55,656.60 L368.55,657.10 L368.55,657.60 L368.55,658.10 L368.55,658.60 L368.55,659.10 L368.55,659.60 L368.55,660.10 L368.55,660.60 L368.55,661.10 L368.55,661.60 L368.55,662.10 L368.55,662.60 L368.55,663.10 L368.55,663.60 L368.55,664.10 L368.55,664.60 L368.55,665.10 L368.55,665.60 L368.55,666.10 L368.55,666.60 L368.55,667.10 L368.55,667.60 L368.55,668.10 L368.55,668.60 L368.55,669.10 L368.55,669.60 L368.54,670.10 L368.54,670.60 L368.53,671.10 L368.51,671.60 L368.50,672.10 L368.48,672.60 L368.46,673.10 L368.44,673.60 L368.41,674.10 L368.39,674.60 L368.36,675.10 L368.33,675.60 L368.30,676.10 L368.27,676.60 L368.23,677.10 L368.20,677.60 L368.16,678.10 L368.13,678.60 L368.09,679.10 L368.05,679.60 L368.01,680.10 L367.98,680.60 L367.94,681.10 L367.90,681.60 L367.86,682.10 L367.82,682.60 L367.78,683.10 L367.74,683.60 L367.71,684.10 L367.67,684.60 L367.63,685.10 L367.60,685.60 L367.57,686.10 L367.53,686.60 L367.50,687.10 L367.47,687.60 L367.44,688.10 L367.42,688.60 L367.39,689.10 L367.37,689.60 L367.35,690.10 L367.33,690.60 L367.31,691.10 L367.29,691.60 L367.27,692.10 L367.25,692.60 L367.23,693.10 L367.22,693.60 L367.20,694.10 L367.19,694.60 L367.17,695.10 L367.16,695.60 L367.14,696.10 L367.13,696.60 L367.11,697.10 L367.10,697.60 L367.08,698.10 L367.07,698.60 L367.06,699.10 L367.04,699.60 L367.03,700.10 L367.01,700.60 L367.00,701.10 L366.99,701.60 L366.97,702.10 L366.96,702.60 L366.94,703.10 L366.93,703.60 L366.91,704.10 L366.90,704.60 L366.88,705.10 L366.86,705.60 L366.85,706.10 L366.83,706.60 L366.81,707.10 L366.79,707.60 L366.77,708.10 L366.75,708.60 L366.73,709.10 L366.71,709.60 L366.69,710.10 L366.67,710.60 L366.65,711.10 L366.62,711.60 L366.60,712.10 L366.57,712.60 L366.55,713.10 L366.52,713.60 L366.50,714.10 L366.47,714.60 L366.45,715.10 L366.42,715.60 L366.39,716.10 L366.37,716.60 L366.34,717.10 L366.31,717.60 L366.28,718.10 L366.25,718.60 L366.22,719.10 L366.20,719.60 L366.17,720.10 L366.14,720.60 L366.11,721.10 L366.08,721.60 L366.05,722.10 L366.02,722.60 L365.99,723.10 L365.96,723.60 L365.93,724.10 L365.90,724.60 L365.88,725.10 L365.85,725.60 L365.82,726.10 L365.79,726.60 L365.76,727.10 L365.73,727.60 L365.70,728.10 L365.68,728.60 L365.65,729.10 L365.62,729.60 L365.59,730.10 L365.56,730.60 L365.52,731.10 L365.49,731.60 L365.46,732.10 L365.43,732.60 L365.40,733.10 L365.37,733.60 L365.34,734.10 L365.31,734.60 L365.27,735.10 L365.24,735.60 L365.21,736.10 L365.18,736.60 L365.15,737.10 L365.12,737.60 L365.09,738.10 L365.06,738.60 L365.02,739.10 L364.99,739.60 L364.96,740.10 L364.94,740.60 L364.91,741.10 L364.88,741.60 L364.85,742.10 L364.82,742.60 L364.79,743.10 L364.77,743.60 L364.74,744.10 L364.72,744.60 L364.69,745.10 L364.67,745.60 L364.65,746.10 L364.62,746.60 L364.60,747.10 L364.58,747.60 L364.56,748.10 L364.53,748.60 L364.51,749.10 L364.49,749.60 L364.47,750.10 L364.45,750.60 L364.43,751.10 L364.41,751.60 L364.39,752.10 L364.37,752.60 L364.35,753.10 L364.33,753.60 L364.31,754.10 L364.29,754.60 L364.27,755.10 L364.25,755.60 L364.24,756.10 L364.22,756.60 L364.20,757.10 L364.18,757.60 L364.16,758.10 L364.15,758.60 L364.13,759.10 L364.11,759.60 L364.10,760.10 L364.08,760.60 L364.06,761.10 L364.05,761.60 L364.03,762.10 L364.01,762.60 L364.00,763.10 L363.98,763.60 L363.97,764.10 L363.95,764.60 L363.93,765.10 L363.92,765.60 L363.91,766.10 L363.89,766.60 L363.88,767.10 L363.87,767.60 L363.85,768.10 L363.84,768.60 L363.83,769.10 L363.82,769.60 L363.81,770.10 L363.80,770.60 L363.78,771.10 L363.77,771.60 L363.76,772.10 L363.75,772.60 L363.74,773.10 L363.73,773.60 L363.72,774.10 L363.71,774.60 L363.70,775.10 L363.68,775.60 L363.67,776.10 L363.66,776.60 L363.65,777.10 L363.64,777.60 L363.62,778.10 L363.61,778.60 L363.59,779.10 L363.58,779.60 L363.56,780.10 L363.55,780.60 L363.53,781.10 L363.51,781.60 L363.50,782.10 L363.48,782.60 L363.46,783.10 L363.44,783.60 L363.41,784.10 L363.39,784.60 L363.36,785.10 L363.33,785.60 L363.30,786.10 L363.27,786.60 L363.24,787.10 L363.20,787.60 L363.17,788.10 L363.13,788.60 L363.09,789.10 L363.05,789.60 L363.00,790.10 L362.96,790.60 L362.92,791.10 L362.87,791.60 L362.82,792.10 L362.78,792.60 L362.73,793.10 L362.68,793.60 L362.63,794.10 L362.58,794.60 L362.53,795.10 L362.48,795.60 L362.43,796.10 L362.38,796.60 L362.33,797.10 L362.28,797.60 L362.23,798.10 L362.18,798.60 L362.13,799.10 L362.08,799.60 L362.03,800.10 L361.98,800.60 L361.94,801.10 L361.89,801.60 L361.84,802.10 L361.79,802.60 L361.74,803.10 L361.69,803.60 L361.63,804.10 L361.58,804.60 L361.52,805.10 L361.46,805.60 L361.40,806.10 L361.34,806.60 L361.28,807.10 L361.22,807.60 L361.15,808.10 L361.09,808.60 L361.03,809.10 L360.96,809.60 L360.90,810.10 L360.84,810.60 L360.77,811.10 L360.71,811.60 L360.65,812.10 L360.59,812.60 L360.54,813.10 L360.48,813.60 L360.43,814.10 L360.37,814.60 L360.32,815.10 L360.27,815.60 L360.23,816.10 L360.18,816.60 L360.14,817.10 L360.11,817.60 L360.07,818.10 L360.04,818.60 L360.01,819.10 L359.99,819.60 L359.97,820.10 L359.95,820.60 L359.94,821.10 L359.92,821.60 L359.91,822.10 L359.89,822.60 L359.88,823.10 L359.87,823.60 L359.86,824.10 L359.84,824.60 L359.83,825.10 L359.82,825.60 L359.81,826.10 L359.80,826.60 L359.79,827.10 L359.79,827.60 L359.78,828.10 L359.77,828.60 L359.77,829.10 L359.76,829.60 L359.76,830.10 L359.75,830.60 L359.75,831.10 L359.75,831.60 L359.75,832.10 L359.77,832.60 L359.79,833.10 L359.83,833.60 L359.88,834.10 L359.93,834.60 L360.00,835.10 L360.07,835.60 L360.15,836.10 L360.24,836.60 L360.33,837.10 L360.43,837.60 L360.53,838.10 L360.63,838.60 L360.74,839.10 L360.85,839.60 L360.95,840.10 L361.06,840.60 L361.17,841.10 L361.27,841.60 L361.37,842.10 L361.47,842.60 L361.57,843.10 L361.66,843.60 L361.76,844.10 L361.87,844.60 L361.97,845.10 L362.08,845.60 L362.19,846.10 L362.30,846.60 L362.41,847.10 L362.53,847.60 L362.55,847.70 L374.95,847.70 L374.97,847.60 L375.09,847.10 L375.20,846.60 L375.31,846.10 L375.42,845.60 L375.53,845.10 L375.63,844.60 L375.74,844.10 L375.84,843.60 L375.93,843.10 L376.03,842.60 L376.13,842.10 L376.23,841.60 L376.33,841.10 L376.44,840.60 L376.55,840.10 L376.65,839.60 L376.76,839.10 L376.87,838.60 L376.97,838.10 L377.07,837.60 L377.17,837.10 L377.26,836.60 L377.35,836.10 L377.43,835.60 L377.50,835.10 L377.57,834.60 L377.62,834.10 L377.67,833.60 L377.71,833.10 L377.73,832.60 L377.75,832.10 L377.75,831.60 L377.75,831.10 L377.75,830.60 L377.74,830.10 L377.74,829.60 L377.73,829.10 L377.73,828.60 L377.72,828.10 L377.71,827.60 L377.71,827.10 L377.70,826.60 L377.69,826.10 L377.68,825.60 L377.67,825.10 L377.66,824.60 L377.64,824.10 L377.63,823.60 L377.62,823.10 L377.61,822.60 L377.59,822.10 L377.58,821.60 L377.56,821.10 L377.55,820.60 L377.53,820.10 L377.51,819.60 L377.49,819.10 L377.46,818.60 L377.43,818.10 L377.39,817.60 L377.36,817.10 L377.32,816.60 L377.27,816.10 L377.23,815.60 L377.18,815.10 L377.13,814.60 L377.07,814.10 L377.02,813.60 L376.96,813.10 L376.91,812.60 L376.85,812.10 L376.79,811.60 L376.73,811.10 L376.66,810.60 L376.60,810.10 L376.54,809.60 L376.47,809.10 L376.41,808.60 L376.35,808.10 L376.28,807.60 L376.22,807.10 L376.16,806.60 L376.10,806.10 L376.04,805.60 L375.98,805.10 L375.92,804.60 L375.87,804.10 L375.81,803.60 L375.76,803.10 L375.71,802.60 L375.66,802.10 L375.61,801.60 L375.56,801.10 L375.52,800.60 L375.47,800.10 L375.42,799.60 L375.37,799.10 L375.32,798.60 L375.27,798.10 L375.22,797.60 L375.17,797.10 L375.12,796.60 L375.07,796.10 L375.02,795.60 L374.97,795.10 L374.92,794.60 L374.87,794.10 L374.82,793.60 L374.77,793.10 L374.72,792.60 L374.68,792.10 L374.63,791.60 L374.58,791.10 L374.54,790.60 L374.50,790.10 L374.45,789.60 L374.41,789.10 L374.37,788.60 L374.33,788.10 L374.30,787.60 L374.26,787.10 L374.23,786.60 L374.20,786.10 L374.17,785.60 L374.14,785.10 L374.11,784.60 L374.09,784.10 L374.06,783.60 L374.04,783.10 L374.02,782.60 L374.00,782.10 L373.99,781.60 L373.97,781.10 L373.95,780.60 L373.94,780.10 L373.92,779.60 L373.91,779.10 L373.89,778.60 L373.88,778.10 L373.86,777.60 L373.85,777.10 L373.84,776.60 L373.83,776.10 L373.82,775.60 L373.80,775.10 L373.79,774.60 L373.78,774.10 L373.77,773.60 L373.76,773.10 L373.75,772.60 L373.74,772.10 L373.73,771.60 L373.72,771.10 L373.70,770.60 L373.69,770.10 L373.68,769.60 L373.67,769.10 L373.66,768.60 L373.65,768.10 L373.63,767.60 L373.62,767.10 L373.61,766.60 L373.59,766.10 L373.58,765.60 L373.57,765.10 L373.55,764.60 L373.53,764.10 L373.52,763.60 L373.50,763.10 L373.49,762.60 L373.47,762.10 L373.45,761.60 L373.44,761.10 L373.42,760.60 L373.40,760.10 L373.39,759.60 L373.37,759.10 L373.35,758.60 L373.34,758.10 L373.32,757.60 L373.30,757.10 L373.28,756.60 L373.26,756.10 L373.25,755.60 L373.23,755.10 L373.21,754.60 L373.19,754.10 L373.17,753.60 L373.15,753.10 L373.13,752.60 L373.11,752.10 L373.09,751.60 L373.07,751.10 L373.05,750.60 L373.03,750.10 L373.01,749.60 L372.99,749.10 L372.97,748.60 L372.94,748.10 L372.92,747.60 L372.90,747.10 L372.88,746.60 L372.85,746.10 L372.83,745.60 L372.81,745.10 L372.78,744.60 L372.76,744.10 L372.73,743.60 L372.71,743.10 L372.68,742.60 L372.65,742.10 L372.62,741.60 L372.59,741.10 L372.56,740.60 L372.54,740.10 L372.51,739.60 L372.48,739.10 L372.44,738.60 L372.41,738.10 L372.38,737.60 L372.35,737.10 L372.32,736.60 L372.29,736.10 L372.26,735.60 L372.23,735.10 L372.19,734.60 L372.16,734.10 L372.13,733.60 L372.10,733.10 L372.07,732.60 L372.04,732.10 L372.01,731.60 L371.98,731.10 L371.94,730.60 L371.91,730.10 L371.88,729.60 L371.85,729.10 L371.82,728.60 L371.80,728.10 L371.77,727.60 L371.74,727.10 L371.71,726.60 L371.68,726.10 L371.65,725.60 L371.62,725.10 L371.60,724.60 L371.57,724.10 L371.54,723.60 L371.51,723.10 L371.48,722.60 L371.45,722.10 L371.42,721.60 L371.39,721.10 L371.36,720.60 L371.33,720.10 L371.30,719.60 L371.28,719.10 L371.25,718.60 L371.22,718.10 L371.19,717.60 L371.16,717.10 L371.13,716.60 L371.11,716.10 L371.08,715.60 L371.05,715.10 L371.03,714.60 L371.00,714.10 L370.98,713.60 L370.95,713.10 L370.93,712.60 L370.90,712.10 L370.88,711.60 L370.85,711.10 L370.83,710.60 L370.81,710.10 L370.79,709.60 L370.77,709.10 L370.75,708.60 L370.73,708.10 L370.71,707.60 L370.69,707.10 L370.67,706.60 L370.65,706.10 L370.64,705.60 L370.62,705.10 L370.60,704.60 L370.59,704.10 L370.57,703.60 L370.56,703.10 L370.54,702.60 L370.53,702.10 L370.51,701.60 L370.50,701.10 L370.49,700.60 L370.47,700.10 L370.46,699.60 L370.44,699.10 L370.43,698.60 L370.42,698.10 L370.40,697.60 L370.39,697.10 L370.37,696.60 L370.36,696.10 L370.34,695.60 L370.33,695.10 L370.31,694.60 L370.30,694.10 L370.28,693.60 L370.27,693.10 L370.25,692.60 L370.23,692.10 L370.21,691.60 L370.19,691.10 L370.17,690.60 L370.15,690.10 L370.13,689.60 L370.11,689.10 L370.08,688.60 L370.06,688.10 L370.03,687.60 L370.00,687.10 L369.97,686.60 L369.93,686.10 L369.90,685.60 L369.87,685.10 L369.83,684.60 L369.79,684.10 L369.76,683.60 L369.72,683.10 L369.68,682.60 L369.64,682.10 L369.60,681.60 L369.56,681.10 L369.52,680.60 L369.49,680.10 L369.45,679.60 L369.41,679.10 L369.37,678.60 L369.34,678.10 L369.30,677.60 L369.27,677.10 L369.23,676.60 L369.20,676.10 L369.17,675.60 L369.14,675.10 L369.11,674.60 L369.09,674.10 L369.06,673.60 L369.04,673.10 L369.02,672.60 L369.00,672.10 L368.99,671.60 L368.97,671.10 L368.96,670.60 L368.96,670.10 L368.95,669.60 L368.95,669.10 L368.95,668.60 L368.95,668.10 L368.95,667.60 L368.95,667.10 L368.95,666.60 L368.95,666.10 L368.95,665.60 L368.95,665.10 L368.95,664.60 L368.95,664.10 L368.95,663.60 L368.95,663.10 L368.95,662.60 L368.95,662.10 L368.95,661.60 L368.95,661.10 L368.95,660.60 L368.95,660.10 L368.95,659.60 L368.95,659.10 L368.95,658.60 L368.95,658.10 L368.95,657.60 L368.95,657.10 L368.95,656.60 L368.95,656.10 L368.95,655.60 L368.95,655.10 L368.95,654.60 L368.95,654.10 L368.95,653.60 L368.95,653.10 L368.95,652.60 L368.95,652.10 L368.95,651.60 L368.95,651.10 L368.95,650.60 L368.95,650.10 L368.95,649.60 L368.95,649.10 L368.95,648.60 L368.95,648.10 L368.95,647.60 L368.95,647.10 L368.95,646.60 L368.95,646.10 L368.95,645.60 L368.95,645.10 L368.95,644.60 L368.95,644.10 L368.95,643.60 L368.95,643.10 L368.95,642.60 L368.95,642.10 L368.95,641.60 L368.95,641.10 L368.95,640.60 L368.95,640.10 L368.95,639.60 L368.95,639.10 L368.95,638.60 L368.95,638.10 L368.95,637.60 L368.95,637.10 L368.95,636.60 L368.95,636.10 L368.95,635.60 L368.95,635.10 L368.95,634.60 L368.95,634.10 L368.95,633.60 L368.95,633.10 L368.95,632.60 L368.95,632.10 L368.95,631.60 L368.95,631.10 L368.95,630.60 L368.95,630.10 L368.95,629.60 L368.95,629.10 L368.95,628.60 L368.95,628.10 L368.95,627.60 L368.95,627.10 L368.95,626.60 L368.95,626.10 L368.95,625.60 L368.95,625.10 L368.95,624.60 L368.95,624.10 L368.95,623.60 L368.95,623.10 L368.95,622.60 L368.95,622.10 L368.95,621.60 L368.95,621.10 L368.95,620.60 L368.95,620.10 L368.95,619.60 L368.95,619.10 L368.95,618.60 L368.95,618.10 L368.95,617.60 L368.95,617.10 L368.95,616.60 L368.95,616.10 L368.95,615.60 L368.95,615.10 L368.95,614.60 L368.95,614.10 L368.95,613.60 L368.95,613.10 L368.95,612.60 L368.95,612.10 L368.95,611.60 L368.95,611.10 L368.95,610.60 L368.95,610.10 L368.95,609.60 L368.95,609.10 L368.95,608.60 L368.95,608.10 L368.95,607.60 L368.95,607.10 L368.95,606.60 L368.95,606.10 L368.95,605.60 L368.95,605.10 L368.95,604.60 L368.95,604.10 L368.95,603.60 L368.95,603.10 L368.95,602.60 L368.95,602.10 L368.95,601.60 L368.95,601.10 L368.95,600.60 L368.95,600.10 L368.95,599.60 L368.95,599.10 L368.95,598.60 L368.95,598.10 L368.95,597.60 L368.95,597.10 L368.95,596.60 L368.95,596.10 L368.95,595.60 L368.95,595.10 L368.95,594.60 L368.95,594.10 L368.95,593.60 L368.95,593.10 L368.95,592.60 L368.95,592.10 L368.95,591.60 L368.95,591.10 L368.95,590.60 L368.95,590.10 L368.95,589.60 L368.95,589.10 L368.95,588.60 L368.95,588.10 L368.95,587.60 L368.95,587.10 L368.95,586.60 L368.95,586.10 L368.95,585.60 L368.95,585.10 L368.95,584.60 L368.95,584.10 L368.95,583.60 L368.95,583.10 L368.95,582.60 L368.95,582.10 L368.95,581.60 L368.95,581.10 L368.95,580.60 L368.95,580.10 L368.95,579.60 L368.95,579.10 L368.95,578.60 L368.95,578.10 L368.95,577.60 L368.95,577.10 L368.95,576.60 L368.95,576.10 L368.95,575.60 L368.95,575.10 L368.95,574.60 L368.95,574.10 L368.95,573.60 L368.95,573.10 L368.95,572.60 L368.95,572.10 L368.95,571.60 L368.95,571.10 L368.95,570.60 L368.95,570.10 L368.95,569.60 L368.95,569.10 L368.95,568.60 L368.95,568.10 L368.95,567.60 L368.95,567.10 L368.95,566.60 L368.95,566.10 L368.95,565.60 L368.95,565.10 L368.95,564.60 L368.95,564.10 L368.95,563.60 L368.95,563.10 L368.95,562.60 L368.95,562.10 L368.95,561.60 L368.95,561.10 L368.95,560.60 L368.95,560.10 L368.95,559.60 L368.95,559.10 L368.95,558.60 L368.95,558.10 L368.95,557.60 L368.95,557.10 L368.95,556.60 L368.95,556.10 L368.95,555.60 L368.95,555.10 L368.95,554.60 L368.95,554.10 L368.95,553.60 L368.95,553.10 L368.95,552.60 L368.95,552.10 L368.95,551.60 L368.95,551.10 L368.95,550.60 L368.95,550.10 L368.95,549.60 L368.95,549.10 L368.95,548.60 L368.95,548.10 L368.95,547.60 L368.95,547.10 L368.95,546.60 L368.95,546.10 L368.95,545.60 L368.95,545.10 L368.95,544.60 L368.95,544.10 L368.95,543.60 L368.95,543.10 L368.95,542.60 L368.95,542.10 L368.95,541.60 L368.95,541.10 L368.95,540.60 L368.95,540.10 L368.95,539.60 L368.95,539.10 L368.95,538.60 L368.95,538.10 L368.95,537.60 L368.95,537.10 L368.95,536.60 L368.95,536.10 L368.95,535.60 L368.95,535.10 L368.95,534.60 L368.95,534.10 L368.95,533.60 L368.95,533.10 L368.95,532.60 L368.95,532.10 L368.95,531.60 L368.95,531.10 L368.95,530.60 L368.95,530.10 L368.95,529.60 L368.95,529.10 L368.95,528.60 L368.95,528.10 L368.95,527.60 L368.95,527.10 L368.95,526.60 L368.95,526.10 L368.95,525.60 L368.95,525.10 L368.95,524.60 L368.95,524.10 L368.95,523.60 L368.95,523.10 L368.95,522.60 L368.95,522.10 L368.95,521.60 L368.95,521.10 L368.95,520.60 L368.95,520.10 L368.95,519.60 L368.95,519.10 L368.95,518.60 L368.95,518.10 L368.95,517.60 L368.95,517.10 L368.95,516.60 L368.95,516.10 L368.95,515.60 L368.95,515.10 L368.95,514.60 L368.95,514.10 L368.95,513.60 L368.95,513.10 L368.95,512.60 L368.95,512.10 L368.95,511.60 L368.95,511.10 L368.95,510.60 L368.95,510.10 L368.95,509.60 L368.95,509.10 L368.95,508.60 L368.95,508.10 L368.95,507.60 L368.95,507.10 L368.95,506.60 L368.95,506.10 L368.95,505.60 L368.95,505.10 L368.95,504.60 L368.95,504.10 L368.95,503.60 L368.95,503.10 L368.95,502.60 L368.95,502.10 L368.95,501.60 L368.95,501.10 L368.95,500.60 L368.95,500.10 L368.95,499.60 L368.95,499.10 L368.95,498.60 L368.95,498.10 L368.95,497.60 L368.95,497.10 L368.95,496.60 L368.95,496.10 L368.95,495.60 L368.95,495.10 L368.95,494.60 L368.95,494.10 Z" fill="none" stroke="#3c3c3c" stroke-width="1.1" stroke-linejoin="round"/>
<path d="M419.78,650.10 L419.78,650.60 L419.78,651.10 L419.78,651.60 L419.78,652.10 L419.78,652.60 L419.78,653.10 L419.78,653.60 L419.78,654.10 L419.78,654.60 L419.78,655.10 L419.78,655.60 L419.78,656.10 L419.78,656.60 L419.78,657.10 L419.78,657.60 L419.78,658.10 L419.78,658.60 L419.78,659.10 L419.78,659.60 L419.78,660.10 L419.78,660.60 L419.78,661.10 L419.78,661.60 L419.78,662.10 L419.78,662.60 L419.78,663.10 L419.78,663.60 L419.78,664.10 L419.78,664.60 L419.78,665.10 L419.78,665.60 L419.78,666.10 L419.78,666.60 L419.78,667.10 L419.78,667.60 L419.78,668.10 L419.78,668.60 L419.78,669.10 L419.78,669.60 L419.78,670.10 L419.78,670.60 L419.78,671.10 L419.78,671.60 L419.78,672.10 L419.78,672.60 L419.78,673.10 L419.78,673.60 L419.78,674.10 L419.78,674.60 L419.78,675.10 L419.78,675.60 L419.78,676.10 L419.78,676.60 L419.78,677.10 L419.78,677.60 L419.78,678.10 L419.78,678.60 L419.78,679.10 L419.78,679.60 L419.78,680.10 L419.78,680.60 L419.78,681.10 L419.78,681.60 L419.78,682.10 L419.78,682.60 L419.78,683.10 L419.78,683.60 L419.78,684.10 L419.78,684.60 L419.78,685.10 L419.78,685.60 L419.78,686.10 L419.78,686.60 L419.78,687.10 L419.77,687.60 L419.77,688.10 L419.77,688.60 L419.77,689.10 L419.77,689.60 L419.77,690.10 L419.77,690.60 L419.77,691.10 L419.77,691.60 L419.77,692.10 L419.77,692.60 L419.77,693.10 L419.77,693.60 L419.77,694.10 L419.77,694.60 L419.77,695.10 L419.77,695.60 L419.77,696.10 L419.77,696.60 L419.77,697.10 L419.77,697.60 L419.77,698.10 L419.77,698.60 L419.77,699.10 L419.77,699.60 L419.77,700.10 L419.77,700.60 L419.77,701.10 L419.77,701.60 L419.77,702.10 L419.77,702.60 L419.77,703.10 L419.77,703.60 L419.77,704.10 L419.77,704.60 L419.77,705.10 L419.77,705.60 L419.77,706.10 L419.76,706.60 L419.76,707.10 L419.76,707.60 L419.76,708.10 L419.76,708.60 L419.76,709.10 L419.76,709.60 L419.76,710.10 L419.76,710.60 L419.76,711.10 L419.76,711.60 L419.76,712.10 L419.76,712.60 L419.76,713.10 L419.76,713.60 L419.76,714.10 L419.76,714.60 L419.76,715.10 L419.76,715.60 L419.76,716.10 L419.76,716.60 L419.76,717.10 L419.76,717.60 L419.75,718.10 L419.75,718.60 L419.75,719.10 L419.75,719.60 L419.75,720.10 L419.75,720.60 L419.75,721.10 L419.75,721.60 L419.75,722.10 L419.75,722.60 L419.75,723.10 L419.75,723.60 L419.75,724.10 L419.75,724.60 L419.75,725.10 L419.75,725.60 L419.75,726.10 L419.74,726.60 L419.74,727.10 L419.74,727.60 L419.74,728.10 L419.74,728.60 L419.74,729.10 L419.74,729.60 L419.74,730.10 L419.74,730.60 L419.74,731.10 L419.74,731.60 L419.74,732.10 L419.74,732.60 L419.74,733.10 L419.73,733.60 L419.73,734.10 L419.73,734.60 L419.73,735.10 L419.73,735.60 L419.73,736.10 L419.73,736.60 L419.72,737.10 L419.71,737.60 L419.68,738.10 L419.65,738.60 L419.62,739.10 L419.60,739.60 L419.57,740.10 L419.55,740.60 L419.52,741.10 L419.49,741.60 L419.47,742.10 L419.44,742.60 L419.42,743.10 L419.39,743.60 L419.36,744.10 L419.34,744.60 L419.31,745.10 L419.28,745.60 L419.25,746.10 L419.22,746.60 L419.19,747.10 L419.16,747.60 L419.13,748.10 L419.10,748.60 L419.07,749.10 L419.04,749.60 L419.01,750.10 L418.98,750.60 L418.95,751.10 L418.91,751.60 L418.88,752.10 L418.85,752.60 L418.81,753.10 L418.78,753.60 L418.75,754.10 L418.71,754.60 L418.68,755.10 L418.64,755.60 L418.60,756.10 L418.57,756.60 L418.53,757.10 L418.49,757.60 L418.45,758.10 L418.41,758.60 L418.37,759.10 L418.33,759.60 L418.29,760.10 L418.25,760.60 L418.20,761.10 L418.16,761.60 L418.12,762.10 L418.07,762.60 L418.03,763.10 L417.98,763.60 L417.94,764.10 L417.89,764.60 L417.84,765.10 L417.79,765.60 L417.74,766.10 L417.69,766.60 L417.64,767.10 L417.59,767.60 L417.54,768.10 L417.48,768.60 L417.43,769.10 L417.37,769.60 L417.31,770.10 L417.25,770.60 L417.19,771.10 L417.12,771.60 L417.05,772.10 L416.98,772.60 L416.91,773.10 L416.84,773.60 L416.77,774.10 L416.70,774.60 L416.62,775.10 L416.55,775.60 L416.47,776.10 L416.40,776.60 L416.32,777.10 L416.25,777.60 L416.17,778.10 L416.10,778.60 L416.02,779.10 L415.95,779.60 L415.88,780.10 L415.80,780.60 L415.73,781.10 L415.65,781.60 L415.58,782.10 L415.50,782.60 L415.43,783.10 L415.35,783.60 L415.27,784.10 L415.20,784.60 L415.12,785.10 L415.05,785.60 L414.97,786.10 L414.89,786.60 L414.82,787.10 L414.74,787.60 L414.66,788.10 L414.59,788.60 L414.51,789.10 L414.43,789.60 L414.36,790.10 L414.28,790.60 L414.21,791.10 L414.13,791.60 L414.05,792.10 L413.97,792.60 L413.90,793.10 L413.82,793.60 L413.74,794.10 L413.67,794.60 L413.59,795.10 L413.51,795.60 L413.44,796.10 L413.36,796.60 L413.29,797.10 L413.21,797.60 L413.14,798.10 L413.07,798.60 L412.99,799.10 L412.92,799.60 L412.85,800.10 L412.79,800.60 L412.72,801.10 L412.66,801.60 L412.59,802.10 L412.53,802.60 L412.46,803.10 L412.40,803.60 L412.34,804.10 L412.27,804.60 L412.21,805.10 L412.14,805.60 L412.08,806.10 L412.01,806.60 L411.94,807.10 L411.86,807.60 L411.79,808.10 L411.71,808.60 L411.63,809.10 L411.55,809.60 L411.46,810.10 L411.37,810.60 L411.28,811.10 L411.18,811.60 L411.08,812.10 L410.98,812.60 L410.88,813.10 L410.77,813.60 L410.67,814.10 L410.56,814.60 L410.45,815.10 L410.34,815.60 L410.23,816.10 L410.11,816.60 L410.00,817.10 L409.88,817.60 L409.77,818.10 L409.65,818.60 L409.53,819.10 L409.41,819.60 L409.28,820.10 L409.15,820.60 L409.02,821.10 L408.88,821.60 L408.73,822.10 L408.59,822.60 L408.45,823.10 L408.30,823.60 L408.16,824.10 L408.01,824.60 L407.87,825.10 L407.73,825.60 L407.59,826.10 L407.45,826.60 L407.32,827.10 L407.19,827.60 L407.07,828.10 L406.95,828.60 L406.84,829.10 L406.74,829.60 L406.63,830.10 L406.52,830.60 L406.41,831.10 L406.30,831.60 L406.19,832.10 L406.07,832.60 L405.96,833.10 L405.86,833.60 L405.75,834.10 L405.66,834.60 L405.57,835.10 L405.48,835.60 L405.40,836.10 L405.34,836.60 L405.28,837.10 L405.24,837.60 L405.20,838.10 L405.18,838.60 L405.18,839.10 L405.19,839.60 L405.20,840.10 L405.22,840.60 L405.25,841.10 L405.28,841.60 L405.32,842.10 L405.36,842.60 L405.41,843.10 L405.46,843.60 L405.52,844.10 L405.58,844.60 L405.64,845.10 L405.70,845.60 L405.77,846.10 L405.84,846.60 L405.93,847.10 L406.04,847.60 L406.16,848.10 L406.30,848.60 L406.45,849.10 L406.62,849.60 L406.80,850.10 L406.98,850.60 L407.18,851.10 L407.39,851.60 L407.60,852.10 L407.82,852.60 L408.04,853.10 L408.18,853.40 L432.18,853.40 L432.32,853.10 L432.54,852.60 L432.76,852.10 L432.97,851.60 L433.18,851.10 L433.38,850.60 L433.56,850.10 L433.74,849.60 L433.91,849.10 L434.06,848.60 L434.20,848.10 L434.32,847.60 L434.43,847.10 L434.52,846.60 L434.59,846.10 L434.66,845.60 L434.72,845.10 L434.78,844.60 L434.84,844.10 L434.90,843.60 L434.95,843.10 L435.00,842.60 L435.04,842.10 L435.08,841.60 L435.11,841.10 L435.14,840.60 L435.16,840.10 L435.17,839.60 L435.18,839.10 L435.18,838.60 L435.16,838.10 L435.12,837.60 L435.08,837.10 L435.02,836.60 L434.96,836.10 L434.88,835.60 L434.79,835.10 L434.70,834.60 L434.61,834.10 L434.50,833.60 L434.40,833.10 L434.29,832.60 L434.17,832.10 L434.06,831.60 L433.95,831.10 L433.84,830.60 L433.73,830.10 L433.62,829.60 L433.52,829.10 L433.41,828.60 L433.29,828.10 L433.17,827.60 L433.04,827.10 L432.91,826.60 L432.77,826.10 L432.63,825.60 L432.49,825.10 L432.35,824.60 L432.20,824.10 L432.06,823.60 L431.91,823.10 L431.77,822.60 L431.63,822.10 L431.48,821.60 L431.34,821.10 L431.21,820.60 L431.08,820.10 L430.95,819.60 L430.83,819.10 L430.71,818.60 L430.59,818.10 L430.48,817.60 L430.36,817.10 L430.25,816.60 L430.13,816.10 L430.02,815.60 L429.91,815.10 L429.80,814.60 L429.69,814.10 L429.59,813.60 L429.48,813.10 L429.38,812.60 L429.28,812.10 L429.18,811.60 L429.08,811.10 L428.99,810.60 L428.90,810.10 L428.81,809.60 L428.73,809.10 L428.65,808.60 L428.57,808.10 L428.50,807.60 L428.42,807.10 L428.35,806.60 L428.28,806.10 L428.22,805.60 L428.15,805.10 L428.09,804.60 L428.02,804.10 L427.96,803.60 L427.90,803.10 L427.83,802.60 L427.77,802.10 L427.70,801.60 L427.64,801.10 L427.57,800.60 L427.51,800.10 L427.44,799.60 L427.37,799.10 L427.29,798.60 L427.22,798.10 L427.15,797.60 L427.07,797.10 L427.00,796.60 L426.92,796.10 L426.85,795.60 L426.77,795.10 L426.69,794.60 L426.62,794.10 L426.54,793.60 L426.46,793.10 L426.39,792.60 L426.31,792.10 L426.23,791.60 L426.15,791.10 L426.08,790.60 L426.00,790.10 L425.93,789.60 L425.85,789.10 L425.77,788.60 L425.70,788.10 L425.62,787.60 L425.54,787.10 L425.47,786.60 L425.39,786.10 L425.31,785.60 L425.24,785.10 L425.16,784.60 L425.09,784.10 L425.01,783.60 L424.93,783.10 L424.86,782.60 L424.78,782.10 L424.71,781.60 L424.63,781.10 L424.56,780.60 L424.48,780.10 L424.41,779.60 L424.34,779.10 L424.26,778.60 L424.19,778.10 L424.11,777.60 L424.04,777.10 L423.96,776.60 L423.89,776.10 L423.81,775.60 L423.74,775.10 L423.66,774.60 L423.59,774.10 L423.52,773.60 L423.45,773.10 L423.38,772.60 L423.31,772.10 L423.24,771.60 L423.17,771.10 L423.11,770.60 L423.05,770.10 L422.99,769.60 L422.93,769.10 L422.88,768.60 L422.82,768.10 L422.77,767.60 L422.72,767.10 L422.67,766.60 L422.62,766.10 L422.57,765.60 L422.52,765.10 L422.47,764.60 L422.42,764.10 L422.38,763.60 L422.33,763.10 L422.29,762.60 L422.24,762.10 L422.20,761.60 L422.16,761.10 L422.11,760.60 L422.07,760.10 L422.03,759.60 L421.99,759.10 L421.95,758.60 L421.91,758.10 L421.87,757.60 L421.83,757.10 L421.79,756.60 L421.76,756.10 L421.72,755.60 L421.68,755.10 L421.65,754.60 L421.61,754.10 L421.58,753.60 L421.55,753.10 L421.51,752.60 L421.48,752.10 L421.45,751.60 L421.41,751.10 L421.38,750.60 L421.35,750.10 L421.32,749.60 L421.29,749.10 L421.26,748.60 L421.23,748.10 L421.20,747.60 L421.17,747.10 L421.14,746.60 L421.11,746.10 L421.08,745.60 L421.05,745.10 L421.02,744.60 L421.00,744.10 L420.97,743.60 L420.94,743.10 L420.92,742.60 L420.89,742.10 L420.87,741.60 L420.84,741.10 L420.81,740.60 L420.79,740.10 L420.76,739.60 L420.74,739.10 L420.71,738.60 L420.68,738.10 L420.65,737.60 L420.64,737.10 L420.63,736.60 L420.63,736.10 L420.63,735.60 L420.63,735.10 L420.63,734.60 L420.63,734.10 L420.63,733.60 L420.62,733.10 L420.62,732.60 L420.62,732.10 L420.62,731.60 L420.62,731.10 L420.62,730.60 L420.62,730.10 L420.62,729.60 L420.62,729.10 L420.62,728.60 L420.62,728.10 L420.62,727.60 L420.62,727.10 L420.62,726.60 L420.61,726.10 L420.61,725.60 L420.61,725.10 L420.61,724.60 L420.61,724.10 L420.61,723.60 L420.61,723.10 L420.61,722.60 L420.61,722.10 L420.61,721.60 L420.61,721.10 L420.61,720.60 L420.61,720.10 L420.61,719.60 L420.61,719.10 L420.61,718.60 L420.61,718.10 L420.60,717.60 L420.60,717.10 L420.60,716.60 L420.60,716.10 L420.60,715.60 L420.60,715.10 L420.60,714.60 L420.60,714.10 L420.60,713.60 L420.60,713.10 L420.60,712.60 L420.60,712.10 L420.60,711.60 L420.60,711.10 L420.60,710.60 L420.60,710.10 L420.60,709.60 L420.60,709.10 L420.60,708.60 L420.60,708.10 L420.60,707.60 L420.60,707.10 L420.60,706.60 L420.59,706.10 L420.59,705.60 L420.59,705.10 L420.59,704.60 L420.59,704.10 L420.59,703.60 L420.59,703.10 L420.59,702.60 L420.59,702.10 L420.59,701.60 L420.59,701.10 L420.59,700.60 L420.59,700.10 L420.59,699.60 L420.59,699.10 L420.59,698.60 L420.59,698.10 L420.59,697.60 L420.59,697.10 L420.59,696.60 L420.59,696.10 L420.59,695.60 L420.59,695.10 L420.59,694.60 L420.59,694.10 L420.59,693.60 L420.59,693.10 L420.59,692.60 L420.59,692.10 L420.59,691.60 L420.59,691.10 L420.59,690.60 L420.59,690.10 L420.59,689.60 L420.59,689.10 L420.59,688.60 L420.59,688.10 L420.59,687.60 L420.58,687.10 L420.58,686.60 L420.58,686.10 L420.58,685.60 L420.58,685.10 L420.58,684.60 L420.58,684.10 L420.58,683.60 L420.58,683.10 L420.58,682.60 L420.58,682.10 L420.58,681.60 L420.58,681.10 L420.58,680.60 L420.58,680.10 L420.58,679.60 L420.58,679.10 L420.58,678.60 L420.58,678.10 L420.58,677.60 L420.58,677.10 L420.58,676.60 L420.58,676.10 L420.58,675.60 L420.58,675.10 L420.58,674.60 L420.58,674.10 L420.58,673.60 L420.58,673.10 L420.58,672.60 L420.58,672.10 L420.58,671.60 L420.58,671.10 L420.58,670.60 L420.58,670.10 L420.58,669.60 L420.58,669.10 L420.58,668.60 L420.58,668.10 L420.58,667.60 L420.58,667.10 L420.58,666.60 L420.58,666.10 L420.58,665.60 L420.58,665.10 L420.58,664.60 L420.58,664.10 L420.58,663.60 L420.58,663.10 L420.58,662.60 L420.58,662.10 L420.58,661.60 L420.58,661.10 L420.58,660.60 L420.58,660.10 L420.58,659.60 L420.58,659.10 L420.58,658.60 L420.58,658.10 L420.58,657.60 L420.58,657.10 L420.58,656.60 L420.58,656.10 L420.58,655.60 L420.58,655.10 L420.58,654.60 L420.58,654.10 L420.58,653.60 L420.58,653.10 L420.58,652.60 L420.58,652.10 L420.58,651.60 L420.58,651.10 L420.58,650.60 L420.58,650.10 Z" fill="none" stroke="#3c3c3c" stroke-width="1.1" stroke-linejoin="round"/>
<path d="M471.41,577.50 L471.41,578.00 L471.41,578.50 L471.41,579.00 L471.41,579.50 L471.41,580.00 L471.41,580.50 L471.41,581.00 L471.41,581.50 L471.41,582.00 L471.41,582.50 L471.41,583.00 L471.41,583.50 L471.41,584.00 L471.41,584.50 L471.41,585.00 L471.41,585.50 L471.41,586.00 L471.41,586.50 L471.41,587.00 L471.41,587.50 L471.41,588.00 L471.41,588.50 L471.41,589.00 L471.41,589.50 L471.41,590.00 L471.41,590.50 L471.41,591.00 L471.41,591.50 L471.41,592.00 L471.41,592.50 L471.41,593.00 L471.41,593.50 L471.41,594.00 L471.41,594.50 L471.41,595.00 L471.41,595.50 L471.41,596.00 L471.41,596.50 L471.41,597.00 L471.41,597.50 L471.41,598.00 L471.41,598.50 L471.41,599.00 L471.41,599.50 L471.41,600.00 L471.41,600.50 L471.41,601.00 L471.41,601.50 L471.41,602.00 L471.41,602.50 L471.41,603.00 L471.41,603.50 L471.41,604.00 L471.41,604.50 L471.41,605.00 L471.41,605.50 L471.41,606.00 L471.41,606.50 L471.41,607.00 L471.41,607.50 L471.41,608.00 L471.41,608.50 L471.41,609.00 L471.41,609.50 L471.41,610.00 L471.41,610.50 L471.41,611.00 L471.41,611.50 L471.41,612.00 L471.41,612.50 L471.41,613.00 L471.41,613.50 L471.41,614.00 L471.41,614.50 L471.41,615.00 L471.41,615.50 L471.41,616.00 L471.41,616.50 L471.41,617.00 L471.41,617.50 L471.41,618.00 L471.41,618.50 L471.41,619.00 L471.41,619.50 L471.41,620.00 L471.41,620.50 L471.41,621.00 L471.41,621.50 L471.41,622.00 L471.41,622.50 L471.41,623.00 L471.41,623.50 L471.41,624.00 L471.41,624.50 L471.41,625.00 L471.41,625.50 L471.41,626.00 L471.41,626.50 L471.41,627.00 L471.41,627.50 L471.41,628.00 L471.41,628.50 L471.41,629.00 L471.41,629.50 L471.41,630.00 L471.41,630.50 L471.41,631.00 L471.41,631.50 L471.41,632.00 L471.41,632.50 L471.41,633.00 L471.41,633.50 L471.41,634.00 L471.41,634.50 L471.41,635.00 L471.41,635.50 L471.41,636.00 L471.41,636.50 L471.41,637.00 L471.41,637.50 L471.41,638.00 L471.41,638.50 L471.41,639.00 L471.41,639.50 L471.41,640.00 L471.41,640.50 L471.41,641.00 L471.41,641.50 L471.41,642.00 L471.41,642.50 L471.41,643.00 L471.41,643.50 L471.41,644.00 L471.41,644.50 L471.41,645.00 L471.41,645.50 L471.41,646.00 L471.41,646.50 L471.41,647.00 L471.41,647.50 L471.41,648.00 L471.41,648.50 L471.41,649.00 L471.41,649.50 L471.41,650.00 L471.41,650.50 L471.41,651.00 L471.41,651.50 L471.41,652.00 L471.41,652.50 L471.41,653.00 L471.41,653.50 L471.41,654.00 L471.41,654.50 L471.41,655.00 L471.41,655.50 L471.41,656.00 L471.41,656.50 L471.41,657.00 L471.41,657.50 L471.41,658.00 L471.41,658.50 L471.41,659.00 L471.41,659.50 L471.41,660.00 L471.41,660.50 L471.41,661.00 L471.41,661.50 L471.41,662.00 L471.41,662.50 L471.41,663.00 L471.41,663.50 L471.41,664.00 L471.41,664.50 L471.41,665.00 L471.41,665.50 L471.41,666.00 L471.41,666.50 L471.41,667.00 L471.41,667.50 L471.41,668.00 L471.41,668.50 L471.41,669.00 L471.41,669.50 L471.41,670.00 L471.41,670.50 L471.41,671.00 L471.41,671.50 L471.41,672.00 L471.41,672.50 L471.41,673.00 L471.41,673.50 L471.41,674.00 L471.41,674.50 L471.41,675.00 L471.41,675.50 L471.41,676.00 L471.41,676.50 L471.41,677.00 L471.41,677.50 L471.41,678.00 L471.41,678.50 L471.41,679.00 L471.41,679.50 L471.41,680.00 L471.41,680.50 L471.41,681.00 L471.41,681.50 L471.41,682.00 L471.41,682.50 L471.41,683.00 L471.41,683.50 L471.41,684.00 L471.41,684.50 L471.41,685.00 L471.41,685.50 L471.41,686.00 L471.41,686.50 L471.41,687.00 L471.41,687.50 L471.41,688.00 L471.41,688.50 L471.41,689.00 L471.41,689.50 L471.41,690.00 L471.41,690.50 L471.41,691.00 L471.41,691.50 L471.41,692.00 L471.41,692.50 L471.40,693.00 L471.40,693.50 L471.39,694.00 L471.38,694.50 L471.38,695.00 L471.37,695.50 L471.36,696.00 L471.35,696.50 L471.33,697.00 L471.32,697.50 L471.31,698.00 L471.29,698.50 L471.28,699.00 L471.26,699.50 L471.25,700.00 L471.23,700.50 L471.21,701.00 L471.19,701.50 L471.17,702.00 L471.15,702.50 L471.13,703.00 L471.11,703.50 L471.09,704.00 L471.07,704.50 L471.05,705.00 L471.03,705.50 L471.01,706.00 L470.99,706.50 L470.97,707.00 L470.94,707.50 L470.92,708.00 L470.90,708.50 L470.88,709.00 L470.86,709.50 L470.84,710.00 L470.81,710.50 L470.79,711.00 L470.77,711.50 L470.75,712.00 L470.73,712.50 L470.71,713.00 L470.69,713.50 L470.67,714.00 L470.66,714.50 L470.64,715.00 L470.62,715.50 L470.60,716.00 L470.59,716.50 L470.57,717.00 L470.56,717.50 L470.54,718.00 L470.53,718.50 L470.52,719.00 L470.51,719.50 L470.49,720.00 L470.48,720.50 L470.47,721.00 L470.46,721.50 L470.45,722.00 L470.44,722.50 L470.44,723.00 L470.43,723.50 L470.42,724.00 L470.41,724.50 L470.40,725.00 L470.39,725.50 L470.38,726.00 L470.37,726.50 L470.37,727.00 L470.36,727.50 L470.35,728.00 L470.34,728.50 L470.33,729.00 L470.32,729.50 L470.31,730.00 L470.30,730.50 L470.29,731.00 L470.28,731.50 L470.27,732.00 L470.26,732.50 L470.25,733.00 L470.24,733.50 L470.23,734.00 L470.22,734.50 L470.21,735.00 L470.20,735.50 L470.19,736.00 L470.18,736.50 L470.17,737.00 L470.16,737.50 L470.15,738.00 L470.14,738.50 L470.13,739.00 L470.12,739.50 L470.11,740.00 L470.10,740.50 L470.09,741.00 L470.08,741.50 L470.07,742.00 L470.06,742.50 L470.04,743.00 L470.03,743.50 L470.02,744.00 L470.00,744.50 L469.99,745.00 L469.98,745.50 L469.96,746.00 L469.95,746.50 L469.93,747.00 L469.92,747.50 L469.90,748.00 L469.89,748.50 L469.87,749.00 L469.86,749.50 L469.84,750.00 L469.82,750.50 L469.80,751.00 L469.79,751.50 L469.77,752.00 L469.75,752.50 L469.73,753.00 L469.71,753.50 L469.69,754.00 L469.67,754.50 L469.65,755.00 L469.64,755.50 L469.61,756.00 L469.59,756.50 L469.57,757.00 L469.55,757.50 L469.53,758.00 L469.51,758.50 L469.49,759.00 L469.47,759.50 L469.44,760.00 L469.42,760.50 L469.40,761.00 L469.38,761.50 L469.35,762.00 L469.33,762.50 L469.31,763.00 L469.28,763.50 L469.26,764.00 L469.23,764.50 L469.21,765.00 L469.18,765.50 L469.15,766.00 L469.12,766.50 L469.10,767.00 L469.07,767.50 L469.04,768.00 L469.01,768.50 L468.98,769.00 L468.94,769.50 L468.91,770.00 L468.88,770.50 L468.84,771.00 L468.81,771.50 L468.77,772.00 L468.73,772.50 L468.69,773.00 L468.65,773.50 L468.61,774.00 L468.56,774.50 L468.51,775.00 L468.46,775.50 L468.41,776.00 L468.35,776.50 L468.29,777.00 L468.23,777.50 L468.17,778.00 L468.11,778.50 L468.04,779.00 L467.98,779.50 L467.91,780.00 L467.84,780.50 L467.77,781.00 L467.70,781.50 L467.63,782.00 L467.56,782.50 L467.49,783.00 L467.42,783.50 L467.34,784.00 L467.27,784.50 L467.20,785.00 L467.13,785.50 L467.06,786.00 L466.99,786.50 L466.92,787.00 L466.86,787.50 L466.79,788.00 L466.72,788.50 L466.65,789.00 L466.59,789.50 L466.52,790.00 L466.45,790.50 L466.39,791.00 L466.32,791.50 L466.25,792.00 L466.18,792.50 L466.12,793.00 L466.05,793.50 L465.98,794.00 L465.91,794.50 L465.83,795.00 L465.76,795.50 L465.69,796.00 L465.61,796.50 L465.54,797.00 L465.46,797.50 L465.38,798.00 L465.30,798.50 L465.22,799.00 L465.13,799.50 L465.04,800.00 L464.96,800.50 L464.87,801.00 L464.77,801.50 L464.67,802.00 L464.57,802.50 L464.47,803.00 L464.35,803.50 L464.24,804.00 L464.12,804.50 L464.00,805.00 L463.87,805.50 L463.75,806.00 L463.62,806.50 L463.49,807.00 L463.35,807.50 L463.22,808.00 L463.08,808.50 L462.94,809.00 L462.81,809.50 L462.67,810.00 L462.53,810.50 L462.40,811.00 L462.26,811.50 L462.12,812.00 L461.99,812.50 L461.86,813.00 L461.73,813.50 L461.60,814.00 L461.48,814.50 L461.35,815.00 L461.23,815.50 L461.12,816.00 L461.00,816.50 L460.88,817.00 L460.76,817.50 L460.64,818.00 L460.51,818.50 L460.39,819.00 L460.27,819.50 L460.15,820.00 L460.03,820.50 L459.91,821.00 L459.80,821.50 L459.68,822.00 L459.57,822.50 L459.46,823.00 L459.35,823.50 L459.25,824.00 L459.15,824.50 L459.05,825.00 L458.96,825.50 L458.87,826.00 L458.79,826.50 L458.71,827.00 L458.63,827.50 L458.55,828.00 L458.47,828.50 L458.38,829.00 L458.30,829.50 L458.23,830.00 L458.16,830.50 L458.11,831.00 L458.06,831.50 L458.03,832.00 L458.01,832.50 L458.01,833.00 L458.03,833.50 L458.07,834.00 L458.12,834.50 L458.18,835.00 L458.25,835.50 L458.34,836.00 L458.43,836.50 L458.54,837.00 L458.65,837.50 L458.77,838.00 L458.89,838.50 L459.02,839.00 L459.14,839.50 L459.27,840.00 L459.40,840.50 L459.53,841.00 L459.66,841.50 L459.80,842.00 L459.95,842.50 L460.12,843.00 L460.30,843.50 L460.48,844.00 L460.68,844.50 L460.88,845.00 L461.08,845.50 L461.29,846.00 L461.50,846.50 L461.72,847.00 L461.93,847.50 L462.14,848.00 L462.35,848.50 L462.56,849.00 L462.78,849.50 L463.00,850.00 L463.23,850.50 L463.45,851.00 L463.69,851.50 L463.92,852.00 L464.11,852.40 L479.11,852.40 L479.30,852.00 L479.53,851.50 L479.77,851.00 L479.99,850.50 L480.22,850.00 L480.44,849.50 L480.66,849.00 L480.87,848.50 L481.08,848.00 L481.29,847.50 L481.50,847.00 L481.72,846.50 L481.93,846.00 L482.14,845.50 L482.34,845.00 L482.54,844.50 L482.74,844.00 L482.92,843.50 L483.10,843.00 L483.27,842.50 L483.42,842.00 L483.56,841.50 L483.69,841.00 L483.82,840.50 L483.95,840.00 L484.08,839.50 L484.20,839.00 L484.33,838.50 L484.45,838.00 L484.57,837.50 L484.68,837.00 L484.79,836.50 L484.88,836.00 L484.97,835.50 L485.04,835.00 L485.10,834.50 L485.15,834.00 L485.19,833.50 L485.21,833.00 L485.21,832.50 L485.19,832.00 L485.16,831.50 L485.11,831.00 L485.06,830.50 L484.99,830.00 L484.92,829.50 L484.84,829.00 L484.75,828.50 L484.67,828.00 L484.59,827.50 L484.51,827.00 L484.43,826.50 L484.35,826.00 L484.26,825.50 L484.17,825.00 L484.07,824.50 L483.97,824.00 L483.87,823.50 L483.76,823.00 L483.65,822.50 L483.54,822.00 L483.42,821.50 L483.31,821.00 L483.19,820.50 L483.07,820.00 L482.95,819.50 L482.83,819.00 L482.71,818.50 L482.58,818.00 L482.46,817.50 L482.34,817.00 L482.22,816.50 L482.10,816.00 L481.99,815.50 L481.87,815.00 L481.74,814.50 L481.62,814.00 L481.49,813.50 L481.36,813.00 L481.23,812.50 L481.10,812.00 L480.96,811.50 L480.82,811.00 L480.69,810.50 L480.55,810.00 L480.41,809.50 L480.28,809.00 L480.14,808.50 L480.00,808.00 L479.87,807.50 L479.73,807.00 L479.60,806.50 L479.47,806.00 L479.35,805.50 L479.22,805.00 L479.10,804.50 L478.98,804.00 L478.87,803.50 L478.75,803.00 L478.65,802.50 L478.55,802.00 L478.45,801.50 L478.35,801.00 L478.26,800.50 L478.18,800.00 L478.09,799.50 L478.00,799.00 L477.92,798.50 L477.84,798.00 L477.76,797.50 L477.68,797.00 L477.61,796.50 L477.53,796.00 L477.46,795.50 L477.39,795.00 L477.31,794.50 L477.24,794.00 L477.17,793.50 L477.10,793.00 L477.04,792.50 L476.97,792.00 L476.90,791.50 L476.83,791.00 L476.77,790.50 L476.70,790.00 L476.63,789.50 L476.57,789.00 L476.50,788.50 L476.43,788.00 L476.36,787.50 L476.30,787.00 L476.23,786.50 L476.16,786.00 L476.09,785.50 L476.02,785.00 L475.95,784.50 L475.88,784.00 L475.80,783.50 L475.73,783.00 L475.66,782.50 L475.59,782.00 L475.52,781.50 L475.45,781.00 L475.38,780.50 L475.31,780.00 L475.24,779.50 L475.18,779.00 L475.11,778.50 L475.05,778.00 L474.99,777.50 L474.93,777.00 L474.87,776.50 L474.81,776.00 L474.76,775.50 L474.71,775.00 L474.66,774.50 L474.61,774.00 L474.57,773.50 L474.53,773.00 L474.49,772.50 L474.45,772.00 L474.41,771.50 L474.38,771.00 L474.34,770.50 L474.31,770.00 L474.28,769.50 L474.24,769.00 L474.21,768.50 L474.18,768.00 L474.15,767.50 L474.12,767.00 L474.10,766.50 L474.07,766.00 L474.04,765.50 L474.01,765.00 L473.99,764.50 L473.96,764.00 L473.94,763.50 L473.91,763.00 L473.89,762.50 L473.87,762.00 L473.84,761.50 L473.82,761.00 L473.80,760.50 L473.78,760.00 L473.75,759.50 L473.73,759.00 L473.71,758.50 L473.69,758.00 L473.67,757.50 L473.65,757.00 L473.63,756.50 L473.61,756.00 L473.58,755.50 L473.57,755.00 L473.55,754.50 L473.53,754.00 L473.51,753.50 L473.49,753.00 L473.47,752.50 L473.45,752.00 L473.43,751.50 L473.42,751.00 L473.40,750.50 L473.38,750.00 L473.36,749.50 L473.35,749.00 L473.33,748.50 L473.32,748.00 L473.30,747.50 L473.29,747.00 L473.27,746.50 L473.26,746.00 L473.24,745.50 L473.23,745.00 L473.22,744.50 L473.20,744.00 L473.19,743.50 L473.18,743.00 L473.16,742.50 L473.15,742.00 L473.14,741.50 L473.13,741.00 L473.12,740.50 L473.11,740.00 L473.10,739.50 L473.09,739.00 L473.08,738.50 L473.07,738.00 L473.06,737.50 L473.05,737.00 L473.04,736.50 L473.03,736.00 L473.02,735.50 L473.01,735.00 L473.00,734.50 L472.99,734.00 L472.98,733.50 L472.97,733.00 L472.96,732.50 L472.95,732.00 L472.94,731.50 L472.93,731.00 L472.92,730.50 L472.91,730.00 L472.90,729.50 L472.89,729.00 L472.88,728.50 L472.87,728.00 L472.86,727.50 L472.85,727.00 L472.85,726.50 L472.84,726.00 L472.83,725.50 L472.82,725.00 L472.81,724.50 L472.80,724.00 L472.79,723.50 L472.78,723.00 L472.78,722.50 L472.77,722.00 L472.76,721.50 L472.75,721.00 L472.74,720.50 L472.73,720.00 L472.71,719.50 L472.70,719.00 L472.69,718.50 L472.68,718.00 L472.66,717.50 L472.65,717.00 L472.63,716.50 L472.62,716.00 L472.60,715.50 L472.58,715.00 L472.56,714.50 L472.55,714.00 L472.53,713.50 L472.51,713.00 L472.49,712.50 L472.47,712.00 L472.45,711.50 L472.43,711.00 L472.41,710.50 L472.38,710.00 L472.36,709.50 L472.34,709.00 L472.32,708.50 L472.30,708.00 L472.28,707.50 L472.25,707.00 L472.23,706.50 L472.21,706.00 L472.19,705.50 L472.17,705.00 L472.15,704.50 L472.13,704.00 L472.11,703.50 L472.09,703.00 L472.07,702.50 L472.05,702.00 L472.03,701.50 L472.01,701.00 L471.99,700.50 L471.97,700.00 L471.96,699.50 L471.94,699.00 L471.93,698.50 L471.91,698.00 L471.90,697.50 L471.89,697.00 L471.87,696.50 L471.86,696.00 L471.85,695.50 L471.84,695.00 L471.84,694.50 L471.83,694.00 L471.82,693.50 L471.82,693.00 L471.81,692.50 L471.81,692.00 L471.81,691.50 L471.81,691.00 L471.81,690.50 L471.81,690.00 L471.81,689.50 L471.81,689.00 L471.81,688.50 L471.81,688.00 L471.81,687.50 L471.81,687.00 L471.81,686.50 L471.81,686.00 L471.81,685.50 L471.81,685.00 L471.81,684.50 L471.81,684.00 L471.81,683.50 L471.81,683.00 L471.81,682.50 L471.81,682.00 L471.81,681.50 L471.81,681.00 L471.81,680.50 L471.81,680.00 L471.81,679.50 L471.81,679.00 L471.81,678.50 L471.81,678.00 L471.81,677.50 L471.81,677.00 L471.81,676.50 L471.81,676.00 L471.81,675.50 L471.81,675.00 L471.81,674.50 L471.81,674.00 L471.81,673.50 L471.81,673.00 L471.81,672.50 L471.81,672.00 L471.81,671.50 L471.81,671.00 L471.81,670.50 L471.81,670.00 L471.81,669.50 L471.81,669.00 L471.81,668.50 L471.81,668.00 L471.81,667.50 L471.81,667.00 L471.81,666.50 L471.81,666.00 L471.81,665.50 L471.81,665.00 L471.81,664.50 L471.81,664.00 L471.81,663.50 L471.81,663.00 L471.81,662.50 L471.81,662.00 L471.81,661.50 L471.81,661.00 L471.81,660.50 L471.81,660.00 L471.81,659.50 L471.81,659.00 L471.81,658.50 L471.81,658.00 L471.81,657.50 L471.81,657.00 L471.81,656.50 L471.81,656.00 L471.81,655.50 L471.81,655.00 L471.81,654.50 L471.81,654.00 L471.81,653.50 L471.81,653.00 L471.81,652.50 L471.81,652.00 L471.81,651.50 L471.81,651.00 L471.81,650.50 L471.81,650.00 L471.81,649.50 L471.81,649.00 L471.81,648.50 L471.81,648.00 L471.81,647.50 L471.81,647.00 L471.81,646.50 L471.81,646.00 L471.81,645.50 L471.81,645.00 L471.81,644.50 L471.81,644.00 L471.81,643.50 L471.81,643.00 L471.81,642.50 L471.81,642.00 L471.81,641.50 L471.81,641.00 L471.81,640.50 L471.81,640.00 L471.81,639.50 L471.81,639.00 L471.81,638.50 L471.81,638.00 L471.81,637.50 L471.81,637.00 L471.81,636.50 L471.81,636.00 L471.81,635.50 L471.81,635.00 L471.81,634.50 L471.81,634.00 L471.81,633.50 L471.81,633.00 L471.81,632.50 L471.81,632.00 L471.81,631.50 L471.81,631.00 L471.81,630.50 L471.81,630.00 L471.81,629.50 L471.81,629.00 L471.81,628.50 L471.81,628.00 L471.81,627.50 L471.81,627.00 L471.81,626.50 L471.81,626.00 L471.81,625.50 L471.81,625.00 L471.81,624.50 L471.81,624.00 L471.81,623.50 L471.81,623.00 L471.81,622.50 L471.81,622.00 L471.81,621.50 L471.81,621.00 L471.81,620.50 L471.81,620.00 L471.81,619.50 L471.81,619.00 L471.81,618.50 L471.81,618.00 L471.81,617.50 L471.81,617.00 L471.81,616.50 L471.81,616.00 L471.81,615.50 L471.81,615.00 L471.81,614.50 L471.81,614.00 L471.81,613.50 L471.81,613.00 L471.81,612.50 L471.81,612.00 L471.81,611.50 L471.81,611.00 L471.81,610.50 L471.81,610.00 L471.81,609.50 L471.81,609.00 L471.81,608.50 L471.81,608.00 L471.81,607.50 L471.81,607.00 L471.81,606.50 L471.81,606.00 L471.81,605.50 L471.81,605.00 L471.81,604.50 L471.81,604.00 L471.81,603.50 L471.81,603.00 L471.81,602.50 L471.81,602.00 L471.81,601.50 L471.81,601.00 L471.81,600.50 L471.81,600.00 L471.81,599.50 L471.81,599.00 L471.81,598.50 L471.81,598.00 L471.81,597.50 L471.81,597.00 L471.81,596.50 L471.81,596.00 L471.81,595.50 L471.81,595.00 L471.81,594.50 L471.81,594.00 L471.81,593.50 L471.81,593.00 L471.81,592.50 L471.81,592.00 L471.81,591.50 L471.81,591.00 L471.81,590.50 L471.81,590.00 L471.81,589.50 L471.81,589.00 L471.81,588.50 L471.81,588.00 L471.81,587.50 L471.81,587.00 L471.81,586.50 L471.81,586.00 L471.81,585.50 L471.81,585.00 L471.81,584.50 L471.81,584.00 L471.81,583.50 L471.81,583.00 L471.81,582.50 L471.81,582.00 L471.81,581.50 L471.81,581.00 L471.81,580.50 L471.81,580.00 L471.81,579.50 L471.81,579.00 L471.81,578.50 L471.81,578.00 L471.81,577.50 Z" fill="none" stroke="#3c3c3c" stroke-width="1.1" stroke-linejoin="round"/>
<path d="M521.94,683.50 L521.94,684.00 L521.94,684.50 L521.93,685.00 L521.93,685.50 L521.93,686.00 L521.93,686.50 L521.93,687.00 L521.92,687.50 L521.92,688.00 L521.92,688.50 L521.92,689.00 L521.92,689.50 L521.92,690.00 L521.91,690.50 L521.91,691.00 L521.91,691.50 L521.91,692.00 L521.91,692.50 L521.91,693.00 L521.91,693.50 L521.91,694.00 L521.90,694.50 L521.90,695.00 L521.90,695.50 L521.90,696.00 L521.90,696.50 L521.90,697.00 L521.90,697.50 L521.90,698.00 L521.90,698.50 L521.90,699.00 L521.90,699.50 L521.90,700.00 L521.90,700.50 L521.89,701.00 L521.89,701.50 L521.89,702.00 L521.89,702.50 L521.89,703.00 L521.89,703.50 L521.89,704.00 L521.89,704.50 L521.89,705.00 L521.89,705.50 L521.89,706.00 L521.89,706.50 L521.89,707.00 L521.89,707.50 L521.89,708.00 L521.89,708.50 L521.89,709.00 L521.89,709.50 L521.89,710.00 L521.89,710.50 L521.89,711.00 L521.89,711.50 L521.89,712.00 L521.89,712.50 L521.89,713.00 L521.89,713.50 L521.89,714.00 L521.89,714.50 L521.89,715.00 L521.89,715.50 L521.89,716.00 L521.89,716.50 L521.89,717.00 L521.89,717.50 L521.89,718.00 L521.89,718.50 L521.89,719.00 L521.90,719.50 L521.90,720.00 L521.90,720.50 L521.90,721.00 L521.90,721.50 L521.91,722.00 L521.91,722.50 L521.91,723.00 L521.91,723.50 L521.92,724.00 L521.92,724.50 L521.92,725.00 L521.93,725.50 L521.93,726.00 L521.93,726.50 L521.94,727.00 L521.94,727.50 L521.94,728.00 L521.95,728.50 L521.95,729.00 L521.96,729.50 L521.96,730.00 L521.96,730.50 L521.97,731.00 L521.97,731.50 L521.98,732.00 L521.98,732.50 L521.98,733.00 L521.99,733.50 L521.99,734.00 L522.00,734.50 L522.00,735.00 L522.01,735.50 L522.01,736.00 L522.01,736.50 L522.02,737.00 L522.02,737.50 L522.03,738.00 L522.03,738.50 L522.03,739.00 L522.04,739.50 L522.04,740.00 L522.04,740.50 L522.05,741.00 L522.05,741.50 L522.06,742.00 L522.06,742.50 L522.07,743.00 L522.07,743.50 L522.08,744.00 L522.08,744.50 L522.09,745.00 L522.10,745.50 L522.10,746.00 L522.11,746.50 L522.11,747.00 L522.12,747.50 L522.12,748.00 L522.12,748.50 L522.13,749.00 L522.13,749.50 L522.13,750.00 L522.14,750.50 L522.14,751.00 L522.14,751.50 L522.14,752.00 L522.14,752.50 L522.13,753.00 L522.11,753.50 L522.08,754.00 L522.06,754.50 L522.02,755.00 L521.98,755.50 L521.94,756.00 L521.90,756.50 L521.85,757.00 L521.80,757.50 L521.75,758.00 L521.70,758.50 L521.64,759.00 L521.59,759.50 L521.54,760.00 L521.48,760.50 L521.42,761.00 L521.35,761.50 L521.27,762.00 L521.18,762.50 L521.10,763.00 L521.01,763.50 L520.92,764.00 L520.83,764.50 L520.75,765.00 L520.67,765.50 L520.59,766.00 L520.53,766.50 L520.46,767.00 L520.40,767.50 L520.34,768.00 L520.28,768.50 L520.23,769.00 L520.17,769.50 L520.11,770.00 L520.06,770.50 L520.01,771.00 L519.95,771.50 L519.90,772.00 L519.85,772.50 L519.80,773.00 L519.75,773.50 L519.70,774.00 L519.65,774.50 L519.60,775.00 L519.56,775.50 L519.51,776.00 L519.46,776.50 L519.41,777.00 L519.36,777.50 L519.31,778.00 L519.26,778.50 L519.21,779.00 L519.16,779.50 L519.10,780.00 L519.05,780.50 L519.00,781.00 L518.94,781.50 L518.89,782.00 L518.84,782.50 L518.78,783.00 L518.73,783.50 L518.68,784.00 L518.63,784.50 L518.57,785.00 L518.52,785.50 L518.47,786.00 L518.42,786.50 L518.36,787.00 L518.31,787.50 L518.26,788.00 L518.20,788.50 L518.15,789.00 L518.10,789.50 L518.04,790.00 L517.99,790.50 L517.93,791.00 L517.88,791.50 L517.82,792.00 L517.76,792.50 L517.71,793.00 L517.65,793.50 L517.59,794.00 L517.53,794.50 L517.47,795.00 L517.41,795.50 L517.35,796.00 L517.29,796.50 L517.23,797.00 L517.16,797.50 L517.10,798.00 L517.04,798.50 L516.97,799.00 L516.91,799.50 L516.85,800.00 L516.78,800.50 L516.72,801.00 L516.65,801.50 L516.58,802.00 L516.52,802.50 L516.45,803.00 L516.38,803.50 L516.32,804.00 L516.25,804.50 L516.18,805.00 L516.11,805.50 L516.04,806.00 L515.97,806.50 L515.90,807.00 L515.82,807.50 L515.75,808.00 L515.68,808.50 L515.60,809.00 L515.53,809.50 L515.45,810.00 L515.37,810.50 L515.30,811.00 L515.22,811.50 L515.14,812.00 L515.06,812.50 L514.97,813.00 L514.89,813.50 L514.81,814.00 L514.72,814.50 L514.63,815.00 L514.55,815.50 L514.46,816.00 L514.37,816.50 L514.28,817.00 L514.18,817.50 L514.08,818.00 L513.97,818.50 L513.85,819.00 L513.72,819.50 L513.59,820.00 L513.45,820.50 L513.31,821.00 L513.16,821.50 L513.01,822.00 L512.86,822.50 L512.70,823.00 L512.55,823.50 L512.39,824.00 L512.23,824.50 L512.08,825.00 L511.92,825.50 L511.77,826.00 L511.63,826.50 L511.48,827.00 L511.34,827.50 L511.21,828.00 L511.08,828.50 L510.97,829.00 L510.85,829.50 L510.75,830.00 L510.66,830.50 L510.57,831.00 L510.50,831.50 L510.44,832.00 L510.39,832.50 L510.36,833.00 L510.34,833.50 L510.32,834.00 L510.30,834.50 L510.29,835.00 L510.27,835.50 L510.26,836.00 L510.24,836.50 L510.23,837.00 L510.22,837.50 L510.21,838.00 L510.20,838.50 L510.19,839.00 L510.18,839.50 L510.17,840.00 L510.16,840.50 L510.16,841.00 L510.15,841.50 L510.15,842.00 L510.14,842.50 L510.14,843.00 L510.14,843.50 L510.15,844.00 L510.18,844.50 L510.24,845.00 L510.31,845.50 L510.40,846.00 L510.51,846.50 L510.64,847.00 L510.78,847.50 L510.92,848.00 L511.08,848.50 L511.24,849.00 L511.41,849.50 L511.58,850.00 L511.75,850.50 L511.91,851.00 L512.08,851.50 L512.24,852.00 L512.42,852.50 L512.61,853.00 L512.82,853.50 L513.03,854.00 L513.25,854.50 L513.34,854.70 L532.74,854.70 L532.83,854.50 L533.05,854.00 L533.26,853.50 L533.47,853.00 L533.66,852.50 L533.84,852.00 L534.00,851.50 L534.17,851.00 L534.33,850.50 L534.50,850.00 L534.67,849.50 L534.84,849.00 L535.00,848.50 L535.16,848.00 L535.30,847.50 L535.44,847.00 L535.57,846.50 L535.68,846.00 L535.77,845.50 L535.84,845.00 L535.90,844.50 L535.93,844.00 L535.94,843.50 L535.94,843.00 L535.94,842.50 L535.93,842.00 L535.93,841.50 L535.92,841.00 L535.92,840.50 L535.91,840.00 L535.90,839.50 L535.89,839.00 L535.88,838.50 L535.87,838.00 L535.86,837.50 L535.85,837.00 L535.84,836.50 L535.82,836.00 L535.81,835.50 L535.79,835.00 L535.78,834.50 L535.76,834.00 L535.74,833.50 L535.72,833.00 L535.69,832.50 L535.64,832.00 L535.58,831.50 L535.51,831.00 L535.42,830.50 L535.33,830.00 L535.23,829.50 L535.11,829.00 L535.00,828.50 L534.87,828.00 L534.74,827.50 L534.60,827.00 L534.45,826.50 L534.31,826.00 L534.16,825.50 L534.00,825.00 L533.85,824.50 L533.69,824.00 L533.53,823.50 L533.38,823.00 L533.22,822.50 L533.07,822.00 L532.92,821.50 L532.77,821.00 L532.63,820.50 L532.49,820.00 L532.36,819.50 L532.23,819.00 L532.11,818.50 L532.00,818.00 L531.90,817.50 L531.80,817.00 L531.71,816.50 L531.62,816.00 L531.53,815.50 L531.45,815.00 L531.36,814.50 L531.27,814.00 L531.19,813.50 L531.11,813.00 L531.02,812.50 L530.94,812.00 L530.86,811.50 L530.78,811.00 L530.71,810.50 L530.63,810.00 L530.55,809.50 L530.48,809.00 L530.40,808.50 L530.33,808.00 L530.26,807.50 L530.18,807.00 L530.11,806.50 L530.04,806.00 L529.97,805.50 L529.90,805.00 L529.83,804.50 L529.76,804.00 L529.70,803.50 L529.63,803.00 L529.56,802.50 L529.50,802.00 L529.43,801.50 L529.36,801.00 L529.30,800.50 L529.23,800.00 L529.17,799.50 L529.11,799.00 L529.04,798.50 L528.98,798.00 L528.92,797.50 L528.85,797.00 L528.79,796.50 L528.73,796.00 L528.67,795.50 L528.61,795.00 L528.55,794.50 L528.49,794.00 L528.43,793.50 L528.37,793.00 L528.32,792.50 L528.26,792.00 L528.20,791.50 L528.15,791.00 L528.09,790.50 L528.04,790.00 L527.98,789.50 L527.93,789.00 L527.88,788.50 L527.82,788.00 L527.77,787.50 L527.72,787.00 L527.66,786.50 L527.61,786.00 L527.56,785.50 L527.51,785.00 L527.45,784.50 L527.40,784.00 L527.35,783.50 L527.30,783.00 L527.24,782.50 L527.19,782.00 L527.14,781.50 L527.08,781.00 L527.03,780.50 L526.98,780.00 L526.92,779.50 L526.87,779.00 L526.82,778.50 L526.77,778.00 L526.72,777.50 L526.67,777.00 L526.62,776.50 L526.57,776.00 L526.52,775.50 L526.48,775.00 L526.43,774.50 L526.38,774.00 L526.33,773.50 L526.28,773.00 L526.23,772.50 L526.18,772.00 L526.13,771.50 L526.07,771.00 L526.02,770.50 L525.97,770.00 L525.91,769.50 L525.85,769.00 L525.80,768.50 L525.74,768.00 L525.68,767.50 L525.62,767.00 L525.55,766.50 L525.49,766.00 L525.41,765.50 L525.33,765.00 L525.25,764.50 L525.16,764.00 L525.07,763.50 L524.98,763.00 L524.90,762.50 L524.81,762.00 L524.73,761.50 L524.66,761.00 L524.60,760.50 L524.54,760.00 L524.49,759.50 L524.44,759.00 L524.38,758.50 L524.33,758.00 L524.28,757.50 L524.23,757.00 L524.18,756.50 L524.14,756.00 L524.10,755.50 L524.06,755.00 L524.02,754.50 L524.00,754.00 L523.97,753.50 L523.95,753.00 L523.94,752.50 L523.94,752.00 L523.94,751.50 L523.94,751.00 L523.94,750.50 L523.95,750.00 L523.95,749.50 L523.95,749.00 L523.96,748.50 L523.96,748.00 L523.96,747.50 L523.97,747.00 L523.97,746.50 L523.98,746.00 L523.98,745.50 L523.99,745.00 L524.00,744.50 L524.00,744.00 L524.01,743.50 L524.01,743.00 L524.02,742.50 L524.02,742.00 L524.03,741.50 L524.03,741.00 L524.04,740.50 L524.04,740.00 L524.04,739.50 L524.05,739.00 L524.05,738.50 L524.05,738.00 L524.06,737.50 L524.06,737.00 L524.07,736.50 L524.07,736.00 L524.07,735.50 L524.08,735.00 L524.08,734.50 L524.09,734.00 L524.09,733.50 L524.10,733.00 L524.10,732.50 L524.10,732.00 L524.11,731.50 L524.11,731.00 L524.12,730.50 L524.12,730.00 L524.12,729.50 L524.13,729.00 L524.13,728.50 L524.14,728.00 L524.14,727.50 L524.14,727.00 L524.15,726.50 L524.15,726.00 L524.15,725.50 L524.16,725.00 L524.16,724.50 L524.16,724.00 L524.17,723.50 L524.17,723.00 L524.17,722.50 L524.17,722.00 L524.18,721.50 L524.18,721.00 L524.18,720.50 L524.18,720.00 L524.18,719.50 L524.19,719.00 L524.19,718.50 L524.19,718.00 L524.19,717.50 L524.19,717.00 L524.19,716.50 L524.19,716.00 L524.19,715.50 L524.19,715.00 L524.19,714.50 L524.19,714.00 L524.19,713.50 L524.19,713.00 L524.19,712.50 L524.19,712.00 L524.19,711.50 L524.19,711.00 L524.19,710.50 L524.19,710.00 L524.19,709.50 L524.19,709.00 L524.19,708.50 L524.19,708.00 L524.19,707.50 L524.19,707.00 L524.19,706.50 L524.19,706.00 L524.19,705.50 L524.19,705.00 L524.19,704.50 L524.19,704.00 L524.19,703.50 L524.19,703.00 L524.19,702.50 L524.19,702.00 L524.19,701.50 L524.19,701.00 L524.18,700.50 L524.18,700.00 L524.18,699.50 L524.18,699.00 L524.18,698.50 L524.18,698.00 L524.18,697.50 L524.18,697.00 L524.18,696.50 L524.18,696.00 L524.18,695.50 L524.18,695.00 L524.18,694.50 L524.17,694.00 L524.17,693.50 L524.17,693.00 L524.17,692.50 L524.17,692.00 L524.17,691.50 L524.17,691.00 L524.17,690.50 L524.16,690.00 L524.16,689.50 L524.16,689.00 L524.16,688.50 L524.16,688.00 L524.16,687.50 L524.15,687.00 L524.15,686.50 L524.15,686.00 L524.15,685.50 L524.15,685.00 L524.14,684.50 L524.14,684.00 L524.14,683.50 Z" fill="none" stroke="#3c3c3c" stroke-width="1.1" stroke-linejoin="round"/>
<path d="M573.17,709.10 L573.17,709.60 L573.17,710.10 L573.17,710.60 L573.17,711.10 L573.17,711.60 L573.17,712.10 L573.17,712.60 L573.17,713.10 L573.17,713.60 L573.17,714.10 L573.17,714.60 L573.17,715.10 L573.17,715.60 L573.17,716.10 L573.17,716.60 L573.17,717.10 L573.17,717.60 L573.17,718.10 L573.17,718.60 L573.17,719.10 L573.17,719.60 L573.17,720.10 L573.17,720.60 L573.17,721.10 L573.17,721.60 L573.17,722.10 L573.17,722.60 L573.17,723.10 L573.17,723.60 L573.17,724.10 L573.17,724.60 L573.17,725.10 L573.17,725.60 L573.17,726.10 L573.17,726.60 L573.17,727.10 L573.17,727.60 L573.17,728.10 L573.16,728.60 L573.16,729.10 L573.16,729.60 L573.15,730.10 L573.15,730.60 L573.14,731.10 L573.14,731.60 L573.13,732.10 L573.12,732.60 L573.12,733.10 L573.11,733.60 L573.10,734.10 L573.09,734.60 L573.08,735.10 L573.07,735.60 L573.06,736.10 L573.05,736.60 L573.04,737.10 L573.03,737.60 L573.02,738.10 L573.01,738.60 L573.00,739.10 L572.99,739.60 L572.97,740.10 L572.96,740.60 L572.95,741.10 L572.93,741.60 L572.92,742.10 L572.91,742.60 L572.89,743.10 L572.88,743.60 L572.86,744.10 L572.85,744.60 L572.83,745.10 L572.81,745.60 L572.79,746.10 L572.76,746.60 L572.74,747.10 L572.71,747.60 L572.68,748.10 L572.65,748.60 L572.62,749.10 L572.58,749.60 L572.54,750.10 L572.51,750.60 L572.47,751.10 L572.43,751.60 L572.38,752.10 L572.34,752.60 L572.29,753.10 L572.25,753.60 L572.20,754.10 L572.15,754.60 L572.09,755.10 L572.04,755.60 L571.99,756.10 L571.93,756.60 L571.88,757.10 L571.82,757.60 L571.76,758.10 L571.69,758.60 L571.61,759.10 L571.53,759.60 L571.43,760.10 L571.33,760.60 L571.22,761.10 L571.10,761.60 L570.98,762.10 L570.85,762.60 L570.72,763.10 L570.59,763.60 L570.45,764.10 L570.31,764.60 L570.17,765.10 L570.03,765.60 L569.89,766.10 L569.76,766.60 L569.62,767.10 L569.49,767.60 L569.36,768.10 L569.23,768.60 L569.11,769.10 L569.00,769.60 L568.89,770.10 L568.79,770.60 L568.69,771.10 L568.59,771.60 L568.50,772.10 L568.41,772.60 L568.32,773.10 L568.23,773.60 L568.14,774.10 L568.05,774.60 L567.96,775.10 L567.88,775.60 L567.79,776.10 L567.70,776.60 L567.61,777.10 L567.53,777.60 L567.44,778.10 L567.34,778.60 L567.25,779.10 L567.16,779.60 L567.06,780.10 L566.96,780.60 L566.86,781.10 L566.75,781.60 L566.65,782.10 L566.55,782.60 L566.44,783.10 L566.34,783.60 L566.24,784.10 L566.14,784.60 L566.04,785.10 L565.95,785.60 L565.85,786.10 L565.77,786.60 L565.68,787.10 L565.60,787.60 L565.52,788.10 L565.45,788.60 L565.37,789.10 L565.29,789.60 L565.22,790.10 L565.14,790.60 L565.07,791.10 L564.99,791.60 L564.92,792.10 L564.85,792.60 L564.78,793.10 L564.72,793.60 L564.65,794.10 L564.59,794.60 L564.54,795.10 L564.48,795.60 L564.43,796.10 L564.39,796.60 L564.35,797.10 L564.31,797.60 L564.28,798.10 L564.25,798.60 L564.23,799.10 L564.21,799.60 L564.18,800.10 L564.16,800.60 L564.14,801.10 L564.12,801.60 L564.10,802.10 L564.08,802.60 L564.07,803.10 L564.05,803.60 L564.03,804.10 L564.02,804.60 L564.00,805.10 L563.99,805.60 L563.97,806.10 L563.96,806.60 L563.95,807.10 L563.93,807.60 L563.92,808.10 L563.91,808.60 L563.90,809.10 L563.88,809.60 L563.87,810.10 L563.86,810.60 L563.85,811.10 L563.84,811.60 L563.82,812.10 L563.81,812.60 L563.80,813.10 L563.79,813.60 L563.77,814.10 L563.76,814.60 L563.75,815.10 L563.73,815.60 L563.72,816.10 L563.70,816.60 L563.69,817.10 L563.67,817.60 L563.66,818.10 L563.64,818.60 L563.63,819.10 L563.61,819.60 L563.60,820.10 L563.58,820.60 L563.57,821.10 L563.55,821.60 L563.54,822.10 L563.52,822.60 L563.51,823.10 L563.49,823.60 L563.48,824.10 L563.47,824.60 L563.46,825.10 L563.45,825.60 L563.43,826.10 L563.42,826.60 L563.41,827.10 L563.41,827.60 L563.40,828.10 L563.39,828.60 L563.39,829.10 L563.38,829.60 L563.38,830.10 L563.37,830.60 L563.37,831.10 L563.37,831.60 L563.37,832.10 L563.37,832.60 L563.38,833.10 L563.38,833.60 L563.39,834.10 L563.39,834.60 L563.40,835.10 L563.41,835.60 L563.42,836.10 L563.43,836.60 L563.45,837.10 L563.46,837.60 L563.47,838.10 L563.51,838.60 L563.58,839.10 L563.67,839.60 L563.78,840.10 L563.92,840.60 L564.07,841.10 L564.23,841.60 L564.40,842.10 L564.59,842.60 L564.77,843.10 L564.95,843.60 L565.14,844.10 L565.31,844.60 L565.48,845.10 L565.63,845.60 L565.77,846.10 L565.90,846.60 L566.03,847.10 L566.15,847.60 L566.28,848.10 L566.40,848.60 L566.53,849.10 L566.65,849.60 L566.77,850.10 L566.89,850.60 L567.01,851.10 L567.12,851.60 L567.24,852.10 L567.35,852.60 L567.46,853.10 L567.57,853.60 L567.68,854.10 L567.77,854.50 L581.17,854.50 L581.26,854.10 L581.37,853.60 L581.48,853.10 L581.59,852.60 L581.70,852.10 L581.82,851.60 L581.93,851.10 L582.05,850.60 L582.17,850.10 L582.29,849.60 L582.41,849.10 L582.54,848.60 L582.66,848.10 L582.79,847.60 L582.91,847.10 L583.04,846.60 L583.17,846.10 L583.31,845.60 L583.46,845.10 L583.63,844.60 L583.80,844.10 L583.99,843.60 L584.17,843.10 L584.35,842.60 L584.54,842.10 L584.71,841.60 L584.87,841.10 L585.02,840.60 L585.16,840.10 L585.27,839.60 L585.36,839.10 L585.43,838.60 L585.47,838.10 L585.48,837.60 L585.49,837.10 L585.51,836.60 L585.52,836.10 L585.53,835.60 L585.54,835.10 L585.55,834.60 L585.55,834.10 L585.56,833.60 L585.56,833.10 L585.57,832.60 L585.57,832.10 L585.57,831.60 L585.57,831.10 L585.57,830.60 L585.56,830.10 L585.56,829.60 L585.55,829.10 L585.55,828.60 L585.54,828.10 L585.53,827.60 L585.53,827.10 L585.52,826.60 L585.51,826.10 L585.49,825.60 L585.48,825.10 L585.47,824.60 L585.46,824.10 L585.45,823.60 L585.43,823.10 L585.42,822.60 L585.40,822.10 L585.39,821.60 L585.37,821.10 L585.36,820.60 L585.34,820.10 L585.33,819.60 L585.31,819.10 L585.30,818.60 L585.28,818.10 L585.27,817.60 L585.25,817.10 L585.24,816.60 L585.22,816.10 L585.21,815.60 L585.19,815.10 L585.18,814.60 L585.17,814.10 L585.15,813.60 L585.14,813.10 L585.13,812.60 L585.12,812.10 L585.10,811.60 L585.09,811.10 L585.08,810.60 L585.07,810.10 L585.06,809.60 L585.04,809.10 L585.03,808.60 L585.02,808.10 L585.01,807.60 L584.99,807.10 L584.98,806.60 L584.97,806.10 L584.95,805.60 L584.94,805.10 L584.92,804.60 L584.91,804.10 L584.89,803.60 L584.87,803.10 L584.86,802.60 L584.84,802.10 L584.82,801.60 L584.80,801.10 L584.78,800.60 L584.76,800.10 L584.73,799.60 L584.71,799.10 L584.69,798.60 L584.66,798.10 L584.63,797.60 L584.59,797.10 L584.55,796.60 L584.51,796.10 L584.46,795.60 L584.40,795.10 L584.35,794.60 L584.29,794.10 L584.22,793.60 L584.16,793.10 L584.09,792.60 L584.02,792.10 L583.95,791.60 L583.87,791.10 L583.80,790.60 L583.72,790.10 L583.65,789.60 L583.57,789.10 L583.49,788.60 L583.42,788.10 L583.34,787.60 L583.26,787.10 L583.17,786.60 L583.09,786.10 L582.99,785.60 L582.90,785.10 L582.80,784.60 L582.70,784.10 L582.60,783.60 L582.50,783.10 L582.39,782.60 L582.29,782.10 L582.19,781.60 L582.08,781.10 L581.98,780.60 L581.88,780.10 L581.78,779.60 L581.69,779.10 L581.60,778.60 L581.50,778.10 L581.41,777.60 L581.33,777.10 L581.24,776.60 L581.15,776.10 L581.06,775.60 L580.98,775.10 L580.89,774.60 L580.80,774.10 L580.71,773.60 L580.62,773.10 L580.53,772.60 L580.44,772.10 L580.35,771.60 L580.25,771.10 L580.15,770.60 L580.05,770.10 L579.94,769.60 L579.83,769.10 L579.71,768.60 L579.58,768.10 L579.45,767.60 L579.32,767.10 L579.18,766.60 L579.05,766.10 L578.91,765.60 L578.77,765.10 L578.63,764.60 L578.49,764.10 L578.35,763.60 L578.22,763.10 L578.09,762.60 L577.96,762.10 L577.84,761.60 L577.72,761.10 L577.61,760.60 L577.51,760.10 L577.41,759.60 L577.33,759.10 L577.25,758.60 L577.18,758.10 L577.12,757.60 L577.06,757.10 L577.01,756.60 L576.95,756.10 L576.90,755.60 L576.85,755.10 L576.79,754.60 L576.74,754.10 L576.69,753.60 L576.65,753.10 L576.60,752.60 L576.56,752.10 L576.51,751.60 L576.47,751.10 L576.43,750.60 L576.40,750.10 L576.36,749.60 L576.32,749.10 L576.29,748.60 L576.26,748.10 L576.23,747.60 L576.20,747.10 L576.18,746.60 L576.15,746.10 L576.13,745.60 L576.11,745.10 L576.09,744.60 L576.08,744.10 L576.06,743.60 L576.05,743.10 L576.03,742.60 L576.02,742.10 L576.01,741.60 L575.99,741.10 L575.98,740.60 L575.97,740.10 L575.95,739.60 L575.94,739.10 L575.93,738.60 L575.92,738.10 L575.91,737.60 L575.90,737.10 L575.89,736.60 L575.88,736.10 L575.87,735.60 L575.86,735.10 L575.85,734.60 L575.84,734.10 L575.83,733.60 L575.82,733.10 L575.82,732.60 L575.81,732.10 L575.80,731.60 L575.80,731.10 L575.79,730.60 L575.79,730.10 L575.78,729.60 L575.78,729.10 L575.78,728.60 L575.77,728.10 L575.77,727.60 L575.77,727.10 L575.77,726.60 L575.77,726.10 L575.77,725.60 L575.77,725.10 L575.77,724.60 L575.77,724.10 L575.77,723.60 L575.77,723.10 L575.77,722.60 L575.77,722.10 L575.77,721.60 L575.77,721.10 L575.77,720.60 L575.77,720.10 L575.77,719.60 L575.77,719.10 L575.77,718.60 L575.77,718.10 L575.77,717.60 L575.77,717.10 L575.77,716.60 L575.77,716.10 L575.77,715.60 L575.77,715.10 L575.77,714.60 L575.77,714.10 L575.77,713.60 L575.77,713.10 L575.77,712.60 L575.77,712.10 L575.77,711.60 L575.77,711.10 L575.77,710.60 L575.77,710.10 L575.77,709.60 L575.77,709.10 Z" fill="none" stroke="#3c3c3c" stroke-width="1.1" stroke-linejoin="round"/>
<path d="M625.70,666.10 L625.70,666.60 L625.70,667.10 L625.70,667.60 L625.70,668.10 L625.70,668.60 L625.70,669.10 L625.70,669.60 L625.69,670.10 L625.69,670.60 L625.69,671.10 L625.69,671.60 L625.69,672.10 L625.68,672.60 L625.68,673.10 L625.68,673.60 L625.68,674.10 L625.67,674.60 L625.67,675.10 L625.67,675.60 L625.67,676.10 L625.66,676.60 L625.66,677.10 L625.65,677.60 L625.65,678.10 L625.65,678.60 L625.64,679.10 L625.64,679.60 L625.63,680.10 L625.63,680.60 L625.62,681.10 L625.62,681.60 L625.61,682.10 L625.61,682.60 L625.60,683.10 L625.60,683.60 L625.59,684.10 L625.59,684.60 L625.58,685.10 L625.58,685.60 L625.57,686.10 L625.56,686.60 L625.56,687.10 L625.55,687.60 L625.55,688.10 L625.54,688.60 L625.53,689.10 L625.53,689.60 L625.52,690.10 L625.51,690.60 L625.51,691.10 L625.50,691.60 L625.49,692.10 L625.48,692.60 L625.48,693.10 L625.47,693.60 L625.46,694.10 L625.45,694.60 L625.45,695.10 L625.44,695.60 L625.43,696.10 L625.42,696.60 L625.42,697.10 L625.41,697.60 L625.40,698.10 L625.39,698.60 L625.38,699.10 L625.37,699.60 L625.37,700.10 L625.36,700.60 L625.35,701.10 L625.34,701.60 L625.33,702.10 L625.32,702.60 L625.31,703.10 L625.31,703.60 L625.30,704.10 L625.29,704.60 L625.28,705.10 L625.27,705.60 L625.25,706.10 L625.24,706.60 L625.23,707.10 L625.22,707.60 L625.20,708.10 L625.19,708.60 L625.17,709.10 L625.16,709.60 L625.14,710.10 L625.12,710.60 L625.11,711.10 L625.09,711.60 L625.07,712.10 L625.05,712.60 L625.03,713.10 L625.01,713.60 L624.99,714.10 L624.97,714.60 L624.95,715.10 L624.93,715.60 L624.91,716.10 L624.88,716.60 L624.86,717.10 L624.84,717.60 L624.81,718.10 L624.79,718.60 L624.76,719.10 L624.74,719.60 L624.71,720.10 L624.69,720.60 L624.66,721.10 L624.64,721.60 L624.61,722.10 L624.58,722.60 L624.56,723.10 L624.53,723.60 L624.50,724.10 L624.47,724.60 L624.45,725.10 L624.42,725.60 L624.39,726.10 L624.36,726.60 L624.33,727.10 L624.30,727.60 L624.26,728.10 L624.23,728.60 L624.19,729.10 L624.16,729.60 L624.12,730.10 L624.08,730.60 L624.04,731.10 L624.00,731.60 L623.96,732.10 L623.91,732.60 L623.87,733.10 L623.82,733.60 L623.77,734.10 L623.73,734.60 L623.68,735.10 L623.63,735.60 L623.57,736.10 L623.52,736.60 L623.47,737.10 L623.40,737.60 L623.34,738.10 L623.26,738.60 L623.19,739.10 L623.10,739.60 L623.02,740.10 L622.93,740.60 L622.84,741.10 L622.75,741.60 L622.66,742.10 L622.56,742.60 L622.47,743.10 L622.38,743.60 L622.30,744.10 L622.21,744.60 L622.13,745.10 L622.06,745.60 L621.99,746.10 L621.92,746.60 L621.87,747.10 L621.82,747.60 L621.77,748.10 L621.73,748.60 L621.69,749.10 L621.65,749.60 L621.62,750.10 L621.58,750.60 L621.54,751.10 L621.51,751.60 L621.48,752.10 L621.44,752.60 L621.41,753.10 L621.38,753.60 L621.35,754.10 L621.32,754.60 L621.29,755.10 L621.27,755.60 L621.24,756.10 L621.21,756.60 L621.19,757.10 L621.16,757.60 L621.14,758.10 L621.11,758.60 L621.09,759.10 L621.06,759.60 L621.04,760.10 L621.02,760.60 L621.00,761.10 L620.97,761.60 L620.95,762.10 L620.93,762.60 L620.91,763.10 L620.88,763.60 L620.86,764.10 L620.84,764.60 L620.82,765.10 L620.80,765.60 L620.77,766.10 L620.75,766.60 L620.73,767.10 L620.71,767.60 L620.68,768.10 L620.66,768.60 L620.63,769.10 L620.61,769.60 L620.59,770.10 L620.56,770.60 L620.54,771.10 L620.51,771.60 L620.49,772.10 L620.47,772.60 L620.45,773.10 L620.43,773.60 L620.41,774.10 L620.39,774.60 L620.37,775.10 L620.35,775.60 L620.33,776.10 L620.31,776.60 L620.29,777.10 L620.27,777.60 L620.25,778.10 L620.23,778.60 L620.21,779.10 L620.19,779.60 L620.18,780.10 L620.16,780.60 L620.14,781.10 L620.12,781.60 L620.10,782.10 L620.08,782.60 L620.06,783.10 L620.03,783.60 L620.01,784.10 L619.99,784.60 L619.97,785.10 L619.94,785.60 L619.92,786.10 L619.90,786.60 L619.87,787.10 L619.85,787.60 L619.82,788.10 L619.79,788.60 L619.76,789.10 L619.73,789.60 L619.70,790.10 L619.67,790.60 L619.64,791.10 L619.61,791.60 L619.57,792.10 L619.53,792.60 L619.49,793.10 L619.45,793.60 L619.40,794.10 L619.35,794.60 L619.30,795.10 L619.25,795.60 L619.19,796.10 L619.14,796.60 L619.08,797.10 L619.01,797.60 L618.95,798.10 L618.89,798.60 L618.82,799.10 L618.75,799.60 L618.69,800.10 L618.62,800.60 L618.55,801.10 L618.48,801.60 L618.41,802.10 L618.33,802.60 L618.26,803.10 L618.19,803.60 L618.12,804.10 L618.05,804.60 L617.97,805.10 L617.90,805.60 L617.83,806.10 L617.76,806.60 L617.69,807.10 L617.62,807.60 L617.56,808.10 L617.49,808.60 L617.43,809.10 L617.36,809.60 L617.29,810.10 L617.22,810.60 L617.15,811.10 L617.07,811.60 L616.99,812.10 L616.90,812.60 L616.82,813.10 L616.73,813.60 L616.65,814.10 L616.56,814.60 L616.48,815.10 L616.39,815.60 L616.30,816.10 L616.22,816.60 L616.14,817.10 L616.06,817.60 L615.98,818.10 L615.91,818.60 L615.84,819.10 L615.77,819.60 L615.71,820.10 L615.65,820.60 L615.59,821.10 L615.55,821.60 L615.51,822.10 L615.47,822.60 L615.44,823.10 L615.42,823.60 L615.41,824.10 L615.40,824.60 L615.40,825.10 L615.40,825.60 L615.41,826.10 L615.41,826.60 L615.42,827.10 L615.43,827.60 L615.43,828.10 L615.44,828.60 L615.46,829.10 L615.47,829.60 L615.48,830.10 L615.50,830.60 L615.51,831.10 L615.53,831.60 L615.55,832.10 L615.57,832.60 L615.59,833.10 L615.61,833.60 L615.63,834.10 L615.65,834.60 L615.68,835.10 L615.70,835.60 L615.73,836.10 L615.77,836.60 L615.82,837.10 L615.87,837.60 L615.94,838.10 L616.01,838.60 L616.09,839.10 L616.17,839.60 L616.27,840.10 L616.37,840.60 L616.47,841.10 L616.58,841.60 L616.70,842.10 L616.82,842.60 L616.94,843.10 L617.07,843.60 L617.20,844.10 L617.34,844.60 L617.48,845.10 L617.62,845.60 L617.76,846.10 L617.90,846.60 L633.90,846.60 L634.04,846.10 L634.18,845.60 L634.32,845.10 L634.46,844.60 L634.60,844.10 L634.73,843.60 L634.86,843.10 L634.98,842.60 L635.10,842.10 L635.22,841.60 L635.33,841.10 L635.43,840.60 L635.53,840.10 L635.63,839.60 L635.71,839.10 L635.79,838.60 L635.86,838.10 L635.93,837.60 L635.98,837.10 L636.03,836.60 L636.07,836.10 L636.10,835.60 L636.12,835.10 L636.15,834.60 L636.17,834.10 L636.19,833.60 L636.21,833.10 L636.23,832.60 L636.25,832.10 L636.27,831.60 L636.29,831.10 L636.30,830.60 L636.32,830.10 L636.33,829.60 L636.34,829.10 L636.36,828.60 L636.37,828.10 L636.37,827.60 L636.38,827.10 L636.39,826.60 L636.39,826.10 L636.40,825.60 L636.40,825.10 L636.40,824.60 L636.39,824.10 L636.38,823.60 L636.36,823.10 L636.33,822.60 L636.29,822.10 L636.25,821.60 L636.21,821.10 L636.15,820.60 L636.09,820.10 L636.03,819.60 L635.96,819.10 L635.89,818.60 L635.82,818.10 L635.74,817.60 L635.66,817.10 L635.58,816.60 L635.50,816.10 L635.41,815.60 L635.32,815.10 L635.24,814.60 L635.15,814.10 L635.07,813.60 L634.98,813.10 L634.90,812.60 L634.81,812.10 L634.73,811.60 L634.65,811.10 L634.58,810.60 L634.51,810.10 L634.44,809.60 L634.37,809.10 L634.31,808.60 L634.24,808.10 L634.18,807.60 L634.11,807.10 L634.04,806.60 L633.97,806.10 L633.90,805.60 L633.83,805.10 L633.75,804.60 L633.68,804.10 L633.61,803.60 L633.54,803.10 L633.47,802.60 L633.39,802.10 L633.32,801.60 L633.25,801.10 L633.18,800.60 L633.11,800.10 L633.05,799.60 L632.98,799.10 L632.91,798.60 L632.85,798.10 L632.79,797.60 L632.72,797.10 L632.66,796.60 L632.61,796.10 L632.55,795.60 L632.50,795.10 L632.45,794.60 L632.40,794.10 L632.35,793.60 L632.31,793.10 L632.27,792.60 L632.23,792.10 L632.19,791.60 L632.16,791.10 L632.13,790.60 L632.10,790.10 L632.07,789.60 L632.04,789.10 L632.01,788.60 L631.98,788.10 L631.95,787.60 L631.93,787.10 L631.90,786.60 L631.88,786.10 L631.86,785.60 L631.83,785.10 L631.81,784.60 L631.79,784.10 L631.77,783.60 L631.74,783.10 L631.72,782.60 L631.70,782.10 L631.68,781.60 L631.66,781.10 L631.64,780.60 L631.62,780.10 L631.61,779.60 L631.59,779.10 L631.57,778.60 L631.55,778.10 L631.53,777.60 L631.51,777.10 L631.49,776.60 L631.47,776.10 L631.45,775.60 L631.43,775.10 L631.41,774.60 L631.39,774.10 L631.37,773.60 L631.35,773.10 L631.33,772.60 L631.31,772.10 L631.29,771.60 L631.26,771.10 L631.24,770.60 L631.21,770.10 L631.19,769.60 L631.17,769.10 L631.14,768.60 L631.12,768.10 L631.09,767.60 L631.07,767.10 L631.05,766.60 L631.03,766.10 L631.00,765.60 L630.98,765.10 L630.96,764.60 L630.94,764.10 L630.92,763.60 L630.89,763.10 L630.87,762.60 L630.85,762.10 L630.83,761.60 L630.80,761.10 L630.78,760.60 L630.76,760.10 L630.74,759.60 L630.71,759.10 L630.69,758.60 L630.66,758.10 L630.64,757.60 L630.61,757.10 L630.59,756.60 L630.56,756.10 L630.53,755.60 L630.51,755.10 L630.48,754.60 L630.45,754.10 L630.42,753.60 L630.39,753.10 L630.36,752.60 L630.32,752.10 L630.29,751.60 L630.26,751.10 L630.22,750.60 L630.18,750.10 L630.15,749.60 L630.11,749.10 L630.07,748.60 L630.03,748.10 L629.98,747.60 L629.93,747.10 L629.88,746.60 L629.81,746.10 L629.74,745.60 L629.67,745.10 L629.59,744.60 L629.50,744.10 L629.42,743.60 L629.33,743.10 L629.24,742.60 L629.14,742.10 L629.05,741.60 L628.96,741.10 L628.87,740.60 L628.78,740.10 L628.70,739.60 L628.61,739.10 L628.54,738.60 L628.46,738.10 L628.40,737.60 L628.33,737.10 L628.28,736.60 L628.23,736.10 L628.17,735.60 L628.12,735.10 L628.07,734.60 L628.03,734.10 L627.98,733.60 L627.93,733.10 L627.89,732.60 L627.84,732.10 L627.80,731.60 L627.76,731.10 L627.72,730.60 L627.68,730.10 L627.64,729.60 L627.61,729.10 L627.57,728.60 L627.54,728.10 L627.50,727.60 L627.47,727.10 L627.44,726.60 L627.41,726.10 L627.38,725.60 L627.35,725.10 L627.33,724.60 L627.30,724.10 L627.27,723.60 L627.24,723.10 L627.22,722.60 L627.19,722.10 L627.16,721.60 L627.14,721.10 L627.11,720.60 L627.09,720.10 L627.06,719.60 L627.04,719.10 L627.01,718.60 L626.99,718.10 L626.96,717.60 L626.94,717.10 L626.92,716.60 L626.89,716.10 L626.87,715.60 L626.85,715.10 L626.83,714.60 L626.81,714.10 L626.79,713.60 L626.77,713.10 L626.75,712.60 L626.73,712.10 L626.71,711.60 L626.69,711.10 L626.68,710.60 L626.66,710.10 L626.64,709.60 L626.63,709.10 L626.61,708.60 L626.60,708.10 L626.58,707.60 L626.57,707.10 L626.56,706.60 L626.55,706.10 L626.53,705.60 L626.52,705.10 L626.51,704.60 L626.50,704.10 L626.49,703.60 L626.49,703.10 L626.48,702.60 L626.47,702.10 L626.46,701.60 L626.45,701.10 L626.44,700.60 L626.43,700.10 L626.43,699.60 L626.42,699.10 L626.41,698.60 L626.40,698.10 L626.39,697.60 L626.38,697.10 L626.38,696.60 L626.37,696.10 L626.36,695.60 L626.35,695.10 L626.35,694.60 L626.34,694.10 L626.33,693.60 L626.32,693.10 L626.32,692.60 L626.31,692.10 L626.30,691.60 L626.29,691.10 L626.29,690.60 L626.28,690.10 L626.27,689.60 L626.27,689.10 L626.26,688.60 L626.25,688.10 L626.25,687.60 L626.24,687.10 L626.24,686.60 L626.23,686.10 L626.22,685.60 L626.22,685.10 L626.21,684.60 L626.21,684.10 L626.20,683.60 L626.20,683.10 L626.19,682.60 L626.19,682.10 L626.18,681.60 L626.18,681.10 L626.17,680.60 L626.17,680.10 L626.16,679.60 L626.16,679.10 L626.15,678.60 L626.15,678.10 L626.15,677.60 L626.14,677.10 L626.14,676.60 L626.13,676.10 L626.13,675.60 L626.13,675.10 L626.13,674.60 L626.12,674.10 L626.12,673.60 L626.12,673.10 L626.12,672.60 L626.11,672.10 L626.11,671.60 L626.11,671.10 L626.11,670.60 L626.11,670.10 L626.10,669.60 L626.10,669.10 L626.10,668.60 L626.10,668.10 L626.10,667.60 L626.10,667.10 L626.10,666.60 L626.10,666.10 Z" fill="none" stroke="#3c3c3c" stroke-width="1.1" stroke-linejoin="round"/>
<path d="M676.13,659.70 L676.13,660.20 L676.13,660.70 L676.13,661.20 L676.13,661.70 L676.13,662.20 L676.13,662.70 L676.13,663.20 L676.13,663.70 L676.13,664.20 L676.13,664.70 L676.13,665.20 L676.13,665.70 L676.12,666.20 L676.12,666.70 L676.12,667.20 L676.12,667.70 L676.12,668.20 L676.12,668.70 L676.12,669.20 L676.12,669.70 L676.12,670.20 L676.11,670.70 L676.11,671.20 L676.11,671.70 L676.11,672.20 L676.11,672.70 L676.11,673.20 L676.10,673.70 L676.10,674.20 L676.10,674.70 L676.10,675.20 L676.10,675.70 L676.09,676.20 L676.09,676.70 L676.09,677.20 L676.09,677.70 L676.09,678.20 L676.08,678.70 L676.08,679.20 L676.08,679.70 L676.08,680.20 L676.07,680.70 L676.07,681.20 L676.07,681.70 L676.07,682.20 L676.06,682.70 L676.06,683.20 L676.06,683.70 L676.06,684.20 L676.05,684.70 L676.05,685.20 L676.05,685.70 L676.04,686.20 L676.04,686.70 L676.04,687.20 L676.04,687.70 L676.03,688.20 L676.03,688.70 L676.03,689.20 L676.02,689.70 L676.02,690.20 L676.02,690.70 L676.01,691.20 L676.01,691.70 L676.01,692.20 L676.00,692.70 L676.00,693.20 L676.00,693.70 L675.99,694.20 L675.99,694.70 L675.99,695.20 L675.98,695.70 L675.98,696.20 L675.98,696.70 L675.97,697.20 L675.97,697.70 L675.96,698.20 L675.96,698.70 L675.95,699.20 L675.94,699.70 L675.94,700.20 L675.93,700.70 L675.92,701.20 L675.92,701.70 L675.91,702.20 L675.90,702.70 L675.89,703.20 L675.89,703.70 L675.88,704.20 L675.87,704.70 L675.86,705.20 L675.85,705.70 L675.84,706.20 L675.83,706.70 L675.82,707.20 L675.81,707.70 L675.80,708.20 L675.79,708.70 L675.78,709.20 L675.76,709.70 L675.75,710.20 L675.74,710.70 L675.73,711.20 L675.72,711.70 L675.71,712.20 L675.69,712.70 L675.68,713.20 L675.67,713.70 L675.66,714.20 L675.65,714.70 L675.63,715.20 L675.62,715.70 L675.61,716.20 L675.59,716.70 L675.58,717.20 L675.57,717.70 L675.56,718.20 L675.54,718.70 L675.53,719.20 L675.52,719.70 L675.50,720.20 L675.49,720.70 L675.48,721.20 L675.46,721.70 L675.45,722.20 L675.43,722.70 L675.42,723.20 L675.40,723.70 L675.38,724.20 L675.37,724.70 L675.35,725.20 L675.33,725.70 L675.32,726.20 L675.30,726.70 L675.28,727.20 L675.26,727.70 L675.24,728.20 L675.23,728.70 L675.21,729.20 L675.19,729.70 L675.17,730.20 L675.15,730.70 L675.13,731.20 L675.11,731.70 L675.09,732.20 L675.07,732.70 L675.05,733.20 L675.03,733.70 L675.00,734.20 L674.98,734.70 L674.96,735.20 L674.94,735.70 L674.92,736.20 L674.89,736.70 L674.87,737.20 L674.85,737.70 L674.82,738.20 L674.80,738.70 L674.78,739.20 L674.75,739.70 L674.73,740.20 L674.70,740.70 L674.68,741.20 L674.65,741.70 L674.63,742.20 L674.60,742.70 L674.58,743.20 L674.55,743.70 L674.52,744.20 L674.50,744.70 L674.47,745.20 L674.44,745.70 L674.41,746.20 L674.37,746.70 L674.34,747.20 L674.31,747.70 L674.28,748.20 L674.24,748.70 L674.21,749.20 L674.18,749.70 L674.14,750.20 L674.11,750.70 L674.07,751.20 L674.04,751.70 L674.00,752.20 L673.96,752.70 L673.93,753.20 L673.89,753.70 L673.85,754.20 L673.82,754.70 L673.78,755.20 L673.74,755.70 L673.70,756.20 L673.66,756.70 L673.63,757.20 L673.59,757.70 L673.55,758.20 L673.51,758.70 L673.48,759.20 L673.44,759.70 L673.40,760.20 L673.36,760.70 L673.33,761.20 L673.29,761.70 L673.25,762.20 L673.22,762.70 L673.18,763.20 L673.14,763.70 L673.11,764.20 L673.07,764.70 L673.04,765.20 L673.00,765.70 L672.97,766.20 L672.93,766.70 L672.90,767.20 L672.87,767.70 L672.83,768.20 L672.80,768.70 L672.77,769.20 L672.73,769.70 L672.70,770.20 L672.67,770.70 L672.63,771.20 L672.60,771.70 L672.57,772.20 L672.54,772.70 L672.50,773.20 L672.47,773.70 L672.44,774.20 L672.40,774.70 L672.37,775.20 L672.34,775.70 L672.31,776.20 L672.27,776.70 L672.24,777.20 L672.21,777.70 L672.17,778.20 L672.14,778.70 L672.10,779.20 L672.07,779.70 L672.04,780.20 L672.00,780.70 L671.97,781.20 L671.93,781.70 L671.90,782.20 L671.86,782.70 L671.82,783.20 L671.79,783.70 L671.75,784.20 L671.71,784.70 L671.67,785.20 L671.64,785.70 L671.60,786.20 L671.56,786.70 L671.52,787.20 L671.48,787.70 L671.44,788.20 L671.40,788.70 L671.36,789.20 L671.31,789.70 L671.27,790.20 L671.23,790.70 L671.19,791.20 L671.15,791.70 L671.10,792.20 L671.06,792.70 L671.02,793.20 L670.97,793.70 L670.93,794.20 L670.88,794.70 L670.84,795.20 L670.79,795.70 L670.75,796.20 L670.70,796.70 L670.65,797.20 L670.61,797.70 L670.56,798.20 L670.51,798.70 L670.47,799.20 L670.42,799.70 L670.37,800.20 L670.32,800.70 L670.27,801.20 L670.22,801.70 L670.17,802.20 L670.12,802.70 L670.06,803.20 L670.01,803.70 L669.96,804.20 L669.90,804.70 L669.85,805.20 L669.80,805.70 L669.74,806.20 L669.68,806.70 L669.63,807.20 L669.57,807.70 L669.51,808.20 L669.46,808.70 L669.40,809.20 L669.34,809.70 L669.28,810.20 L669.22,810.70 L669.15,811.20 L669.09,811.70 L669.02,812.20 L668.94,812.70 L668.85,813.20 L668.75,813.70 L668.65,814.20 L668.55,814.70 L668.45,815.20 L668.35,815.70 L668.25,816.20 L668.15,816.70 L668.06,817.20 L667.98,817.70 L667.91,818.20 L667.85,818.70 L667.79,819.20 L667.76,819.70 L667.74,820.20 L667.73,820.70 L667.73,821.20 L667.73,821.70 L667.74,822.20 L667.74,822.70 L667.74,823.20 L667.75,823.70 L667.76,824.20 L667.76,824.70 L667.77,825.20 L667.78,825.70 L667.79,826.20 L667.80,826.70 L667.81,827.20 L667.83,827.70 L667.84,828.20 L667.85,828.70 L667.86,829.20 L667.88,829.70 L667.89,830.20 L667.91,830.70 L667.92,831.20 L667.94,831.70 L667.96,832.20 L667.97,832.70 L667.99,833.20 L668.01,833.70 L668.02,834.20 L668.04,834.70 L668.06,835.20 L668.08,835.70 L668.11,836.20 L668.13,836.70 L668.16,837.20 L668.19,837.70 L668.22,838.20 L668.26,838.70 L668.29,839.20 L668.33,839.70 L668.37,840.20 L668.41,840.70 L668.46,841.20 L668.50,841.70 L668.55,842.20 L668.59,842.70 L668.64,843.20 L668.69,843.70 L668.74,844.20 L668.79,844.70 L668.85,845.20 L668.90,845.70 L668.96,846.20 L669.01,846.70 L669.07,847.20 L669.13,847.70 L669.19,848.20 L669.25,848.70 L669.31,849.20 L669.33,849.40 L685.33,849.40 L685.35,849.20 L685.41,848.70 L685.47,848.20 L685.53,847.70 L685.59,847.20 L685.65,846.70 L685.70,846.20 L685.76,845.70 L685.81,845.20 L685.87,844.70 L685.92,844.20 L685.97,843.70 L686.02,843.20 L686.07,842.70 L686.11,842.20 L686.16,841.70 L686.20,841.20 L686.25,840.70 L686.29,840.20 L686.33,839.70 L686.37,839.20 L686.40,838.70 L686.44,838.20 L686.47,837.70 L686.50,837.20 L686.53,836.70 L686.55,836.20 L686.58,835.70 L686.60,835.20 L686.62,834.70 L686.64,834.20 L686.65,833.70 L686.67,833.20 L686.69,832.70 L686.70,832.20 L686.72,831.70 L686.74,831.20 L686.75,830.70 L686.77,830.20 L686.78,829.70 L686.80,829.20 L686.81,828.70 L686.82,828.20 L686.83,827.70 L686.85,827.20 L686.86,826.70 L686.87,826.20 L686.88,825.70 L686.89,825.20 L686.90,824.70 L686.90,824.20 L686.91,823.70 L686.92,823.20 L686.92,822.70 L686.92,822.20 L686.93,821.70 L686.93,821.20 L686.93,820.70 L686.92,820.20 L686.90,819.70 L686.87,819.20 L686.81,818.70 L686.75,818.20 L686.68,817.70 L686.60,817.20 L686.51,816.70 L686.41,816.20 L686.31,815.70 L686.21,815.20 L686.11,814.70 L686.01,814.20 L685.91,813.70 L685.81,813.20 L685.72,812.70 L685.64,812.20 L685.57,811.70 L685.51,811.20 L685.44,810.70 L685.38,810.20 L685.32,809.70 L685.26,809.20 L685.20,808.70 L685.15,808.20 L685.09,807.70 L685.03,807.20 L684.98,806.70 L684.92,806.20 L684.86,805.70 L684.81,805.20 L684.76,804.70 L684.70,804.20 L684.65,803.70 L684.60,803.20 L684.54,802.70 L684.49,802.20 L684.44,801.70 L684.39,801.20 L684.34,800.70 L684.29,800.20 L684.24,799.70 L684.19,799.20 L684.15,798.70 L684.10,798.20 L684.05,797.70 L684.01,797.20 L683.96,796.70 L683.91,796.20 L683.87,795.70 L683.82,795.20 L683.78,794.70 L683.73,794.20 L683.69,793.70 L683.64,793.20 L683.60,792.70 L683.56,792.20 L683.51,791.70 L683.47,791.20 L683.43,790.70 L683.39,790.20 L683.35,789.70 L683.30,789.20 L683.26,788.70 L683.22,788.20 L683.18,787.70 L683.14,787.20 L683.10,786.70 L683.06,786.20 L683.02,785.70 L682.99,785.20 L682.95,784.70 L682.91,784.20 L682.87,783.70 L682.84,783.20 L682.80,782.70 L682.76,782.20 L682.73,781.70 L682.69,781.20 L682.66,780.70 L682.62,780.20 L682.59,779.70 L682.56,779.20 L682.52,778.70 L682.49,778.20 L682.45,777.70 L682.42,777.20 L682.39,776.70 L682.35,776.20 L682.32,775.70 L682.29,775.20 L682.26,774.70 L682.22,774.20 L682.19,773.70 L682.16,773.20 L682.12,772.70 L682.09,772.20 L682.06,771.70 L682.03,771.20 L681.99,770.70 L681.96,770.20 L681.93,769.70 L681.89,769.20 L681.86,768.70 L681.83,768.20 L681.79,767.70 L681.76,767.20 L681.73,766.70 L681.69,766.20 L681.66,765.70 L681.62,765.20 L681.59,764.70 L681.55,764.20 L681.52,763.70 L681.48,763.20 L681.44,762.70 L681.41,762.20 L681.37,761.70 L681.33,761.20 L681.30,760.70 L681.26,760.20 L681.22,759.70 L681.18,759.20 L681.15,758.70 L681.11,758.20 L681.07,757.70 L681.03,757.20 L681.00,756.70 L680.96,756.20 L680.92,755.70 L680.88,755.20 L680.84,754.70 L680.81,754.20 L680.77,753.70 L680.73,753.20 L680.70,752.70 L680.66,752.20 L680.62,751.70 L680.59,751.20 L680.55,750.70 L680.52,750.20 L680.48,749.70 L680.45,749.20 L680.42,748.70 L680.38,748.20 L680.35,747.70 L680.32,747.20 L680.29,746.70 L680.25,746.20 L680.22,745.70 L680.19,745.20 L680.16,744.70 L680.14,744.20 L680.11,743.70 L680.08,743.20 L680.06,742.70 L680.03,742.20 L680.01,741.70 L679.98,741.20 L679.96,740.70 L679.93,740.20 L679.91,739.70 L679.88,739.20 L679.86,738.70 L679.84,738.20 L679.81,737.70 L679.79,737.20 L679.77,736.70 L679.74,736.20 L679.72,735.70 L679.70,735.20 L679.68,734.70 L679.66,734.20 L679.63,733.70 L679.61,733.20 L679.59,732.70 L679.57,732.20 L679.55,731.70 L679.53,731.20 L679.51,730.70 L679.49,730.20 L679.47,729.70 L679.45,729.20 L679.43,728.70 L679.42,728.20 L679.40,727.70 L679.38,727.20 L679.36,726.70 L679.34,726.20 L679.33,725.70 L679.31,725.20 L679.29,724.70 L679.28,724.20 L679.26,723.70 L679.24,723.20 L679.23,722.70 L679.21,722.20 L679.20,721.70 L679.18,721.20 L679.17,720.70 L679.16,720.20 L679.14,719.70 L679.13,719.20 L679.12,718.70 L679.10,718.20 L679.09,717.70 L679.08,717.20 L679.07,716.70 L679.05,716.20 L679.04,715.70 L679.03,715.20 L679.01,714.70 L679.00,714.20 L678.99,713.70 L678.98,713.20 L678.97,712.70 L678.95,712.20 L678.94,711.70 L678.93,711.20 L678.92,710.70 L678.91,710.20 L678.90,709.70 L678.88,709.20 L678.87,708.70 L678.86,708.20 L678.85,707.70 L678.84,707.20 L678.83,706.70 L678.82,706.20 L678.81,705.70 L678.80,705.20 L678.79,704.70 L678.78,704.20 L678.77,703.70 L678.77,703.20 L678.76,702.70 L678.75,702.20 L678.74,701.70 L678.74,701.20 L678.73,700.70 L678.72,700.20 L678.72,699.70 L678.71,699.20 L678.70,698.70 L678.70,698.20 L678.69,697.70 L678.69,697.20 L678.68,696.70 L678.68,696.20 L678.68,695.70 L678.67,695.20 L678.67,694.70 L678.67,694.20 L678.66,693.70 L678.66,693.20 L678.66,692.70 L678.65,692.20 L678.65,691.70 L678.65,691.20 L678.64,690.70 L678.64,690.20 L678.64,689.70 L678.63,689.20 L678.63,688.70 L678.63,688.20 L678.62,687.70 L678.62,687.20 L678.62,686.70 L678.62,686.20 L678.61,685.70 L678.61,685.20 L678.61,684.70 L678.60,684.20 L678.60,683.70 L678.60,683.20 L678.60,682.70 L678.59,682.20 L678.59,681.70 L678.59,681.20 L678.59,680.70 L678.58,680.20 L678.58,679.70 L678.58,679.20 L678.58,678.70 L678.57,678.20 L678.57,677.70 L678.57,677.20 L678.57,676.70 L678.57,676.20 L678.56,675.70 L678.56,675.20 L678.56,674.70 L678.56,674.20 L678.56,673.70 L678.55,673.20 L678.55,672.70 L678.55,672.20 L678.55,671.70 L678.55,671.20 L678.55,670.70 L678.54,670.20 L678.54,669.70 L678.54,669.20 L678.54,668.70 L678.54,668.20 L678.54,667.70 L678.54,667.20 L678.54,666.70 L678.54,666.20 L678.53,665.70 L678.53,665.20 L678.53,664.70 L678.53,664.20 L678.53,663.70 L678.53,663.20 L678.53,662.70 L678.53,662.20 L678.53,661.70 L678.53,661.20 L678.53,660.70 L678.53,660.20 L678.53,659.70 Z" fill="none" stroke="#3c3c3c" stroke-width="1.1" stroke-linejoin="round"/>
<g fill="#730030">
<circle cx="101.8" cy="746.3" r="1.45"/>
<circle cx="108.4" cy="752.5" r="1.45"/>
<circle cx="104.5" cy="757.5" r="1.45"/>
<circle cx="118.6" cy="761.1" r="1.45"/>
<circle cx="119.6" cy="763.7" r="1.45"/>
<circle cx="119.0" cy="768.3" r="1.45"/>
<circle cx="108.8" cy="765.7" r="1.45"/>
<circle cx="108.0" cy="772.3" r="1.45"/>
<circle cx="108.8" cy="774.5" r="1.45"/>
<circle cx="104.1" cy="774.2" r="1.45"/>
<circle cx="117.0" cy="770.6" r="1.45"/>
<circle cx="111.4" cy="796.0" r="1.45"/>
<circle cx="120.9" cy="797.6" r="1.45"/>
<circle cx="104.5" cy="801.2" r="1.45"/>
<circle cx="118.0" cy="800.9" r="1.45"/>
<circle cx="112.6" cy="807.4" r="1.45"/>
<circle cx="102.2" cy="809.8" r="1.45"/>
<circle cx="119.6" cy="808.5" r="1.45"/>
<circle cx="120.9" cy="809.8" r="1.45"/>
<circle cx="108.5" cy="813.1" r="1.45"/>
<circle cx="110.8" cy="813.7" r="1.45"/>
<circle cx="113.6" cy="813.9" r="1.45"/>
<circle cx="116.4" cy="813.9" r="1.45"/>
<circle cx="116.8" cy="815.5" r="1.45"/>
<circle cx="120.3" cy="813.1" r="1.45"/>
<circle cx="120.7" cy="815.5" r="1.45"/>
<circle cx="121.5" cy="816.7" r="1.45"/>
<circle cx="103.7" cy="816.5" r="1.45"/>
<circle cx="106.1" cy="816.9" r="1.45"/>
<circle cx="109.3" cy="817.5" r="1.45"/>
<circle cx="104.5" cy="819.8" r="1.45"/>
<circle cx="104.1" cy="821.4" r="1.45"/>
<circle cx="106.9" cy="821.8" r="1.45"/>
<circle cx="108.9" cy="821.0" r="1.45"/>
<circle cx="108.9" cy="822.6" r="1.45"/>
<circle cx="112.4" cy="820.0" r="1.45"/>
<circle cx="115.6" cy="819.8" r="1.45"/>
<circle cx="118.7" cy="821.0" r="1.45"/>
<circle cx="121.1" cy="821.0" r="1.45"/>
<circle cx="119.5" cy="824.2" r="1.45"/>
<circle cx="117.6" cy="825.0" r="1.45"/>
<circle cx="116.4" cy="826.6" r="1.45"/>
<circle cx="101.8" cy="825.8" r="1.45"/>
<circle cx="102.0" cy="827.7" r="1.45"/>
<circle cx="106.1" cy="826.2" r="1.45"/>
<circle cx="108.5" cy="827.0" r="1.45"/>
<circle cx="110.8" cy="827.4" r="1.45"/>
<circle cx="108.9" cy="827.9" r="1.45"/>
<circle cx="118.7" cy="828.9" r="1.45"/>
<circle cx="121.7" cy="827.9" r="1.45"/>
<circle cx="106.9" cy="831.3" r="1.45"/>
<circle cx="110.1" cy="830.9" r="1.45"/>
<circle cx="113.2" cy="832.1" r="1.45"/>
<circle cx="115.2" cy="831.3" r="1.45"/>
<circle cx="117.6" cy="831.7" r="1.45"/>
<circle cx="120.3" cy="832.1" r="1.45"/>
<circle cx="121.5" cy="832.9" r="1.45"/>
<circle cx="107.7" cy="833.7" r="1.45"/>
<circle cx="108.5" cy="835.3" r="1.45"/>
<circle cx="114.8" cy="834.9" r="1.45"/>
<circle cx="116.4" cy="834.9" r="1.45"/>
<circle cx="106.1" cy="840.5" r="1.45"/>
<circle cx="112.2" cy="839.9" r="1.45"/>
<circle cx="119.5" cy="840.5" r="1.45"/>
<circle cx="121.7" cy="842.9" r="1.45"/>
<circle cx="107.3" cy="844.2" r="1.45"/>
<circle cx="106.1" cy="847.0" r="1.45"/>
<circle cx="105.1" cy="848.6" r="1.45"/>
<circle cx="106.9" cy="850.6" r="1.45"/>
<circle cx="102.0" cy="849.4" r="1.45"/>
<circle cx="114.2" cy="847.2" r="1.45"/>
<circle cx="121.9" cy="847.8" r="1.45"/>
<circle cx="104.1" cy="854.3" r="1.45"/>
<circle cx="167.9" cy="726.5" r="1.45"/>
<circle cx="157.5" cy="738.1" r="1.45"/>
<circle cx="161.5" cy="753.5" r="1.45"/>
<circle cx="157.2" cy="762.0" r="1.45"/>
<circle cx="157.5" cy="765.6" r="1.45"/>
<circle cx="153.5" cy="774.2" r="1.45"/>
<circle cx="156.7" cy="776.8" r="1.45"/>
<circle cx="157.2" cy="778.3" r="1.45"/>
<circle cx="159.1" cy="784.7" r="1.45"/>
<circle cx="163.1" cy="784.2" r="1.45"/>
<circle cx="169.9" cy="784.6" r="1.45"/>
<circle cx="167.9" cy="789.8" r="1.45"/>
<circle cx="165.4" cy="796.1" r="1.45"/>
<circle cx="167.4" cy="796.1" r="1.45"/>
<circle cx="170.7" cy="796.5" r="1.45"/>
<circle cx="155.3" cy="797.5" r="1.45"/>
<circle cx="159.5" cy="799.7" r="1.45"/>
<circle cx="163.4" cy="800.1" r="1.45"/>
<circle cx="170.3" cy="800.3" r="1.45"/>
<circle cx="155.9" cy="802.2" r="1.45"/>
<circle cx="153.9" cy="804.0" r="1.45"/>
<circle cx="158.3" cy="803.8" r="1.45"/>
<circle cx="164.4" cy="803.0" r="1.45"/>
<circle cx="168.6" cy="804.0" r="1.45"/>
<circle cx="160.3" cy="808.2" r="1.45"/>
<circle cx="163.6" cy="806.8" r="1.45"/>
<circle cx="167.4" cy="807.0" r="1.45"/>
<circle cx="171.5" cy="808.4" r="1.45"/>
<circle cx="153.2" cy="809.9" r="1.45"/>
<circle cx="155.9" cy="809.1" r="1.45"/>
<circle cx="156.5" cy="812.7" r="1.45"/>
<circle cx="161.5" cy="812.9" r="1.45"/>
<circle cx="168.8" cy="814.3" r="1.45"/>
<circle cx="158.3" cy="815.5" r="1.45"/>
<circle cx="156.3" cy="817.0" r="1.45"/>
<circle cx="166.6" cy="817.4" r="1.45"/>
<circle cx="154.3" cy="819.8" r="1.45"/>
<circle cx="159.5" cy="819.0" r="1.45"/>
<circle cx="161.8" cy="818.4" r="1.45"/>
<circle cx="172.1" cy="819.4" r="1.45"/>
<circle cx="154.7" cy="822.8" r="1.45"/>
<circle cx="159.5" cy="822.9" r="1.45"/>
<circle cx="163.0" cy="822.9" r="1.45"/>
<circle cx="153.9" cy="826.9" r="1.45"/>
<circle cx="156.3" cy="826.5" r="1.45"/>
<circle cx="155.9" cy="829.3" r="1.45"/>
<circle cx="158.7" cy="824.9" r="1.45"/>
<circle cx="161.1" cy="826.9" r="1.45"/>
<circle cx="161.5" cy="830.1" r="1.45"/>
<circle cx="164.2" cy="825.3" r="1.45"/>
<circle cx="165.8" cy="827.3" r="1.45"/>
<circle cx="169.0" cy="826.1" r="1.45"/>
<circle cx="168.2" cy="828.5" r="1.45"/>
<circle cx="170.1" cy="831.2" r="1.45"/>
<circle cx="167.4" cy="832.8" r="1.45"/>
<circle cx="169.0" cy="832.0" r="1.45"/>
<circle cx="152.8" cy="831.8" r="1.45"/>
<circle cx="163.6" cy="833.4" r="1.45"/>
<circle cx="160.9" cy="837.2" r="1.45"/>
<circle cx="172.1" cy="836.8" r="1.45"/>
<circle cx="156.3" cy="842.3" r="1.45"/>
<circle cx="158.5" cy="844.3" r="1.45"/>
<circle cx="161.8" cy="848.0" r="1.45"/>
<circle cx="157.3" cy="851.8" r="1.45"/>
<circle cx="162.8" cy="851.6" r="1.45"/>
<circle cx="213.0" cy="730.5" r="1.45"/>
<circle cx="221.2" cy="744.9" r="1.45"/>
<circle cx="224.1" cy="754.6" r="1.45"/>
<circle cx="213.0" cy="755.0" r="1.45"/>
<circle cx="213.0" cy="766.4" r="1.45"/>
<circle cx="218.0" cy="765.8" r="1.45"/>
<circle cx="212.3" cy="774.1" r="1.45"/>
<circle cx="211.2" cy="783.8" r="1.45"/>
<circle cx="212.3" cy="784.9" r="1.45"/>
<circle cx="223.5" cy="789.2" r="1.45"/>
<circle cx="211.8" cy="791.0" r="1.45"/>
<circle cx="215.4" cy="791.0" r="1.45"/>
<circle cx="223.5" cy="799.1" r="1.45"/>
<circle cx="206.7" cy="803.2" r="1.45"/>
<circle cx="208.7" cy="802.5" r="1.45"/>
<circle cx="211.1" cy="801.7" r="1.45"/>
<circle cx="209.9" cy="803.6" r="1.45"/>
<circle cx="216.0" cy="801.5" r="1.45"/>
<circle cx="217.8" cy="803.6" r="1.45"/>
<circle cx="206.3" cy="806.8" r="1.45"/>
<circle cx="208.3" cy="808.8" r="1.45"/>
<circle cx="208.3" cy="810.7" r="1.45"/>
<circle cx="207.1" cy="812.3" r="1.45"/>
<circle cx="205.2" cy="813.5" r="1.45"/>
<circle cx="207.5" cy="813.9" r="1.45"/>
<circle cx="218.6" cy="806.4" r="1.45"/>
<circle cx="221.0" cy="806.0" r="1.45"/>
<circle cx="223.7" cy="806.8" r="1.45"/>
<circle cx="219.4" cy="808.4" r="1.45"/>
<circle cx="219.8" cy="810.0" r="1.45"/>
<circle cx="222.5" cy="811.5" r="1.45"/>
<circle cx="224.5" cy="811.1" r="1.45"/>
<circle cx="214.2" cy="811.9" r="1.45"/>
<circle cx="212.7" cy="813.5" r="1.45"/>
<circle cx="215.8" cy="813.5" r="1.45"/>
<circle cx="219.8" cy="814.5" r="1.45"/>
<circle cx="210.3" cy="816.1" r="1.45"/>
<circle cx="222.1" cy="818.3" r="1.45"/>
<circle cx="212.3" cy="819.8" r="1.45"/>
<circle cx="208.3" cy="821.4" r="1.45"/>
<circle cx="217.4" cy="821.8" r="1.45"/>
<circle cx="210.3" cy="824.2" r="1.45"/>
<circle cx="211.3" cy="825.7" r="1.45"/>
<circle cx="208.3" cy="827.1" r="1.45"/>
<circle cx="215.4" cy="825.5" r="1.45"/>
<circle cx="218.6" cy="824.6" r="1.45"/>
<circle cx="219.0" cy="826.9" r="1.45"/>
<circle cx="223.3" cy="824.9" r="1.45"/>
<circle cx="205.6" cy="829.7" r="1.45"/>
<circle cx="205.0" cy="832.7" r="1.45"/>
<circle cx="216.0" cy="829.3" r="1.45"/>
<circle cx="223.3" cy="830.5" r="1.45"/>
<circle cx="211.3" cy="832.3" r="1.45"/>
<circle cx="211.5" cy="835.2" r="1.45"/>
<circle cx="213.1" cy="835.8" r="1.45"/>
<circle cx="214.8" cy="837.8" r="1.45"/>
<circle cx="207.1" cy="835.4" r="1.45"/>
<circle cx="221.0" cy="833.2" r="1.45"/>
<circle cx="223.9" cy="835.8" r="1.45"/>
<circle cx="222.3" cy="838.0" r="1.45"/>
<circle cx="209.9" cy="839.8" r="1.45"/>
<circle cx="208.1" cy="842.3" r="1.45"/>
<circle cx="220.8" cy="842.3" r="1.45"/>
<circle cx="224.5" cy="843.3" r="1.45"/>
<circle cx="223.3" cy="847.1" r="1.45"/>
<circle cx="212.5" cy="847.1" r="1.45"/>
<circle cx="208.3" cy="848.6" r="1.45"/>
<circle cx="211.1" cy="850.2" r="1.45"/>
<circle cx="213.5" cy="851.4" r="1.45"/>
<circle cx="209.5" cy="853.0" r="1.45"/>
<circle cx="265.7" cy="699.0" r="1.45"/>
<circle cx="261.2" cy="716.1" r="1.45"/>
<circle cx="257.9" cy="723.2" r="1.45"/>
<circle cx="264.4" cy="725.5" r="1.45"/>
<circle cx="266.6" cy="727.3" r="1.45"/>
<circle cx="274.1" cy="730.7" r="1.45"/>
<circle cx="264.8" cy="753.4" r="1.45"/>
<circle cx="265.7" cy="752.5" r="1.45"/>
<circle cx="267.6" cy="760.0" r="1.45"/>
<circle cx="265.3" cy="764.3" r="1.45"/>
<circle cx="268.1" cy="766.1" r="1.45"/>
<circle cx="272.8" cy="768.4" r="1.45"/>
<circle cx="259.7" cy="774.5" r="1.45"/>
<circle cx="257.9" cy="786.1" r="1.45"/>
<circle cx="257.3" cy="791.7" r="1.45"/>
<circle cx="272.8" cy="790.8" r="1.45"/>
<circle cx="274.7" cy="793.6" r="1.45"/>
<circle cx="256.9" cy="799.5" r="1.45"/>
<circle cx="265.2" cy="800.1" r="1.45"/>
<circle cx="273.1" cy="799.7" r="1.45"/>
<circle cx="262.5" cy="803.3" r="1.45"/>
<circle cx="256.6" cy="804.8" r="1.45"/>
<circle cx="260.3" cy="806.4" r="1.45"/>
<circle cx="275.1" cy="802.5" r="1.45"/>
<circle cx="274.5" cy="803.9" r="1.45"/>
<circle cx="266.0" cy="804.8" r="1.45"/>
<circle cx="267.6" cy="804.1" r="1.45"/>
<circle cx="269.6" cy="804.1" r="1.45"/>
<circle cx="271.2" cy="805.6" r="1.45"/>
<circle cx="273.5" cy="807.2" r="1.45"/>
<circle cx="264.8" cy="807.6" r="1.45"/>
<circle cx="266.4" cy="806.4" r="1.45"/>
<circle cx="259.3" cy="810.2" r="1.45"/>
<circle cx="265.2" cy="811.2" r="1.45"/>
<circle cx="265.2" cy="812.4" r="1.45"/>
<circle cx="256.0" cy="814.1" r="1.45"/>
<circle cx="262.5" cy="814.9" r="1.45"/>
<circle cx="271.8" cy="813.9" r="1.45"/>
<circle cx="269.2" cy="816.5" r="1.45"/>
<circle cx="276.3" cy="816.3" r="1.45"/>
<circle cx="275.5" cy="818.7" r="1.45"/>
<circle cx="264.7" cy="820.4" r="1.45"/>
<circle cx="268.2" cy="819.9" r="1.45"/>
<circle cx="266.8" cy="824.2" r="1.45"/>
<circle cx="273.3" cy="826.4" r="1.45"/>
<circle cx="257.1" cy="831.3" r="1.45"/>
<circle cx="268.6" cy="832.7" r="1.45"/>
<circle cx="259.9" cy="835.2" r="1.45"/>
<circle cx="266.4" cy="836.8" r="1.45"/>
<circle cx="264.1" cy="839.2" r="1.45"/>
<circle cx="275.5" cy="838.8" r="1.45"/>
<circle cx="273.5" cy="840.8" r="1.45"/>
<circle cx="260.1" cy="841.6" r="1.45"/>
<circle cx="264.8" cy="843.1" r="1.45"/>
<circle cx="266.4" cy="842.7" r="1.45"/>
<circle cx="269.2" cy="842.5" r="1.45"/>
<circle cx="255.8" cy="845.9" r="1.45"/>
<circle cx="259.5" cy="845.5" r="1.45"/>
<circle cx="261.3" cy="846.3" r="1.45"/>
<circle cx="262.9" cy="847.7" r="1.45"/>
<circle cx="267.2" cy="845.9" r="1.45"/>
<circle cx="269.2" cy="847.1" r="1.45"/>
<circle cx="270.8" cy="847.9" r="1.45"/>
<circle cx="269.2" cy="849.9" r="1.45"/>
<circle cx="275.5" cy="845.9" r="1.45"/>
<circle cx="275.5" cy="849.1" r="1.45"/>
<circle cx="255.8" cy="849.9" r="1.45"/>
<circle cx="261.3" cy="851.2" r="1.45"/>
<circle cx="266.2" cy="853.2" r="1.45"/>
<circle cx="319.2" cy="699.0" r="1.45"/>
<circle cx="321.6" cy="716.5" r="1.45"/>
<circle cx="327.6" cy="721.3" r="1.45"/>
<circle cx="310.4" cy="739.4" r="1.45"/>
<circle cx="318.6" cy="738.9" r="1.45"/>
<circle cx="316.4" cy="743.2" r="1.45"/>
<circle cx="318.3" cy="747.5" r="1.45"/>
<circle cx="307.4" cy="757.2" r="1.45"/>
<circle cx="310.4" cy="772.1" r="1.45"/>
<circle cx="312.1" cy="771.7" r="1.45"/>
<circle cx="320.1" cy="771.2" r="1.45"/>
<circle cx="311.7" cy="781.4" r="1.45"/>
<circle cx="312.1" cy="786.7" r="1.45"/>
<circle cx="323.9" cy="788.0" r="1.45"/>
<circle cx="316.8" cy="799.2" r="1.45"/>
<circle cx="321.6" cy="798.2" r="1.45"/>
<circle cx="322.9" cy="801.6" r="1.45"/>
<circle cx="327.2" cy="799.7" r="1.45"/>
<circle cx="313.6" cy="806.6" r="1.45"/>
<circle cx="317.3" cy="808.5" r="1.45"/>
<circle cx="326.7" cy="811.3" r="1.45"/>
<circle cx="324.8" cy="814.1" r="1.45"/>
<circle cx="316.0" cy="813.2" r="1.45"/>
<circle cx="309.9" cy="819.1" r="1.45"/>
<circle cx="310.2" cy="822.4" r="1.45"/>
<circle cx="314.2" cy="819.8" r="1.45"/>
<circle cx="315.8" cy="821.1" r="1.45"/>
<circle cx="313.8" cy="822.7" r="1.45"/>
<circle cx="322.1" cy="821.4" r="1.45"/>
<circle cx="324.7" cy="822.4" r="1.45"/>
<circle cx="322.7" cy="825.7" r="1.45"/>
<circle cx="311.5" cy="826.7" r="1.45"/>
<circle cx="314.2" cy="830.6" r="1.45"/>
<circle cx="308.6" cy="832.9" r="1.45"/>
<circle cx="308.9" cy="834.3" r="1.45"/>
<circle cx="318.1" cy="833.9" r="1.45"/>
<circle cx="319.1" cy="835.2" r="1.45"/>
<circle cx="324.4" cy="835.2" r="1.45"/>
<circle cx="326.4" cy="835.9" r="1.45"/>
<circle cx="325.7" cy="834.3" r="1.45"/>
<circle cx="307.9" cy="839.5" r="1.45"/>
<circle cx="310.5" cy="838.9" r="1.45"/>
<circle cx="316.8" cy="840.5" r="1.45"/>
<circle cx="320.4" cy="839.5" r="1.45"/>
<circle cx="320.4" cy="840.8" r="1.45"/>
<circle cx="320.1" cy="844.8" r="1.45"/>
<circle cx="325.7" cy="845.5" r="1.45"/>
<circle cx="309.9" cy="847.1" r="1.45"/>
<circle cx="323.1" cy="847.8" r="1.45"/>
<circle cx="325.0" cy="848.4" r="1.45"/>
<circle cx="307.9" cy="850.7" r="1.45"/>
<circle cx="314.2" cy="847.4" r="1.45"/>
<circle cx="314.8" cy="850.1" r="1.45"/>
<circle cx="316.1" cy="851.4" r="1.45"/>
<circle cx="317.5" cy="851.7" r="1.45"/>
<circle cx="372.4" cy="494.4" r="1.45"/>
<circle cx="362.2" cy="540.9" r="1.45"/>
<circle cx="367.7" cy="604.2" r="1.45"/>
<circle cx="372.8" cy="610.8" r="1.45"/>
<circle cx="359.6" cy="690.3" r="1.45"/>
<circle cx="369.1" cy="693.9" r="1.45"/>
<circle cx="372.8" cy="697.0" r="1.45"/>
<circle cx="359.6" cy="707.4" r="1.45"/>
<circle cx="367.8" cy="710.5" r="1.45"/>
<circle cx="374.5" cy="718.9" r="1.45"/>
<circle cx="372.6" cy="720.8" r="1.45"/>
<circle cx="365.2" cy="722.7" r="1.45"/>
<circle cx="366.5" cy="726.4" r="1.45"/>
<circle cx="361.4" cy="737.0" r="1.45"/>
<circle cx="369.6" cy="747.8" r="1.45"/>
<circle cx="365.5" cy="751.0" r="1.45"/>
<circle cx="360.9" cy="756.2" r="1.45"/>
<circle cx="368.9" cy="756.8" r="1.45"/>
<circle cx="364.6" cy="760.3" r="1.45"/>
<circle cx="359.6" cy="768.0" r="1.45"/>
<circle cx="378.6" cy="769.3" r="1.45"/>
<circle cx="359.6" cy="775.3" r="1.45"/>
<circle cx="362.7" cy="774.0" r="1.45"/>
<circle cx="365.5" cy="777.3" r="1.45"/>
<circle cx="368.9" cy="777.7" r="1.45"/>
<circle cx="365.0" cy="781.1" r="1.45"/>
<circle cx="367.0" cy="794.9" r="1.45"/>
<circle cx="369.6" cy="795.8" r="1.45"/>
<circle cx="359.0" cy="805.7" r="1.45"/>
<circle cx="366.5" cy="804.8" r="1.45"/>
<circle cx="377.5" cy="812.3" r="1.45"/>
<circle cx="372.2" cy="813.1" r="1.45"/>
<circle cx="363.7" cy="815.5" r="1.45"/>
<circle cx="369.0" cy="817.6" r="1.45"/>
<circle cx="371.0" cy="818.0" r="1.45"/>
<circle cx="373.4" cy="818.4" r="1.45"/>
<circle cx="374.6" cy="817.0" r="1.45"/>
<circle cx="373.4" cy="819.8" r="1.45"/>
<circle cx="365.3" cy="819.4" r="1.45"/>
<circle cx="365.7" cy="821.2" r="1.45"/>
<circle cx="364.9" cy="823.4" r="1.45"/>
<circle cx="361.7" cy="826.9" r="1.45"/>
<circle cx="369.0" cy="825.3" r="1.45"/>
<circle cx="373.2" cy="825.5" r="1.45"/>
<circle cx="378.5" cy="828.3" r="1.45"/>
<circle cx="359.9" cy="833.0" r="1.45"/>
<circle cx="371.0" cy="834.2" r="1.45"/>
<circle cx="362.5" cy="836.6" r="1.45"/>
<circle cx="365.7" cy="836.4" r="1.45"/>
<circle cx="358.6" cy="839.5" r="1.45"/>
<circle cx="369.8" cy="840.3" r="1.45"/>
<circle cx="369.8" cy="842.6" r="1.45"/>
<circle cx="375.4" cy="841.1" r="1.45"/>
<circle cx="373.0" cy="843.0" r="1.45"/>
<circle cx="373.8" cy="845.0" r="1.45"/>
<circle cx="374.6" cy="846.6" r="1.45"/>
<circle cx="376.5" cy="847.8" r="1.45"/>
<circle cx="364.1" cy="845.8" r="1.45"/>
<circle cx="365.1" cy="847.8" r="1.45"/>
<circle cx="421.8" cy="650.1" r="1.45"/>
<circle cx="424.5" cy="750.4" r="1.45"/>
<circle cx="418.5" cy="767.3" r="1.45"/>
<circle cx="411.0" cy="771.6" r="1.45"/>
<circle cx="413.4" cy="783.2" r="1.45"/>
<circle cx="419.7" cy="787.3" r="1.45"/>
<circle cx="416.5" cy="787.8" r="1.45"/>
<circle cx="410.0" cy="790.9" r="1.45"/>
<circle cx="411.7" cy="792.1" r="1.45"/>
<circle cx="420.9" cy="792.9" r="1.45"/>
<circle cx="425.0" cy="782.0" r="1.45"/>
<circle cx="428.8" cy="789.7" r="1.45"/>
<circle cx="430.3" cy="795.8" r="1.45"/>
<circle cx="425.0" cy="798.2" r="1.45"/>
<circle cx="426.9" cy="801.3" r="1.45"/>
<circle cx="430.5" cy="804.9" r="1.45"/>
<circle cx="411.2" cy="806.6" r="1.45"/>
<circle cx="412.4" cy="807.8" r="1.45"/>
<circle cx="430.5" cy="811.9" r="1.45"/>
<circle cx="411.0" cy="815.1" r="1.45"/>
<circle cx="411.7" cy="818.7" r="1.45"/>
<circle cx="414.3" cy="824.4" r="1.45"/>
<circle cx="415.8" cy="822.9" r="1.45"/>
<circle cx="417.4" cy="822.0" r="1.45"/>
<circle cx="418.9" cy="821.2" r="1.45"/>
<circle cx="420.8" cy="820.5" r="1.45"/>
<circle cx="428.9" cy="819.8" r="1.45"/>
<circle cx="430.1" cy="822.0" r="1.45"/>
<circle cx="422.2" cy="826.5" r="1.45"/>
<circle cx="425.8" cy="826.5" r="1.45"/>
<circle cx="420.8" cy="829.6" r="1.45"/>
<circle cx="423.2" cy="830.3" r="1.45"/>
<circle cx="416.5" cy="829.6" r="1.45"/>
<circle cx="429.2" cy="830.3" r="1.45"/>
<circle cx="429.2" cy="832.5" r="1.45"/>
<circle cx="410.0" cy="835.9" r="1.45"/>
<circle cx="413.6" cy="835.4" r="1.45"/>
<circle cx="413.8" cy="836.8" r="1.45"/>
<circle cx="419.1" cy="839.2" r="1.45"/>
<circle cx="421.7" cy="841.1" r="1.45"/>
<circle cx="410.5" cy="842.1" r="1.45"/>
<circle cx="415.3" cy="843.3" r="1.45"/>
<circle cx="419.8" cy="843.8" r="1.45"/>
<circle cx="420.3" cy="845.7" r="1.45"/>
<circle cx="426.8" cy="844.7" r="1.45"/>
<circle cx="418.4" cy="848.3" r="1.45"/>
<circle cx="420.3" cy="847.6" r="1.45"/>
<circle cx="422.7" cy="848.1" r="1.45"/>
<circle cx="424.1" cy="848.6" r="1.45"/>
<circle cx="418.9" cy="851.5" r="1.45"/>
<circle cx="420.8" cy="850.5" r="1.45"/>
<circle cx="422.7" cy="851.5" r="1.45"/>
<circle cx="427.0" cy="848.1" r="1.45"/>
<circle cx="428.9" cy="848.1" r="1.45"/>
<circle cx="429.9" cy="849.5" r="1.45"/>
<circle cx="430.4" cy="852.4" r="1.45"/>
<circle cx="430.9" cy="853.4" r="1.45"/>
<circle cx="410.7" cy="851.9" r="1.45"/>
<circle cx="477.2" cy="577.8" r="1.45"/>
<circle cx="481.5" cy="708.5" r="1.45"/>
<circle cx="467.5" cy="719.8" r="1.45"/>
<circle cx="474.4" cy="720.8" r="1.45"/>
<circle cx="463.4" cy="734.2" r="1.45"/>
<circle cx="468.8" cy="739.8" r="1.45"/>
<circle cx="479.5" cy="742.6" r="1.45"/>
<circle cx="474.1" cy="748.3" r="1.45"/>
<circle cx="476.3" cy="749.7" r="1.45"/>
<circle cx="468.1" cy="752.5" r="1.45"/>
<circle cx="463.4" cy="767.8" r="1.45"/>
<circle cx="467.3" cy="770.2" r="1.45"/>
<circle cx="462.4" cy="776.4" r="1.45"/>
<circle cx="469.5" cy="778.5" r="1.45"/>
<circle cx="473.0" cy="777.1" r="1.45"/>
<circle cx="479.5" cy="774.5" r="1.45"/>
<circle cx="480.2" cy="783.5" r="1.45"/>
<circle cx="477.0" cy="788.2" r="1.45"/>
<circle cx="462.0" cy="794.2" r="1.45"/>
<circle cx="464.4" cy="793.1" r="1.45"/>
<circle cx="474.1" cy="795.4" r="1.45"/>
<circle cx="475.8" cy="795.4" r="1.45"/>
<circle cx="480.8" cy="794.5" r="1.45"/>
<circle cx="471.4" cy="804.5" r="1.45"/>
<circle cx="472.2" cy="806.1" r="1.45"/>
<circle cx="481.7" cy="805.7" r="1.45"/>
<circle cx="470.2" cy="809.2" r="1.45"/>
<circle cx="466.3" cy="811.2" r="1.45"/>
<circle cx="473.0" cy="813.2" r="1.45"/>
<circle cx="477.0" cy="812.4" r="1.45"/>
<circle cx="478.5" cy="813.8" r="1.45"/>
<circle cx="475.0" cy="816.1" r="1.45"/>
<circle cx="481.1" cy="816.7" r="1.45"/>
<circle cx="463.1" cy="819.1" r="1.45"/>
<circle cx="465.5" cy="818.3" r="1.45"/>
<circle cx="476.6" cy="819.1" r="1.45"/>
<circle cx="477.7" cy="818.7" r="1.45"/>
<circle cx="468.9" cy="822.1" r="1.45"/>
<circle cx="469.5" cy="822.6" r="1.45"/>
<circle cx="472.8" cy="824.8" r="1.45"/>
<circle cx="480.1" cy="824.0" r="1.45"/>
<circle cx="462.5" cy="826.6" r="1.45"/>
<circle cx="478.5" cy="826.6" r="1.45"/>
<circle cx="462.3" cy="828.0" r="1.45"/>
<circle cx="461.9" cy="829.3" r="1.45"/>
<circle cx="461.8" cy="832.5" r="1.45"/>
<circle cx="462.7" cy="834.5" r="1.45"/>
<circle cx="479.3" cy="827.8" r="1.45"/>
<circle cx="473.0" cy="830.9" r="1.45"/>
<circle cx="474.6" cy="830.5" r="1.45"/>
<circle cx="475.4" cy="831.7" r="1.45"/>
<circle cx="476.6" cy="832.5" r="1.45"/>
<circle cx="467.3" cy="833.9" r="1.45"/>
<circle cx="468.1" cy="833.9" r="1.45"/>
<circle cx="472.8" cy="834.7" r="1.45"/>
<circle cx="480.3" cy="834.3" r="1.45"/>
<circle cx="465.1" cy="839.0" r="1.45"/>
<circle cx="468.3" cy="841.6" r="1.45"/>
<circle cx="469.8" cy="840.6" r="1.45"/>
<circle cx="471.4" cy="839.8" r="1.45"/>
<circle cx="473.0" cy="839.2" r="1.45"/>
<circle cx="474.6" cy="838.6" r="1.45"/>
<circle cx="462.3" cy="842.4" r="1.45"/>
<circle cx="462.7" cy="845.7" r="1.45"/>
<circle cx="481.7" cy="840.4" r="1.45"/>
<circle cx="481.7" cy="842.0" r="1.45"/>
<circle cx="473.8" cy="843.2" r="1.45"/>
<circle cx="472.6" cy="845.1" r="1.45"/>
<circle cx="476.2" cy="845.5" r="1.45"/>
<circle cx="476.0" cy="847.5" r="1.45"/>
<circle cx="470.8" cy="849.3" r="1.45"/>
<circle cx="464.5" cy="851.5" r="1.45"/>
<circle cx="472.8" cy="852.4" r="1.45"/>
<circle cx="479.1" cy="851.7" r="1.45"/>
<circle cx="529.5" cy="683.5" r="1.45"/>
<circle cx="531.5" cy="696.7" r="1.45"/>
<circle cx="529.5" cy="710.5" r="1.45"/>
<circle cx="524.8" cy="713.6" r="1.45"/>
<circle cx="519.3" cy="728.2" r="1.45"/>
<circle cx="523.0" cy="733.5" r="1.45"/>
<circle cx="531.1" cy="740.4" r="1.45"/>
<circle cx="531.9" cy="740.0" r="1.45"/>
<circle cx="516.3" cy="744.5" r="1.45"/>
<circle cx="522.4" cy="742.4" r="1.45"/>
<circle cx="531.1" cy="749.1" r="1.45"/>
<circle cx="514.2" cy="769.4" r="1.45"/>
<circle cx="530.9" cy="769.4" r="1.45"/>
<circle cx="513.6" cy="786.7" r="1.45"/>
<circle cx="518.7" cy="788.3" r="1.45"/>
<circle cx="523.4" cy="789.1" r="1.45"/>
<circle cx="524.8" cy="787.7" r="1.45"/>
<circle cx="526.4" cy="792.8" r="1.45"/>
<circle cx="532.5" cy="793.2" r="1.45"/>
<circle cx="531.5" cy="795.8" r="1.45"/>
<circle cx="525.4" cy="797.9" r="1.45"/>
<circle cx="527.0" cy="801.3" r="1.45"/>
<circle cx="530.5" cy="798.9" r="1.45"/>
<circle cx="529.5" cy="804.0" r="1.45"/>
<circle cx="528.4" cy="806.6" r="1.45"/>
<circle cx="513.2" cy="804.0" r="1.45"/>
<circle cx="517.9" cy="804.2" r="1.45"/>
<circle cx="513.6" cy="814.1" r="1.45"/>
<circle cx="523.0" cy="815.1" r="1.45"/>
<circle cx="514.2" cy="819.2" r="1.45"/>
<circle cx="530.5" cy="818.2" r="1.45"/>
<circle cx="532.5" cy="821.6" r="1.45"/>
<circle cx="533.1" cy="822.4" r="1.45"/>
<circle cx="534.0" cy="823.1" r="1.45"/>
<circle cx="523.9" cy="824.4" r="1.45"/>
<circle cx="514.3" cy="827.8" r="1.45"/>
<circle cx="523.5" cy="828.4" r="1.45"/>
<circle cx="527.6" cy="830.3" r="1.45"/>
<circle cx="529.7" cy="831.8" r="1.45"/>
<circle cx="531.4" cy="829.5" r="1.45"/>
<circle cx="533.5" cy="832.7" r="1.45"/>
<circle cx="513.4" cy="832.7" r="1.45"/>
<circle cx="517.1" cy="834.0" r="1.45"/>
<circle cx="522.8" cy="833.8" r="1.45"/>
<circle cx="526.1" cy="834.2" r="1.45"/>
<circle cx="528.8" cy="836.6" r="1.45"/>
<circle cx="532.0" cy="835.5" r="1.45"/>
<circle cx="532.3" cy="836.6" r="1.45"/>
<circle cx="514.9" cy="838.9" r="1.45"/>
<circle cx="520.7" cy="838.7" r="1.45"/>
<circle cx="519.2" cy="840.2" r="1.45"/>
<circle cx="522.4" cy="841.3" r="1.45"/>
<circle cx="521.3" cy="843.0" r="1.45"/>
<circle cx="515.6" cy="843.2" r="1.45"/>
<circle cx="514.5" cy="844.3" r="1.45"/>
<circle cx="529.3" cy="842.5" r="1.45"/>
<circle cx="529.9" cy="844.7" r="1.45"/>
<circle cx="525.8" cy="844.0" r="1.45"/>
<circle cx="519.8" cy="845.5" r="1.45"/>
<circle cx="519.6" cy="846.6" r="1.45"/>
<circle cx="522.0" cy="847.7" r="1.45"/>
<circle cx="513.9" cy="847.3" r="1.45"/>
<circle cx="516.0" cy="847.3" r="1.45"/>
<circle cx="513.4" cy="849.0" r="1.45"/>
<circle cx="524.8" cy="847.0" r="1.45"/>
<circle cx="518.6" cy="849.0" r="1.45"/>
<circle cx="519.8" cy="850.2" r="1.45"/>
<circle cx="528.0" cy="849.0" r="1.45"/>
<circle cx="529.9" cy="849.8" r="1.45"/>
<circle cx="516.0" cy="853.9" r="1.45"/>
<circle cx="519.8" cy="854.5" r="1.45"/>
<circle cx="522.8" cy="854.7" r="1.45"/>
<circle cx="524.6" cy="854.7" r="1.45"/>
<circle cx="528.0" cy="854.3" r="1.45"/>
<circle cx="532.9" cy="854.1" r="1.45"/>
<circle cx="572.5" cy="709.1" r="1.45"/>
<circle cx="572.5" cy="716.7" r="1.45"/>
<circle cx="568.1" cy="720.7" r="1.45"/>
<circle cx="573.2" cy="725.5" r="1.45"/>
<circle cx="566.3" cy="732.5" r="1.45"/>
<circle cx="567.6" cy="749.2" r="1.45"/>
<circle cx="566.3" cy="753.2" r="1.45"/>
<circle cx="575.5" cy="759.4" r="1.45"/>
<circle cx="584.8" cy="762.7" r="1.45"/>
<circle cx="571.4" cy="768.1" r="1.45"/>
<circle cx="572.5" cy="771.1" r="1.45"/>
<circle cx="565.5" cy="772.0" r="1.45"/>
<circle cx="567.6" cy="772.0" r="1.45"/>
<circle cx="580.2" cy="769.4" r="1.45"/>
<circle cx="584.6" cy="778.7" r="1.45"/>
<circle cx="574.6" cy="783.9" r="1.45"/>
<circle cx="579.9" cy="786.1" r="1.45"/>
<circle cx="583.4" cy="786.1" r="1.45"/>
<circle cx="584.2" cy="788.7" r="1.45"/>
<circle cx="574.2" cy="789.9" r="1.45"/>
<circle cx="565.0" cy="794.9" r="1.45"/>
<circle cx="565.0" cy="797.3" r="1.45"/>
<circle cx="576.2" cy="794.5" r="1.45"/>
<circle cx="578.6" cy="793.3" r="1.45"/>
<circle cx="580.6" cy="794.1" r="1.45"/>
<circle cx="582.5" cy="795.3" r="1.45"/>
<circle cx="584.5" cy="793.5" r="1.45"/>
<circle cx="578.2" cy="796.9" r="1.45"/>
<circle cx="579.4" cy="798.5" r="1.45"/>
<circle cx="579.0" cy="799.7" r="1.45"/>
<circle cx="580.6" cy="801.2" r="1.45"/>
<circle cx="572.3" cy="799.1" r="1.45"/>
<circle cx="572.5" cy="801.6" r="1.45"/>
<circle cx="571.5" cy="802.8" r="1.45"/>
<circle cx="568.3" cy="810.9" r="1.45"/>
<circle cx="566.7" cy="811.9" r="1.45"/>
<circle cx="564.8" cy="813.5" r="1.45"/>
<circle cx="568.3" cy="814.7" r="1.45"/>
<circle cx="570.3" cy="815.3" r="1.45"/>
<circle cx="570.7" cy="817.0" r="1.45"/>
<circle cx="566.9" cy="817.2" r="1.45"/>
<circle cx="575.2" cy="812.7" r="1.45"/>
<circle cx="576.6" cy="816.3" r="1.45"/>
<circle cx="578.2" cy="816.3" r="1.45"/>
<circle cx="582.1" cy="811.9" r="1.45"/>
<circle cx="584.1" cy="812.7" r="1.45"/>
<circle cx="582.9" cy="817.0" r="1.45"/>
<circle cx="567.2" cy="822.3" r="1.45"/>
<circle cx="569.9" cy="824.8" r="1.45"/>
<circle cx="572.0" cy="823.8" r="1.45"/>
<circle cx="573.3" cy="824.0" r="1.45"/>
<circle cx="576.6" cy="823.2" r="1.45"/>
<circle cx="576.4" cy="825.9" r="1.45"/>
<circle cx="579.5" cy="827.6" r="1.45"/>
<circle cx="582.9" cy="829.4" r="1.45"/>
<circle cx="572.6" cy="830.3" r="1.45"/>
<circle cx="577.0" cy="830.7" r="1.45"/>
<circle cx="566.4" cy="833.8" r="1.45"/>
<circle cx="564.7" cy="836.5" r="1.45"/>
<circle cx="569.7" cy="835.3" r="1.45"/>
<circle cx="571.0" cy="835.7" r="1.45"/>
<circle cx="581.8" cy="835.9" r="1.45"/>
<circle cx="578.7" cy="836.9" r="1.45"/>
<circle cx="569.3" cy="839.4" r="1.45"/>
<circle cx="572.0" cy="838.8" r="1.45"/>
<circle cx="574.5" cy="840.3" r="1.45"/>
<circle cx="575.8" cy="841.7" r="1.45"/>
<circle cx="576.8" cy="838.8" r="1.45"/>
<circle cx="584.7" cy="844.0" r="1.45"/>
<circle cx="565.3" cy="847.8" r="1.45"/>
<circle cx="568.0" cy="847.2" r="1.45"/>
<circle cx="565.8" cy="850.3" r="1.45"/>
<circle cx="574.5" cy="846.3" r="1.45"/>
<circle cx="577.4" cy="846.7" r="1.45"/>
<circle cx="575.1" cy="849.5" r="1.45"/>
<circle cx="581.6" cy="847.0" r="1.45"/>
<circle cx="584.7" cy="852.8" r="1.45"/>
<circle cx="578.9" cy="854.3" r="1.45"/>
<circle cx="617.8" cy="666.1" r="1.45"/>
<circle cx="629.4" cy="699.5" r="1.45"/>
<circle cx="626.1" cy="710.5" r="1.45"/>
<circle cx="629.4" cy="717.5" r="1.45"/>
<circle cx="630.5" cy="740.8" r="1.45"/>
<circle cx="626.8" cy="744.1" r="1.45"/>
<circle cx="620.7" cy="750.0" r="1.45"/>
<circle cx="621.3" cy="751.8" r="1.45"/>
<circle cx="624.4" cy="750.7" r="1.45"/>
<circle cx="622.2" cy="756.6" r="1.45"/>
<circle cx="619.1" cy="761.0" r="1.45"/>
<circle cx="626.6" cy="759.9" r="1.45"/>
<circle cx="633.8" cy="760.5" r="1.45"/>
<circle cx="630.5" cy="764.9" r="1.45"/>
<circle cx="626.1" cy="767.1" r="1.45"/>
<circle cx="627.7" cy="769.1" r="1.45"/>
<circle cx="618.0" cy="770.4" r="1.45"/>
<circle cx="622.2" cy="774.6" r="1.45"/>
<circle cx="636.0" cy="775.9" r="1.45"/>
<circle cx="616.3" cy="789.1" r="1.45"/>
<circle cx="621.8" cy="789.5" r="1.45"/>
<circle cx="628.3" cy="788.0" r="1.45"/>
<circle cx="617.8" cy="793.5" r="1.45"/>
<circle cx="631.6" cy="793.5" r="1.45"/>
<circle cx="632.7" cy="793.5" r="1.45"/>
<circle cx="618.5" cy="799.4" r="1.45"/>
<circle cx="623.3" cy="797.2" r="1.45"/>
<circle cx="623.5" cy="802.2" r="1.45"/>
<circle cx="624.1" cy="804.1" r="1.45"/>
<circle cx="627.4" cy="805.9" r="1.45"/>
<circle cx="628.8" cy="807.9" r="1.45"/>
<circle cx="633.3" cy="808.7" r="1.45"/>
<circle cx="631.6" cy="811.4" r="1.45"/>
<circle cx="634.9" cy="814.2" r="1.45"/>
<circle cx="617.1" cy="817.2" r="1.45"/>
<circle cx="617.1" cy="819.7" r="1.45"/>
<circle cx="616.4" cy="822.5" r="1.45"/>
<circle cx="619.9" cy="822.9" r="1.45"/>
<circle cx="628.0" cy="818.7" r="1.45"/>
<circle cx="630.0" cy="818.5" r="1.45"/>
<circle cx="632.4" cy="817.6" r="1.45"/>
<circle cx="635.7" cy="819.1" r="1.45"/>
<circle cx="626.6" cy="822.1" r="1.45"/>
<circle cx="633.1" cy="822.3" r="1.45"/>
<circle cx="632.2" cy="824.1" r="1.45"/>
<circle cx="621.9" cy="827.0" r="1.45"/>
<circle cx="627.4" cy="828.6" r="1.45"/>
<circle cx="629.2" cy="830.4" r="1.45"/>
<circle cx="623.5" cy="830.6" r="1.45"/>
<circle cx="635.3" cy="829.0" r="1.45"/>
<circle cx="628.6" cy="832.5" r="1.45"/>
<circle cx="618.1" cy="835.3" r="1.45"/>
<circle cx="622.1" cy="835.3" r="1.45"/>
<circle cx="630.0" cy="835.9" r="1.45"/>
<circle cx="631.6" cy="835.3" r="1.45"/>
<circle cx="618.1" cy="841.6" r="1.45"/>
<circle cx="620.1" cy="841.8" r="1.45"/>
<circle cx="623.3" cy="843.2" r="1.45"/>
<circle cx="623.7" cy="844.0" r="1.45"/>
<circle cx="630.8" cy="840.6" r="1.45"/>
<circle cx="632.0" cy="842.4" r="1.45"/>
<circle cx="633.5" cy="842.0" r="1.45"/>
<circle cx="635.9" cy="843.2" r="1.45"/>
<circle cx="627.8" cy="845.8" r="1.45"/>
<circle cx="634.5" cy="846.9" r="1.45"/>
<circle cx="668.0" cy="661.1" r="1.45"/>
<circle cx="671.0" cy="659.7" r="1.45"/>
<circle cx="682.5" cy="679.5" r="1.45"/>
<circle cx="676.7" cy="705.3" r="1.45"/>
<circle cx="680.0" cy="711.1" r="1.45"/>
<circle cx="671.0" cy="717.5" r="1.45"/>
<circle cx="678.4" cy="724.2" r="1.45"/>
<circle cx="679.5" cy="722.6" r="1.45"/>
<circle cx="681.8" cy="722.2" r="1.45"/>
<circle cx="685.7" cy="739.9" r="1.45"/>
<circle cx="687.6" cy="746.4" r="1.45"/>
<circle cx="683.0" cy="747.5" r="1.45"/>
<circle cx="676.1" cy="749.1" r="1.45"/>
<circle cx="668.0" cy="764.8" r="1.45"/>
<circle cx="672.1" cy="764.8" r="1.45"/>
<circle cx="674.2" cy="767.1" r="1.45"/>
<circle cx="685.7" cy="768.0" r="1.45"/>
<circle cx="672.1" cy="775.2" r="1.45"/>
<circle cx="685.3" cy="774.9" r="1.45"/>
<circle cx="686.9" cy="780.2" r="1.45"/>
<circle cx="674.2" cy="790.2" r="1.45"/>
<circle cx="670.3" cy="794.1" r="1.45"/>
<circle cx="686.4" cy="795.7" r="1.45"/>
<circle cx="684.1" cy="798.7" r="1.45"/>
<circle cx="683.0" cy="802.1" r="1.45"/>
<circle cx="676.1" cy="806.3" r="1.45"/>
<circle cx="677.9" cy="808.6" r="1.45"/>
<circle cx="685.7" cy="808.6" r="1.45"/>
<circle cx="678.4" cy="812.5" r="1.45"/>
<circle cx="669.6" cy="816.0" r="1.45"/>
<circle cx="668.0" cy="819.4" r="1.45"/>
<circle cx="668.2" cy="820.7" r="1.45"/>
<circle cx="678.8" cy="819.4" r="1.45"/>
<circle cx="672.8" cy="820.7" r="1.45"/>
<circle cx="686.7" cy="818.8" r="1.45"/>
<circle cx="685.7" cy="820.3" r="1.45"/>
<circle cx="673.8" cy="827.4" r="1.45"/>
<circle cx="680.9" cy="827.1" r="1.45"/>
<circle cx="681.3" cy="830.1" r="1.45"/>
<circle cx="684.4" cy="826.1" r="1.45"/>
<circle cx="669.0" cy="829.0" r="1.45"/>
<circle cx="670.9" cy="830.7" r="1.45"/>
<circle cx="674.4" cy="832.1" r="1.45"/>
<circle cx="669.8" cy="834.0" r="1.45"/>
<circle cx="669.4" cy="836.1" r="1.45"/>
<circle cx="670.3" cy="837.4" r="1.45"/>
<circle cx="672.8" cy="836.3" r="1.45"/>
<circle cx="670.7" cy="842.0" r="1.45"/>
<circle cx="674.0" cy="843.0" r="1.45"/>
<circle cx="684.9" cy="842.6" r="1.45"/>
<circle cx="686.7" cy="842.6" r="1.45"/>
<circle cx="669.0" cy="847.4" r="1.45"/>
<circle cx="670.7" cy="847.4" r="1.45"/>
<circle cx="671.7" cy="847.8" r="1.45"/>
<circle cx="670.3" cy="848.6" r="1.45"/>
<circle cx="686.7" cy="848.4" r="1.45"/>
<circle cx="682.1" cy="849.5" r="1.45"/>
</g>
<rect x="81.3" y="476.5" width="627.10" height="396.35" fill="none" stroke="#777" stroke-width="1.1"/>
<line x1="78.5" x2="81.3" y1="856.10" y2="856.10" stroke="#555" stroke-width="1"/>
<text x="76.6" y="860.70" font-size="11.1" text-anchor="end" fill="#1a1a1a">0</text>
<line x1="78.5" x2="81.3" y1="784.14" y2="784.14" stroke="#555" stroke-width="1"/>
<text x="76.6" y="788.74" font-size="11.1" text-anchor="end" fill="#1a1a1a">100 000</text>
<line x1="78.5" x2="81.3" y1="712.18" y2="712.18" stroke="#555" stroke-width="1"/>
<text x="76.6" y="716.78" font-size="11.1" text-anchor="end" fill="#1a1a1a">200 000</text>
<line x1="78.5" x2="81.3" y1="640.22" y2="640.22" stroke="#555" stroke-width="1"/>
<text x="76.6" y="644.82" font-size="11.1" text-anchor="end" fill="#1a1a1a">300 000</text>
<line x1="78.5" x2="81.3" y1="568.26" y2="568.26" stroke="#555" stroke-width="1"/>
<text x="76.6" y="572.86" font-size="11.1" text-anchor="end" fill="#1a1a1a">400 000</text>
<line x1="78.5" x2="81.3" y1="496.30" y2="496.30" stroke="#555" stroke-width="1"/>
<text x="76.6" y="500.90" font-size="11.1" text-anchor="end" fill="#1a1a1a">500 000</text>
<line x1="111.60" x2="111.60" y1="872.85" y2="875.45" stroke="#555" stroke-width="1"/>
<text x="111.60" y="885.45" font-size="11.1" text-anchor="middle" fill="#1a1a1a">13</text>
<line x1="163.03" x2="163.03" y1="872.85" y2="875.45" stroke="#555" stroke-width="1"/>
<text x="163.03" y="885.45" font-size="11.1" text-anchor="middle" fill="#1a1a1a">14</text>
<line x1="214.46" x2="214.46" y1="872.85" y2="875.45" stroke="#555" stroke-width="1"/>
<text x="214.46" y="885.45" font-size="11.1" text-anchor="middle" fill="#1a1a1a">15</text>
<line x1="265.89" x2="265.89" y1="872.85" y2="875.45" stroke="#555" stroke-width="1"/>
<text x="265.89" y="885.45" font-size="11.1" text-anchor="middle" fill="#1a1a1a">16</text>
<line x1="317.32" x2="317.32" y1="872.85" y2="875.45" stroke="#555" stroke-width="1"/>
<text x="317.32" y="885.45" font-size="11.1" text-anchor="middle" fill="#1a1a1a">17</text>
<line x1="368.75" x2="368.75" y1="872.85" y2="875.45" stroke="#555" stroke-width="1"/>
<text x="368.75" y="885.45" font-size="11.1" text-anchor="middle" fill="#1a1a1a">18</text>
<line x1="420.18" x2="420.18" y1="872.85" y2="875.45" stroke="#555" stroke-width="1"/>
<text x="420.18" y="885.45" font-size="11.1" text-anchor="middle" fill="#1a1a1a">19</text>
<line x1="471.61" x2="471.61" y1="872.85" y2="875.45" stroke="#555" stroke-width="1"/>
<text x="471.61" y="885.45" font-size="11.1" text-anchor="middle" fill="#1a1a1a">20</text>
<line x1="523.04" x2="523.04" y1="872.85" y2="875.45" stroke="#555" stroke-width="1"/>
<text x="523.04" y="885.45" font-size="11.1" text-anchor="middle" fill="#1a1a1a">21</text>
<line x1="574.47" x2="574.47" y1="872.85" y2="875.45" stroke="#555" stroke-width="1"/>
<text x="574.47" y="885.45" font-size="11.1" text-anchor="middle" fill="#1a1a1a">22</text>
<line x1="625.90" x2="625.90" y1="872.85" y2="875.45" stroke="#555" stroke-width="1"/>
<text x="625.90" y="885.45" font-size="11.1" text-anchor="middle" fill="#1a1a1a">23</text>
<line x1="677.33" x2="677.33" y1="872.85" y2="875.45" stroke="#555" stroke-width="1"/>
<text x="677.33" y="885.45" font-size="11.1" text-anchor="middle" fill="#1a1a1a">24</text>
<text x="394.85" y="905.75" font-size="15.4" text-anchor="middle" fill="#000">Plate</text>
<text transform="translate(27.0 674.67) rotate(-90)" font-size="15.4" text-anchor="middle" fill="#000">Read counts per sample</text>
<text x="0" y="473.20" font-size="12" font-weight="bold" fill="#000">(b)</text>
</svg></body></html>
